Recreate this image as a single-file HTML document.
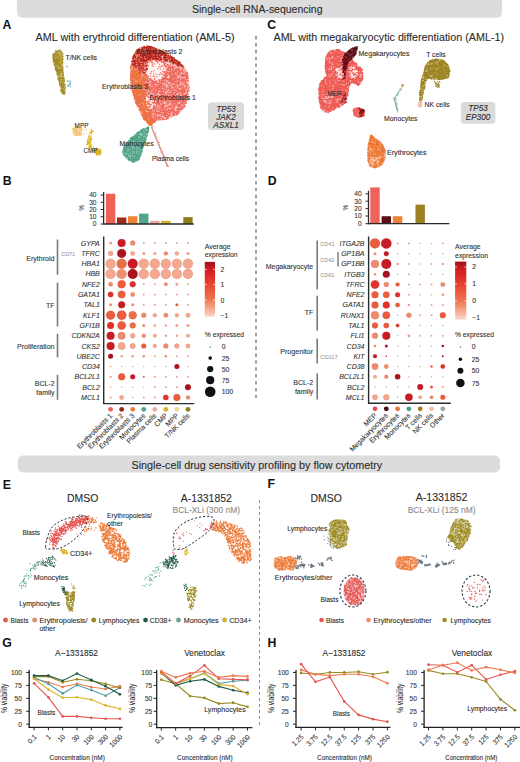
<!DOCTYPE html><html><head><meta charset="utf-8"><title>Figure</title><style>html,body{margin:0;padding:0;background:#fff;width:520px;height:762px;overflow:hidden}svg{display:block}text{font-family:"Liberation Sans",sans-serif}</style></head><body><svg width="520" height="762" viewBox="0 0 520 762" font-family='"Liberation Sans", sans-serif' fill="#2b2b2b"><rect x="0.00" y="0.00" width="520.00" height="762.00" fill="#ffffff" /><rect x="17.00" y="-6.00" width="485.00" height="23.80" fill="#dcdcdc" rx="5" /><text x="192.00" y="12.67" font-size="10.2" textLength="130.50" lengthAdjust="spacingAndGlyphs" stroke="#2b2b2b" stroke-width="0.1">Single-cell RNA-sequencing</text><rect x="18.00" y="455.50" width="482.00" height="17.00" fill="#dcdcdc" rx="5" /><text x="131.50" y="468.97" font-size="10.2" textLength="250.70" lengthAdjust="spacingAndGlyphs" stroke="#2b2b2b" stroke-width="0.1">Single-cell drug sensitivity profiling by flow cytometry</text><text x="2.40" y="29.10" font-size="12.3" fill="#111" font-weight="bold">A</text><text x="267.20" y="28.90" font-size="12.3" fill="#111" font-weight="bold">C</text><text x="2.80" y="185.10" font-size="12.3" fill="#111" font-weight="bold">B</text><text x="267.80" y="185.10" font-size="12.3" fill="#111" font-weight="bold">D</text><text x="2.80" y="488.80" font-size="12.3" fill="#111" font-weight="bold">E</text><text x="267.60" y="488.10" font-size="12.3" fill="#111" font-weight="bold">F</text><text x="2.20" y="646.90" font-size="12.3" fill="#111" font-weight="bold">G</text><text x="267.40" y="646.80" font-size="12.3" fill="#111" font-weight="bold">H</text><line x1="256.00" y1="36.00" x2="256.00" y2="398.00" stroke="#9a9a9a" stroke-width="1.8" stroke-dasharray="3.5 3.4"/><line x1="259.50" y1="500.00" x2="259.50" y2="727.00" stroke="#8a8a8a" stroke-width="1" stroke-dasharray="3 3"/><text x="35.60" y="41.22" font-size="10.6" textLength="199.00" lengthAdjust="spacingAndGlyphs" stroke="#2b2b2b" stroke-width="0.1">AML with erythroid differentiation (AML-5)</text><text x="273.50" y="41.02" font-size="10.6" textLength="230.50" lengthAdjust="spacingAndGlyphs" stroke="#2b2b2b" stroke-width="0.1">AML with megakaryocytic differentiation (AML-1)</text><path d="M60.0 49.5C61.3 50.0 63.0 51.9 63.5 54.0C64.0 56.1 63.0 59.0 63.0 62.0C63.0 65.0 63.2 68.7 63.5 72.0C63.8 75.3 64.6 79.0 65.0 82.0C65.4 85.0 66.1 87.9 66.0 90.0C65.9 92.1 65.2 94.0 64.5 94.5C63.8 95.0 62.5 95.1 61.5 93.0C60.5 90.9 59.5 85.8 58.5 82.0C57.5 78.2 56.4 73.5 55.5 70.0C54.6 66.5 53.5 63.6 53.0 61.0C52.5 58.4 52.1 56.2 52.5 54.5C52.9 52.8 54.2 51.8 55.5 51.0C56.8 50.2 58.7 49.0 60.0 49.5Z" fill="#9d851c" opacity="0.4"/><path d="M56.9 56.3h0M61.3 52.8h0M59.7 66.0h0M53.4 53.6h0M54.2 59.5h0M60.3 67.4h0M54.4 54.8h0M61.1 66.3h0M59.9 52.3h0M53.3 58.8h0M61.7 68.7h0M58.6 63.0h0M63.2 81.0h0M62.3 62.5h0M62.8 75.3h0M61.9 76.2h0M60.3 70.0h0M63.8 92.0h0M58.9 79.4h0M54.8 54.8h0M54.2 60.6h0M63.6 88.4h0M56.3 68.2h0M54.9 59.9h0M60.5 61.3h0M57.5 75.0h0M59.5 77.3h0M61.6 51.9h0M64.6 84.6h0M64.3 85.4h0M57.8 67.5h0M55.3 56.8h0M57.1 51.9h0M60.8 56.2h0M55.9 65.1h0M57.4 55.0h0M64.0 94.2h0M58.8 71.3h0M53.7 54.1h0M57.1 61.4h0M59.6 56.1h0M59.8 50.7h0M64.2 80.8h0M56.0 66.0h0M59.7 84.6h0M57.0 59.5h0M63.5 93.8h0M64.0 85.8h0M63.5 82.8h0M57.3 50.8h0M55.5 59.7h0M55.2 58.7h0M60.9 90.0h0M61.3 85.5h0M64.8 84.7h0M62.6 71.0h0M62.3 57.2h0M54.2 56.3h0M64.7 85.8h0M57.2 74.2h0M55.9 62.7h0M56.0 68.4h0M57.3 70.1h0M59.3 73.4h0M59.6 50.3h0M58.4 57.7h0M62.3 74.5h0M56.9 72.8h0M60.0 84.8h0M55.9 62.0h0M62.9 72.3h0M60.1 83.7h0M60.8 72.2h0M59.4 80.7h0M58.6 73.5h0M61.9 88.9h0M53.5 60.3h0M63.1 89.9h0M61.4 55.9h0M64.4 93.0h0M57.9 71.4h0M59.5 64.8h0M55.1 63.8h0M60.0 69.3h0M60.9 72.6h0M63.1 93.2h0M53.9 61.5h0M56.2 55.3h0M60.2 81.0h0M61.8 68.6h0M61.1 85.6h0M58.6 64.8h0M56.1 55.3h0M59.6 60.2h0M54.0 56.8h0M53.2 58.6h0M56.7 63.2h0M62.8 62.5h0M59.3 57.5h0M62.4 74.3h0M57.8 72.3h0M62.0 78.1h0M58.0 65.1h0M53.2 55.3h0M56.0 56.8h0M64.3 79.7h0M56.3 60.4h0M56.5 70.2h0M56.7 65.5h0M58.9 72.1h0M56.6 60.0h0M60.4 73.3h0M62.6 79.1h0M62.2 89.1h0M57.8 64.2h0M62.3 78.4h0M62.4 86.0h0M63.4 86.7h0M61.7 80.7h0M60.0 77.7h0M61.0 80.1h0M63.3 83.2h0M59.3 73.6h0M61.4 52.5h0M62.4 60.8h0M53.5 61.5h0M62.3 58.7h0M62.5 93.4h0M59.2 66.7h0M59.0 80.3h0M62.9 77.3h0M61.2 53.0h0M54.5 60.9h0M62.5 63.2h0M60.2 50.1h0M53.3 61.6h0M61.6 80.6h0M61.6 62.6h0M59.5 70.4h0M58.8 54.8h0M63.6 93.1h0M58.6 61.6h0M64.5 81.2h0M59.1 50.6h0M58.6 63.1h0M54.4 65.0h0M57.5 67.2h0M57.4 68.8h0M56.2 51.7h0M55.9 61.5h0M59.4 58.0h0M64.4 86.0h0M61.0 90.6h0M62.4 69.8h0M62.7 78.5h0M56.4 51.7h0M58.9 65.0h0M61.4 63.0h0M60.0 67.2h0M54.8 56.8h0M59.2 59.4h0M58.6 55.8h0M55.1 53.6h0M57.1 53.6h0M55.7 61.1h0M62.6 68.1h0M58.1 73.1h0M57.6 64.7h0M53.3 62.0h0M59.3 77.8h0M56.2 60.7h0M57.9 69.6h0M65.4 87.7h0M63.6 88.0h0M54.0 56.4h0M59.6 80.2h0M61.2 83.9h0M58.7 74.3h0M61.2 63.2h0M54.2 60.8h0M61.1 80.9h0M59.6 75.7h0M57.7 59.6h0M56.6 70.2h0M55.7 60.6h0M59.2 79.9h0M58.2 61.1h0M61.5 91.1h0M55.6 51.0h0M57.1 68.4h0M61.7 58.4h0M63.3 82.8h0M59.3 58.7h0M59.2 57.9h0M55.5 68.3h0M61.5 92.2h0M64.6 89.3h0M61.5 66.5h0M57.5 64.4h0M56.3 65.3h0M55.1 65.9h0M62.6 89.9h0M57.1 61.8h0M56.8 61.9h0M57.7 60.8h0M58.3 71.7h0M63.3 82.7h0M63.6 84.3h0M60.7 64.3h0M56.8 65.8h0M55.8 52.4h0M64.4 94.0h0M56.1 53.3h0M62.1 69.6h0M55.7 68.3h0M60.9 79.8h0M62.6 87.6h0M61.5 55.0h0M60.2 66.3h0M62.5 58.5h0M55.8 60.5h0M60.3 64.2h0M59.3 59.9h0M63.4 78.9h0M63.8 90.6h0M54.1 58.0h0M60.5 77.4h0M55.4 66.1h0M54.4 58.7h0M61.3 58.7h0M61.7 57.8h0M56.7 58.7h0M63.2 74.2h0M53.4 54.1h0M57.8 74.3h0M61.1 53.6h0M58.0 62.2h0M57.3 68.2h0M57.4 58.4h0M62.3 58.7h0M58.7 56.8h0M61.1 90.4h0M57.5 72.2h0M54.5 62.2h0M63.4 93.0h0M55.2 55.2h0M59.0 51.9h0M63.1 59.5h0M55.4 67.5h0M59.5 66.8h0M54.2 60.6h0M62.3 89.9h0M60.6 74.3h0M61.0 63.3h0M58.2 75.7h0M58.2 79.1h0M58.5 69.2h0M59.1 60.1h0M62.8 84.6h0M58.7 57.6h0M58.9 54.3h0M59.4 51.3h0M61.1 53.2h0M62.4 84.5h0M59.4 51.9h0M59.3 66.5h0M62.4 86.2h0M63.1 91.4h0M62.7 56.6h0M55.3 61.3h0M59.3 63.9h0M53.0 57.7h0M61.7 89.8h0M61.1 65.7h0M61.0 67.2h0M58.5 57.5h0M60.4 79.4h0M53.0 56.2h0M60.8 69.0h0M54.3 59.7h0M60.5 58.7h0M60.9 70.9h0M55.8 56.2h0M64.3 84.7h0M57.9 61.4h0M60.1 65.3h0M61.2 69.5h0M58.0 60.2h0M59.3 78.4h0M56.7 63.0h0M63.1 81.7h0M62.6 70.4h0M62.5 69.9h0M55.6 54.2h0M55.6 51.2h0M61.9 87.5h0M62.1 61.5h0M60.0 69.1h0M63.1 73.0h0M56.0 60.1h0M62.5 92.0h0M62.6 64.2h0M61.0 80.7h0M61.9 88.1h0M60.2 63.3h0M57.2 55.9h0M61.9 78.0h0M61.9 82.7h0M63.6 89.6h0M64.8 92.0h0M53.9 58.8h0M63.9 86.0h0M61.1 86.6h0M61.0 62.4h0M53.8 53.9h0M62.7 58.7h0M56.8 68.6h0M57.5 63.9h0M64.0 77.3h0M59.8 59.2h0M62.8 93.5h0M56.3 59.2h0M61.9 71.9h0M61.9 84.9h0M61.0 65.5h0M57.9 67.3h0M55.3 61.3h0M55.7 70.2h0M59.7 83.5h0M62.7 78.6h0M57.2 64.2h0M61.4 82.9h0M62.9 75.6h0M55.1 63.1h0M62.0 87.5h0M54.6 56.5h0M55.8 64.2h0M59.5 56.7h0M56.9 58.0h0M62.4 69.1h0M53.9 58.8h0M57.7 51.0h0M61.9 72.0h0M61.0 70.3h0M60.2 83.2h0M58.2 59.8h0M62.2 89.1h0M62.9 81.0h0M64.0 80.1h0M61.2 69.9h0M63.1 81.6h0M61.0 60.8h0M58.2 70.0h0M60.9 67.9h0M61.6 91.4h0M63.0 67.0h0M59.8 81.8h0M59.4 78.3h0M57.3 52.0h0M56.2 67.5h0M57.3 61.4h0M57.8 59.0h0M63.4 78.0h0M58.8 74.8h0M63.6 86.2h0M58.8 62.7h0M59.9 55.1h0M57.6 60.9h0M58.3 57.9h0M56.3 60.5h0M56.6 71.1h0M58.3 78.2h0M61.4 65.8h0M65.0 88.0h0M64.7 84.8h0M61.4 60.8h0M53.9 55.9h0M57.2 56.4h0M64.7 85.1h0M60.7 84.7h0M61.5 89.7h0M63.1 87.2h0M59.7 82.9h0M60.0 61.4h0M55.7 55.8h0M59.2 52.1h0M58.8 56.0h0M59.1 71.9h0M58.8 74.8h0M61.5 87.3h0M57.6 68.3h0M61.1 78.1h0M61.7 91.4h0M59.4 71.3h0M62.2 77.6h0M57.4 70.9h0M59.6 84.2h0M55.3 69.1h0M58.2 74.4h0M59.3 61.7h0M61.3 85.1h0M57.0 63.8h0M61.1 84.8h0M61.4 85.0h0M60.8 77.7h0M61.9 76.3h0M61.7 59.1h0M61.5 70.1h0M62.8 54.1h0M63.0 90.6h0M61.4 66.1h0M63.6 84.9h0M60.1 61.1h0M56.6 68.5h0M56.8 68.9h0M61.2 91.5h0M53.0 54.8h0M63.4 75.4h0M58.1 54.1h0M61.2 59.1h0" stroke="#9d851c" stroke-width="1.3" stroke-linecap="round" fill="none"/><path d="M62.2 60.4h0M62.4 57.9h0M62.1 88.0h0M62.4 53.3h0M61.0 81.4h0M59.1 52.2h0M57.5 75.4h0M58.4 80.0h0M61.0 68.3h0M65.3 84.8h0M60.2 62.7h0M62.0 86.7h0M60.6 63.4h0M58.2 75.9h0M63.5 89.4h0M63.5 88.5h0M60.2 61.8h0M64.0 85.8h0M61.7 90.6h0M57.2 53.3h0M60.0 85.4h0M60.7 80.0h0M58.8 58.8h0M63.2 70.2h0M62.9 60.0h0M58.9 76.0h0M55.1 58.2h0M57.4 74.9h0M57.9 72.8h0M63.1 56.5h0M60.6 65.0h0M59.5 50.4h0M60.2 61.3h0M63.0 68.7h0M63.6 92.9h0M55.9 51.2h0M55.2 57.6h0M60.6 67.4h0M61.5 67.2h0M58.6 56.7h0M55.5 51.2h0M56.0 65.3h0M64.7 90.2h0M63.1 81.4h0M53.3 56.0h0M62.7 91.8h0M61.6 62.9h0M60.5 83.6h0M53.9 64.1h0M56.0 55.1h0M59.0 57.1h0M55.7 55.9h0M62.2 58.3h0M64.2 89.5h0M63.9 77.8h0M58.6 64.8h0M61.0 55.9h0M55.5 52.1h0M62.1 74.4h0M56.1 68.0h0M54.6 61.7h0M61.5 59.0h0M58.9 62.4h0M56.0 58.6h0M53.8 62.5h0M62.3 62.7h0M60.2 55.7h0M62.1 58.4h0M53.6 53.4h0M60.7 71.8h0" stroke="#c9ac38" stroke-width="1.1" stroke-linecap="round" fill="none"/><path d="M68.1 81.6h0M69.4 85.7h0M70.2 84.7h0M67.8 80.5h0M69.9 83.3h0M69.9 80.4h0M70.2 82.7h0M70.4 86.9h0M70.6 83.8h0M70.5 82.1h0M67.7 86.7h0M68.5 81.3h0M68.5 84.8h0M68.8 84.1h0M67.5 85.7h0M70.3 86.9h0M68.3 85.7h0M68.5 86.0h0M69.1 84.2h0M70.9 81.8h0M67.7 80.8h0M68.0 86.5h0M67.1 80.8h0M69.8 81.6h0M69.3 84.2h0" stroke="#7fb3c8" stroke-width="1.1" stroke-linecap="round" fill="none"/><circle cx="67.00" cy="66.50" r="1.20" fill="#f0c8b0" /><path d="M141.0 47.0C143.3 46.2 146.8 45.5 150.0 46.0C153.2 46.5 156.5 48.3 160.0 50.0C163.5 51.7 167.5 53.8 171.0 56.0C174.5 58.2 178.2 60.3 181.0 63.0C183.8 65.7 186.1 68.3 187.5 72.0C188.9 75.7 189.2 81.0 189.5 85.0C189.8 89.0 189.8 92.3 189.0 96.0C188.2 99.7 187.0 103.8 185.0 107.0C183.0 110.2 180.2 112.9 177.0 115.0C173.8 117.1 169.3 118.5 166.0 119.5C162.7 120.5 159.5 120.0 157.0 121.0C154.5 122.0 152.5 125.0 151.0 125.5C149.5 126.0 149.2 124.9 148.0 124.0C146.8 123.1 145.4 122.0 144.0 120.0C142.6 118.0 141.1 115.3 139.5 112.0C137.9 108.7 135.8 103.7 134.5 100.0C133.2 96.3 132.2 93.3 131.5 90.0C130.8 86.7 130.7 83.8 130.5 80.0C130.3 76.2 130.2 70.7 130.5 67.0C130.8 63.3 131.1 60.7 132.0 58.0C132.9 55.3 134.5 52.8 136.0 51.0C137.5 49.2 138.7 47.8 141.0 47.0Z" fill="#ef6458" opacity="0.33"/><path d="M146.0 64.0C147.2 61.7 151.2 61.2 154.0 61.0C156.8 60.8 161.0 61.5 163.0 63.0C165.0 64.5 166.2 67.3 166.0 70.0C165.8 72.7 164.2 77.2 162.0 79.0C159.8 80.8 155.5 81.7 153.0 81.0C150.5 80.3 148.2 77.8 147.0 75.0C145.8 72.2 144.8 66.3 146.0 64.0Z" fill="#ffffff" opacity="0.75"/><path d="M145.0 95.0C145.8 92.8 149.5 93.0 151.0 94.0C152.5 95.0 153.8 98.5 154.0 101.0C154.2 103.5 153.3 108.0 152.0 109.0C150.7 110.0 147.2 109.3 146.0 107.0C144.8 104.7 144.2 97.2 145.0 95.0Z" fill="#ffffff" opacity="0.55"/><path d="M181.8 103.0h0M159.6 85.8h0M147.0 55.7h0M154.4 56.9h0M165.4 114.5h0M139.2 91.5h0M174.5 59.1h0M176.3 72.9h0M144.7 72.6h0M178.6 113.4h0M133.7 87.1h0M145.2 79.6h0M167.8 75.0h0M161.8 51.5h0M156.0 86.1h0M185.8 96.3h0M168.4 67.1h0M170.5 67.7h0M162.5 119.5h0M167.2 65.9h0M161.2 80.5h0M148.5 97.5h0M162.0 57.8h0M137.8 56.4h0M147.8 78.3h0M147.5 65.4h0M162.7 112.8h0M166.5 91.3h0M157.7 89.6h0M166.7 83.3h0M131.2 74.0h0M181.4 65.0h0M163.3 85.1h0M147.9 107.4h0M156.5 50.9h0M153.4 81.0h0M174.1 58.3h0M166.9 113.6h0M179.0 87.2h0M174.1 105.1h0M175.3 83.8h0M176.8 102.3h0M175.7 92.6h0M164.2 79.2h0M166.3 76.2h0M157.2 82.4h0M173.2 69.3h0M153.6 90.2h0M180.6 85.7h0M156.7 60.6h0M148.4 57.5h0M164.5 92.2h0M149.6 113.0h0M142.6 79.9h0M133.3 90.9h0M159.8 119.2h0M176.1 88.8h0M189.4 87.1h0M161.0 100.5h0M151.2 121.4h0M170.4 87.8h0M136.3 75.8h0M154.2 90.6h0M164.4 115.9h0M187.4 84.7h0M156.5 95.7h0M161.8 110.9h0M140.6 71.3h0M160.7 54.8h0M183.3 100.8h0M182.9 79.5h0M139.7 69.0h0M160.7 86.1h0M141.6 60.5h0M167.7 93.9h0M151.3 125.0h0M154.8 108.6h0M148.6 100.9h0M148.5 113.0h0M165.1 99.1h0M142.1 85.6h0M164.4 78.7h0M137.7 58.5h0M136.4 59.6h0M161.3 111.4h0M166.7 110.1h0M176.0 71.7h0M172.7 74.1h0M140.5 67.2h0M164.9 73.7h0M157.0 76.7h0M183.0 92.3h0M187.1 81.0h0M167.1 65.8h0M180.9 71.0h0M148.4 93.9h0M187.1 85.4h0M153.5 103.1h0M143.6 70.6h0M182.1 84.5h0M177.3 65.3h0M151.6 60.8h0M163.6 55.1h0M134.4 55.8h0M179.2 73.9h0M145.0 61.2h0M147.2 64.9h0M169.7 73.1h0M139.7 102.1h0M136.0 67.4h0M156.7 112.5h0M186.6 86.1h0M143.9 82.0h0M138.2 102.2h0M145.9 117.5h0M165.2 75.3h0M145.0 94.4h0M143.0 115.4h0M137.7 86.8h0M153.2 98.3h0M135.6 60.1h0M180.7 71.5h0M148.0 51.2h0M172.8 68.4h0M154.3 118.3h0M146.8 48.4h0M170.6 98.8h0M151.3 96.0h0M173.8 102.7h0M140.1 61.7h0M148.4 76.3h0M148.8 96.7h0M180.0 91.3h0M172.8 66.2h0M170.9 73.7h0M176.3 68.8h0M144.9 54.8h0M171.5 77.3h0M174.6 111.9h0M147.1 53.1h0M186.3 79.7h0M185.4 101.0h0M174.1 112.0h0M167.6 82.0h0M155.8 86.7h0M172.0 110.1h0M145.9 89.4h0M187.7 96.7h0M162.6 65.9h0M148.8 56.9h0M172.2 99.3h0M144.5 65.2h0M160.9 81.4h0M185.7 73.9h0M148.2 116.3h0M138.9 90.8h0M150.2 110.8h0M162.8 106.5h0M140.5 99.0h0M165.8 82.7h0M175.7 112.1h0M137.3 69.0h0M151.8 62.4h0M147.1 61.7h0M171.9 81.6h0M137.2 71.8h0M188.3 90.8h0M136.9 84.9h0M156.1 61.1h0M184.8 97.2h0M169.0 66.0h0M145.0 57.0h0M180.0 69.6h0M141.5 96.7h0M140.4 108.4h0M179.5 105.0h0M149.8 60.7h0M179.2 71.5h0M152.2 89.8h0M152.3 112.1h0M144.6 49.3h0M163.9 95.9h0M178.9 102.1h0M159.7 85.7h0M139.8 69.8h0M171.1 59.0h0M156.4 61.2h0M176.9 79.8h0M169.8 111.7h0M147.9 81.2h0M135.5 71.7h0M167.1 110.5h0M166.4 69.6h0M158.9 97.5h0M132.1 61.0h0M170.5 81.6h0M135.5 98.5h0M152.4 92.2h0M155.1 88.1h0M163.8 77.5h0M137.2 60.3h0M183.0 89.6h0M145.5 53.5h0M137.2 86.8h0M154.6 51.8h0M156.4 114.6h0M163.0 102.8h0M153.6 59.6h0M187.1 90.8h0M144.5 75.6h0M143.1 69.8h0M172.2 79.9h0M182.9 95.4h0M182.0 90.8h0M140.4 105.3h0M166.1 53.9h0M162.9 109.8h0M170.3 66.2h0M141.9 81.5h0M180.0 92.2h0M141.4 90.1h0M162.3 100.8h0M131.3 73.2h0M139.4 85.9h0M182.0 109.6h0M132.6 60.5h0M178.8 100.0h0M153.7 83.8h0M153.7 115.4h0M140.5 74.7h0M158.1 91.9h0M153.4 74.1h0M164.7 72.5h0M133.2 57.6h0M170.1 67.7h0M146.6 85.8h0M146.0 91.2h0M163.6 107.3h0M182.0 107.6h0M167.9 96.5h0M170.7 70.2h0M175.5 104.8h0M160.5 96.5h0M151.2 89.8h0M154.5 50.8h0M144.4 73.8h0M181.9 82.0h0M156.8 91.2h0M148.3 59.4h0M134.4 70.0h0M185.8 73.1h0M184.9 92.4h0M135.2 60.2h0M159.1 117.5h0M146.8 66.5h0M140.2 67.3h0M172.1 63.4h0M142.3 93.9h0M181.5 97.5h0M142.1 104.3h0M187.3 93.8h0M182.2 73.1h0M138.6 61.0h0M162.2 115.6h0M143.0 72.0h0M174.7 97.6h0M154.4 100.0h0M150.4 50.6h0M154.9 49.6h0M167.5 72.6h0M159.7 93.5h0M145.7 82.8h0M133.8 94.8h0M173.2 72.2h0M136.0 58.4h0M138.9 107.0h0M155.5 88.8h0M165.2 90.1h0M169.3 93.8h0M150.0 104.9h0M172.5 106.7h0M176.3 70.6h0M131.0 83.8h0M169.2 107.5h0M151.9 124.7h0M144.0 106.1h0M138.4 50.8h0M160.1 90.1h0M152.1 57.9h0M141.0 104.7h0M159.9 96.6h0M150.8 109.6h0M136.9 104.3h0M134.4 97.3h0M154.2 114.7h0M134.0 90.9h0M154.7 119.1h0M186.3 95.9h0M143.7 66.0h0M146.0 80.5h0M144.2 62.2h0M175.3 97.1h0M143.3 91.3h0M181.8 67.2h0M174.8 111.4h0M170.8 93.5h0M157.2 92.0h0M182.6 74.6h0M176.5 114.6h0M141.3 114.7h0M140.5 100.3h0M135.8 73.0h0M184.7 103.0h0M132.4 64.7h0M177.2 100.8h0M132.7 86.1h0M144.2 80.2h0M159.3 56.8h0M155.8 60.2h0M170.9 57.8h0M174.1 85.8h0M137.1 74.1h0M159.8 119.0h0M182.6 104.1h0M146.6 60.1h0M146.1 51.5h0M133.0 86.4h0M154.6 90.3h0M151.9 46.8h0M171.1 97.9h0M162.6 89.6h0M182.1 103.1h0M187.9 76.8h0M145.5 94.6h0M149.1 123.2h0M180.9 86.6h0M144.3 96.0h0M174.4 76.1h0M172.5 77.3h0M161.5 94.7h0M170.5 71.6h0M167.6 89.2h0M143.7 94.7h0M146.1 118.2h0M158.4 103.4h0M161.3 83.9h0M143.6 57.3h0M185.2 88.0h0M161.4 87.9h0M178.5 65.0h0M179.0 82.6h0M168.3 111.8h0M133.1 76.3h0M179.6 111.0h0M137.8 58.2h0M145.3 54.2h0M151.5 109.9h0M161.3 82.0h0M135.7 77.4h0M157.0 84.0h0M177.6 106.3h0M139.3 100.1h0M152.1 87.4h0M144.5 75.5h0M150.6 76.3h0M142.4 91.4h0M133.9 60.2h0M172.9 67.8h0M135.9 96.6h0M155.5 109.0h0M167.0 75.5h0M133.1 81.2h0M152.2 102.6h0M154.6 97.5h0M178.3 74.0h0M153.2 92.0h0M152.9 87.8h0M159.8 117.7h0M165.5 82.8h0M157.8 112.7h0M155.0 83.7h0M183.0 81.0h0M159.5 86.7h0M179.2 99.3h0M174.2 77.9h0M163.2 107.2h0M143.5 52.1h0M170.7 102.5h0M159.0 50.4h0M171.3 79.2h0M139.1 72.6h0M146.0 70.9h0M145.5 114.3h0M163.3 86.6h0M155.3 50.1h0M148.5 114.9h0M177.8 114.1h0M145.7 62.1h0M133.6 88.7h0M152.6 82.9h0M159.4 92.4h0M152.1 109.7h0M149.0 88.4h0M154.6 90.9h0M165.4 82.1h0M185.7 81.4h0M156.1 96.8h0M134.7 93.4h0M163.6 109.7h0M159.9 99.6h0M170.3 69.4h0M143.0 112.6h0M142.7 54.0h0M186.6 79.0h0M169.4 66.5h0M183.9 100.5h0M139.6 50.5h0M179.8 69.3h0M144.2 92.3h0M149.3 90.6h0M149.6 112.9h0M139.5 109.6h0M132.4 76.2h0M136.0 82.9h0M173.5 80.2h0M185.9 87.8h0M159.8 119.9h0M136.0 84.5h0M181.5 93.5h0M162.4 53.0h0M138.7 67.6h0M143.9 119.5h0M187.6 73.4h0M186.2 98.2h0M133.5 72.5h0M141.1 108.6h0M148.1 51.5h0M163.5 53.6h0M163.0 108.6h0M165.6 82.7h0M132.5 86.8h0M136.2 97.4h0M138.3 92.0h0M140.2 59.5h0M186.1 72.4h0M158.8 57.8h0M137.4 85.4h0M162.1 55.3h0M158.1 59.0h0M162.1 86.3h0M142.5 56.1h0M144.7 115.3h0M160.1 116.8h0M159.3 108.9h0M164.2 100.8h0M144.0 105.6h0M139.6 67.0h0M132.3 77.3h0M135.5 92.0h0M144.3 93.3h0M176.8 102.5h0M134.2 65.5h0M171.3 110.8h0M150.7 110.4h0M157.7 119.2h0M154.8 78.4h0M144.9 104.3h0M170.5 58.0h0M150.8 57.2h0M142.2 63.5h0M150.0 123.6h0M158.8 85.5h0M174.8 96.6h0M142.2 95.7h0M180.4 108.5h0M136.0 103.0h0M151.1 58.9h0M187.5 99.5h0M183.9 105.2h0M179.6 109.8h0M165.3 80.6h0M179.2 108.4h0M181.9 69.8h0M187.2 88.3h0M145.4 112.7h0M144.2 61.7h0M184.1 100.5h0M172.4 77.2h0M176.7 109.1h0M179.2 78.3h0M135.6 97.9h0M179.8 73.0h0M165.6 112.5h0M155.2 94.1h0M151.4 113.1h0M167.0 69.2h0M135.7 67.5h0M171.9 81.1h0M169.5 110.2h0M137.6 100.3h0M141.4 67.6h0M187.0 74.8h0M143.7 116.7h0M166.5 117.1h0M153.8 85.7h0M186.9 86.3h0M157.3 110.3h0M145.3 74.0h0M136.5 89.9h0M181.4 86.9h0M152.7 119.8h0M183.2 99.0h0M135.0 95.6h0M152.7 87.5h0M170.8 90.3h0M156.9 105.7h0M183.1 103.9h0M149.7 56.9h0M139.0 92.7h0M153.6 105.4h0M168.3 68.3h0M175.5 69.1h0M162.6 79.4h0M188.2 97.6h0M178.0 99.8h0M152.9 122.6h0M172.4 100.9h0M146.9 58.9h0M164.4 111.7h0M177.3 73.6h0M138.8 87.0h0M174.1 59.6h0M148.9 50.3h0M148.1 76.4h0M141.5 70.6h0M149.4 80.8h0M136.9 66.7h0M146.2 62.2h0M184.1 81.8h0M179.9 96.7h0M176.4 71.0h0M139.5 106.2h0M158.2 90.4h0M170.1 105.8h0M146.7 74.8h0M184.6 88.1h0M147.5 96.1h0M179.3 91.0h0M151.4 120.7h0M146.2 65.3h0M162.9 105.9h0M170.5 78.8h0M167.9 101.0h0M176.2 77.4h0M151.1 60.8h0M181.9 88.3h0M161.3 99.2h0M150.5 51.2h0M154.9 85.9h0M180.8 99.1h0M164.6 78.1h0M177.0 112.7h0M139.4 99.4h0M175.0 85.8h0M174.3 111.3h0M168.8 115.9h0M138.2 102.0h0M172.0 94.7h0M146.7 51.4h0M166.1 111.5h0M146.6 62.9h0M143.7 53.5h0M177.8 74.6h0M180.0 71.8h0M138.7 67.9h0M134.0 81.4h0M163.2 110.2h0M137.0 63.8h0M167.6 73.0h0M150.0 91.2h0M143.4 109.1h0M142.8 112.7h0M178.2 88.7h0M132.2 86.1h0M155.5 51.0h0M167.7 103.6h0M165.0 77.8h0M160.7 92.8h0M143.9 115.0h0M187.2 72.2h0M158.7 56.6h0M157.3 100.3h0M172.3 82.1h0M150.7 61.1h0M173.9 87.0h0M142.1 67.1h0M163.6 101.7h0M173.1 103.2h0M134.2 62.3h0M173.1 96.1h0M146.1 74.3h0M140.2 96.3h0M133.1 59.9h0M151.5 117.5h0M178.0 82.2h0M136.5 54.5h0M139.6 107.8h0M158.6 111.3h0M138.1 54.7h0M163.7 86.4h0M142.8 66.0h0M188.4 80.7h0M173.7 76.5h0M178.4 112.9h0M143.1 92.5h0M179.5 108.5h0M157.9 49.4h0M183.0 88.5h0M134.7 71.7h0M167.4 116.4h0M159.1 96.8h0M142.6 65.4h0M183.9 76.4h0M136.6 93.0h0M137.9 61.9h0M157.4 92.6h0M168.0 102.2h0M156.4 51.4h0M171.3 83.5h0M144.0 77.2h0M177.0 111.5h0M167.9 105.0h0M144.7 120.0h0M143.5 99.4h0M185.4 96.8h0M141.5 110.2h0M140.1 86.7h0M163.3 111.3h0M160.1 95.3h0M165.6 109.6h0M178.4 82.4h0M137.7 97.7h0M142.7 80.1h0M162.7 74.0h0M173.6 113.6h0M139.2 94.2h0M137.2 101.1h0M165.8 87.3h0M173.7 109.3h0M170.7 113.6h0M155.9 115.8h0M156.6 102.2h0M145.4 69.9h0M151.1 71.8h0M175.5 112.5h0M131.7 64.3h0M161.9 54.3h0M179.2 70.9h0M167.5 75.2h0M140.0 88.2h0M168.8 88.8h0M185.8 78.4h0M184.4 100.8h0M143.0 68.8h0M140.9 80.8h0M171.0 100.9h0M174.5 105.9h0M145.2 66.4h0M142.8 66.6h0M187.4 97.1h0M165.4 98.2h0M165.8 101.2h0M148.4 51.1h0M151.8 57.3h0M137.2 85.2h0M146.6 107.2h0M136.4 70.1h0M154.6 100.8h0M156.8 103.9h0M150.7 112.2h0M143.8 114.0h0M177.9 99.3h0M146.9 46.8h0M139.8 98.4h0M165.1 98.6h0M141.2 57.4h0M153.1 97.9h0M164.1 63.7h0M187.3 74.9h0M177.0 66.0h0M161.4 54.9h0M145.1 109.3h0M147.3 76.3h0M175.6 63.8h0M143.4 76.5h0M169.7 112.5h0M144.4 48.3h0M156.4 55.2h0M157.6 102.6h0M136.0 55.4h0M158.8 59.8h0M144.1 81.0h0M137.5 51.4h0M151.8 83.3h0M185.8 90.1h0M134.7 63.7h0M174.4 90.7h0M186.2 87.7h0M144.6 59.6h0M135.4 67.1h0M185.0 82.6h0M169.6 74.7h0M158.9 60.3h0M158.2 104.9h0M166.2 97.8h0M139.1 109.9h0M181.1 75.2h0M143.9 93.5h0M143.3 48.9h0M156.4 57.2h0M141.8 105.5h0M154.2 100.0h0M144.3 83.9h0M149.5 78.4h0M150.7 99.2h0M152.6 58.9h0M166.3 66.5h0M157.3 90.7h0M144.7 55.6h0M138.6 87.5h0M164.8 116.5h0M133.9 64.6h0M140.4 92.6h0M169.5 114.4h0M186.1 78.4h0M181.9 79.4h0M161.7 113.5h0M178.1 97.9h0M160.8 55.3h0M144.9 98.3h0M165.1 109.7h0M141.9 52.0h0M183.5 91.3h0M141.2 101.0h0M145.6 64.8h0M152.1 87.6h0M174.2 95.6h0M158.3 99.4h0M158.5 99.9h0M172.3 97.5h0M176.9 64.5h0M154.6 122.4h0M173.9 74.6h0M169.6 107.0h0M138.0 63.7h0M143.2 67.1h0M154.5 79.5h0M164.5 74.3h0M172.1 80.8h0M140.8 84.3h0M140.0 75.4h0M179.8 97.0h0M167.9 102.0h0M175.7 69.9h0M145.6 111.3h0M166.0 113.5h0M182.1 92.8h0M142.2 47.2h0M162.1 103.7h0M146.6 51.6h0M144.1 67.1h0M139.3 72.7h0M158.8 66.6h0M135.5 58.9h0M135.9 95.6h0M171.6 66.9h0M177.2 103.9h0M150.7 85.1h0M139.6 101.1h0M153.2 103.0h0M177.5 109.8h0M136.1 92.6h0M141.8 102.3h0M177.9 108.9h0M144.1 53.4h0M169.6 90.9h0M138.7 61.3h0M164.9 54.6h0M167.9 65.2h0M145.8 79.7h0M162.0 103.6h0M143.5 69.1h0M168.2 101.0h0M166.8 117.7h0M142.6 70.7h0M169.6 66.7h0M139.8 64.0h0M176.0 111.7h0M177.4 70.6h0M149.1 103.3h0M133.4 86.8h0M182.3 82.7h0M142.2 55.5h0M160.4 87.4h0M134.6 76.8h0M143.6 71.3h0M158.6 102.6h0M175.9 75.5h0M156.9 119.7h0M185.6 95.2h0M136.7 82.2h0M168.1 68.1h0M158.0 95.2h0M148.2 51.4h0M174.8 107.3h0M156.3 52.8h0M153.7 53.5h0M147.5 107.1h0M136.8 51.6h0M140.2 88.3h0M140.7 106.8h0M137.4 66.6h0M183.9 83.6h0M186.9 94.0h0M147.5 83.0h0M172.7 104.4h0M138.1 61.4h0M178.5 72.9h0M145.1 66.3h0M149.5 59.7h0M174.4 73.2h0M141.6 79.3h0M175.5 94.2h0M149.8 113.5h0M178.8 67.1h0M137.0 64.1h0M184.2 78.6h0M168.0 116.5h0M173.5 106.0h0M153.0 112.8h0M138.4 88.9h0M150.3 111.2h0M150.9 113.1h0M174.4 99.8h0M181.8 89.5h0M143.1 73.1h0M145.2 54.0h0M149.8 48.1h0M177.5 64.1h0M142.2 82.7h0M154.2 109.8h0M167.8 117.1h0M158.3 117.5h0M173.8 70.8h0M182.1 91.6h0M136.7 92.7h0M179.4 87.2h0M169.8 62.5h0M151.9 122.2h0M165.4 80.4h0M172.8 80.1h0M135.9 87.6h0M178.9 108.7h0M142.4 70.0h0M149.9 104.2h0M162.8 85.8h0M169.9 57.4h0M163.6 109.2h0M163.0 106.4h0M181.7 74.8h0M131.9 85.9h0M186.8 86.6h0M185.5 90.5h0M139.0 96.2h0M177.9 79.7h0M166.0 66.6h0M146.8 79.4h0M160.8 83.2h0M144.5 66.3h0M161.0 59.9h0M166.1 117.9h0M142.4 92.5h0M173.0 105.6h0M172.5 102.5h0M146.6 112.6h0M186.2 81.2h0M177.5 99.9h0M138.9 82.6h0M150.3 106.9h0M142.2 58.8h0M154.7 95.1h0M148.4 58.9h0M143.4 52.8h0M141.9 71.1h0M160.3 60.6h0M158.8 81.0h0M187.9 84.7h0M186.2 83.5h0M142.2 93.1h0M139.0 59.5h0M187.6 78.1h0M151.4 79.8h0M180.6 103.9h0M163.2 98.7h0M139.1 75.1h0M180.7 108.9h0M165.3 99.8h0M150.6 121.1h0M162.9 78.0h0M141.3 55.2h0M132.1 71.7h0M158.8 85.4h0M151.9 117.2h0M151.1 88.3h0M185.3 96.8h0M166.4 108.5h0M145.9 75.5h0M141.9 50.7h0M144.0 50.6h0M163.0 119.3h0M156.1 61.3h0M174.6 114.3h0M153.3 53.4h0M182.0 105.9h0M172.3 96.1h0M137.1 58.9h0M141.2 94.4h0M151.8 123.8h0M140.8 60.3h0M139.5 73.9h0M161.8 100.1h0M132.5 80.9h0M177.2 91.8h0M157.1 116.1h0M166.0 72.8h0M153.9 121.0h0M163.6 57.3h0M140.8 76.5h0M177.8 108.5h0M177.6 78.9h0M170.0 91.3h0M173.5 78.5h0M185.3 94.9h0M177.0 111.3h0M149.3 106.2h0M175.4 91.6h0M184.0 92.6h0M155.7 120.2h0M136.6 68.0h0M156.6 103.7h0M145.6 104.1h0M159.6 103.4h0M143.2 98.0h0M146.9 75.5h0M164.2 110.3h0M175.3 82.3h0M181.5 77.9h0M186.6 83.6h0M137.5 105.6h0M139.0 100.0h0M162.4 104.9h0M138.2 96.6h0M132.5 84.0h0M157.9 83.3h0M172.9 104.0h0M150.8 120.2h0M141.4 56.9h0M141.5 85.8h0M150.3 59.0h0M185.4 83.7h0M143.5 118.1h0M176.0 96.1h0M161.9 114.0h0M156.7 53.8h0M170.7 105.2h0M144.2 82.8h0M170.8 90.1h0M154.4 59.3h0M138.6 83.4h0M163.2 106.6h0M165.3 58.9h0M182.8 75.2h0M138.8 92.3h0M187.5 76.6h0M162.8 71.0h0M142.6 55.9h0M186.4 100.5h0M151.9 121.5h0M167.9 89.2h0M181.4 99.3h0M151.8 94.1h0M148.2 123.1h0M163.1 62.4h0M160.4 55.4h0M179.9 99.2h0M133.4 79.9h0M155.0 117.8h0M165.3 111.5h0M141.1 112.2h0M146.3 116.0h0M154.4 101.4h0M174.5 67.5h0M167.3 97.9h0M140.0 103.7h0M145.5 57.3h0M139.8 57.9h0M165.2 109.7h0M139.9 86.0h0M164.4 90.6h0M154.8 89.2h0M144.8 111.5h0M144.7 53.4h0M179.7 82.0h0M160.2 119.4h0M166.1 60.4h0M150.1 53.1h0M168.8 79.7h0M148.7 86.7h0M139.6 70.3h0M149.6 118.3h0M172.2 80.1h0M140.3 49.6h0M168.7 58.4h0M160.4 72.7h0M174.3 103.0h0M160.6 59.4h0M170.0 80.4h0M143.6 77.7h0M142.2 53.0h0M143.6 77.9h0M171.1 80.2h0M139.7 51.6h0M160.1 84.8h0M141.9 99.3h0M159.7 110.3h0M147.7 120.2h0M178.6 83.6h0M138.8 84.5h0M138.0 100.5h0M171.7 92.0h0M172.7 109.7h0M137.2 71.6h0M133.7 92.3h0M173.2 73.7h0M171.5 75.2h0M172.5 68.0h0M188.2 80.8h0M173.3 114.7h0M168.1 58.4h0M182.0 103.0h0M137.3 76.3h0M133.0 74.1h0M149.3 118.3h0M176.9 114.8h0M163.9 61.6h0M161.1 84.4h0M165.2 63.7h0M146.9 86.0h0M141.4 88.3h0M176.6 87.1h0M145.2 119.6h0M154.2 102.3h0M178.8 84.4h0M173.6 62.9h0M175.0 104.3h0M142.7 64.6h0M176.8 98.0h0M170.4 96.5h0M171.4 67.7h0M134.1 74.7h0M161.5 99.3h0M144.0 72.8h0M174.0 84.8h0M139.8 68.3h0M150.1 113.7h0M183.1 80.0h0M141.8 107.4h0M152.6 55.5h0M183.8 80.9h0M154.0 93.3h0M145.6 47.6h0M153.5 76.2h0M170.6 95.7h0M141.6 47.6h0M170.3 94.6h0M147.8 61.9h0M144.3 92.6h0M164.4 71.6h0M160.6 55.7h0M143.1 70.8h0M144.7 114.1h0M144.9 92.7h0M152.8 49.0h0M177.5 110.4h0M146.4 107.7h0M133.7 76.2h0M143.9 95.7h0M176.4 113.0h0M136.7 66.7h0M174.9 81.0h0M157.7 62.9h0M136.0 53.2h0M152.3 80.4h0M140.5 86.6h0M142.9 115.8h0M163.7 68.6h0M186.9 75.4h0M137.2 98.2h0M180.4 72.9h0M155.1 122.1h0M169.6 98.9h0M177.1 82.4h0M179.6 75.8h0M170.8 99.7h0M159.8 83.6h0M142.2 59.8h0M168.6 101.2h0M145.8 97.2h0M149.0 89.8h0M138.4 84.4h0M166.9 56.7h0M166.9 108.0h0M164.2 63.7h0M156.6 112.0h0M163.9 105.9h0M152.0 81.7h0M141.0 111.8h0M183.0 81.0h0M179.5 100.7h0M161.9 114.6h0M150.5 48.1h0M150.4 51.3h0M134.8 95.6h0M137.6 58.7h0M177.5 68.3h0M173.7 64.1h0M185.1 89.9h0M166.6 114.5h0M139.0 101.6h0M157.9 108.5h0M157.4 61.6h0M174.4 112.1h0M145.1 101.3h0M186.8 75.3h0M160.6 85.9h0M174.5 115.6h0M173.7 98.3h0M154.5 87.7h0M158.3 86.3h0M176.9 61.7h0M173.1 74.1h0M152.7 92.0h0M143.3 80.8h0M145.5 112.0h0M163.1 93.8h0M167.4 56.0h0M176.4 69.2h0M181.4 108.5h0M170.5 110.8h0M156.3 99.5h0M136.4 78.7h0M160.6 57.9h0M143.6 114.9h0M153.4 57.8h0M141.3 91.9h0M141.7 83.8h0M162.2 81.0h0M160.2 112.5h0M142.3 49.0h0M175.8 91.3h0M148.6 103.8h0M164.3 97.5h0M152.4 84.2h0M134.3 97.1h0M171.3 58.2h0M163.0 104.3h0M145.2 52.7h0M145.4 52.9h0M149.9 54.6h0M171.6 108.0h0M154.8 120.0h0M153.7 70.8h0M186.4 86.7h0M156.5 80.7h0M175.8 112.1h0M158.6 60.2h0M154.5 116.9h0M154.6 98.5h0M163.5 82.7h0M164.4 65.5h0M163.4 114.7h0M135.2 75.3h0M167.8 113.0h0M158.2 56.4h0M142.6 97.1h0M169.2 98.3h0M131.8 81.1h0M149.7 93.5h0M150.4 56.2h0M170.1 68.8h0M177.1 70.3h0M162.7 110.2h0M137.3 104.1h0M152.3 60.3h0M153.8 85.9h0M155.0 55.7h0M168.6 112.2h0M153.7 106.0h0M146.9 54.7h0M133.0 81.7h0M156.5 106.6h0M146.8 58.1h0M161.1 79.8h0M144.5 90.6h0M155.1 48.7h0M156.7 118.8h0M148.4 92.6h0M148.3 102.9h0M152.7 56.1h0M139.4 63.7h0M135.3 53.2h0M142.0 87.2h0M186.2 78.5h0M165.8 114.6h0M136.4 51.1h0M171.4 92.7h0M173.0 68.1h0M159.8 60.8h0M159.7 64.2h0M160.5 86.1h0M173.0 75.7h0M154.8 117.0h0M178.5 94.6h0M168.7 110.4h0M163.4 52.3h0M145.8 95.0h0M157.8 102.7h0M136.2 98.5h0M136.7 83.8h0M168.8 100.6h0M133.0 61.2h0M187.1 77.1h0M174.2 97.7h0M154.2 91.3h0M160.9 60.9h0M158.0 112.7h0M144.7 105.0h0M146.3 108.6h0M177.6 113.0h0M180.3 99.2h0M140.5 58.4h0M164.0 62.9h0M150.4 54.1h0M139.6 103.0h0M143.7 113.4h0M149.9 113.5h0M131.2 80.6h0M181.3 75.8h0M144.0 66.1h0M172.4 92.3h0M187.7 75.6h0M178.3 101.3h0M162.9 110.6h0M139.6 88.9h0M146.2 77.7h0M141.8 102.3h0M164.3 107.9h0M167.6 93.6h0M152.4 54.1h0M168.6 98.7h0M156.8 82.7h0M175.3 71.3h0M137.0 95.3h0M138.5 85.2h0M150.2 121.5h0M177.3 96.2h0M140.8 52.0h0M154.9 113.6h0M176.5 92.6h0M144.5 70.2h0M150.3 47.0h0M155.5 112.5h0M179.9 92.6h0M134.4 89.1h0M152.7 85.1h0M154.4 54.1h0M173.7 109.6h0M165.8 55.2h0M165.8 115.2h0M169.7 68.0h0M164.5 76.1h0M150.1 89.2h0M185.3 91.1h0M184.4 91.0h0M157.6 89.9h0M167.3 84.0h0M167.9 88.4h0M131.3 71.5h0M168.7 109.6h0M144.5 76.3h0M143.9 102.0h0M161.7 94.1h0M149.7 92.6h0M163.5 107.5h0M146.5 85.2h0M180.1 77.6h0M162.8 119.8h0M134.3 72.2h0M139.7 56.6h0M160.4 57.4h0M178.9 111.3h0M178.3 64.2h0M176.1 96.4h0M149.8 112.3h0M184.8 70.9h0M170.8 100.4h0M180.6 91.1h0M171.6 99.5h0M175.7 70.4h0M136.3 68.4h0M176.0 83.1h0M136.8 73.7h0M135.9 99.1h0M135.4 65.6h0M169.7 115.4h0M154.6 81.7h0M132.3 73.1h0M144.8 108.7h0M172.6 108.4h0M161.9 101.6h0M138.0 76.6h0M143.1 71.9h0M147.2 114.7h0M168.2 84.2h0M152.9 119.3h0M185.9 81.7h0M163.9 114.6h0M145.6 66.6h0M136.6 85.9h0M183.1 75.9h0M137.8 96.6h0M169.4 70.5h0M158.1 118.5h0M168.3 115.4h0M178.8 75.8h0M179.4 63.0h0M174.9 83.2h0M167.9 75.1h0M136.8 51.5h0M161.1 92.4h0M165.4 89.1h0M159.6 81.5h0M188.3 90.8h0M142.7 50.3h0M139.9 73.5h0M144.4 108.0h0M156.6 88.7h0M134.4 99.1h0M171.2 76.2h0M148.3 51.3h0M163.1 98.0h0M143.7 49.5h0M174.0 95.7h0M147.0 81.4h0M144.2 60.8h0M141.2 110.8h0M157.2 102.9h0M151.0 110.1h0M165.7 98.0h0M153.7 90.7h0M170.2 88.3h0M131.3 81.3h0M181.7 108.2h0M172.9 70.0h0M144.2 102.0h0M175.4 91.6h0M132.3 89.3h0M153.4 107.2h0M149.1 62.6h0M176.8 89.8h0M175.1 84.9h0M143.4 83.5h0M169.8 106.8h0M168.1 81.2h0M173.7 99.2h0M142.7 88.5h0M165.8 103.9h0M142.2 70.7h0M150.7 53.6h0M140.7 104.2h0M137.4 105.7h0M139.2 53.7h0M145.4 86.9h0M146.4 116.3h0M174.7 101.3h0M155.9 117.4h0M148.7 47.1h0M183.6 67.6h0M143.0 55.3h0M152.2 55.5h0M141.1 65.9h0M164.6 81.5h0M148.5 87.8h0M176.2 103.6h0M150.8 119.0h0M177.2 90.7h0M182.7 94.4h0M179.7 73.9h0M159.9 98.9h0M141.8 95.8h0M141.6 102.5h0M132.9 67.8h0M137.4 57.8h0M161.7 59.9h0M167.3 114.4h0M138.0 63.3h0M175.6 83.4h0M185.5 72.9h0M154.0 122.1h0M150.8 122.8h0M176.2 105.6h0M165.9 53.9h0M176.7 103.5h0M185.6 76.6h0M177.9 83.5h0M178.4 69.9h0M159.4 52.3h0M181.2 99.8h0M135.4 102.0h0M173.4 94.2h0M156.4 93.3h0M178.6 67.9h0M132.9 56.9h0M142.9 57.6h0M183.5 98.9h0M164.9 56.4h0M154.9 121.2h0M130.7 79.3h0M180.1 104.2h0M159.6 85.1h0M139.1 86.7h0M182.2 79.4h0M168.7 91.3h0M183.0 86.7h0M143.2 47.3h0M155.2 48.8h0M184.8 84.5h0M182.3 101.5h0M173.6 106.3h0M148.3 104.0h0M163.2 93.3h0M150.8 111.5h0M137.5 62.7h0M136.8 103.5h0M174.5 97.5h0M176.5 87.0h0M163.7 119.2h0M168.7 98.2h0M165.2 85.3h0M175.2 91.5h0M138.1 79.9h0M152.4 123.3h0M173.1 77.4h0M157.0 93.0h0M152.2 65.0h0M147.4 83.0h0M149.6 50.6h0M144.7 66.3h0M171.7 109.3h0M172.7 82.5h0M139.1 50.8h0M178.2 98.9h0M158.4 116.9h0M185.5 95.0h0M136.4 92.8h0M144.0 73.2h0M173.0 72.3h0M149.8 94.2h0M137.0 78.6h0M167.3 96.7h0M150.7 48.7h0M137.8 90.6h0M140.6 70.3h0M167.0 117.6h0M146.8 108.2h0M139.7 66.8h0M156.4 118.2h0M140.3 61.3h0M138.3 63.0h0M154.3 83.8h0M153.9 107.6h0M183.8 79.8h0M188.2 87.8h0M170.7 76.3h0M146.5 56.7h0M182.7 74.6h0M171.7 82.6h0M161.6 62.4h0M140.9 72.7h0M170.7 89.2h0M156.1 51.5h0M145.8 62.8h0M179.0 89.7h0M177.0 101.5h0M182.7 98.0h0M140.2 66.5h0M161.7 111.4h0M165.1 80.2h0M174.9 73.1h0M145.6 113.4h0M137.4 97.9h0M151.5 116.7h0M148.0 54.0h0M142.2 110.1h0M188.2 97.1h0M170.7 68.4h0M146.6 52.9h0M166.6 73.8h0M141.5 80.7h0M140.2 96.0h0M169.3 86.6h0M137.0 59.8h0M144.8 86.8h0M158.6 90.0h0M158.1 49.3h0M149.3 57.4h0M166.0 108.2h0M138.1 69.4h0M180.7 100.8h0M136.9 100.6h0M177.3 78.5h0M139.7 98.4h0M149.3 56.6h0M140.2 78.0h0M138.0 76.6h0M163.0 89.9h0M154.3 109.6h0M135.7 72.2h0M184.8 106.8h0M162.1 108.6h0M164.3 55.3h0M145.6 53.7h0M182.1 71.6h0M154.5 88.8h0M136.5 102.1h0M177.4 109.3h0M182.5 71.2h0M139.1 106.5h0M171.4 75.5h0M150.8 58.2h0M179.6 82.6h0M178.4 73.0h0M149.5 86.8h0M181.3 106.4h0M148.5 52.7h0M161.7 90.0h0M162.3 78.6h0M163.4 53.2h0M138.7 99.5h0M168.3 110.1h0M144.5 107.9h0M139.5 88.2h0M161.6 117.6h0M174.6 77.6h0M176.7 100.1h0M177.6 74.9h0M182.5 100.4h0M157.1 90.7h0M178.0 88.1h0M183.4 102.8h0M159.4 113.6h0M139.3 72.8h0M172.6 111.5h0M137.8 52.1h0M156.9 52.2h0M163.5 81.3h0M148.7 93.9h0M151.0 123.6h0M137.8 73.5h0M137.9 79.6h0M143.6 47.9h0M146.6 50.5h0M163.6 93.5h0M172.6 83.5h0M157.9 68.7h0M158.0 95.0h0M141.5 114.4h0M178.7 84.8h0M140.9 67.6h0M150.4 118.2h0M187.5 92.9h0M162.5 104.3h0M136.6 75.7h0M146.1 90.6h0M151.8 91.9h0M182.2 66.4h0M155.1 121.1h0M145.5 75.2h0M164.8 64.8h0M172.3 97.9h0M151.1 57.4h0M177.7 82.5h0M185.2 88.3h0M146.7 87.2h0M170.0 113.0h0M154.6 90.4h0M162.2 91.7h0M156.4 60.7h0M154.8 93.0h0M136.0 102.7h0M138.3 66.3h0M165.8 75.0h0M131.6 80.3h0M144.5 92.7h0M136.9 63.7h0M140.1 78.0h0M171.8 71.8h0M177.5 60.7h0M136.5 95.9h0M157.2 119.0h0M170.0 75.4h0M138.1 94.6h0M175.2 83.6h0M158.4 100.5h0M166.5 79.7h0M141.5 82.9h0M162.9 117.3h0M189.2 90.3h0M185.9 80.7h0M169.0 114.9h0M142.5 73.5h0M148.6 83.9h0M174.4 96.1h0M185.4 99.2h0M132.7 80.3h0M132.1 87.8h0M154.9 122.3h0M151.6 95.3h0M130.7 65.8h0M149.4 116.1h0M148.1 94.5h0M176.5 77.0h0M161.4 79.5h0M173.9 101.7h0M138.9 48.8h0M179.5 99.5h0M167.7 70.9h0M146.3 119.2h0M150.6 73.7h0M155.1 54.9h0M173.3 110.3h0M177.1 108.9h0M179.4 87.0h0M144.3 114.1h0M137.6 71.8h0M155.0 107.3h0M177.8 92.2h0M143.8 71.8h0M150.7 124.6h0M134.1 80.6h0M159.8 101.8h0M161.2 107.0h0M150.4 78.9h0M174.4 101.9h0M182.9 70.6h0M180.5 104.6h0M164.3 78.4h0M136.2 70.8h0M137.8 49.9h0M172.8 104.1h0M179.2 95.2h0M143.9 90.9h0M181.5 96.3h0M146.1 86.5h0M134.0 70.0h0M162.4 84.3h0M184.2 91.9h0M168.1 92.5h0M176.8 75.1h0M137.1 63.7h0M169.3 56.4h0M131.7 85.3h0M130.9 66.6h0M153.0 62.3h0M145.8 65.4h0M149.6 79.0h0M151.7 71.8h0M179.9 104.7h0M144.3 117.6h0M160.1 90.6h0M137.4 71.4h0M167.0 99.5h0M167.6 95.3h0M152.8 51.5h0M140.6 73.5h0M142.3 114.4h0M178.8 112.2h0M153.0 120.4h0M145.8 91.6h0M170.2 64.6h0M141.4 56.8h0M161.5 113.9h0M140.5 65.2h0M139.2 52.1h0M151.2 116.5h0M143.4 93.0h0M136.0 91.0h0M175.9 88.8h0M172.8 96.7h0M143.5 102.4h0M159.4 79.9h0M172.2 103.6h0M156.9 74.4h0M158.2 88.3h0M148.7 54.4h0M159.1 51.6h0M140.6 81.3h0M151.0 85.8h0M159.6 109.3h0M142.7 75.3h0M156.4 91.8h0M187.3 97.0h0M165.6 111.8h0M150.2 48.9h0M187.0 88.5h0M174.5 75.7h0M168.4 68.5h0M184.7 75.3h0M146.8 117.1h0M143.6 67.5h0M137.3 62.7h0M154.9 108.3h0M172.5 109.1h0M151.6 110.7h0M158.3 116.9h0M159.8 50.0h0M164.4 114.6h0M139.4 84.2h0M158.1 54.6h0M146.0 119.3h0M173.2 86.5h0M166.5 114.4h0M186.8 93.3h0M140.2 65.1h0M138.6 86.7h0M164.9 82.6h0M158.2 57.2h0M172.9 88.7h0M148.7 112.3h0M153.4 81.8h0M145.6 105.1h0M182.9 81.8h0M136.7 82.3h0M161.0 108.5h0M141.5 68.2h0M174.8 79.7h0M135.0 76.9h0M160.9 88.9h0M136.3 92.1h0M175.5 83.6h0M137.5 63.2h0M138.2 94.5h0M167.3 114.2h0M146.1 114.9h0M183.4 90.7h0M166.3 94.8h0M176.0 87.1h0M137.2 63.7h0M136.8 65.9h0M177.5 89.4h0M151.6 122.6h0M164.8 65.0h0M163.9 114.0h0M152.2 80.5h0M149.5 83.6h0M178.9 83.1h0M167.7 69.0h0M145.6 86.5h0M134.7 96.2h0M170.6 72.8h0M156.5 100.3h0M140.0 75.0h0M176.9 100.1h0M165.0 54.2h0M143.3 66.4h0M164.3 119.5h0M163.2 119.0h0M158.2 87.1h0M147.1 82.9h0M185.8 84.8h0M130.6 74.1h0M142.2 95.6h0M160.5 83.8h0M171.8 93.4h0M169.0 85.8h0M132.6 81.9h0M179.8 93.9h0M183.9 89.3h0M140.2 102.2h0M168.6 110.2h0M135.7 82.8h0M178.3 73.1h0M134.3 90.3h0M186.8 95.1h0M164.5 60.4h0M150.1 57.9h0M157.9 49.7h0M169.2 97.4h0M183.9 107.1h0M159.5 52.5h0M172.0 59.8h0M188.6 88.9h0M183.7 85.2h0M172.7 64.2h0M159.1 98.3h0M134.4 67.6h0M176.0 70.3h0M135.6 84.7h0M181.8 107.8h0M167.1 84.3h0M169.7 87.5h0M141.3 101.3h0M138.1 70.6h0M180.7 91.2h0M160.7 102.4h0M131.8 73.9h0M184.1 98.0h0M147.2 110.0h0M168.9 94.1h0M162.5 106.2h0M180.0 66.2h0M151.8 52.1h0M182.2 100.5h0M159.4 89.4h0M170.0 73.1h0M160.9 54.3h0M151.7 51.9h0M175.5 74.9h0M146.8 120.1h0M186.6 97.4h0M161.6 115.0h0M183.3 72.0h0M168.7 98.1h0M183.5 74.9h0M142.0 96.5h0M134.1 90.6h0M174.1 58.5h0M179.2 108.9h0M186.4 103.0h0M162.8 111.5h0M178.1 96.0h0M170.0 60.2h0M149.7 114.3h0M176.6 69.1h0M134.1 72.1h0M161.9 96.1h0M156.5 82.6h0M161.5 84.0h0M138.8 57.6h0M160.4 109.5h0M156.0 50.7h0M168.8 57.6h0M145.9 79.5h0M175.1 80.6h0M147.1 121.8h0M141.7 56.5h0M152.0 119.7h0M148.2 80.4h0M149.2 88.4h0M172.3 69.2h0M157.4 90.3h0M172.9 97.9h0M155.8 52.8h0M137.1 57.7h0M141.3 60.6h0M169.6 73.1h0M145.0 60.5h0M139.0 100.2h0M164.6 66.0h0M178.3 99.7h0M155.8 94.3h0M169.2 81.1h0M135.9 75.0h0M186.3 75.7h0M176.2 114.7h0M145.4 62.7h0M138.1 100.6h0M166.8 95.3h0M181.9 91.7h0M182.2 69.4h0M142.8 97.5h0M163.2 71.9h0M159.2 87.6h0M178.8 62.2h0M141.4 70.3h0M172.3 85.5h0M137.1 83.6h0M186.0 77.1h0M163.4 79.4h0M182.6 92.1h0M152.8 93.9h0M163.1 61.9h0M140.1 90.9h0M140.2 98.0h0M169.4 87.5h0M159.3 114.2h0M134.9 92.2h0M143.4 101.8h0M140.7 100.8h0M166.9 102.6h0M170.8 77.6h0M175.6 93.7h0M145.9 118.2h0M150.5 111.3h0M170.6 112.8h0M177.8 82.1h0M153.8 109.2h0M169.1 88.9h0M131.3 82.9h0M143.8 56.7h0M175.0 99.9h0M154.7 93.4h0M160.4 88.9h0M137.1 101.0h0M162.5 74.1h0M135.9 88.9h0M141.3 105.6h0M178.1 84.2h0M150.3 86.9h0M173.4 81.7h0M148.3 114.9h0M159.0 102.1h0M147.5 89.4h0M134.3 62.3h0M146.5 86.6h0M140.8 70.4h0M183.9 81.3h0M144.3 93.5h0M137.2 87.3h0M166.8 118.3h0M166.3 60.5h0M141.4 101.9h0M182.0 90.5h0M174.4 106.8h0M158.5 88.2h0M140.0 70.9h0M152.1 121.7h0M142.4 48.8h0M137.8 74.4h0M135.5 83.5h0M183.3 90.9h0M161.6 59.5h0M166.7 71.8h0M175.8 91.6h0M180.5 86.4h0M167.8 65.0h0M171.6 78.3h0M173.1 92.4h0M138.8 69.9h0M167.8 89.4h0M172.7 72.2h0M158.6 83.9h0M145.8 62.4h0M144.2 117.1h0M152.0 116.0h0M167.7 54.9h0M161.1 85.4h0M170.1 69.0h0M184.2 95.5h0M182.7 70.2h0M172.5 114.4h0M171.0 83.0h0M164.3 104.4h0M170.1 77.8h0M159.9 86.4h0M143.2 66.8h0M171.6 100.7h0M160.6 91.6h0M142.6 83.2h0M135.1 66.3h0M177.6 109.4h0M181.7 66.4h0M185.5 75.6h0M162.6 100.1h0M146.1 54.4h0M149.3 87.9h0M176.9 92.2h0M171.2 73.0h0M138.0 71.8h0M174.2 90.8h0M138.4 65.1h0M133.1 81.8h0M138.1 105.6h0M177.4 71.1h0M166.9 76.8h0M182.6 100.8h0M173.1 86.2h0M165.8 108.5h0M176.3 99.5h0M134.2 84.0h0M146.4 94.3h0M153.9 82.2h0M162.2 92.8h0M183.0 68.4h0M146.7 60.7h0M151.8 117.9h0M134.4 65.8h0M145.5 83.6h0M170.7 58.3h0M137.8 72.3h0M135.9 55.7h0M178.0 113.1h0M168.9 69.8h0M143.6 118.8h0M136.1 97.4h0M139.1 99.0h0M170.2 64.4h0M143.0 115.3h0M167.7 100.9h0M182.8 108.0h0M160.9 92.9h0M159.5 106.1h0M161.2 115.2h0M164.9 92.1h0M157.6 86.5h0M171.1 116.1h0M160.9 108.3h0M145.8 70.9h0M151.4 85.0h0M173.8 75.5h0M139.9 96.0h0M187.1 75.8h0M149.4 57.5h0M178.1 79.0h0M151.2 82.9h0M184.6 106.9h0M140.9 75.4h0M150.6 60.1h0M158.6 56.5h0M169.0 78.7h0M145.1 100.5h0M149.9 47.9h0M180.0 106.0h0M182.3 69.4h0M146.1 101.4h0M187.5 97.9h0M147.2 79.7h0M178.4 105.6h0M141.1 65.2h0M132.8 89.8h0M135.3 61.0h0M177.1 68.7h0M138.8 76.3h0M177.0 89.3h0M177.6 72.8h0M173.2 86.3h0M175.6 61.8h0M143.0 113.6h0M172.0 58.3h0M172.9 100.4h0M142.1 49.4h0M168.3 101.2h0M183.4 74.7h0M161.1 97.8h0M185.1 97.6h0M160.9 107.1h0M162.8 78.9h0M157.4 113.2h0M137.9 87.0h0M174.4 108.1h0M153.3 59.4h0M187.2 94.4h0M169.0 73.5h0M137.2 91.3h0M154.4 116.8h0M169.6 106.1h0M164.1 105.9h0M164.8 93.5h0M141.7 53.2h0M172.1 103.7h0M169.8 66.3h0M159.2 107.1h0M168.3 118.3h0M162.0 51.9h0M155.2 99.1h0M160.6 109.2h0M185.9 73.2h0M142.8 57.6h0M143.5 79.3h0M155.7 98.3h0M130.5 79.3h0M148.2 87.8h0M137.0 99.8h0M154.4 53.3h0M133.3 60.3h0M134.9 89.8h0M137.1 88.9h0M151.6 123.7h0M172.2 94.0h0M145.6 80.7h0M135.8 79.4h0M160.4 105.9h0M178.4 104.5h0M153.0 102.6h0M141.9 59.9h0M151.3 104.7h0M166.8 112.8h0M186.0 81.6h0M176.6 97.5h0M135.4 87.6h0M166.3 100.6h0M141.1 91.1h0M170.2 81.0h0M155.2 83.2h0M137.9 51.9h0M147.0 59.8h0M183.6 74.8h0M182.2 90.8h0M172.5 81.7h0M144.9 90.9h0M148.9 111.9h0M150.5 79.4h0M161.5 90.8h0M142.2 108.7h0M159.1 106.6h0M184.9 95.6h0M171.5 89.6h0M138.2 82.5h0M134.2 60.4h0M138.5 80.6h0M134.0 94.3h0M144.0 63.3h0M164.8 84.7h0M151.3 87.6h0M150.3 125.0h0M150.6 113.2h0M178.3 109.2h0M159.5 85.7h0M143.8 47.0h0M159.5 82.0h0M154.4 85.4h0M161.1 59.3h0M141.9 83.9h0M146.2 108.9h0M150.3 119.9h0M131.6 64.9h0M148.8 113.4h0M136.5 99.6h0M144.8 104.4h0M164.4 56.4h0M147.4 51.2h0M185.1 106.0h0M145.5 61.2h0M167.6 93.3h0M161.1 107.5h0M159.2 57.1h0M174.6 80.3h0M180.0 99.2h0M187.1 92.1h0M177.9 72.9h0M185.6 98.6h0M186.5 94.3h0M174.5 93.4h0M143.6 52.3h0M174.3 81.9h0M137.9 90.4h0M146.1 66.9h0M182.2 95.2h0M174.6 110.9h0M156.3 81.9h0M182.7 69.7h0M172.5 63.1h0M170.9 107.7h0M172.9 71.5h0M175.4 113.1h0M161.7 87.9h0M147.9 50.8h0M167.7 103.0h0M171.5 77.5h0M163.2 87.6h0M143.9 87.8h0M134.6 98.1h0M160.5 88.8h0M180.1 97.0h0M186.0 100.2h0M179.0 71.4h0M153.6 87.6h0M162.3 91.2h0M172.9 73.2h0M166.3 104.5h0M152.3 87.8h0M159.1 112.7h0M146.4 68.7h0M153.7 97.9h0M160.2 104.1h0M154.8 48.2h0M153.2 91.4h0M165.1 82.5h0M132.2 65.6h0M150.4 97.6h0M171.1 87.2h0M174.8 95.5h0M135.4 98.2h0M159.0 106.3h0M185.8 74.0h0M180.7 64.3h0M179.2 81.5h0M157.3 85.6h0M146.5 120.1h0M152.5 121.3h0M143.8 59.6h0M148.8 56.6h0M155.3 97.1h0M138.3 94.5h0M138.8 59.2h0M183.7 101.4h0M174.0 109.2h0M149.5 46.2h0M167.1 75.1h0M149.9 110.5h0M187.7 75.0h0M155.7 81.2h0M158.2 114.0h0M172.1 111.8h0M161.9 76.8h0M161.6 74.2h0M170.2 84.8h0M175.4 84.0h0M163.7 109.9h0M159.7 83.8h0M159.1 104.5h0M173.9 72.6h0M176.3 75.9h0M170.2 76.0h0M176.4 76.3h0M151.2 80.5h0M162.7 119.8h0M173.2 103.1h0M174.9 79.5h0M182.3 103.3h0M143.3 85.7h0M176.0 76.3h0M165.7 90.8h0M174.1 69.9h0M170.5 75.4h0M176.7 85.2h0M147.0 46.4h0M183.3 87.7h0M168.6 112.0h0M183.0 76.7h0M173.4 112.1h0M150.7 78.8h0M163.5 97.1h0M153.0 85.7h0M143.4 65.9h0M180.8 97.1h0M156.9 96.9h0M151.6 91.7h0M141.4 89.1h0M152.7 48.5h0M180.2 89.8h0M164.7 100.5h0M162.9 118.1h0M166.9 78.4h0M167.3 78.8h0M164.4 112.0h0M148.8 66.0h0M136.8 67.3h0M140.6 69.0h0M152.5 96.9h0M151.4 99.3h0M133.1 92.1h0M171.2 58.8h0M154.7 50.4h0M135.7 74.0h0M174.9 96.7h0M165.0 86.6h0M169.2 85.5h0M154.0 112.5h0M148.3 78.3h0M150.8 80.4h0M177.1 60.9h0M159.2 60.9h0M168.6 99.9h0M143.6 64.3h0M182.1 108.9h0M153.7 82.3h0M142.4 82.6h0M148.3 84.7h0M160.8 109.7h0M173.1 105.2h0M146.0 65.9h0M185.8 103.3h0M159.6 74.7h0M163.2 107.5h0M137.4 53.9h0M171.0 83.4h0M177.2 78.7h0M149.5 88.7h0M165.1 81.8h0M178.8 102.1h0M162.6 92.4h0M156.9 58.6h0M180.9 90.2h0M174.2 104.8h0M167.2 118.7h0M133.8 72.5h0M140.2 96.6h0M143.5 48.3h0M138.5 59.9h0M162.4 82.2h0M161.7 66.2h0M133.8 58.0h0M154.1 59.3h0M157.8 59.0h0M173.9 115.6h0M149.6 51.7h0M168.8 106.1h0M159.0 116.8h0M139.2 103.3h0M180.6 80.7h0M160.7 113.5h0M152.9 66.3h0M142.5 57.2h0M185.3 70.6h0M151.3 123.5h0M171.3 80.5h0M136.7 75.0h0M147.7 121.4h0M146.4 49.8h0M177.0 93.3h0M147.2 112.3h0M185.4 75.9h0M171.3 103.9h0M171.1 106.6h0M141.9 53.6h0M134.5 89.3h0M173.8 80.0h0M141.3 79.9h0M166.3 114.5h0M183.1 71.8h0M171.1 97.5h0M177.9 110.6h0M167.4 111.3h0M140.4 97.0h0M148.6 120.5h0M147.0 84.6h0M148.4 116.9h0M173.2 91.2h0M174.7 89.4h0M133.1 63.5h0M168.9 55.3h0M168.4 73.6h0M153.4 111.4h0M180.1 105.4h0M156.9 88.6h0M137.4 98.4h0M142.1 105.9h0M171.0 59.1h0M177.8 83.6h0M140.3 82.3h0M138.8 83.7h0M136.3 103.8h0M136.8 96.2h0M162.9 94.9h0M141.4 83.9h0M179.8 95.1h0M144.9 72.6h0M158.7 86.8h0M179.4 106.4h0M142.1 71.2h0M135.0 71.3h0M161.2 105.8h0M160.3 113.4h0M133.1 56.7h0M170.2 56.4h0M154.5 90.1h0M165.7 55.4h0M176.7 101.2h0M141.2 82.7h0M157.7 88.0h0M165.8 71.2h0M175.1 102.8h0M155.0 58.1h0M175.6 101.7h0M163.8 105.3h0M171.2 110.1h0M146.2 117.8h0M149.0 122.0h0M182.7 108.2h0M152.4 82.4h0M165.1 110.0h0M155.1 117.5h0M143.3 87.4h0M139.1 59.6h0M147.7 49.8h0M164.1 95.3h0M153.8 109.4h0M162.7 100.3h0M135.5 72.2h0M165.7 76.0h0M170.2 115.3h0M187.5 77.7h0M183.1 99.3h0M165.5 78.4h0M156.6 102.7h0M141.9 110.7h0M154.4 63.9h0M155.8 93.7h0M147.5 116.0h0M174.8 66.4h0M155.1 102.3h0M144.5 80.1h0M174.6 86.1h0M133.8 73.7h0M164.1 64.4h0M153.4 90.5h0M152.0 60.5h0M163.2 89.3h0M154.7 95.8h0M182.6 71.4h0M134.0 61.9h0M182.3 93.6h0M175.0 77.0h0M158.0 108.6h0M137.0 96.9h0M149.9 101.1h0M141.5 67.4h0M173.2 102.6h0M184.4 78.9h0M145.6 103.1h0M159.4 81.3h0M132.3 64.0h0M174.6 82.6h0M130.6 77.9h0M169.9 95.8h0M136.8 63.7h0M164.4 95.6h0M145.7 74.2h0M156.7 116.5h0M176.3 84.1h0M134.6 74.4h0M178.7 80.5h0M153.6 96.8h0M155.1 114.0h0M146.0 88.1h0M150.9 89.9h0M150.3 83.1h0M152.1 114.9h0M152.2 100.1h0M152.1 121.7h0M185.4 101.1h0M179.1 91.0h0M167.0 57.1h0M179.6 96.9h0M168.8 70.2h0M175.5 87.9h0M176.1 100.0h0M180.1 101.3h0M153.2 122.0h0M183.9 99.4h0M156.2 85.8h0M179.5 93.3h0M158.0 109.9h0M131.8 77.8h0M145.3 94.3h0M151.4 94.3h0M183.4 78.6h0M179.8 83.2h0M149.5 83.6h0M164.3 63.7h0M168.6 96.8h0M148.0 54.2h0M147.6 63.0h0M165.1 113.7h0M167.8 94.0h0M155.6 111.4h0M158.3 60.9h0M170.2 112.3h0M154.4 106.9h0M138.2 86.2h0M170.8 88.5h0M150.0 47.4h0M172.0 59.2h0M166.0 87.7h0M173.0 76.1h0M171.8 101.5h0M154.6 121.3h0M156.4 83.1h0M172.7 58.0h0M183.4 72.4h0M137.8 92.9h0M144.7 81.0h0M142.3 103.6h0M174.0 100.6h0M138.4 49.8h0M172.8 89.5h0M169.2 111.8h0M160.4 69.1h0M172.0 98.9h0M167.8 86.7h0M157.4 119.1h0M152.7 57.1h0M156.3 58.4h0M159.6 85.0h0M153.4 108.5h0M143.0 68.6h0M179.5 64.6h0M173.3 67.8h0M154.6 83.3h0M145.0 111.4h0M139.9 48.0h0M156.5 104.9h0M145.9 77.9h0M134.3 77.3h0M174.8 71.1h0M141.4 88.8h0M183.4 97.3h0M137.0 80.3h0M144.0 110.6h0M155.2 81.3h0M182.3 69.6h0M148.6 88.9h0M168.8 72.6h0M167.6 79.5h0M179.5 90.3h0M173.4 91.6h0M171.6 77.0h0M139.2 74.9h0M149.7 47.1h0M175.9 87.7h0M158.8 102.0h0M134.4 56.0h0M181.8 86.4h0M175.9 82.7h0M174.7 86.8h0M174.3 85.3h0M164.8 79.4h0M164.0 90.4h0M136.6 91.0h0M147.1 93.3h0M180.1 87.6h0M144.9 70.4h0M163.2 104.9h0M141.0 51.6h0M144.1 96.4h0M154.3 106.6h0M173.4 75.2h0M165.3 57.6h0M166.5 97.5h0M144.5 99.0h0M162.8 119.3h0M166.8 76.1h0M171.4 106.4h0M184.2 80.5h0M150.8 61.2h0M144.9 84.9h0M139.0 64.9h0M166.6 78.4h0M172.4 66.6h0M143.1 47.3h0M181.5 75.1h0M147.9 120.3h0M152.3 89.0h0M138.8 78.7h0M144.1 50.2h0M138.2 97.7h0M143.5 94.3h0M155.1 57.1h0M176.3 60.7h0M177.7 106.5h0M156.3 82.0h0M142.6 57.1h0M171.6 75.5h0M163.7 75.3h0M146.2 59.0h0M175.5 80.4h0M139.6 64.2h0M139.8 90.5h0M185.1 101.8h0M179.5 79.5h0M156.3 53.5h0M146.0 115.2h0M147.3 117.6h0M138.8 79.6h0M179.7 70.8h0M144.9 47.6h0M162.0 89.7h0M143.0 66.6h0M182.0 79.4h0M138.2 91.4h0M147.9 54.3h0M172.3 90.5h0M184.6 74.0h0M165.0 63.5h0M157.9 92.1h0M148.5 94.1h0M137.5 78.9h0M139.2 89.4h0M165.5 95.7h0M182.7 94.4h0M165.4 111.8h0M163.0 80.5h0M140.0 84.2h0M172.6 109.1h0M183.2 87.2h0M186.3 75.6h0M131.6 79.9h0M162.4 107.4h0M144.3 48.0h0M163.9 56.8h0M161.2 107.4h0M133.8 57.8h0M165.6 99.8h0M166.0 119.4h0M142.4 49.7h0M153.8 116.1h0M147.3 118.5h0M145.6 69.9h0M141.9 101.7h0M171.4 75.0h0M137.4 93.3h0M150.4 89.8h0M143.7 79.9h0M179.6 70.6h0M151.2 121.9h0M183.8 67.8h0M143.1 77.1h0M176.0 91.6h0M184.6 80.5h0M156.9 59.3h0M146.7 115.5h0M145.9 117.3h0M177.9 91.3h0M147.0 120.5h0M178.9 99.9h0M147.4 54.5h0M141.3 66.9h0M141.8 91.4h0M132.3 90.3h0M132.0 83.3h0M167.0 88.9h0M143.3 112.7h0M152.2 89.2h0M154.9 108.5h0M140.4 64.0h0M157.1 89.3h0M130.7 76.8h0M161.1 93.7h0M180.0 72.0h0M187.9 90.9h0M170.6 99.7h0M144.2 53.9h0M163.1 59.5h0M161.6 89.7h0M154.1 89.5h0M178.5 87.6h0M143.1 53.1h0M147.3 49.2h0M155.0 91.6h0M137.3 106.1h0M157.2 95.6h0M155.9 109.2h0M152.4 63.8h0M145.3 120.0h0M133.5 78.6h0M156.0 100.1h0M149.3 52.7h0M136.4 67.3h0M183.0 92.7h0M154.1 51.7h0M133.8 63.3h0M160.2 111.0h0M130.6 68.9h0M154.9 94.5h0M173.9 99.9h0M157.6 119.9h0M161.7 92.6h0M169.8 84.4h0M159.5 98.8h0M148.5 85.3h0M145.6 84.2h0M164.3 54.1h0M169.4 102.5h0M142.0 65.8h0M132.8 83.5h0M170.3 78.7h0M165.2 94.1h0M160.4 119.5h0M172.2 81.4h0M145.8 56.5h0M168.6 106.8h0M153.7 52.8h0M154.1 116.5h0M153.5 47.9h0M142.6 116.8h0M147.4 77.4h0M184.9 88.2h0M146.1 48.5h0M172.9 114.3h0M182.0 98.9h0M133.9 70.7h0M164.8 79.1h0M143.3 51.4h0M181.6 99.0h0M148.1 83.4h0M167.6 64.5h0M186.4 76.4h0M159.4 98.5h0M184.1 80.3h0M140.2 66.3h0M141.9 54.5h0M178.9 86.1h0M174.5 100.6h0M156.5 87.4h0M138.0 65.2h0M144.8 64.9h0M182.1 108.2h0M142.0 84.8h0M179.7 110.1h0M144.0 84.4h0M144.9 105.0h0M169.8 81.5h0M164.2 88.0h0M150.9 52.8h0M174.3 107.4h0M156.2 107.2h0M179.3 101.0h0M157.2 107.8h0M165.1 53.1h0M173.7 72.9h0M168.3 69.7h0M166.2 106.9h0M171.5 82.9h0M165.3 91.1h0M171.0 86.1h0M153.8 102.1h0M174.6 76.5h0M146.9 49.6h0M176.5 80.0h0M153.8 50.2h0M159.7 117.4h0M169.5 93.4h0M145.2 99.6h0M167.3 73.1h0M168.8 58.1h0M157.8 109.8h0M143.2 83.4h0M144.5 109.8h0M165.7 77.3h0M171.2 70.8h0M136.7 76.7h0M173.0 82.5h0M158.4 96.9h0M136.7 83.9h0M140.7 93.8h0M154.4 76.4h0M143.0 95.4h0M152.1 88.9h0M170.2 72.2h0M156.3 90.7h0M137.4 83.4h0M147.9 59.3h0M161.4 101.8h0M161.5 85.7h0M170.0 79.5h0M171.5 76.4h0M177.2 114.6h0M147.0 90.9h0M157.6 56.5h0M173.8 88.3h0M136.9 100.6h0M140.9 102.1h0M181.7 87.0h0M153.2 82.9h0M146.6 61.0h0M182.1 76.1h0M163.6 110.5h0M170.5 58.4h0M180.0 72.2h0M179.5 97.0h0M132.3 76.0h0M171.7 89.3h0M150.7 118.2h0M135.7 85.7h0M156.5 51.7h0M168.1 108.6h0M143.7 65.5h0M176.0 88.0h0M131.6 70.4h0M147.6 81.9h0M153.2 99.0h0M152.4 96.4h0M138.8 49.4h0M135.2 68.7h0M164.7 98.2h0M147.4 87.0h0M150.1 92.1h0M136.9 95.6h0M142.8 90.1h0M141.6 81.3h0M157.4 89.7h0M174.6 71.7h0M165.8 67.1h0M172.9 85.4h0M148.8 81.6h0M154.0 99.2h0M156.1 92.6h0M160.4 105.6h0M177.1 104.4h0M170.6 56.2h0M154.6 86.5h0M136.5 90.9h0M146.3 59.0h0M186.7 95.3h0M173.7 94.2h0M163.8 115.4h0M134.2 76.1h0M143.4 93.4h0M153.8 119.2h0M144.3 67.4h0M184.6 103.3h0M139.3 103.4h0M143.9 110.1h0M178.8 69.2h0M177.8 92.1h0M145.1 100.7h0M155.0 57.3h0M180.7 103.0h0M144.9 79.9h0M170.8 75.5h0M145.7 87.9h0M145.4 84.4h0M138.7 62.5h0M138.5 85.7h0M152.2 117.4h0M183.7 67.7h0M183.6 86.8h0M160.9 60.5h0M159.3 106.4h0M162.0 117.9h0M138.4 104.6h0M165.9 116.2h0M150.3 82.8h0M178.5 66.3h0M180.4 97.6h0M175.6 79.0h0M144.5 76.7h0M170.3 58.8h0M130.6 73.2h0M139.3 59.6h0M146.7 95.2h0M181.7 80.2h0M140.7 54.0h0M136.9 74.2h0M160.3 52.7h0M160.1 112.8h0M165.3 56.3h0M161.8 60.1h0M146.9 55.6h0M170.3 110.1h0M157.0 92.3h0M150.2 111.1h0M172.0 57.2h0M158.9 60.6h0M159.1 98.1h0M173.8 71.9h0M133.7 81.8h0M184.5 89.9h0M167.0 106.9h0M181.4 107.5h0M150.1 59.6h0M169.1 96.4h0M183.2 102.0h0M184.0 94.7h0M168.6 116.6h0M174.5 96.5h0M172.8 113.3h0M180.1 106.1h0M138.2 62.0h0M142.8 105.3h0M145.3 116.6h0M131.9 79.1h0M152.8 49.1h0M181.2 79.4h0M181.1 103.7h0M164.0 86.7h0M172.8 93.8h0M183.5 106.0h0M156.6 113.4h0M147.4 77.1h0M144.8 113.4h0M182.7 101.5h0M180.0 96.4h0M163.1 61.3h0M141.2 106.9h0M142.1 73.0h0M134.5 99.8h0M149.9 99.2h0M185.9 96.4h0M184.4 105.1h0M169.7 73.8h0M134.7 97.6h0M134.0 65.0h0M133.4 59.7h0M147.0 109.5h0M173.9 97.2h0M166.2 57.1h0M161.8 60.9h0M135.6 66.3h0M147.0 87.8h0M176.5 70.4h0M178.3 106.7h0M165.7 96.6h0M132.1 63.0h0M141.9 51.5h0M164.9 57.0h0M176.8 81.9h0M152.0 109.1h0M150.1 120.6h0M150.3 95.8h0M173.2 68.5h0M155.4 103.5h0M140.7 62.9h0M175.8 99.6h0M172.8 110.2h0M144.3 85.5h0M130.8 74.0h0M166.0 66.7h0M177.4 62.9h0M154.1 49.9h0M136.7 97.9h0M179.0 100.0h0M181.4 98.9h0M176.4 112.6h0M165.6 88.3h0M140.0 64.8h0M135.6 54.8h0M165.3 61.7h0M134.3 63.5h0M181.1 75.8h0M149.9 57.9h0M137.3 102.6h0M143.7 87.7h0M146.2 84.9h0M160.1 67.0h0M155.2 110.5h0M138.7 88.8h0M178.3 91.4h0M151.0 119.8h0M148.2 84.5h0M157.1 112.8h0M167.1 89.7h0M160.9 116.8h0M151.3 56.4h0M140.9 65.4h0M163.3 109.4h0M157.3 87.4h0M143.8 116.8h0M158.9 79.7h0M179.2 79.8h0M142.4 84.0h0M176.2 102.0h0M179.7 108.4h0M165.4 96.2h0M140.6 50.4h0M145.5 77.8h0M171.8 101.4h0M150.0 54.2h0M187.2 91.7h0M159.5 50.6h0M175.9 62.3h0M138.6 88.5h0M147.3 91.4h0M172.7 64.0h0M152.2 59.1h0M137.7 103.8h0M167.9 100.7h0M168.2 86.8h0M161.9 82.4h0M145.9 76.0h0M188.4 78.3h0M165.9 67.6h0M144.3 70.1h0M153.9 97.2h0M154.5 114.5h0M156.3 109.0h0M168.1 103.4h0M161.3 102.5h0M187.7 73.8h0M148.1 116.2h0M142.5 59.2h0M140.6 70.1h0M132.6 73.2h0M160.5 50.3h0M158.9 118.0h0M181.2 85.3h0M164.5 113.0h0M150.1 56.5h0M175.3 88.9h0" stroke="#ef6458" stroke-width="1.35" stroke-linecap="round" fill="none"/><path d="M143.4 100.4h0M147.1 120.1h0M137.9 90.9h0M130.7 69.1h0M139.3 93.0h0M135.2 76.9h0M147.2 121.7h0M135.1 80.3h0M133.7 78.5h0M135.6 91.0h0M136.0 82.0h0M140.2 76.2h0M131.5 71.4h0M137.6 90.1h0M140.4 85.3h0M131.6 75.4h0M133.7 78.5h0M138.1 72.2h0M142.4 107.6h0M142.1 110.5h0M135.3 68.6h0M137.2 71.0h0M150.8 121.6h0M131.4 67.3h0M151.2 123.5h0M136.8 76.7h0M149.4 119.8h0M138.9 79.9h0M144.8 118.3h0M135.0 96.4h0M149.1 114.5h0M140.8 107.4h0M142.6 114.6h0M139.0 106.6h0M143.4 117.1h0M136.0 94.0h0M132.9 74.5h0M144.3 112.5h0M144.2 102.9h0M140.5 82.2h0M138.5 79.9h0M135.7 82.8h0M146.2 117.8h0M136.4 71.9h0M134.8 89.2h0M147.3 121.0h0M139.2 74.6h0M136.9 100.5h0M145.2 102.1h0M137.9 83.9h0M134.7 91.3h0M145.7 106.5h0M139.7 107.1h0M133.1 86.5h0M131.9 66.6h0M131.8 86.1h0M141.9 88.3h0M153.3 121.9h0M132.6 92.5h0M131.8 78.3h0M134.4 92.2h0M133.9 71.5h0M141.8 98.6h0M145.7 106.1h0M138.5 78.1h0M145.8 117.1h0M134.3 77.8h0M135.1 76.0h0M141.4 99.5h0M146.9 117.5h0M144.6 119.0h0M133.1 73.9h0M133.2 87.7h0M140.1 105.5h0M144.0 90.6h0M139.4 81.9h0M147.4 113.9h0M140.0 77.3h0M144.2 90.2h0M143.0 95.6h0M137.3 91.1h0M141.1 79.3h0M141.2 93.6h0M130.6 75.1h0M142.1 94.4h0M137.5 69.2h0M138.0 86.9h0M135.5 97.9h0M142.1 104.2h0M143.2 113.8h0M134.3 95.8h0M130.7 68.2h0M141.3 80.8h0M144.3 108.4h0M143.9 101.1h0M130.8 76.0h0M143.8 104.8h0M144.9 118.8h0M145.4 98.6h0M133.9 85.5h0M131.1 78.1h0M142.1 89.4h0M135.2 97.4h0M135.2 73.5h0M138.9 88.8h0M135.2 68.3h0M153.3 120.9h0M137.8 83.0h0M141.2 78.6h0M148.9 119.1h0M150.2 122.2h0M136.6 78.7h0M143.5 96.6h0M141.3 92.9h0M139.2 77.2h0M139.4 98.6h0M134.9 85.2h0M141.7 86.8h0M138.5 72.9h0M141.5 103.0h0M144.6 99.4h0M135.7 86.7h0M145.2 94.8h0M149.3 125.2h0M141.4 81.9h0M138.0 73.0h0M144.7 108.6h0M136.5 99.7h0M138.2 77.5h0M132.7 84.6h0M142.8 85.0h0M131.0 80.1h0M143.0 116.5h0M146.9 113.6h0M137.0 75.6h0M152.1 123.9h0M133.6 72.3h0M143.2 89.4h0M145.5 103.3h0M133.3 94.6h0M145.4 93.6h0M135.5 77.2h0M132.5 69.2h0M146.8 115.8h0M135.9 83.9h0M149.0 125.0h0M141.4 101.1h0M141.6 92.8h0M144.2 95.2h0M131.6 83.8h0M143.0 91.5h0M144.8 102.7h0M152.4 119.5h0M144.9 97.2h0M143.5 110.0h0M144.2 102.2h0M139.4 87.0h0M140.8 88.7h0M137.2 103.6h0M142.7 103.8h0M141.0 107.5h0M133.2 69.8h0M142.8 83.6h0M138.9 79.5h0M136.3 74.1h0M138.8 72.5h0M140.7 92.1h0M147.2 122.0h0M143.9 87.6h0M136.5 80.1h0M132.7 83.9h0M132.5 75.0h0M135.1 73.9h0M139.2 89.6h0M138.1 76.5h0M135.1 84.9h0M138.3 81.0h0M144.9 105.1h0M134.9 78.2h0M150.3 124.5h0M135.0 70.6h0M150.2 116.6h0M137.1 74.7h0M142.5 111.0h0M133.2 88.7h0M134.2 70.9h0M143.0 84.0h0M151.9 120.2h0M141.4 98.9h0M140.3 92.7h0M150.5 125.3h0M147.7 117.5h0M137.5 70.5h0M135.6 96.0h0M148.4 110.0h0M137.4 69.3h0M141.7 85.8h0M150.9 120.3h0M143.1 112.4h0M137.9 73.6h0M144.1 118.1h0M143.4 95.1h0M138.3 73.2h0M150.2 123.1h0M142.1 96.0h0M141.2 91.4h0M134.5 89.8h0M139.8 96.9h0M139.3 73.4h0M142.8 108.7h0M152.6 118.5h0M140.5 76.0h0M141.6 80.9h0M131.6 76.1h0M141.5 79.0h0M148.0 109.3h0M131.9 72.1h0M135.7 92.5h0M150.1 110.6h0M138.0 100.8h0M137.8 98.9h0M150.3 114.7h0M135.7 94.5h0M137.4 88.9h0M147.2 101.6h0M145.6 117.1h0M152.3 122.8h0M143.8 97.8h0M135.1 98.3h0M152.4 118.3h0M139.7 88.7h0M136.8 74.4h0M134.1 82.1h0M143.5 106.0h0M145.3 110.8h0M150.4 123.0h0M149.7 115.4h0M136.8 95.0h0M132.9 78.0h0M149.2 113.1h0M132.4 75.7h0M141.3 97.5h0M143.5 100.2h0M140.5 109.2h0M133.0 74.4h0M133.7 69.5h0M130.7 67.2h0M147.6 120.4h0M130.6 75.0h0M137.9 77.5h0M136.6 93.1h0M139.4 101.8h0M133.6 75.2h0M146.3 114.4h0M135.2 79.7h0M140.0 101.9h0M133.9 72.4h0M144.0 93.9h0M139.9 96.0h0M135.0 77.3h0M139.4 75.5h0M137.5 70.3h0M144.9 104.6h0M131.7 76.8h0M145.2 106.9h0M141.3 105.1h0M140.3 101.4h0M138.4 103.4h0M133.4 90.3h0M139.5 84.4h0M147.6 116.2h0M145.7 118.3h0M141.6 91.6h0M146.1 96.2h0M134.1 84.3h0M139.2 103.2h0M143.6 102.4h0M143.4 101.8h0M139.4 80.3h0M146.1 118.4h0M136.3 100.5h0M141.1 98.6h0M144.5 117.0h0M131.4 83.9h0M150.3 124.2h0M135.0 76.0h0M138.7 93.0h0M134.9 70.3h0M134.4 95.3h0M147.6 102.1h0M131.4 77.0h0M152.7 119.9h0M137.4 68.9h0M151.4 121.1h0M148.8 112.6h0M148.8 115.9h0M130.5 79.5h0M148.3 104.2h0M136.3 100.9h0M137.8 76.1h0M140.1 100.8h0M140.8 105.6h0M134.1 91.8h0M139.7 83.7h0M148.1 110.3h0M135.5 85.6h0M135.9 75.6h0M136.3 96.1h0M149.5 112.4h0M133.5 81.2h0M152.7 120.9h0M150.4 116.7h0M135.9 74.4h0M133.0 74.1h0M136.0 96.5h0M137.6 86.7h0M137.4 84.0h0M140.5 96.7h0M131.6 81.1h0M140.2 98.9h0M149.2 122.9h0M146.5 106.2h0M136.8 88.4h0M145.8 110.1h0M141.7 106.4h0M139.9 97.4h0M134.5 88.1h0M140.1 110.6h0M134.1 77.9h0M145.6 94.4h0M142.5 89.8h0M134.8 83.1h0M143.5 107.8h0M137.2 78.4h0M138.0 72.3h0M134.8 97.6h0M138.1 72.4h0M140.1 83.6h0M131.7 83.7h0M140.8 107.3h0M136.4 88.8h0M140.9 78.7h0M148.9 121.8h0M139.2 94.7h0M130.9 80.6h0M136.0 78.2h0M149.9 123.1h0M137.4 100.9h0M142.5 101.4h0M141.9 108.7h0M141.5 100.6h0M137.4 75.2h0M149.4 125.0h0M148.0 123.2h0M139.3 103.7h0M146.5 113.8h0M147.3 115.2h0M138.0 103.2h0M150.7 111.6h0M134.0 85.1h0M134.9 82.7h0M143.3 109.1h0M138.9 79.2h0M141.0 83.1h0M150.7 119.8h0M151.0 122.8h0M145.2 112.0h0M138.3 94.5h0M132.4 75.4h0M136.4 78.3h0M141.3 95.8h0M140.6 92.5h0M137.4 102.2h0M149.9 109.1h0M136.1 68.2h0M142.6 112.4h0M133.6 92.2h0M134.4 75.1h0M143.9 90.7h0M131.0 81.1h0M133.6 73.8h0M141.5 84.8h0M137.9 101.0h0M131.7 81.0h0M135.7 87.0h0M151.1 113.3h0M147.5 122.7h0M140.4 78.5h0M143.1 95.4h0M148.3 119.5h0M151.9 122.5h0M134.5 75.3h0M132.3 71.4h0M141.3 87.3h0M137.3 90.2h0M135.6 94.2h0M149.5 115.5h0M139.4 105.9h0M133.0 86.9h0M134.4 95.7h0M139.9 103.2h0M148.7 109.3h0M144.3 112.3h0M135.7 68.7h0M138.1 80.5h0M142.9 82.7h0M143.2 82.9h0M139.9 81.7h0M147.3 120.1h0M140.1 90.5h0M138.9 77.4h0M143.2 106.0h0M136.4 94.5h0M139.9 100.9h0M140.0 96.5h0M140.4 85.9h0M136.9 78.1h0M153.8 122.2h0M148.7 124.1h0M141.3 87.1h0M131.1 79.3h0M146.9 107.8h0M150.8 122.2h0M138.3 84.8h0M142.7 81.7h0M137.5 79.5h0M133.3 93.3h0M132.3 75.1h0M142.7 100.5h0M135.4 76.8h0M142.7 92.7h0M141.7 106.3h0M138.1 84.5h0M131.3 79.5h0M145.5 92.8h0M151.0 115.3h0M153.1 119.0h0M132.4 90.0h0M141.5 104.1h0M146.8 108.5h0M140.1 76.3h0M135.2 77.4h0M144.4 103.3h0M143.9 107.2h0M136.7 89.1h0M144.9 114.8h0M136.2 84.6h0M139.5 106.2h0M140.8 90.7h0M139.3 102.4h0M134.9 89.0h0M141.0 77.9h0M137.1 79.6h0M137.0 89.7h0M145.8 112.6h0M134.9 88.8h0M147.3 115.8h0M141.2 88.6h0M143.7 117.3h0M132.2 82.8h0M132.4 87.0h0M141.3 108.9h0M142.6 89.3h0M134.6 80.7h0M146.6 121.5h0M134.0 80.2h0M152.6 118.0h0M135.5 86.6h0M139.9 94.2h0M149.5 113.6h0" stroke="#ec7a2f" stroke-width="1.3" stroke-linecap="round" fill="none"/><path d="M133.0 80.6h0M150.5 116.7h0M135.1 82.6h0M152.7 112.4h0M143.5 109.4h0M142.6 85.9h0M145.0 78.5h0M141.3 91.4h0M135.1 85.5h0M141.4 86.3h0M136.2 72.9h0M154.3 110.6h0M150.7 118.8h0M142.6 77.6h0M140.7 81.0h0M134.5 78.5h0M138.6 87.3h0M143.5 92.3h0M139.8 76.7h0M142.1 106.5h0M138.0 74.3h0M138.6 95.0h0M146.0 78.9h0M143.6 78.6h0M144.1 76.5h0M148.7 101.7h0M155.3 116.8h0M144.7 84.5h0M144.9 111.9h0M137.8 94.9h0M135.6 75.2h0M144.6 112.4h0M137.3 72.0h0M145.9 106.3h0M144.1 97.8h0M140.3 85.9h0M136.6 84.1h0M153.4 108.3h0M140.3 85.8h0M144.2 75.0h0M144.9 107.0h0M145.0 84.7h0M144.9 78.0h0M144.5 83.0h0M147.2 80.5h0M139.4 72.6h0M138.7 80.3h0M136.8 91.3h0M143.8 101.3h0M136.4 83.4h0M155.3 118.5h0M141.0 83.6h0M144.2 88.3h0M152.1 118.2h0M144.9 84.8h0M148.6 106.6h0M140.8 93.5h0M139.1 74.0h0M136.6 93.6h0M143.0 83.6h0M139.0 85.7h0M147.4 108.0h0M143.3 108.0h0M146.7 113.4h0M150.5 110.8h0M141.2 76.5h0M141.7 92.6h0M152.0 122.2h0M147.9 91.9h0M144.9 87.5h0M149.7 113.9h0M149.7 117.7h0M143.9 107.0h0M147.4 82.4h0M139.1 77.3h0M145.7 108.2h0M134.0 81.6h0M140.3 96.0h0M136.4 86.8h0M141.3 74.4h0M140.4 97.1h0M145.7 90.7h0M147.4 110.2h0M145.2 90.6h0M144.4 79.2h0M153.7 112.0h0M146.0 104.7h0M139.3 90.5h0M151.4 115.6h0M140.0 83.3h0M148.3 89.5h0M149.4 113.5h0M145.5 103.6h0M144.2 107.7h0M146.0 93.1h0M139.8 72.7h0M144.1 75.2h0M144.0 77.4h0M143.7 75.7h0M143.6 101.8h0M147.9 88.2h0M152.6 120.2h0M143.1 97.8h0M142.2 78.4h0M137.0 91.4h0M147.0 109.4h0M142.2 99.3h0M143.7 110.6h0M141.5 96.7h0M138.5 86.9h0M135.6 82.6h0M136.5 76.6h0M133.3 73.1h0M144.1 99.0h0M134.7 73.4h0M138.4 86.0h0M138.9 84.6h0M138.4 87.3h0M139.7 69.5h0M146.7 85.5h0" stroke="#ec7a2f" stroke-width="1.2" stroke-linecap="round" fill="none"/><path d="M135.3 90.5h0M143.2 108.0h0M150.8 111.6h0M133.1 91.5h0M133.4 84.1h0M132.5 80.6h0M144.0 117.9h0M145.4 115.1h0M143.9 99.5h0M147.1 117.2h0M148.4 115.5h0M141.5 97.0h0M131.2 82.8h0M139.0 101.8h0M148.7 110.7h0M146.6 117.4h0M134.5 90.7h0M136.3 102.1h0M136.6 71.1h0M135.0 85.2h0M137.9 73.5h0M135.4 87.7h0M146.2 104.9h0M151.1 124.3h0M136.3 78.0h0M132.7 70.4h0M137.3 92.5h0M148.3 116.0h0M143.2 111.3h0M149.2 109.7h0M137.8 100.5h0M140.9 77.2h0M141.8 105.0h0M134.7 79.1h0M149.0 122.0h0M140.6 76.5h0M134.5 84.4h0M142.8 95.5h0M139.1 92.4h0M131.9 84.4h0M143.9 102.2h0M136.6 70.3h0M147.6 122.2h0M131.1 82.5h0M139.2 92.3h0M142.3 100.7h0M145.3 109.5h0M143.6 87.4h0M142.4 106.0h0M140.7 110.2h0M148.1 111.1h0M134.4 83.8h0M137.7 74.8h0M152.6 118.7h0M143.6 85.8h0M135.7 77.2h0M131.6 74.9h0M138.0 105.5h0M135.7 67.9h0M145.7 107.6h0M134.5 94.5h0M136.9 73.8h0M133.6 68.6h0M131.0 71.7h0M147.0 104.8h0M133.8 94.8h0M150.2 113.5h0M144.2 91.0h0M143.5 96.0h0M143.8 85.2h0M135.9 101.1h0M138.0 98.6h0M140.2 97.2h0M134.7 95.3h0M133.3 77.9h0M145.4 96.6h0M146.9 114.4h0M142.5 88.8h0M140.7 98.6h0M148.3 118.1h0M144.1 97.6h0M132.7 88.6h0M144.0 118.4h0M139.0 97.8h0M150.5 119.6h0M136.5 102.1h0M139.7 78.6h0M132.3 89.6h0M149.8 114.3h0M141.1 90.2h0M146.2 119.6h0M138.8 79.9h0M147.9 103.4h0M134.7 94.9h0M146.5 102.5h0M142.4 93.1h0M136.0 88.1h0M149.8 110.6h0M149.0 107.6h0M150.5 117.4h0M147.7 109.6h0M149.7 122.5h0M152.1 118.8h0M132.5 77.1h0M131.9 75.0h0M151.2 114.5h0M140.5 105.2h0M137.0 78.0h0M141.8 94.7h0M141.9 109.1h0" stroke="#ef6458" stroke-width="1.2" stroke-linecap="round" fill="none"/><path d="M141.2 63.4h0M148.6 54.5h0M178.6 62.1h0M153.7 53.3h0M140.6 61.3h0M153.2 55.9h0M144.6 50.2h0M147.9 50.3h0M164.4 58.3h0M163.8 57.4h0M156.6 53.2h0M147.8 53.0h0M158.2 55.5h0M163.5 58.6h0M155.2 55.8h0M135.4 63.6h0M156.7 53.3h0M149.1 58.5h0M160.8 57.5h0M158.7 51.8h0M148.9 60.0h0M133.9 60.5h0M150.1 59.1h0M140.7 54.4h0M144.3 60.8h0M145.6 60.2h0M147.8 56.7h0M164.5 58.0h0M142.8 54.6h0M178.6 64.8h0M152.2 52.3h0M174.6 62.7h0M159.4 57.6h0M146.8 58.7h0M134.0 61.8h0M155.8 58.7h0M142.7 56.5h0M147.6 48.2h0M177.7 63.8h0M172.4 60.6h0M145.1 47.5h0M166.9 61.3h0M142.4 57.7h0M171.0 61.7h0M174.5 58.2h0M172.9 62.6h0M143.7 53.9h0M139.0 48.9h0M158.6 56.4h0M137.0 66.1h0M164.8 57.2h0M145.9 54.9h0M135.1 61.4h0M137.9 51.6h0M136.0 65.3h0M178.4 63.4h0M183.3 66.8h0M169.0 59.6h0M148.6 49.0h0M145.9 50.6h0M160.7 51.6h0M143.6 59.5h0M151.8 51.8h0M165.1 60.7h0M133.1 64.4h0M149.6 53.2h0M164.8 52.3h0M145.9 48.5h0M165.8 60.2h0M142.2 54.4h0M139.3 65.7h0M166.0 53.1h0M158.0 59.6h0M171.1 57.7h0M151.6 55.3h0M164.3 58.1h0M134.4 60.7h0M143.3 61.3h0M134.6 56.3h0M149.4 53.2h0M155.4 57.9h0M137.7 58.0h0M149.3 51.5h0M154.6 53.9h0M164.2 52.4h0M165.3 56.7h0M147.9 54.7h0M134.4 54.9h0M137.5 60.5h0M149.0 52.8h0M142.9 51.1h0M155.4 57.8h0M142.7 55.2h0M179.2 62.9h0M172.7 58.6h0M141.8 60.2h0M134.5 57.3h0M177.6 65.5h0M170.3 55.2h0M146.6 48.1h0M174.9 62.1h0M143.5 60.3h0M158.3 58.3h0M153.4 58.2h0M160.9 52.7h0M150.8 49.2h0M143.5 58.7h0M152.0 49.6h0M146.3 57.0h0M141.9 58.6h0M156.4 50.5h0M167.1 59.9h0M172.3 59.5h0M147.7 55.2h0M160.9 50.9h0M159.1 54.3h0M145.5 55.8h0M155.7 48.4h0M174.3 59.1h0M178.4 62.3h0M151.6 53.8h0M173.2 61.2h0M149.3 51.7h0M146.7 60.9h0M155.8 50.5h0M139.2 63.7h0M141.5 49.3h0M152.7 50.1h0M157.4 56.0h0M132.5 64.5h0M179.0 65.4h0M154.2 48.0h0M168.5 55.8h0M148.0 50.3h0M154.1 52.0h0M157.2 58.4h0M152.8 58.9h0M153.2 56.7h0M140.0 52.6h0M138.8 62.7h0M143.0 48.4h0M172.0 58.4h0M139.9 53.3h0M159.7 59.9h0M139.4 51.6h0M141.4 54.1h0M147.8 46.7h0M166.1 54.7h0M135.8 56.8h0M144.4 55.3h0M174.6 60.4h0M143.9 54.2h0M171.8 58.0h0M137.2 53.6h0M143.7 52.3h0M138.4 55.1h0M138.4 57.8h0M140.7 63.6h0M162.5 54.2h0M156.8 58.2h0M161.3 51.2h0M167.5 59.6h0M143.6 56.4h0M142.4 57.3h0M148.1 47.3h0M149.2 48.1h0M154.6 54.2h0M158.5 56.1h0M149.5 46.8h0M133.6 66.1h0M138.5 49.9h0M148.3 46.3h0M149.5 51.8h0M147.6 47.1h0M171.5 61.9h0M169.4 61.1h0M161.2 59.3h0M155.9 55.2h0M156.4 59.2h0M160.7 54.3h0M140.5 61.4h0M147.2 56.5h0M144.3 47.6h0M150.5 54.4h0M180.2 62.3h0M180.2 63.9h0M154.2 49.9h0M149.0 54.9h0M173.1 60.4h0M139.1 50.2h0M160.2 50.7h0M165.5 59.6h0M176.8 60.7h0M141.9 50.3h0M163.7 57.8h0M153.7 56.7h0M142.4 54.9h0M142.5 56.4h0M156.2 57.7h0M138.1 53.9h0M157.0 56.2h0M173.0 61.8h0M154.0 50.7h0M170.2 61.5h0M134.8 55.9h0M146.8 57.5h0M166.6 59.0h0M146.5 55.0h0M146.5 49.8h0M143.2 56.5h0M178.5 65.4h0M141.7 59.7h0M150.4 49.3h0M145.9 60.0h0M175.9 63.8h0M161.8 55.4h0M169.7 58.8h0M174.1 63.0h0M164.7 57.0h0M133.7 56.4h0M151.4 55.3h0M150.9 47.7h0M158.6 53.4h0M153.4 48.6h0M148.4 48.0h0M177.4 61.5h0M148.4 60.1h0M140.6 55.8h0M165.5 55.5h0M159.3 55.8h0M153.0 58.4h0M152.3 52.2h0M139.6 56.1h0M143.9 62.0h0M146.5 54.7h0M182.5 65.5h0M142.9 50.6h0M145.5 54.6h0M147.1 59.0h0M153.2 52.2h0M175.7 62.6h0M142.3 48.5h0M160.9 55.4h0M179.1 61.6h0M148.2 48.9h0M146.9 47.4h0M165.4 59.7h0M144.7 48.1h0M141.8 49.1h0M150.1 53.4h0M149.0 52.8h0M135.2 59.9h0M157.3 59.3h0M172.1 58.0h0M154.4 54.9h0M179.7 63.3h0M137.9 50.3h0M166.4 57.7h0M152.8 54.7h0M143.3 54.7h0M144.0 50.0h0M150.1 58.8h0M174.6 58.1h0M171.5 59.7h0M138.4 60.9h0M150.6 55.3h0M146.1 48.6h0M151.0 52.6h0M141.4 61.2h0M173.1 61.1h0M137.8 51.5h0M135.5 63.3h0M165.2 53.4h0M161.2 56.8h0M145.2 57.6h0M131.9 61.7h0M154.4 58.9h0M158.1 58.4h0M157.7 53.3h0M134.7 63.0h0M141.8 49.2h0M138.6 63.0h0M157.1 53.5h0M164.0 56.0h0M147.3 50.7h0M140.3 58.4h0M146.5 57.7h0M140.6 55.6h0M147.4 50.4h0M161.0 58.7h0M143.2 57.5h0M163.6 53.2h0M171.5 58.4h0M153.7 47.6h0M156.3 56.1h0M142.2 57.3h0M181.5 65.2h0M143.7 56.3h0M135.4 64.6h0M170.9 60.8h0M136.0 55.9h0M156.7 49.2h0M138.4 52.5h0M163.4 52.0h0M169.7 61.3h0M176.9 61.0h0M136.2 63.1h0M181.6 65.2h0M180.7 65.5h0M136.0 55.8h0M162.2 51.4h0M142.8 61.1h0M151.7 48.1h0M145.4 56.1h0M173.3 63.3h0M171.6 58.8h0M135.1 62.1h0M162.4 53.6h0M148.1 56.8h0M138.6 51.3h0M148.3 49.5h0M146.0 54.4h0M138.6 52.4h0M182.1 66.6h0M165.1 54.7h0M140.4 60.2h0M182.1 66.6h0M173.1 59.8h0M156.2 51.4h0M175.7 60.5h0M132.9 63.4h0M134.0 65.0h0M145.2 57.5h0M177.3 64.9h0M139.4 63.7h0M173.9 61.9h0M155.4 58.6h0M146.4 50.0h0M148.4 52.1h0M149.2 57.2h0M139.8 55.6h0M149.9 54.2h0M150.7 46.5h0M151.5 53.3h0M137.2 52.5h0M148.3 58.5h0M173.5 60.4h0M172.2 60.8h0M142.9 62.9h0M150.0 58.8h0M148.0 59.5h0M134.6 53.7h0M150.1 58.8h0M142.6 53.0h0M151.2 56.5h0M171.9 58.9h0M133.3 64.1h0M134.4 57.1h0M142.1 56.0h0M134.9 56.6h0M167.2 57.3h0M155.1 58.5h0M151.8 56.8h0M145.0 60.3h0M149.1 57.0h0M153.0 51.4h0M140.5 52.5h0M134.8 65.3h0M165.4 56.7h0M158.6 53.7h0M170.0 56.5h0M168.5 55.1h0M140.0 50.1h0M155.6 51.0h0M160.1 52.3h0M147.7 47.2h0M155.6 52.4h0M157.2 53.6h0M141.9 50.4h0M158.2 54.2h0M137.9 59.2h0M149.3 56.7h0M144.4 46.5h0M147.5 54.1h0M148.0 49.5h0M161.1 56.9h0M170.0 57.3h0M156.9 49.2h0M160.1 57.1h0M173.2 57.5h0M154.8 59.2h0M134.4 57.2h0M135.6 56.7h0M163.6 54.0h0M140.5 52.7h0M163.9 58.0h0M136.1 63.4h0M166.9 55.5h0M165.1 54.2h0M145.1 50.6h0M133.4 55.6h0M149.7 52.3h0M147.9 51.1h0M167.6 61.0h0M176.2 63.9h0M179.7 64.1h0M160.8 58.4h0M149.9 55.7h0M136.0 67.4h0M165.1 58.1h0M156.7 57.2h0M171.7 58.7h0M147.1 46.0h0M133.0 57.7h0M155.4 49.6h0M139.7 50.0h0M153.4 58.3h0M154.3 56.6h0M140.4 49.9h0M152.3 47.5h0M145.8 47.5h0M135.2 63.0h0M158.0 53.8h0M141.9 50.5h0M181.6 65.4h0M133.3 61.2h0M155.6 50.6h0M150.0 47.2h0M147.4 48.2h0M156.8 51.3h0M180.1 63.4h0M150.1 57.6h0M150.8 50.8h0M142.5 50.4h0M144.1 60.1h0M145.6 57.3h0M150.0 54.5h0M148.0 48.6h0M146.2 60.5h0M147.0 60.2h0M178.2 63.9h0M142.6 50.3h0M134.1 66.7h0M146.2 54.3h0M174.2 62.5h0M137.3 52.2h0M173.2 60.9h0M153.6 48.5h0M140.3 53.3h0M177.1 61.1h0M160.7 57.4h0M133.8 57.7h0M143.7 53.3h0M144.7 60.2h0M140.1 61.7h0M140.4 53.3h0M140.5 54.8h0M150.9 57.5h0M143.7 47.3h0M172.8 61.8h0M164.6 60.0h0M155.2 52.5h0M148.0 55.2h0M137.2 61.6h0M140.4 58.5h0M180.2 63.8h0M143.4 51.7h0M142.7 56.7h0M147.3 49.5h0M174.9 61.9h0M155.3 55.2h0M144.3 59.3h0M177.3 63.3h0M135.1 57.9h0M145.6 60.9h0M166.3 59.8h0M147.3 56.7h0M133.3 61.5h0M180.7 64.9h0M160.0 58.2h0M152.1 56.8h0M172.8 58.1h0M156.0 54.5h0M154.1 47.8h0M150.9 56.5h0M154.1 53.4h0M164.3 55.7h0M148.2 56.4h0M148.3 51.2h0M146.1 53.5h0M146.0 53.8h0M149.3 51.9h0M159.9 53.6h0M159.0 51.2h0M142.4 59.2h0M137.4 50.7h0M136.2 61.0h0M139.8 51.7h0M156.0 52.9h0M150.4 48.6h0M141.1 61.3h0M143.1 61.6h0M152.0 51.8h0M143.1 55.6h0M153.8 47.4h0M150.5 48.4h0M139.2 49.6h0M135.2 57.8h0M141.9 50.0h0M177.2 62.3h0M140.0 59.6h0M145.8 56.8h0M162.4 54.4h0M152.2 58.4h0M161.7 59.3h0M142.2 56.7h0M138.5 57.1h0M153.7 49.9h0M132.8 61.2h0M160.5 58.8h0M168.8 57.2h0M135.5 51.8h0M140.2 65.1h0M146.5 51.0h0M155.2 56.7h0M150.7 55.8h0M147.8 47.6h0M138.2 50.4h0M171.8 57.6h0M141.7 49.6h0M174.9 62.0h0M132.7 58.6h0M169.0 58.9h0M145.5 55.7h0M137.3 58.5h0M167.6 57.1h0M151.2 46.5h0M171.3 59.4h0M176.8 60.4h0M160.3 54.1h0M175.8 59.7h0M160.6 59.3h0M146.4 55.3h0M149.4 52.4h0M159.4 56.3h0M152.6 52.3h0M140.9 53.9h0M141.8 47.9h0M171.7 56.6h0M139.5 57.1h0M154.4 50.3h0M133.5 58.8h0M144.5 46.7h0M143.8 51.7h0M161.7 51.7h0M150.4 51.2h0M132.7 64.2h0M145.4 61.3h0M140.7 61.2h0M149.6 55.8h0" stroke="#b3261c" stroke-width="1.35" stroke-linecap="round" fill="none"/><path d="M146.3 60.6h0M138.7 67.9h0M138.8 65.2h0M138.6 68.2h0M143.9 58.8h0M139.6 70.6h0M139.7 72.4h0M147.5 69.3h0M140.9 63.5h0M147.2 69.3h0M146.0 68.4h0M140.9 65.8h0M138.9 64.2h0M143.4 69.3h0M139.9 68.3h0M140.9 69.8h0M145.2 60.2h0M145.4 61.4h0M144.5 58.8h0M145.6 63.6h0M144.3 59.1h0M142.0 64.2h0M137.8 64.8h0M145.7 71.0h0M143.0 67.9h0M145.7 65.7h0M144.9 60.8h0M145.2 72.7h0M144.4 69.7h0M140.4 60.8h0M140.6 59.7h0M146.9 64.9h0M141.5 67.7h0M140.4 69.4h0M146.7 66.6h0M139.9 70.6h0M137.2 62.9h0M141.9 71.7h0M143.0 65.4h0M143.5 72.9h0M140.5 61.0h0M142.5 60.2h0M138.9 68.5h0M141.4 60.8h0M146.1 68.2h0M142.7 65.7h0M147.4 68.4h0M143.9 72.8h0M138.8 65.9h0M142.8 63.2h0M143.1 67.3h0M140.9 66.8h0M146.4 70.1h0M139.1 67.8h0M142.3 68.8h0M138.8 63.2h0M146.7 69.2h0M139.6 70.8h0M140.8 60.5h0M143.5 64.2h0" stroke="#b3261c" stroke-width="1.2" stroke-linecap="round" fill="none"/><path d="M149.0 126.5C149.6 127.5 148.7 131.2 148.0 134.0C147.3 136.8 146.1 139.7 145.0 143.0C143.9 146.3 142.5 151.2 141.5 154.0C140.5 156.8 140.3 158.6 139.0 160.0C137.7 161.4 135.6 162.7 133.5 162.5C131.4 162.3 128.3 160.6 126.5 159.0C124.7 157.4 122.9 155.2 122.5 153.0C122.1 150.8 122.8 148.4 124.0 146.0C125.2 143.6 127.7 140.8 130.0 138.5C132.3 136.2 135.6 133.8 138.0 132.0C140.4 130.2 142.7 128.9 144.5 128.0C146.3 127.1 148.4 125.5 149.0 126.5Z" fill="#52a588" opacity="0.55"/><path d="M123.5 152.3h0M136.7 134.3h0M127.2 143.9h0M135.6 146.4h0M136.7 136.8h0M137.3 150.2h0M128.3 148.4h0M144.3 130.9h0M136.9 160.0h0M133.3 149.5h0M142.8 139.6h0M125.4 151.5h0M135.3 146.4h0M126.3 145.8h0M134.2 150.0h0M136.8 154.3h0M144.7 139.4h0M129.3 144.8h0M138.7 156.8h0M127.2 148.7h0M136.8 134.1h0M145.2 131.4h0M143.2 129.1h0M146.1 136.3h0M141.0 150.4h0M140.4 154.3h0M129.7 142.4h0M138.2 152.1h0M133.3 139.3h0M136.8 140.9h0M140.6 138.3h0M124.0 151.6h0M124.2 146.6h0M136.9 144.8h0M132.8 157.7h0M126.4 156.0h0M128.6 147.9h0M131.8 137.5h0M132.2 148.8h0M132.1 138.6h0M132.0 157.1h0M142.7 140.2h0M141.8 150.7h0M141.2 137.9h0M139.5 157.2h0M141.8 131.7h0M143.1 145.7h0M135.6 157.2h0M134.1 151.0h0M136.6 156.7h0M137.3 145.5h0M138.8 140.5h0M138.1 155.5h0M131.8 151.8h0M141.9 151.2h0M127.1 142.5h0M138.5 158.3h0M127.6 155.0h0M126.7 145.8h0M130.5 151.5h0M133.8 136.3h0M136.6 158.6h0M141.3 148.7h0M142.9 130.6h0M137.6 135.9h0M130.1 145.1h0M144.0 140.6h0M140.4 146.8h0M134.3 145.2h0M140.3 146.0h0M144.2 138.2h0M126.4 155.6h0M141.2 147.0h0M136.5 139.3h0M143.2 131.4h0M133.3 143.4h0M126.9 144.5h0M142.8 129.8h0M140.7 142.0h0M138.8 138.7h0M128.3 144.7h0M129.1 152.6h0M142.4 140.9h0M148.4 130.8h0M138.8 157.4h0M130.7 140.7h0M144.5 137.5h0M128.7 143.1h0M133.4 138.4h0M127.9 156.5h0M140.1 146.7h0M139.7 135.5h0M139.5 145.7h0M136.2 137.7h0M132.4 144.4h0M137.4 139.4h0M131.7 147.1h0M139.1 153.1h0M131.9 149.5h0M141.9 148.0h0M138.7 136.2h0M137.7 139.7h0M130.6 145.0h0M129.6 157.2h0M128.7 145.0h0M140.8 147.9h0M135.2 140.6h0M133.0 142.9h0M130.5 151.7h0M125.4 155.3h0M131.9 158.3h0M128.8 154.3h0M145.2 138.2h0M137.5 154.4h0M134.6 148.6h0M137.7 159.6h0M136.8 133.0h0M130.7 159.2h0M130.0 147.1h0M126.9 144.2h0M135.3 150.4h0M137.3 140.7h0M145.1 133.2h0M136.5 136.5h0M137.3 145.2h0M138.9 151.0h0M147.3 135.9h0M127.0 155.1h0M124.7 149.6h0M126.1 144.2h0M138.5 152.3h0M132.2 143.5h0M138.7 144.5h0M144.4 129.7h0M133.8 157.9h0M127.4 145.2h0M138.7 158.9h0M133.4 159.5h0M131.1 150.9h0M145.5 132.9h0M141.9 136.6h0M146.3 136.9h0M133.1 157.0h0M133.3 147.3h0M138.1 154.9h0M134.4 158.3h0M136.2 158.0h0M142.9 141.4h0M129.8 157.0h0M138.4 134.0h0M137.8 148.1h0M138.3 133.2h0M137.3 137.9h0M134.0 161.8h0M132.6 143.3h0M129.3 141.1h0M147.3 131.7h0M129.7 159.4h0M134.7 152.6h0M147.5 132.9h0M124.2 151.8h0M141.1 151.7h0M137.4 144.5h0M133.2 157.1h0M142.1 152.1h0M142.9 129.6h0M134.7 139.4h0M130.5 147.1h0M135.8 155.8h0M129.9 144.5h0M132.8 137.0h0M137.9 148.0h0M130.2 147.9h0M132.6 160.8h0M140.7 143.5h0M136.4 142.6h0M137.7 143.6h0M123.4 153.5h0M136.5 133.8h0M131.4 151.9h0M140.6 155.1h0M141.0 138.5h0M140.2 155.2h0M141.1 148.2h0M130.3 154.1h0M138.0 158.7h0M147.3 132.0h0M142.1 149.3h0M135.7 159.1h0M143.2 128.9h0M133.1 156.9h0M141.6 144.1h0M134.6 140.6h0M132.2 139.3h0M135.0 147.8h0M139.2 147.2h0M135.5 145.2h0M130.4 145.7h0M130.4 148.2h0M130.6 141.7h0M134.5 148.7h0M134.7 159.1h0M141.7 136.1h0M137.2 134.9h0M136.1 140.7h0M142.8 135.8h0M135.9 145.5h0M130.7 141.4h0M131.3 151.0h0M137.9 152.2h0M147.1 131.4h0M127.1 146.5h0M134.7 157.9h0M134.4 142.5h0M135.3 154.0h0M142.3 132.7h0M146.3 131.7h0M122.9 151.7h0M140.8 154.6h0M123.5 149.8h0M142.7 139.0h0M142.8 140.1h0M134.6 151.2h0M140.7 149.8h0M126.2 151.3h0M139.2 147.9h0M139.9 153.6h0M135.0 136.9h0M143.8 145.2h0M125.7 149.3h0M128.7 159.7h0M133.1 155.6h0M138.9 156.1h0M124.5 152.2h0M145.1 139.0h0M145.0 139.1h0M144.6 138.4h0M137.2 148.9h0M131.7 142.0h0M147.5 131.1h0M141.3 130.7h0M136.3 147.3h0M135.1 159.2h0M123.4 152.1h0M124.4 145.7h0M148.3 131.7h0M134.2 137.5h0M133.0 161.8h0M126.2 156.4h0M143.6 143.0h0M140.8 146.3h0M123.9 148.5h0M136.7 155.9h0M140.3 140.2h0M133.9 162.2h0M128.4 157.7h0M142.3 139.4h0M140.6 151.1h0M129.7 146.6h0M141.7 142.4h0M130.9 154.6h0M139.5 150.8h0M146.4 133.2h0M138.6 135.4h0M145.7 140.4h0M129.5 151.9h0M131.3 157.0h0M129.9 158.7h0M145.2 131.3h0M141.8 129.8h0M126.6 149.6h0M144.2 138.2h0M131.7 157.9h0M138.6 140.8h0M145.6 131.6h0M127.8 148.7h0M135.6 151.1h0M127.1 152.5h0M130.4 140.3h0M139.3 140.2h0M138.5 150.4h0M138.0 157.9h0M131.4 156.6h0M145.4 135.6h0M138.7 149.7h0M129.4 145.1h0M143.4 143.7h0M142.5 131.8h0M135.5 160.8h0M148.1 130.0h0M134.4 155.3h0M137.8 146.0h0M140.0 134.6h0M128.7 144.2h0M140.2 155.1h0M124.9 153.9h0M134.2 155.5h0M141.0 154.4h0M136.6 136.0h0M143.8 135.4h0M144.8 138.6h0M136.9 136.7h0M130.4 138.3h0M139.1 153.3h0M124.2 148.2h0M143.2 129.4h0M133.3 156.2h0M148.4 127.7h0M129.8 144.2h0M130.4 152.1h0M132.1 143.7h0M133.4 154.5h0M136.9 140.4h0M125.0 151.6h0M146.0 128.3h0M131.6 152.7h0M141.6 146.5h0M137.8 140.1h0M148.4 128.5h0M132.8 141.2h0M128.0 142.4h0M142.8 133.4h0M124.5 155.6h0M137.7 156.3h0M134.9 146.6h0M130.8 149.6h0M145.0 141.2h0M131.6 154.0h0M133.2 138.7h0M135.9 147.9h0M140.3 156.3h0M139.2 135.6h0M144.7 130.1h0M133.1 157.2h0M123.5 151.9h0M134.6 153.0h0M140.2 148.8h0M137.4 136.7h0M131.9 160.1h0M135.3 136.9h0M137.6 160.4h0M144.8 133.6h0M148.4 127.3h0M132.2 140.2h0M142.8 136.7h0M139.2 143.7h0M143.7 135.2h0M139.1 146.9h0M132.9 160.8h0M141.6 145.2h0M142.4 138.7h0M140.9 146.0h0M133.0 153.1h0M129.0 151.8h0M133.6 161.3h0M145.1 134.5h0M138.2 139.7h0M148.5 127.4h0M140.5 152.7h0M135.2 154.3h0M144.8 131.0h0M137.4 137.2h0M128.7 160.0h0M145.7 132.8h0M131.5 139.3h0M125.4 146.4h0M132.7 143.7h0M147.0 129.3h0M131.9 146.0h0M136.2 158.0h0M136.8 150.5h0M140.2 139.9h0M140.4 130.7h0M144.9 141.3h0M133.5 154.9h0M130.4 151.1h0M142.5 148.4h0M132.1 160.2h0M127.4 156.4h0M127.8 143.5h0M131.0 147.7h0M131.5 154.9h0M137.9 132.4h0M148.0 131.4h0M145.4 138.2h0M139.2 159.4h0M134.4 138.0h0M124.0 150.6h0M140.3 151.0h0M138.6 138.1h0M131.2 159.0h0M138.7 145.6h0M134.2 138.9h0M125.4 147.6h0M132.4 137.9h0M134.8 159.8h0M148.3 130.5h0M142.2 136.8h0M141.6 138.1h0M128.1 152.3h0M142.5 137.1h0M137.0 137.5h0M142.9 143.5h0M128.3 146.1h0M126.1 152.0h0M127.2 147.4h0M140.5 144.7h0M128.4 159.2h0M136.9 155.0h0M143.3 135.7h0M136.1 153.0h0M138.0 142.0h0M131.2 140.0h0M135.2 138.7h0M138.8 131.9h0M132.7 160.0h0M135.8 155.8h0M127.3 156.0h0M127.0 157.4h0M143.1 138.3h0M139.4 151.1h0M128.7 141.0h0M141.4 147.7h0M133.5 155.3h0M137.6 149.6h0M146.5 128.5h0M139.4 147.2h0M130.7 149.2h0M134.8 138.8h0M136.7 155.3h0M128.7 158.6h0M145.2 130.5h0M126.8 156.1h0M135.5 149.4h0M134.3 161.3h0M140.3 141.6h0M131.1 152.8h0M138.1 160.1h0M137.5 146.5h0M130.8 143.3h0M136.8 158.9h0M141.2 138.7h0M130.3 140.9h0M138.7 156.7h0M138.0 158.0h0M124.4 148.5h0M128.5 147.6h0M128.8 145.6h0M127.0 146.3h0M144.8 130.9h0M126.3 149.6h0M145.4 131.4h0M142.7 145.7h0M137.9 132.2h0M140.4 131.0h0M132.4 158.0h0M133.7 150.7h0M142.5 133.9h0M137.5 155.6h0M131.4 143.1h0M140.0 153.2h0M135.8 159.6h0M140.6 130.9h0M126.1 150.6h0M124.8 147.8h0M141.9 146.5h0M141.4 130.0h0M132.7 138.0h0M136.5 144.5h0M141.6 142.7h0M133.9 150.0h0M135.2 134.7h0M142.4 131.4h0M136.0 144.2h0M143.4 133.3h0M136.2 141.7h0M132.4 143.9h0M131.4 151.9h0M133.8 137.3h0M139.9 156.4h0M123.0 152.1h0M133.7 140.1h0M144.1 138.1h0M133.3 157.5h0M135.7 135.3h0M143.1 146.9h0M134.5 153.8h0M141.0 132.0h0M147.7 129.3h0M139.7 140.4h0M133.3 150.9h0M134.4 154.2h0M143.1 142.2h0M124.8 149.5h0M126.0 145.6h0M139.2 143.7h0M135.3 137.2h0M135.1 151.0h0M139.1 146.3h0M141.1 143.8h0M134.0 159.5h0M123.3 154.1h0M137.4 141.5h0M137.6 159.0h0M131.6 155.3h0M138.3 144.0h0M135.5 158.6h0M133.7 157.6h0M136.0 137.5h0M130.9 158.9h0M147.0 135.4h0M123.3 151.1h0M138.1 138.5h0M129.0 152.7h0M143.0 131.8h0M131.2 138.2h0M129.9 154.0h0M143.5 129.0h0M133.9 161.5h0M124.9 145.0h0M138.8 159.2h0M148.6 128.5h0M128.8 143.3h0M135.1 159.5h0M141.6 147.9h0M127.1 150.8h0M135.7 151.1h0M131.1 141.1h0M136.0 154.9h0M136.5 133.9h0M135.3 147.1h0M123.8 147.5h0M137.4 149.7h0M140.3 153.8h0M129.7 149.3h0M146.1 139.6h0M129.2 146.0h0M129.6 160.3h0M126.8 147.3h0M131.0 151.8h0M140.8 132.2h0M131.8 161.3h0M138.3 155.9h0M144.1 137.8h0M131.4 151.3h0M143.4 144.9h0M136.8 133.7h0M138.1 152.5h0M137.4 148.5h0M131.6 147.0h0M147.7 132.6h0M128.3 151.7h0M141.3 144.2h0M142.5 145.6h0M130.8 139.7h0M126.2 143.6h0M147.9 128.2h0M135.9 156.1h0M142.7 131.6h0M130.6 146.8h0M145.7 135.7h0M140.9 153.5h0M135.5 134.7h0M125.3 150.0h0M126.4 148.7h0M135.1 154.7h0M142.6 137.9h0M131.1 146.1h0M142.1 129.6h0M147.1 133.0h0M125.2 145.0h0M135.6 142.5h0M141.8 146.7h0M133.7 158.1h0M128.0 145.4h0M124.3 155.0h0M127.8 146.9h0M138.6 133.5h0M131.5 160.5h0M139.6 132.7h0M138.8 136.1h0M128.7 152.8h0M142.8 132.2h0M141.8 140.5h0M134.4 153.2h0M130.4 143.8h0M136.6 138.7h0M134.8 142.9h0M133.7 158.3h0M135.4 153.0h0M136.0 159.1h0M144.5 137.4h0M139.1 157.9h0M132.6 151.8h0M138.3 158.9h0M142.0 136.9h0M147.5 128.9h0M124.7 147.4h0M135.7 157.1h0M138.1 158.0h0M140.5 137.2h0M137.7 153.2h0M136.0 137.1h0M134.4 145.2h0M138.8 132.6h0M141.1 142.7h0M140.0 139.0h0M135.8 155.3h0M145.7 131.4h0M136.2 136.4h0M129.9 150.2h0M136.4 141.8h0M137.6 138.4h0M147.7 127.1h0M125.4 147.5h0M135.1 157.9h0M143.3 145.3h0M131.1 137.9h0M144.9 139.6h0M140.5 137.0h0M135.8 139.2h0M139.1 142.8h0M130.9 140.3h0M134.2 137.5h0M132.3 143.3h0M147.7 128.6h0M131.2 148.4h0M124.0 149.8h0M140.0 139.2h0M131.3 155.1h0M130.4 145.4h0M130.9 138.3h0M137.5 157.0h0M143.8 140.4h0M148.3 130.0h0M144.1 133.6h0M133.3 162.3h0M129.2 154.4h0M129.2 141.8h0M133.8 161.2h0M140.3 154.5h0M143.8 144.8h0M148.5 130.1h0M126.3 154.1h0M137.7 136.2h0M132.7 161.8h0M134.0 146.8h0M140.8 145.7h0M128.2 151.0h0M135.8 150.6h0" stroke="#4fa286" stroke-width="1.3" stroke-linecap="round" fill="none"/><line x1="151.50" y1="127.00" x2="168.00" y2="167.00" stroke="#e99a95" stroke-width="1.6" /><path d="M164.2 160.1h0M164.8 159.7h0M151.8 127.1h0M155.7 138.1h0M158.4 143.8h0M161.9 152.7h0M162.7 151.3h0M159.3 142.7h0M164.5 155.9h0M161.5 151.2h0M160.9 152.0h0M155.6 136.4h0M155.3 132.3h0M168.0 166.3h0M159.5 147.1h0M155.6 134.8h0M159.4 147.9h0M167.7 165.1h0M166.5 165.9h0M154.6 134.7h0M168.3 166.7h0M153.1 126.7h0M158.7 141.9h0M153.0 126.4h0M155.4 134.8h0M166.9 163.8h0M161.4 151.4h0M155.3 132.6h0M164.9 159.7h0M157.2 136.9h0M159.6 144.7h0M164.5 157.7h0M165.0 157.0h0M165.8 163.4h0M166.1 159.7h0M162.7 153.1h0M161.2 148.3h0M155.7 135.4h0M165.1 157.7h0M152.0 127.1h0" stroke="#e58a85" stroke-width="1.0" stroke-linecap="round" fill="none"/><path d="M73.0 129.0C73.6 127.7 76.2 127.3 77.5 127.5C78.8 127.7 80.4 128.8 81.0 130.0C81.6 131.2 82.2 134.1 81.0 135.0C79.8 135.9 75.3 136.5 74.0 135.5C72.7 134.5 72.4 130.3 73.0 129.0Z" fill="#f4c878" opacity="0.45"/><path d="M75.1 131.6h0M79.1 128.3h0M81.2 134.6h0M76.6 127.9h0M77.6 127.2h0M73.3 132.5h0M75.5 135.3h0M78.1 133.2h0M80.5 131.5h0M76.0 132.8h0M73.0 128.6h0M78.2 128.6h0M74.0 130.0h0M79.8 132.5h0M79.8 133.5h0M79.5 131.7h0M81.6 133.6h0M77.1 132.5h0M76.9 130.1h0M78.7 134.5h0M78.5 127.5h0M75.9 130.8h0M81.9 129.7h0M76.2 132.0h0M80.4 128.6h0M76.5 133.5h0M73.0 129.1h0M74.3 131.9h0M79.4 134.2h0M73.0 130.3h0M72.9 129.6h0M79.9 131.3h0M75.0 130.7h0M79.0 127.8h0M80.2 134.9h0M76.5 128.4h0M78.8 134.3h0M74.3 128.5h0M81.5 134.8h0M78.8 127.5h0M73.2 132.2h0M81.6 133.6h0M77.7 132.4h0M76.7 134.6h0M76.7 135.0h0M76.4 131.2h0M76.2 129.0h0M76.1 130.4h0M80.1 129.9h0M79.4 132.3h0M78.0 134.1h0M77.8 127.5h0M74.9 135.1h0M76.0 130.6h0M74.7 134.1h0M77.1 131.4h0M80.6 128.5h0M79.9 133.7h0M80.0 131.7h0M72.9 128.7h0M79.1 128.2h0M78.0 130.6h0M81.3 133.9h0M75.6 128.1h0M77.4 132.7h0M73.4 129.9h0M79.5 135.3h0M73.0 130.1h0M77.1 135.5h0M80.9 134.2h0M73.6 133.8h0M76.1 131.6h0M73.9 128.4h0M75.3 131.6h0M74.7 131.7h0M80.9 131.2h0M75.8 133.1h0M80.3 135.2h0M81.1 128.7h0M81.0 130.0h0M75.5 129.6h0M79.9 132.7h0M73.5 129.7h0M77.8 134.5h0M78.1 133.0h0M75.1 134.7h0M78.2 132.4h0M74.8 132.1h0M75.2 130.6h0M81.4 131.0h0" stroke="#f2c274" stroke-width="1.3" stroke-linecap="round" fill="none"/><path d="M81.4 130.5h0M81.7 132.3h0M81.6 132.3h0M83.5 130.5h0M84.4 133.9h0M84.5 129.3h0M82.4 128.9h0M84.8 133.5h0M80.5 129.6h0M80.9 131.2h0M86.3 128.9h0M86.2 130.4h0M84.0 131.6h0M87.0 133.6h0" stroke="#f5d49a" stroke-width="1.1" stroke-linecap="round" fill="none"/><path d="M100.4 149.4h0M91.0 133.1h0M92.3 131.4h0M91.2 144.9h0M97.5 152.0h0M88.7 142.5h0M90.2 138.8h0M90.1 143.0h0M91.1 147.6h0M94.0 150.9h0M96.7 154.7h0M95.4 152.7h0M91.1 149.2h0M96.6 148.4h0M96.1 150.9h0M87.3 144.3h0M93.8 148.6h0M87.7 140.3h0M100.9 151.1h0M90.0 139.8h0M88.8 137.7h0M91.2 133.5h0M90.8 139.0h0M93.3 147.0h0M91.4 130.9h0M89.7 146.2h0M86.7 144.7h0M90.7 147.9h0M90.4 143.9h0M98.5 153.1h0M91.3 139.1h0M94.0 151.7h0M87.9 140.7h0M94.3 151.7h0M92.8 131.0h0M88.7 136.8h0M97.6 149.2h0M95.4 150.0h0M87.8 144.4h0M90.4 138.0h0M91.1 144.9h0M90.7 140.6h0M93.1 131.1h0M96.8 152.8h0M90.8 132.2h0M97.5 151.8h0M90.4 132.6h0M98.3 148.9h0M90.3 147.2h0M93.5 149.7h0M96.0 151.2h0M90.7 147.3h0M87.7 142.2h0M100.2 153.9h0M90.5 136.8h0M95.0 152.9h0M96.6 153.9h0M92.0 131.8h0M88.0 142.6h0M99.2 152.0h0M99.0 150.6h0M87.5 144.2h0M89.6 143.0h0M98.4 151.8h0M93.5 148.4h0M91.5 148.0h0M88.5 142.0h0M87.6 143.4h0M89.0 142.4h0M99.4 154.2h0M97.6 151.6h0M93.0 131.5h0M88.2 139.1h0M90.6 142.8h0M91.1 136.0h0M89.3 141.2h0M95.3 152.5h0M90.6 142.4h0M93.6 150.8h0M90.4 145.9h0M100.9 152.4h0M90.5 142.3h0M90.3 144.2h0M99.5 150.6h0M91.5 140.0h0M87.5 142.4h0M89.0 135.8h0M100.2 152.1h0M87.8 139.4h0M95.2 150.9h0M90.9 131.7h0M89.5 143.2h0M95.2 150.0h0M94.0 149.3h0M97.6 153.5h0M87.2 142.1h0M94.3 150.9h0M90.0 147.9h0M88.9 142.0h0M90.5 142.9h0M91.3 138.7h0M96.9 149.5h0M93.7 151.7h0M90.1 144.7h0M96.2 149.1h0M89.4 134.6h0M95.7 150.2h0M89.6 145.9h0M96.4 153.3h0M96.4 151.9h0M98.8 153.3h0M88.9 139.2h0M88.9 147.0h0M97.3 149.2h0M97.7 154.7h0M87.7 139.7h0M91.7 138.2h0M91.3 146.8h0M94.9 152.0h0M97.6 149.0h0M99.5 153.4h0M89.8 145.4h0M100.6 150.2h0M87.9 140.0h0M95.2 151.9h0M90.5 133.2h0M98.6 153.4h0M94.4 148.7h0M93.9 151.7h0M93.4 150.6h0M99.5 154.6h0M88.7 137.8h0M90.0 142.1h0M92.7 151.0h0M91.6 133.3h0M88.7 143.5h0M89.8 140.8h0M96.0 152.7h0M97.7 152.8h0M91.0 136.1h0M89.3 136.7h0M90.3 138.9h0M87.4 141.7h0M91.3 145.3h0M88.0 140.4h0M98.9 152.6h0M91.3 129.4h0M96.6 153.6h0M90.1 141.4h0M90.0 132.5h0M89.4 135.0h0M91.4 132.1h0M91.1 138.8h0M91.4 130.1h0M98.0 152.2h0M96.7 148.9h0M89.0 146.0h0M97.3 151.8h0M99.1 152.2h0M89.6 142.9h0" stroke="#e0b71e" stroke-width="1.3" stroke-linecap="round" fill="none"/><path d="M95.5 148.5C96.2 147.6 99.6 148.5 100.5 149.5C101.4 150.5 101.8 153.6 101.0 154.5C100.2 155.4 96.9 156.0 96.0 155.0C95.1 154.0 94.8 149.4 95.5 148.5Z" fill="#dcb020" opacity="0.7"/><text x="65.40" y="59.82" font-size="7" textLength="31.60" lengthAdjust="spacingAndGlyphs" stroke="#2b2b2b" stroke-width="0.1">T/NK cells</text><text x="136.00" y="53.72" font-size="7" textLength="46.50" lengthAdjust="spacingAndGlyphs" stroke="#2b2b2b" stroke-width="0.1">Erythroblasts 2</text><text x="102.00" y="88.52" font-size="7" textLength="46.00" lengthAdjust="spacingAndGlyphs" stroke="#2b2b2b" stroke-width="0.1">Erythroblasts 3</text><text x="149.50" y="99.52" font-size="7" textLength="46.50" lengthAdjust="spacingAndGlyphs" stroke="#2b2b2b" stroke-width="0.1">Erythroblasts 1</text><text x="74.60" y="127.52" font-size="7" textLength="13.90" lengthAdjust="spacingAndGlyphs" stroke="#2b2b2b" stroke-width="0.1">MPP</text><text x="83.50" y="152.82" font-size="7" textLength="13.80" lengthAdjust="spacingAndGlyphs" stroke="#2b2b2b" stroke-width="0.1">CMP</text><text x="119.60" y="145.82" font-size="7" textLength="34.10" lengthAdjust="spacingAndGlyphs" stroke="#2b2b2b" stroke-width="0.1">Monocytes</text><text x="151.90" y="160.72" font-size="7" textLength="37.10" lengthAdjust="spacingAndGlyphs" stroke="#2b2b2b" stroke-width="0.1">Plasma cells</text><rect x="208.00" y="102.30" width="36.00" height="27.70" fill="#dadada" rx="3.5" /><text x="226.00" y="111.55" font-size="8.2" text-anchor="middle" font-style="italic" stroke="#2b2b2b" stroke-width="0.1">TP53</text><text x="226.00" y="119.85" font-size="8.2" text-anchor="middle" font-style="italic" stroke="#2b2b2b" stroke-width="0.1">JAK2</text><text x="226.00" y="128.05" font-size="8.2" text-anchor="middle" font-style="italic" stroke="#2b2b2b" stroke-width="0.1">ASXL1</text><path d="M330.0 50.5C332.2 49.2 336.5 49.1 339.0 49.5C341.5 49.9 343.2 51.6 345.0 53.0C346.8 54.4 348.2 56.3 350.0 58.0C351.8 59.7 353.9 61.1 356.0 63.0C358.1 64.9 361.3 66.7 362.5 69.5C363.7 72.3 363.7 77.3 363.0 80.0C362.3 82.7 360.3 85.0 358.5 85.5C356.7 86.0 353.5 82.9 352.0 83.0C350.5 83.1 350.2 83.8 349.5 86.0C348.8 88.2 348.7 93.2 348.0 96.0C347.3 98.8 347.3 100.9 345.5 103.0C343.7 105.1 340.1 106.8 337.0 108.5C333.9 110.2 329.7 112.8 327.0 113.0C324.3 113.2 322.3 111.7 321.0 109.5C319.7 107.3 319.4 103.9 319.0 100.0C318.6 96.1 318.2 89.3 318.7 86.0C319.2 82.7 320.8 81.7 322.0 80.0C323.2 78.3 325.5 78.2 326.0 76.0C326.5 73.8 325.1 70.2 325.0 67.0C324.9 63.8 324.7 59.8 325.5 57.0C326.3 54.2 327.8 51.8 330.0 50.5Z" fill="#ee5b55" opacity="0.35"/><path d="M336.0 68.0C337.0 66.3 340.7 66.0 342.0 67.0C343.3 68.0 344.2 72.0 344.0 74.0C343.8 76.0 342.3 78.5 341.0 79.0C339.7 79.5 336.8 78.8 336.0 77.0C335.2 75.2 335.0 69.7 336.0 68.0Z" fill="#ffffff" opacity="0.6"/><path d="M349.0 67.0C349.8 65.0 353.5 65.2 355.0 66.0C356.5 66.8 357.8 69.8 358.0 72.0C358.2 74.2 357.3 78.0 356.0 79.0C354.7 80.0 351.2 80.0 350.0 78.0C348.8 76.0 348.2 69.0 349.0 67.0Z" fill="#ffffff" opacity="0.6"/><path d="M326.6 91.8h0M329.7 107.7h0M360.1 67.3h0M343.4 52.2h0M327.7 81.2h0M332.5 51.2h0M326.1 91.5h0M323.6 103.4h0M336.9 64.0h0M346.5 55.2h0M347.5 72.9h0M321.1 99.3h0M350.8 63.2h0M353.2 81.2h0M325.6 67.2h0M332.6 102.1h0M326.2 111.0h0M345.1 69.5h0M335.9 103.7h0M346.2 69.7h0M340.4 94.9h0M325.8 89.4h0M356.0 83.3h0M327.8 80.0h0M330.9 84.3h0M345.1 78.5h0M332.6 77.3h0M338.7 67.2h0M330.8 57.0h0M336.3 105.8h0M320.7 92.6h0M349.4 57.6h0M348.5 77.2h0M336.9 96.6h0M348.3 79.2h0M327.1 106.4h0M348.2 67.4h0M338.9 95.4h0M347.5 83.0h0M348.1 70.7h0M331.0 108.5h0M346.9 91.7h0M341.6 64.3h0M347.2 84.7h0M346.5 58.2h0M325.9 72.4h0M334.3 61.0h0M342.9 97.8h0M335.2 73.7h0M347.1 59.2h0M333.8 108.7h0M338.9 85.5h0M347.1 66.0h0M338.6 88.2h0M336.5 79.4h0M335.5 98.3h0M335.3 84.3h0M344.7 59.5h0M342.6 68.3h0M345.2 53.8h0M329.9 105.9h0M334.3 79.5h0M356.2 63.8h0M340.7 57.0h0M325.4 78.4h0M333.6 65.8h0M351.8 71.0h0M341.7 59.8h0M341.3 75.5h0M350.9 64.8h0M330.1 69.6h0M343.3 82.6h0M337.2 49.9h0M358.7 68.5h0M357.4 67.5h0M349.1 59.8h0M337.4 86.8h0M329.6 88.5h0M321.9 106.5h0M350.5 65.1h0M331.8 98.8h0M336.4 56.6h0M342.8 68.7h0M330.4 105.0h0M327.2 100.2h0M326.4 105.7h0M329.1 63.5h0M320.7 107.8h0M339.8 82.8h0M329.4 108.8h0M324.9 84.5h0M324.9 84.1h0M335.9 89.8h0M348.5 68.9h0M340.1 97.7h0M330.4 68.1h0M327.1 92.3h0M326.2 77.5h0M335.3 88.7h0M336.6 66.4h0M335.5 72.0h0M334.5 83.9h0M334.5 89.6h0M332.9 63.3h0M327.5 91.3h0M343.6 54.0h0M332.4 61.4h0M344.1 57.7h0M341.7 53.4h0M344.6 88.7h0M347.8 84.7h0M325.5 111.1h0M333.4 78.4h0M335.3 101.4h0M330.1 69.5h0M322.9 101.9h0M334.8 79.5h0M362.0 73.5h0M323.5 82.2h0M338.0 82.2h0M333.8 88.9h0M348.6 69.9h0M341.9 98.9h0M326.0 70.8h0M334.9 90.5h0M338.6 49.9h0M330.1 111.4h0M344.8 71.2h0M319.7 87.3h0M339.7 86.9h0M333.2 106.9h0M327.4 75.2h0M337.5 102.8h0M329.3 90.7h0M337.2 89.5h0M339.8 63.1h0M336.9 67.2h0M338.3 55.2h0M344.7 91.4h0M341.3 86.1h0M343.5 82.8h0M327.9 72.7h0M336.2 54.2h0M349.0 64.5h0M332.3 71.3h0M343.6 98.8h0M325.7 93.5h0M359.3 70.8h0M327.0 89.7h0M326.0 60.0h0M355.0 83.0h0M332.4 59.3h0M324.6 88.8h0M330.3 61.3h0M339.3 49.7h0M342.1 90.1h0M350.6 59.3h0M325.7 71.8h0M337.3 65.3h0M328.1 64.8h0M330.1 102.6h0M359.3 77.4h0M361.0 76.7h0M348.0 85.0h0M335.3 75.8h0M330.8 80.3h0M342.6 56.6h0M328.3 110.5h0M321.3 92.1h0M339.9 103.6h0M322.3 99.6h0M344.2 69.9h0M356.1 65.5h0M326.9 63.0h0M353.8 61.6h0M344.0 87.1h0M345.0 102.2h0M339.1 100.3h0M324.7 106.5h0M327.0 85.7h0M359.5 75.6h0M334.0 62.5h0M327.7 106.0h0M347.3 66.1h0M358.1 75.8h0M331.5 82.2h0M333.9 99.6h0M345.0 58.3h0M326.3 56.3h0M337.9 59.5h0M344.0 56.7h0M334.5 73.8h0M327.5 67.3h0M328.0 81.6h0M341.6 59.2h0M323.1 92.8h0M345.5 85.4h0M323.5 106.7h0M341.8 82.1h0M328.4 67.0h0M344.9 65.2h0M340.5 97.3h0M335.6 67.0h0M325.5 69.6h0M331.9 51.1h0M345.3 58.1h0M340.2 102.8h0M326.2 66.5h0M335.2 88.0h0M319.0 97.3h0M361.4 69.9h0M331.7 81.3h0M336.7 81.6h0M361.7 70.5h0M336.4 91.1h0M358.6 85.2h0M354.9 63.2h0M338.1 98.5h0M321.1 103.4h0M330.6 77.9h0M322.6 104.3h0M345.7 63.5h0M338.8 84.8h0M361.1 78.6h0M344.7 67.3h0M329.4 110.1h0M358.6 79.6h0M334.3 109.5h0M343.1 91.3h0M331.6 82.9h0M349.5 80.0h0M339.7 82.9h0M333.6 54.9h0M333.7 77.8h0M320.9 85.1h0M322.4 86.6h0M330.8 95.6h0M336.9 66.4h0M328.2 62.3h0M326.7 63.8h0M326.9 84.3h0M332.4 104.3h0M335.7 102.8h0M343.5 52.1h0M328.4 57.6h0M338.7 101.1h0M336.0 82.1h0M327.7 88.8h0M339.9 66.4h0M340.9 82.2h0M322.7 94.1h0M344.3 91.8h0M344.6 64.1h0M326.8 108.2h0M344.6 92.5h0M336.3 54.6h0M347.0 69.8h0M335.1 63.2h0M344.0 71.4h0M361.1 69.0h0M326.6 65.6h0M332.1 70.3h0M319.4 101.7h0M325.9 99.3h0M346.0 67.1h0M336.8 75.1h0M340.5 79.7h0M335.2 62.2h0M344.5 78.2h0M328.2 64.0h0M350.4 61.1h0M348.8 73.4h0M322.5 109.8h0M338.9 100.5h0M328.5 109.2h0M329.0 93.0h0M323.5 104.7h0M332.0 70.6h0M329.0 100.5h0M330.3 60.6h0M326.4 105.0h0M326.0 88.0h0M338.2 58.0h0M320.4 99.9h0M338.1 94.3h0M337.7 105.6h0M330.3 74.1h0M362.8 76.5h0M360.2 72.8h0M328.8 65.2h0M335.7 61.5h0M330.6 65.3h0M340.5 53.0h0M342.4 87.4h0M352.4 60.3h0M355.5 63.0h0M334.0 87.8h0M323.4 101.4h0M333.3 61.1h0M327.2 63.8h0M346.6 64.5h0M343.7 98.3h0M333.2 95.6h0M322.4 83.3h0M339.7 50.5h0M331.6 103.7h0M356.5 79.6h0M342.4 61.1h0M347.6 58.8h0M342.5 80.0h0M338.4 94.2h0M344.8 56.4h0M328.9 63.6h0M336.7 96.9h0M345.5 74.9h0M335.4 78.7h0M334.0 105.8h0M336.3 96.9h0M343.3 77.4h0M344.9 99.1h0M339.7 91.6h0M331.3 92.4h0M328.9 67.5h0M347.0 68.5h0M344.1 68.4h0M328.4 90.3h0M348.0 72.2h0M333.8 89.6h0M334.4 54.7h0M332.1 78.8h0M339.1 100.4h0M345.9 88.5h0M329.9 84.9h0M349.4 57.4h0M344.8 87.8h0M344.0 93.9h0M325.8 95.1h0M350.5 82.9h0M336.6 62.3h0M323.1 83.1h0M337.3 97.9h0M329.9 72.1h0M336.6 87.4h0M330.4 59.8h0M332.4 78.3h0M336.6 85.2h0M329.3 52.1h0M346.2 94.8h0M339.6 96.8h0M326.6 111.8h0M336.8 103.7h0M331.0 93.7h0M341.3 100.2h0M357.5 78.6h0M329.1 71.1h0M319.0 89.1h0M326.7 60.4h0M335.3 76.6h0M352.4 66.2h0M334.1 69.7h0M325.0 82.9h0M334.1 67.8h0M331.0 98.7h0M349.0 82.0h0M333.6 109.9h0M329.1 84.5h0M333.6 84.5h0M341.5 54.5h0M341.0 51.4h0M339.2 59.3h0M327.9 100.2h0M325.5 60.2h0M331.1 77.4h0M342.4 103.6h0M327.8 70.8h0M325.1 109.3h0M351.7 81.3h0M334.5 86.8h0M334.7 72.2h0M335.4 91.1h0M343.5 86.5h0M330.5 94.6h0M327.8 106.1h0M321.6 81.4h0M322.7 83.8h0M327.7 108.2h0M345.3 71.8h0M321.6 106.2h0M342.3 93.0h0M330.8 72.8h0M335.7 79.1h0M348.1 66.5h0M344.7 79.4h0M328.9 101.1h0M344.4 66.2h0M352.9 66.1h0M347.6 76.5h0M345.4 84.1h0M338.5 96.0h0M321.8 81.8h0M343.7 55.8h0M345.3 79.8h0M348.7 90.7h0M330.0 77.3h0M326.0 109.0h0M338.1 85.6h0M357.8 76.8h0M337.0 52.8h0M349.3 83.8h0M330.5 105.1h0M351.5 62.5h0M357.2 76.4h0M322.7 86.2h0M343.0 87.7h0M348.8 69.5h0M319.9 97.2h0M324.5 86.6h0M326.5 71.5h0M334.0 82.6h0M324.7 90.0h0M346.3 65.8h0M362.6 79.0h0M337.2 85.7h0M343.5 69.9h0M333.9 90.7h0M336.7 97.3h0M345.0 94.8h0M331.5 108.5h0M335.8 86.5h0M335.0 79.1h0M322.0 106.8h0M347.1 60.4h0M357.9 72.9h0M339.5 51.4h0M327.2 109.7h0M331.7 109.1h0M327.6 95.5h0M338.3 92.0h0M319.0 88.1h0M325.5 66.9h0M322.2 90.7h0M323.7 106.5h0M334.0 73.6h0M332.6 94.9h0M322.7 99.3h0M335.8 72.1h0M339.7 56.5h0M330.7 84.4h0M338.7 52.0h0M339.9 78.7h0M333.2 53.1h0M338.7 105.5h0M327.2 77.2h0M344.3 77.5h0M327.0 95.4h0M352.5 65.0h0M340.2 87.1h0M348.7 87.6h0M348.4 62.4h0M339.6 79.2h0M347.3 78.5h0M357.8 84.8h0M345.9 99.8h0M339.7 55.1h0M331.6 61.8h0M329.3 108.9h0M331.1 58.4h0M347.4 58.7h0M320.6 104.5h0M336.9 56.9h0M352.8 66.0h0M352.9 62.5h0M337.3 89.3h0M322.7 82.0h0M318.9 89.6h0M352.4 61.2h0M347.9 86.1h0M322.7 82.2h0M344.7 81.0h0M327.7 75.8h0M332.2 95.6h0M327.4 57.0h0M329.8 87.3h0M334.2 66.2h0M344.7 78.0h0M327.4 72.9h0M343.3 100.0h0M343.3 95.6h0M325.2 65.4h0M336.3 86.7h0M336.9 49.8h0M346.7 81.0h0M334.5 88.0h0M345.4 93.6h0M320.9 95.7h0M330.4 104.9h0M341.7 52.4h0M325.6 63.8h0M328.4 65.2h0M346.2 99.7h0M331.5 91.0h0M329.8 93.3h0M334.0 56.8h0M320.0 100.3h0M333.0 102.0h0M327.5 55.5h0M318.9 90.4h0M345.6 64.0h0M336.1 104.9h0M324.7 83.5h0M339.8 83.4h0M356.3 65.6h0M343.0 59.9h0M340.5 54.4h0M323.8 84.7h0M320.0 90.1h0M320.7 97.3h0M319.7 95.0h0M339.2 53.9h0M333.8 65.6h0M338.3 49.6h0M351.8 79.7h0M349.4 81.6h0M362.6 78.9h0M352.5 73.3h0M344.5 79.2h0M340.3 53.4h0M350.2 76.1h0M343.9 86.4h0M330.8 92.2h0M319.6 102.1h0M355.8 67.3h0M338.0 90.2h0M333.4 80.1h0M359.5 82.0h0M337.0 60.2h0M323.7 82.2h0M330.3 64.7h0M358.4 70.6h0M326.7 61.6h0M330.1 69.9h0M345.9 89.0h0M347.6 86.3h0M332.4 82.4h0M349.0 79.2h0M344.6 84.1h0M346.9 85.3h0M346.5 70.3h0M332.6 66.3h0M329.9 75.6h0M334.8 56.9h0M330.8 61.9h0M338.1 81.6h0M342.8 78.1h0M328.1 87.7h0M343.7 99.5h0M344.9 92.6h0M335.9 94.7h0M339.3 57.7h0M340.1 51.6h0M329.7 95.4h0M346.4 72.6h0M339.2 61.1h0M328.6 54.5h0M325.1 88.0h0M334.1 104.0h0M349.4 78.5h0M328.8 84.8h0M339.8 93.5h0M337.9 51.5h0M342.5 73.1h0M324.5 82.4h0M335.7 88.4h0M324.6 95.5h0M322.7 99.5h0M336.4 65.3h0M341.0 68.6h0M323.1 108.8h0M333.5 94.6h0M335.5 51.2h0M346.2 56.6h0M358.8 69.0h0M343.9 72.0h0M334.4 55.1h0M319.2 99.7h0M330.5 109.1h0M321.9 103.5h0M341.4 53.3h0M328.7 98.5h0M324.0 78.8h0M347.3 82.2h0M334.4 75.6h0M352.5 63.2h0M331.5 82.8h0M356.9 82.8h0M321.1 86.9h0M325.7 99.5h0M342.7 68.0h0M347.6 65.3h0M341.0 81.7h0M325.0 93.9h0M326.6 90.9h0M336.8 79.9h0M342.1 86.7h0M331.8 60.5h0M342.5 58.1h0M332.1 54.4h0M345.4 61.7h0M334.5 108.0h0M338.8 81.7h0M338.5 62.7h0M336.1 85.9h0M326.6 85.9h0M345.9 98.6h0M331.0 64.5h0M333.1 76.0h0M326.5 91.7h0M337.8 62.7h0M328.1 70.4h0M354.2 83.3h0M342.1 102.3h0M328.4 53.2h0M345.3 83.4h0M352.8 80.3h0M330.4 104.3h0M348.8 69.2h0M327.5 85.6h0M335.9 71.5h0M340.9 103.0h0M343.9 59.4h0M354.7 73.8h0M336.8 53.6h0M346.4 81.1h0M340.2 93.8h0M361.1 72.7h0M340.5 79.5h0M323.7 103.9h0M338.0 67.4h0M356.5 80.3h0M332.6 99.2h0M335.0 77.9h0M329.9 94.8h0M324.3 97.2h0M320.4 85.3h0M328.3 87.2h0M352.7 80.9h0M357.8 67.9h0M343.5 64.2h0M338.6 53.2h0M342.1 92.9h0M326.9 72.3h0M339.5 62.9h0M349.7 81.5h0M338.0 64.9h0M322.8 103.1h0M339.5 55.7h0M358.0 69.8h0M335.4 55.7h0M327.7 71.7h0M350.1 66.5h0M330.0 99.7h0M342.9 71.0h0M346.9 78.9h0M333.2 66.0h0M328.7 90.3h0M358.9 73.4h0M347.7 83.3h0M344.8 71.0h0M332.1 53.1h0M344.5 89.7h0M344.1 64.1h0M345.3 85.5h0M325.0 91.1h0M337.8 96.9h0M339.7 58.4h0M324.2 90.9h0M329.0 81.0h0M341.3 103.7h0M328.0 109.4h0M344.0 75.3h0M329.0 109.1h0M349.0 57.4h0M343.1 94.2h0M339.6 59.4h0M326.8 71.1h0M329.9 106.3h0M335.9 52.5h0M344.0 80.6h0M342.0 59.5h0M353.5 74.6h0M339.0 83.5h0M344.7 76.8h0M339.1 66.1h0M336.8 54.2h0M341.7 91.9h0M361.4 80.8h0M322.3 80.7h0M340.1 85.0h0M329.3 74.8h0M320.3 83.0h0M336.8 50.2h0M324.5 97.0h0M349.5 74.2h0M342.9 93.5h0M332.0 95.6h0M328.8 80.8h0M336.8 87.7h0M345.5 56.7h0M334.6 68.0h0M327.9 89.1h0M362.0 79.7h0M336.5 98.9h0M347.8 72.3h0M323.2 81.0h0M340.3 66.6h0M336.8 88.0h0M331.6 109.7h0M339.4 61.0h0M338.6 55.5h0M328.0 57.6h0M339.6 96.6h0M332.2 91.4h0M351.6 62.0h0M325.9 77.4h0M339.9 54.5h0M351.4 59.8h0M320.2 103.8h0M335.4 85.3h0M328.5 88.7h0M330.9 108.8h0M328.0 102.5h0M328.1 83.8h0M334.2 62.6h0M350.2 59.7h0M324.1 104.7h0M331.1 99.6h0M346.4 73.1h0M331.9 101.9h0M334.3 51.9h0M348.2 66.4h0M339.0 88.9h0M344.5 65.9h0M335.3 98.8h0M340.7 96.8h0M344.9 92.5h0M335.2 108.3h0M334.6 93.1h0M325.3 99.6h0M342.4 81.5h0M338.2 104.8h0M342.0 64.5h0M328.4 73.1h0M337.2 55.5h0M335.0 54.5h0M354.7 63.5h0M329.3 95.3h0M337.1 91.1h0M341.3 103.3h0M334.9 106.5h0M334.5 77.3h0M350.2 63.5h0M344.3 53.0h0M346.7 91.6h0M333.1 50.5h0M325.8 85.2h0M327.9 54.7h0M334.7 86.6h0M359.4 69.0h0M335.9 82.3h0M344.7 83.0h0M336.1 61.6h0M338.5 86.8h0M324.2 95.7h0M347.3 63.0h0M346.8 78.2h0M329.0 60.5h0M344.2 66.4h0M335.1 96.2h0M325.7 66.4h0M322.9 82.3h0M327.3 80.4h0M340.7 64.8h0M335.3 92.9h0M343.2 55.4h0M344.1 69.4h0M342.2 56.4h0M347.5 78.3h0M324.0 99.4h0M334.7 88.7h0M361.8 69.5h0M336.4 60.8h0M328.3 86.9h0M333.2 95.5h0M343.9 87.3h0M348.1 75.4h0M338.9 78.5h0M338.8 97.9h0M341.0 100.3h0M359.1 69.8h0M359.3 70.5h0M329.1 89.9h0M341.1 95.1h0M326.7 70.1h0M341.3 83.4h0M330.8 57.2h0M357.1 81.1h0M321.2 107.1h0M333.9 90.2h0M348.5 78.3h0M336.9 85.3h0M333.3 60.6h0M333.8 101.5h0M342.5 83.0h0M333.2 72.6h0M344.8 86.4h0M342.0 100.3h0M337.0 80.4h0M331.8 80.0h0M331.9 109.1h0M326.6 88.5h0M325.1 65.6h0M337.9 95.5h0M321.2 89.4h0M340.1 90.2h0M335.5 87.6h0M328.8 67.2h0M359.8 80.4h0M333.7 104.1h0M331.6 65.0h0M333.9 97.0h0M329.4 64.2h0M339.0 70.7h0M341.4 59.7h0M334.4 55.5h0M351.2 83.1h0M353.7 80.3h0M334.4 96.3h0M339.2 91.2h0M347.0 94.4h0M341.3 65.1h0M343.9 56.0h0M335.4 98.8h0M329.2 65.4h0M348.3 74.7h0M332.2 90.8h0M331.5 59.3h0M355.8 65.9h0M325.8 86.9h0M341.5 80.6h0M327.8 55.9h0M341.7 83.2h0M342.5 104.9h0M350.1 83.0h0M341.0 87.6h0M352.1 60.7h0M341.1 97.7h0M362.2 74.6h0M360.2 80.5h0M345.2 98.9h0M332.3 94.0h0M324.8 86.3h0M327.1 62.0h0M344.9 81.1h0M349.2 70.2h0M344.9 70.3h0M340.4 62.8h0M341.5 88.4h0M336.9 87.5h0M336.1 100.6h0M329.0 79.8h0M340.5 92.6h0M339.6 65.4h0M357.5 82.4h0M331.7 51.9h0M338.9 104.3h0M330.5 78.3h0M323.5 88.3h0M352.1 63.2h0M357.9 70.4h0M344.9 70.3h0M321.7 89.6h0M359.8 69.9h0M347.3 67.0h0M350.4 83.1h0M353.4 62.4h0M340.5 59.1h0M328.7 54.4h0M331.8 90.9h0M341.0 94.6h0M328.3 78.1h0M352.9 61.4h0M340.7 79.2h0M341.2 55.6h0M329.0 63.7h0M343.8 82.6h0M347.4 93.9h0M345.0 98.6h0M330.7 61.1h0M340.3 86.1h0M329.3 105.5h0M329.8 105.8h0M330.1 77.0h0M329.9 71.8h0M319.8 86.0h0M345.3 78.5h0M342.5 83.6h0M355.9 78.1h0M337.4 58.6h0M324.8 87.4h0M344.9 102.6h0M338.2 51.6h0M353.0 79.4h0M334.3 106.7h0M330.5 88.3h0M346.7 98.9h0M342.0 81.3h0M338.7 91.0h0M360.7 81.1h0M326.4 104.4h0M340.2 80.1h0M336.9 104.9h0M328.6 82.1h0M339.2 67.7h0M321.7 80.8h0M341.5 92.8h0M326.5 108.6h0M349.8 58.3h0M338.3 79.6h0M320.1 102.0h0M346.3 96.5h0M333.3 83.9h0M326.5 58.2h0M331.0 108.4h0M329.9 77.7h0M333.7 98.5h0M352.4 60.4h0M337.5 81.5h0M325.2 88.7h0M345.0 97.4h0M348.3 90.1h0M334.8 61.3h0M335.0 55.4h0M347.6 82.8h0M333.1 59.8h0M359.4 78.2h0M341.4 65.1h0M327.0 81.6h0M343.2 95.1h0M326.5 62.8h0M322.2 88.8h0M332.8 81.9h0M326.5 104.0h0M331.2 82.9h0M343.8 56.9h0M336.9 103.2h0M336.4 87.6h0M318.8 89.4h0M360.4 79.5h0M337.2 64.5h0M330.6 57.5h0M335.5 87.6h0M332.0 60.6h0M342.0 69.2h0M344.0 77.9h0M335.8 60.1h0M340.0 88.5h0M334.8 72.6h0M332.0 59.9h0M340.5 92.6h0M328.6 54.8h0M348.4 91.1h0M325.2 92.0h0M345.8 68.1h0M319.9 84.4h0M341.9 80.2h0M332.1 85.0h0M344.1 90.4h0M324.4 80.3h0M342.4 101.5h0M332.4 84.6h0M335.2 79.6h0M323.6 83.4h0M346.6 76.0h0M324.8 106.1h0M321.9 107.0h0M335.9 51.5h0M331.5 51.2h0M341.2 88.6h0M330.3 67.8h0M343.2 60.7h0M336.1 66.8h0M333.0 81.5h0M338.4 53.1h0M326.4 78.0h0M348.0 80.3h0M328.3 104.1h0M325.0 105.1h0M338.3 84.7h0M342.3 53.0h0M340.2 83.4h0M322.9 89.1h0M339.8 101.3h0M328.8 84.9h0M334.6 64.7h0M324.7 77.3h0M337.7 53.5h0M321.7 92.7h0M334.5 103.6h0M356.5 63.8h0M341.6 100.9h0M349.2 65.2h0M347.0 66.2h0M357.8 68.2h0M327.3 106.0h0M345.8 92.2h0M336.8 51.0h0M322.0 105.3h0M336.0 65.0h0M333.1 75.9h0M325.6 58.4h0M336.1 61.3h0M334.7 57.0h0M327.6 108.3h0M326.7 107.2h0M354.0 64.5h0M332.4 103.4h0M342.9 91.3h0M329.4 92.5h0M335.5 88.9h0M322.9 90.2h0M352.5 82.4h0M330.6 66.6h0M329.2 84.0h0M320.6 104.9h0M358.2 85.2h0M320.5 85.3h0M332.6 100.0h0M344.0 99.5h0M328.8 65.5h0M329.1 72.3h0M342.4 78.7h0M346.5 67.6h0M323.7 104.5h0M330.7 71.0h0M335.9 72.8h0M360.0 78.3h0M334.8 54.3h0M360.1 81.8h0M333.3 84.8h0M340.2 81.8h0M351.2 60.1h0M337.2 93.6h0M338.7 107.3h0M341.4 52.7h0M323.7 93.7h0M360.3 68.8h0M326.4 85.4h0M329.8 111.3h0M333.9 83.5h0M344.3 96.0h0M325.2 104.0h0M334.5 65.7h0M339.6 90.6h0M342.1 99.0h0M348.6 89.0h0M323.8 91.3h0M356.0 74.4h0M327.7 106.2h0M357.2 67.7h0M326.4 95.4h0M336.7 67.3h0M323.3 87.2h0M322.4 88.6h0M322.1 84.7h0M344.6 98.1h0M336.1 57.9h0M348.2 81.2h0M359.8 83.8h0M329.2 79.6h0M350.5 79.4h0M334.8 71.5h0M344.9 96.3h0M330.1 73.6h0M329.2 81.1h0M340.3 86.3h0M327.7 73.8h0M356.5 64.6h0M322.2 107.4h0M330.5 57.3h0M345.0 66.8h0M344.5 94.5h0M326.3 109.2h0M339.3 58.7h0M347.6 81.6h0M331.4 105.3h0M345.6 59.1h0M319.8 97.8h0M336.0 76.7h0M339.9 54.5h0M347.0 88.9h0M328.9 65.9h0M330.9 56.4h0M326.6 93.7h0M344.0 94.0h0M334.6 69.9h0M346.0 66.2h0M349.9 70.4h0M343.2 98.6h0M343.2 59.5h0M329.0 73.0h0M343.7 101.6h0M332.3 86.6h0M355.8 67.2h0M341.9 89.9h0M344.8 54.8h0M344.2 71.9h0M327.5 92.1h0M336.8 64.1h0M321.8 91.8h0M338.3 103.9h0M332.7 105.1h0M354.8 81.8h0M335.1 93.7h0M326.3 95.7h0M323.5 108.0h0M360.4 68.2h0M333.6 93.1h0M360.9 80.3h0M338.5 82.1h0M323.5 103.7h0M347.4 95.7h0M331.7 93.6h0M326.6 84.5h0M341.4 68.6h0M344.2 56.4h0M324.8 90.9h0M345.0 87.5h0M332.0 65.2h0M335.2 77.1h0M324.2 106.3h0M326.2 64.8h0M329.7 105.7h0M342.7 54.1h0M358.4 69.7h0M320.3 97.1h0M323.8 106.6h0M326.2 89.4h0M335.9 90.6h0M341.8 90.7h0M348.9 65.7h0M349.2 85.7h0M326.4 85.2h0M342.7 82.4h0M357.5 67.3h0M345.8 81.6h0M352.8 62.0h0M355.4 79.4h0M346.0 90.4h0M350.7 59.3h0M337.9 83.3h0M327.5 99.1h0M339.6 85.1h0M325.9 100.2h0M327.8 109.4h0M324.9 105.2h0M350.8 78.6h0M354.0 79.7h0M322.2 93.2h0M340.8 81.8h0M332.7 92.2h0M362.5 78.9h0M341.6 102.5h0M333.8 52.3h0M360.2 72.2h0M329.8 84.7h0M332.7 76.8h0M349.5 79.3h0M334.7 59.9h0M341.7 81.9h0M359.2 73.6h0M347.8 82.1h0M354.2 82.7h0M324.1 109.0h0M335.0 91.1h0M346.2 55.1h0M346.2 94.0h0M333.6 53.9h0M339.9 90.5h0M342.6 92.3h0M334.2 61.3h0M344.7 102.0h0M335.2 59.5h0M347.8 74.6h0M338.0 106.2h0M333.0 55.4h0M331.4 79.1h0M336.8 106.7h0M341.8 104.7h0M358.0 83.3h0M329.2 75.2h0M331.8 102.5h0M343.0 74.9h0M339.5 74.7h0M347.2 57.6h0M338.6 78.4h0M341.9 56.4h0M348.8 63.7h0M334.4 95.8h0M332.6 107.0h0M350.0 64.4h0M329.4 92.7h0M337.9 55.0h0M320.6 88.3h0M319.3 96.4h0M328.0 68.4h0M355.3 67.8h0M335.1 88.7h0M338.3 98.0h0M336.1 59.4h0M334.3 109.6h0M361.4 70.6h0M359.2 78.2h0M356.7 68.7h0M336.6 80.0h0M340.2 82.5h0M335.4 53.2h0M342.2 96.4h0M327.8 79.8h0M324.2 85.7h0M347.3 84.0h0M347.1 78.2h0M334.9 71.2h0M326.9 91.0h0M343.0 82.3h0M335.7 81.4h0M343.7 92.8h0M326.9 86.1h0M339.5 58.3h0M331.7 87.0h0M337.9 83.1h0M333.0 82.7h0M325.5 65.8h0M326.1 82.4h0M346.0 85.9h0M332.5 90.0h0M334.4 58.2h0M339.9 98.1h0M322.5 106.4h0M360.5 73.6h0M349.9 67.9h0M326.9 66.1h0M329.4 80.8h0M349.2 82.2h0M330.4 106.9h0M319.7 100.5h0M337.5 97.5h0M361.0 79.8h0M340.7 52.6h0M326.7 81.4h0M344.3 89.6h0M356.0 81.1h0M350.9 70.7h0M332.1 92.9h0M341.6 83.9h0M336.6 98.2h0M345.9 62.8h0M321.4 103.1h0M338.6 51.3h0M337.2 90.5h0M325.7 110.8h0M344.7 66.5h0M329.8 90.3h0M334.5 68.1h0M336.9 92.5h0M324.8 107.6h0M324.9 109.3h0M352.8 63.5h0M341.8 79.4h0M337.8 54.3h0M356.5 81.9h0M323.9 105.1h0M324.9 83.9h0M341.7 83.0h0M329.8 64.4h0M340.1 84.9h0M321.0 98.8h0M348.1 74.7h0M341.8 65.3h0M347.6 78.5h0M338.7 62.3h0M347.7 89.6h0M338.0 65.1h0M346.1 61.8h0M351.5 79.7h0M336.7 86.6h0M344.8 56.3h0M335.3 62.6h0M329.2 78.8h0M335.3 54.5h0M334.4 90.6h0M346.0 74.3h0M352.9 80.4h0M335.0 59.9h0M335.8 100.5h0M351.8 61.8h0M360.8 78.6h0M339.8 55.2h0M328.2 70.3h0M326.0 102.5h0M331.5 82.7h0M339.1 82.5h0M338.6 98.3h0M334.4 73.0h0M326.5 69.7h0M348.2 64.5h0M333.7 56.6h0M334.2 77.8h0M334.1 109.0h0M344.6 56.3h0M331.7 71.9h0M340.6 82.2h0M326.7 74.4h0M337.8 83.4h0M342.3 92.8h0M335.1 98.7h0M349.9 77.4h0M356.4 77.6h0M326.8 88.9h0M325.7 95.0h0M346.1 56.7h0M352.5 82.5h0M338.3 105.7h0M342.9 76.5h0M324.7 105.8h0M335.6 86.3h0M329.7 65.5h0M338.4 90.8h0M346.1 81.2h0M327.6 108.3h0M334.6 54.5h0M345.3 92.7h0M344.2 89.6h0M345.0 62.3h0M344.8 97.3h0M349.5 74.4h0M329.5 87.5h0M340.0 67.0h0M325.0 106.3h0M360.6 70.0h0M347.4 88.8h0M346.1 92.2h0M357.1 84.0h0M348.4 77.4h0M329.2 67.2h0M353.3 79.7h0M336.3 79.5h0M339.6 63.9h0M319.1 93.7h0M342.9 104.3h0M324.2 91.1h0M338.4 61.9h0M336.5 67.1h0M328.3 64.9h0M329.5 56.1h0M332.6 74.9h0M328.8 105.6h0M327.3 105.2h0M343.8 67.8h0M335.2 80.6h0M321.5 99.1h0M334.3 97.3h0M329.8 108.8h0M328.8 83.0h0M322.1 95.6h0M332.6 68.8h0M345.0 64.4h0M348.0 64.8h0M332.1 77.6h0M346.0 91.9h0M349.7 63.4h0M336.4 105.9h0M346.7 81.1h0M342.6 92.2h0M324.2 81.4h0M332.3 81.5h0M346.3 62.6h0M345.3 59.9h0M319.2 97.1h0M352.3 70.2h0M343.3 60.7h0M346.8 87.6h0M353.6 78.2h0M344.6 79.0h0M328.2 109.4h0M346.2 89.0h0M322.0 105.9h0M346.1 64.3h0M334.2 93.8h0M321.4 107.2h0M326.8 60.8h0M346.0 71.1h0M328.5 82.0h0M330.1 99.2h0M340.9 87.5h0M356.1 82.0h0M344.8 77.5h0M333.3 80.9h0M321.4 83.4h0M333.1 83.0h0M335.3 98.9h0M338.3 54.3h0M335.6 89.3h0M326.9 89.9h0M331.1 107.8h0M326.2 68.9h0M338.6 63.6h0M335.0 68.3h0M322.5 104.4h0M328.6 102.0h0M341.0 51.9h0M347.2 80.7h0M328.0 62.7h0M325.3 111.5h0M341.1 52.1h0M326.1 62.0h0M346.2 62.3h0M343.3 99.2h0M345.1 82.7h0M320.0 87.4h0M361.4 72.2h0M331.8 81.0h0M336.0 62.6h0M332.9 69.3h0M339.3 50.7h0M343.6 63.4h0M356.4 83.5h0M326.6 60.9h0M347.7 89.5h0M333.2 60.1h0M327.0 92.2h0M333.8 75.1h0M346.5 54.9h0M361.5 77.4h0M337.5 62.4h0M339.6 96.1h0M335.9 71.5h0M342.9 101.3h0M341.4 63.9h0M353.6 63.2h0M332.3 83.5h0M333.7 104.6h0M346.0 80.1h0M345.9 61.6h0M355.9 82.6h0M340.7 79.0h0M348.3 70.2h0M326.2 79.1h0M344.1 61.1h0M327.9 110.6h0M330.4 59.7h0M344.0 73.1h0M355.1 69.4h0M319.9 98.8h0M345.0 63.5h0M320.2 93.0h0M321.7 81.5h0M320.0 89.6h0M339.9 100.9h0M331.1 54.8h0M339.6 87.1h0M359.0 83.6h0M326.3 109.6h0M318.9 90.9h0M360.1 80.5h0M336.7 73.6h0M328.0 53.7h0M320.4 87.9h0M332.8 87.5h0M325.7 107.7h0M355.7 77.2h0M344.2 87.4h0M342.0 62.2h0M326.8 56.0h0M334.0 95.9h0M345.3 55.3h0M362.3 77.7h0M327.6 105.0h0M336.0 64.6h0M329.7 87.5h0M323.0 89.1h0M341.2 85.8h0M345.1 63.1h0M349.3 85.2h0M328.2 58.0h0M348.2 75.8h0M342.7 92.8h0M325.8 90.1h0M323.6 93.6h0M344.8 58.3h0M350.8 76.1h0M333.7 94.3h0M335.7 90.3h0M341.4 62.8h0M335.9 98.6h0M329.0 91.7h0M345.3 83.2h0M336.0 95.1h0M335.3 51.4h0M340.6 51.8h0M337.0 59.3h0M336.2 86.5h0M334.0 100.2h0M329.7 98.7h0M330.0 71.7h0M345.1 71.5h0M348.0 56.5h0M327.3 83.9h0M329.2 71.8h0M332.1 60.3h0M344.1 100.2h0M326.4 73.3h0M322.3 101.9h0M332.0 77.9h0M321.8 91.7h0M343.1 64.7h0M344.0 93.8h0M336.9 63.3h0M320.4 91.4h0M338.9 78.7h0M339.2 103.1h0M334.9 74.4h0M336.5 65.0h0M339.2 86.8h0M340.1 94.4h0M331.3 72.3h0M330.1 54.1h0M353.4 72.7h0M324.6 89.7h0M359.2 78.7h0M323.6 96.4h0M334.2 98.0h0M334.5 101.0h0M354.4 65.9h0M341.2 64.9h0M341.5 63.8h0M335.9 95.7h0M332.5 81.1h0M343.8 54.5h0M347.9 80.3h0M330.1 60.1h0M332.3 105.0h0M354.1 64.9h0M332.5 65.8h0M333.2 99.6h0M333.8 70.4h0M333.2 60.9h0M338.1 50.3h0M358.5 70.0h0M342.3 52.2h0M358.8 68.9h0M329.0 75.3h0M331.9 88.3h0M339.5 106.7h0M329.3 89.4h0M324.1 84.6h0M328.9 79.1h0M322.8 102.4h0M332.1 87.8h0M344.1 57.4h0M331.7 105.8h0M337.8 89.1h0M322.0 101.4h0M327.4 69.7h0M352.9 82.2h0M338.1 101.7h0M330.9 56.5h0M338.6 96.9h0M358.8 77.2h0M328.0 88.0h0M333.4 90.3h0M337.3 60.0h0M331.4 104.8h0M332.5 106.8h0M330.2 108.3h0M345.5 94.7h0M321.0 105.1h0M339.8 94.2h0M337.6 72.7h0M335.8 88.7h0M343.9 52.7h0M334.7 86.7h0M344.1 72.8h0M337.6 79.9h0M322.5 80.5h0M333.6 98.8h0M331.1 79.6h0M346.4 78.6h0M326.5 66.4h0M333.9 66.1h0M324.8 106.9h0M361.0 69.4h0M324.2 84.2h0M343.5 70.5h0M337.0 57.2h0M343.9 81.0h0M343.4 56.6h0M338.0 95.0h0M344.4 62.1h0M325.8 86.8h0M343.7 88.7h0M339.7 63.7h0M332.4 109.1h0M321.6 105.6h0M336.7 88.3h0M334.9 65.4h0M327.1 70.6h0M353.3 79.6h0M323.2 93.0h0M340.2 92.8h0M329.5 72.8h0M333.5 110.0h0M327.1 82.8h0M330.0 55.3h0M341.0 56.4h0M330.4 82.7h0M333.0 66.2h0M327.6 54.0h0M360.3 68.0h0M350.2 71.1h0M346.4 81.1h0M352.5 79.0h0M344.9 59.5h0M332.6 70.8h0M355.9 64.6h0M331.3 89.5h0M344.3 100.8h0M323.8 93.9h0M356.0 67.5h0M327.2 60.7h0M344.6 55.4h0M341.0 54.9h0M354.8 79.1h0M346.6 71.0h0M332.7 98.6h0M329.7 99.6h0M337.9 66.9h0M327.1 86.0h0M327.5 108.3h0M340.5 81.2h0M343.0 84.0h0M340.1 100.6h0M346.1 62.6h0M333.2 53.4h0M358.0 78.3h0M328.0 103.2h0M347.5 63.5h0M357.7 67.3h0M333.7 91.3h0M342.1 103.9h0M339.2 102.4h0M335.4 105.7h0M355.7 68.0h0M344.2 61.3h0M341.8 94.0h0M330.5 90.1h0M349.1 80.6h0M334.4 65.3h0M330.1 56.2h0M346.3 54.4h0M328.4 53.4h0M322.2 96.9h0M327.2 107.9h0M331.9 71.5h0M324.4 81.7h0M325.1 97.8h0M333.0 100.7h0M361.5 72.2h0M340.2 90.7h0M329.1 52.9h0M330.7 65.3h0M325.7 63.8h0M334.0 51.4h0M325.7 88.4h0M331.3 54.9h0M345.4 60.4h0M338.1 88.8h0M351.5 70.6h0M334.6 87.9h0M328.4 77.8h0M345.1 100.1h0M320.9 90.1h0M322.5 96.9h0M340.0 90.5h0M325.4 90.6h0M332.9 99.2h0M361.6 75.6h0M343.9 61.0h0M331.2 78.9h0M333.8 95.7h0M331.5 98.7h0M345.3 67.4h0M330.5 56.8h0M329.7 93.0h0M346.0 87.8h0M330.9 65.1h0M331.8 50.6h0M326.8 108.4h0M346.0 91.5h0M323.1 81.4h0M324.4 92.9h0M342.5 83.5h0M330.7 81.6h0M347.6 66.4h0M336.0 83.6h0M328.9 85.6h0M344.7 77.6h0M360.2 67.9h0M324.2 83.0h0M336.7 77.9h0M326.8 109.7h0M354.5 80.4h0M320.2 103.1h0M341.5 52.0h0M340.6 83.1h0M345.1 92.1h0M359.8 69.4h0M333.6 82.3h0M347.0 84.3h0M332.8 72.6h0M335.6 76.5h0M347.8 84.5h0M335.3 77.4h0M331.4 56.6h0M338.0 58.0h0M331.6 90.1h0M336.9 55.8h0M325.1 94.8h0M327.5 67.5h0M339.4 81.4h0M338.6 104.1h0M331.3 72.8h0M346.3 69.0h0M335.0 53.3h0M327.7 88.4h0M336.9 106.3h0M333.3 105.3h0M320.7 82.4h0M360.7 73.5h0M340.6 74.0h0M342.2 60.3h0M339.1 88.6h0M319.2 97.3h0M345.6 102.6h0M339.4 106.6h0M332.1 75.5h0M328.4 78.0h0M319.7 84.5h0M349.6 85.3h0M342.1 61.5h0M329.6 75.0h0M328.5 62.9h0M333.7 68.7h0M323.0 93.3h0M323.5 102.3h0M333.7 57.3h0M350.6 63.3h0M331.1 73.5h0M331.0 80.0h0M325.2 67.2h0M344.9 77.7h0M323.3 88.2h0M348.0 89.5h0M337.4 83.3h0M333.2 106.3h0M339.0 94.9h0M349.2 77.3h0M350.5 72.9h0M338.3 95.2h0M326.6 64.9h0M348.2 67.2h0M333.4 104.0h0M328.5 72.7h0M331.0 85.5h0M327.6 106.1h0M335.5 81.1h0M359.6 78.8h0M362.3 74.4h0M344.0 76.6h0M341.8 64.0h0M327.4 67.2h0M359.0 69.6h0M347.9 80.5h0M347.9 94.3h0M334.5 98.1h0M339.4 81.5h0M337.1 77.7h0M327.5 69.7h0M327.7 71.1h0M328.1 60.0h0M324.7 109.1h0M347.3 76.5h0M321.5 101.9h0M321.6 107.3h0M362.7 73.3h0M343.3 100.7h0M337.5 57.8h0M327.2 80.6h0M324.0 84.3h0M335.6 68.1h0M342.4 91.9h0M320.7 97.2h0M343.6 98.6h0M326.2 81.0h0M327.0 99.8h0M325.6 62.4h0M339.2 65.4h0M335.1 106.9h0M333.6 50.8h0M324.6 108.0h0M321.6 87.4h0M330.8 72.0h0M333.7 51.0h0M324.6 78.7h0M348.7 56.9h0M328.6 55.7h0M347.9 84.1h0M358.2 84.7h0M346.2 87.1h0M328.1 84.4h0M322.6 90.3h0M357.8 73.1h0M338.5 60.9h0M327.7 75.1h0M345.0 87.5h0M328.5 81.8h0M338.6 105.9h0M347.2 80.2h0M341.8 87.2h0M323.6 81.2h0M330.7 100.9h0M334.3 105.1h0M347.6 92.4h0M344.5 74.1h0M335.2 108.0h0M318.9 93.9h0M339.1 99.6h0M338.7 83.7h0M322.9 100.3h0M327.5 74.1h0M341.9 53.8h0M319.9 88.2h0M334.4 100.4h0M323.3 97.2h0M331.5 70.8h0M344.8 102.3h0M341.9 65.3h0M337.3 93.2h0M352.8 81.5h0M326.3 81.7h0M319.6 101.5h0M321.9 87.7h0M328.8 90.1h0M333.0 50.5h0M341.1 56.9h0M327.3 89.2h0M329.3 54.8h0M336.0 93.9h0M337.4 93.9h0M342.5 102.0h0M340.3 65.9h0M322.8 95.8h0M345.5 88.5h0M336.0 59.9h0M334.8 62.4h0M328.5 104.7h0M333.3 75.4h0M331.1 63.2h0M323.5 104.5h0M345.4 82.2h0M342.5 71.4h0M330.6 55.3h0M340.1 94.2h0M344.8 83.9h0M337.0 97.7h0M357.7 79.9h0M318.9 91.1h0M331.5 103.8h0M336.5 103.0h0M344.4 82.8h0M345.3 55.1h0M342.7 82.9h0M323.1 105.6h0M343.3 87.4h0M327.9 79.8h0M329.7 65.6h0M335.3 91.5h0M343.3 91.5h0M328.6 67.5h0M344.2 67.8h0M342.0 72.3h0M326.0 72.8h0M328.5 85.4h0M347.4 92.0h0M356.9 76.0h0M353.6 63.8h0M333.6 84.3h0M329.7 52.8h0M346.8 85.9h0M338.9 84.4h0M331.3 82.1h0M341.1 64.4h0M334.9 64.0h0M330.0 90.2h0M331.8 76.7h0M336.1 95.2h0M346.4 65.3h0M340.6 66.2h0M332.2 92.2h0M333.5 105.2h0M347.4 68.4h0M321.3 98.1h0M360.9 79.3h0M350.5 64.3h0M354.1 82.4h0M328.0 53.5h0M328.1 107.6h0M319.2 92.6h0M331.0 88.1h0M327.1 79.4h0M328.2 54.5h0M336.6 106.0h0M332.4 98.7h0M359.5 81.0h0M321.6 83.6h0M325.8 93.0h0M334.3 108.0h0M330.6 86.9h0M336.2 82.4h0M336.9 94.8h0M333.4 51.9h0M335.7 51.0h0M332.3 101.0h0M336.6 61.2h0M322.4 104.4h0M325.5 65.8h0M337.8 51.7h0M331.4 51.6h0M330.7 91.1h0M327.7 56.5h0M323.1 104.0h0M322.4 106.7h0M339.4 96.3h0M331.7 60.0h0M325.4 68.6h0M331.7 98.2h0M351.7 82.4h0M358.0 70.2h0M343.4 52.2h0M328.3 58.8h0M333.5 107.3h0M333.2 93.9h0M345.5 74.2h0M342.8 86.0h0M321.6 100.4h0M346.2 86.4h0M327.6 101.9h0M320.6 97.8h0M343.7 78.3h0M355.0 73.6h0M339.2 65.8h0M345.9 66.2h0M331.9 92.1h0M350.1 83.7h0M336.0 60.1h0M346.2 61.0h0M326.7 108.2h0M325.8 61.7h0M333.7 102.0h0M330.2 79.1h0M333.6 66.3h0M326.9 88.9h0M321.9 90.6h0M333.9 52.7h0M349.3 73.1h0M341.5 86.1h0M333.8 104.7h0M335.1 65.7h0M356.6 69.2h0M328.0 91.7h0M346.2 54.5h0M359.9 83.4h0M345.3 68.4h0M328.7 60.3h0M355.0 80.7h0M327.4 101.2h0M330.3 82.5h0M329.3 52.4h0M335.2 60.7h0M334.5 106.8h0M334.4 63.0h0M345.5 56.7h0M320.2 85.6h0M345.2 97.5h0M347.7 57.1h0M340.7 100.7h0M329.1 88.2h0M345.8 101.9h0M322.1 81.2h0M349.7 83.8h0M320.3 100.4h0M351.8 65.1h0M326.3 103.6h0M324.4 84.2h0M354.3 66.2h0M349.0 61.3h0M349.0 74.9h0M331.8 62.1h0M331.5 106.1h0M338.6 93.9h0M327.0 68.6h0M335.4 63.5h0M341.4 53.7h0M352.3 78.8h0M331.7 79.4h0M333.2 105.1h0M359.1 75.4h0M347.9 95.4h0M346.3 70.8h0M342.2 85.4h0M337.1 81.1h0M320.4 97.2h0M346.7 60.0h0M333.9 98.2h0M349.1 63.5h0M347.4 68.4h0M339.0 61.7h0M344.0 96.5h0M348.7 57.3h0M357.0 77.0h0M323.8 93.5h0M326.8 109.6h0M329.2 108.2h0M340.7 92.2h0M339.5 78.4h0M340.1 101.0h0M356.8 72.4h0M343.2 66.6h0M349.4 64.2h0M325.9 78.6h0M331.1 73.0h0M327.6 110.2h0M352.7 69.4h0M344.4 54.4h0M326.4 80.2h0M326.0 90.4h0M343.2 91.2h0M352.8 78.8h0M349.8 65.7h0M336.5 59.9h0M328.8 108.7h0M357.6 69.8h0M344.8 76.1h0M359.6 80.1h0M344.1 77.9h0M332.7 101.2h0M344.5 54.3h0M343.1 103.1h0M357.2 78.0h0M356.5 84.1h0M330.1 94.8h0M320.4 101.2h0M336.9 53.6h0M346.8 62.3h0M330.7 110.8h0M331.4 107.3h0M330.3 57.5h0M336.2 54.4h0M339.1 106.2h0M330.1 107.9h0M336.5 60.7h0M347.1 66.5h0M327.2 90.2h0M331.8 106.0h0M330.4 73.3h0M334.9 96.9h0M340.8 52.6h0M348.6 75.3h0M328.2 112.5h0M338.1 93.1h0M319.6 87.6h0M329.0 105.2h0M339.6 61.1h0M356.7 80.9h0M346.3 87.3h0M342.5 87.8h0M342.1 79.5h0M333.8 53.4h0M346.9 73.9h0M350.5 64.8h0M345.2 83.5h0M320.6 107.5h0M326.6 61.9h0M332.3 54.7h0M336.3 92.6h0M344.2 61.8h0M345.1 67.1h0M342.0 90.3h0M344.8 55.8h0M347.7 71.2h0M331.7 93.9h0M340.7 102.0h0M321.5 90.9h0M334.4 53.2h0M352.5 61.1h0M330.4 96.8h0M339.6 62.3h0M353.6 82.1h0M325.8 91.1h0M330.6 54.5h0M346.3 61.4h0M332.5 52.8h0M335.2 76.8h0M358.2 70.2h0M335.9 107.5h0M322.6 81.3h0M358.8 84.2h0M334.0 103.2h0M332.9 66.3h0M332.3 105.9h0M344.6 87.1h0M330.8 86.3h0M362.0 72.8h0M336.9 94.8h0M324.8 104.5h0M331.0 107.2h0M328.2 76.8h0M333.2 51.6h0M326.9 78.9h0M333.6 59.2h0M325.7 85.4h0M357.9 79.8h0M348.6 57.9h0M342.8 103.0h0M335.7 64.7h0M326.1 85.9h0M358.5 68.9h0M342.7 98.0h0M332.9 51.0h0M332.2 55.1h0M338.2 92.2h0M352.2 66.3h0M352.1 63.6h0M321.7 108.3h0M319.5 94.1h0M332.6 60.7h0M338.3 66.8h0M350.1 63.2h0M341.7 80.8h0M342.4 95.1h0M330.9 92.4h0M357.9 67.8h0M323.8 106.0h0M339.1 91.8h0M344.4 95.7h0M326.8 108.4h0M327.2 78.1h0M319.9 100.3h0M323.1 106.3h0M360.9 71.3h0M342.3 52.2h0M332.1 67.5h0M326.7 87.7h0M322.2 86.8h0M335.5 101.3h0M335.1 96.3h0M334.6 85.8h0M333.3 62.2h0M323.3 106.0h0M337.0 84.1h0M343.5 87.5h0M338.3 91.2h0M339.6 102.2h0M339.4 54.5h0M329.1 91.8h0M340.7 89.2h0M360.7 70.5h0M334.5 102.7h0M323.4 101.6h0M327.9 66.7h0M338.3 54.1h0M345.2 64.2h0M332.8 109.6h0M334.8 68.5h0M348.1 64.8h0M340.1 89.5h0M353.6 82.8h0M342.2 62.7h0M337.5 104.6h0M336.9 61.8h0M345.8 88.5h0M339.3 85.7h0M358.2 75.3h0M351.8 64.1h0M335.1 85.8h0M320.9 94.3h0M352.1 68.5h0M327.8 54.2h0M337.2 91.4h0M353.7 75.2h0M340.8 90.8h0M339.8 91.0h0M342.8 88.5h0M344.1 99.7h0M336.4 96.4h0M326.1 110.9h0M339.1 56.3h0M343.6 88.7h0M322.6 90.3h0M330.1 107.9h0M339.9 87.0h0M344.3 82.7h0M345.2 63.4h0M331.2 82.5h0M347.1 67.5h0M356.4 66.7h0M330.6 67.3h0M328.4 59.2h0M329.0 94.2h0M333.1 69.5h0M327.2 96.7h0M340.2 85.2h0M343.1 86.2h0M338.1 58.6h0M341.1 101.2h0M347.2 93.2h0M336.2 104.8h0M338.3 60.9h0M340.8 91.7h0M327.3 60.5h0M359.1 75.6h0M326.4 84.8h0M329.4 56.6h0M349.2 78.4h0M340.6 69.7h0M328.2 58.2h0M340.0 62.3h0M343.1 69.2h0M347.1 84.8h0M322.3 84.4h0M335.8 84.8h0M337.9 88.3h0M337.4 52.6h0M343.3 102.7h0M343.7 62.3h0M347.8 84.1h0M341.7 55.6h0M334.4 101.7h0M322.1 102.2h0M350.3 83.1h0M343.3 99.9h0M343.4 89.6h0M345.6 91.8h0M335.6 56.8h0M327.5 64.8h0M335.1 104.3h0M348.6 80.5h0M332.8 58.1h0M320.6 98.7h0M324.8 103.4h0M344.0 55.7h0M338.2 91.1h0M331.7 92.1h0M320.8 86.1h0M337.2 49.8h0M333.3 59.1h0M352.6 60.3h0M326.4 109.5h0M327.0 86.2h0M329.7 96.9h0M331.4 80.7h0M346.1 74.8h0M328.6 61.9h0M337.1 94.5h0M337.4 105.7h0M326.4 92.6h0M338.0 52.8h0M334.1 93.9h0M343.7 83.8h0M342.1 103.7h0M340.6 65.9h0M342.0 101.5h0M334.7 84.3h0M344.7 60.7h0M341.6 79.1h0M355.0 82.3h0M323.2 99.8h0M338.9 102.7h0M344.8 99.7h0M326.1 62.0h0M319.1 94.0h0M322.7 105.7h0M330.0 64.3h0M323.7 80.2h0M331.3 63.8h0M335.9 51.1h0M323.7 82.3h0M343.1 79.2h0M360.2 79.4h0M334.6 71.4h0M336.7 100.5h0M341.9 93.1h0M339.6 89.7h0M350.1 64.0h0M335.0 81.2h0M326.3 66.9h0M326.9 77.0h0M336.0 99.0h0M358.8 74.8h0M325.3 78.5h0M362.3 75.5h0M348.5 66.4h0M362.8 78.4h0M346.4 88.3h0M338.2 59.3h0M346.5 68.5h0M345.9 90.2h0M349.9 85.0h0M335.2 97.2h0M331.0 63.9h0M327.2 56.1h0M348.7 85.3h0M349.1 84.2h0M332.3 74.3h0M321.2 90.2h0M338.2 90.2h0M330.1 53.4h0M345.7 97.5h0M333.9 64.6h0M325.8 62.0h0M347.3 64.1h0M334.9 68.5h0M329.1 91.0h0M343.2 92.2h0M330.8 83.6h0M337.2 75.7h0M337.4 50.6h0M328.6 53.6h0M326.2 111.1h0M327.4 66.5h0M341.8 103.9h0M330.6 72.6h0M327.6 86.4h0M344.7 56.3h0M333.9 65.9h0M331.4 56.3h0M345.3 81.3h0M320.4 99.1h0M334.6 89.1h0M350.5 58.6h0M352.8 63.9h0M332.4 103.6h0M336.2 50.0h0M328.8 110.5h0M327.7 88.9h0M352.5 63.8h0M349.1 62.0h0M348.1 77.5h0M332.0 51.1h0M328.6 86.1h0M332.6 106.2h0M336.4 57.3h0M345.8 73.9h0M354.9 74.9h0M343.6 55.7h0M333.0 78.9h0M340.8 102.9h0M323.7 80.2h0M331.2 88.7h0M323.7 96.2h0M350.0 59.7h0M330.4 99.7h0M345.4 65.7h0M340.1 105.9h0M327.7 91.7h0M324.2 105.2h0M319.3 98.7h0M356.5 78.2h0M336.7 62.4h0M325.2 84.7h0M341.0 61.9h0M358.8 67.5h0M331.7 81.9h0M344.4 76.3h0M344.7 58.1h0M335.9 57.4h0M329.2 70.9h0M341.8 98.6h0M328.3 72.6h0M320.3 84.4h0M348.3 90.7h0M362.3 69.7h0M323.6 84.1h0M335.2 94.6h0M323.6 84.3h0M341.1 102.5h0M336.0 107.1h0M320.2 94.9h0M326.3 111.8h0M337.1 77.0h0M324.3 104.7h0M334.7 81.5h0M329.2 111.6h0M359.3 81.0h0M334.0 108.5h0M336.2 95.8h0M334.6 103.4h0M327.9 79.9h0M352.2 59.9h0M348.8 63.4h0M333.9 74.0h0M360.6 72.9h0M358.0 80.9h0M356.6 81.9h0M346.7 59.4h0M348.7 77.6h0M340.7 59.2h0M331.3 99.0h0M344.3 98.5h0M324.3 92.9h0M327.2 88.9h0M335.0 94.7h0M338.5 106.6h0M354.7 83.1h0M331.6 59.7h0M338.2 89.6h0M326.1 108.3h0M330.0 50.9h0M347.4 65.6h0M340.3 86.8h0M342.9 90.7h0M339.4 85.0h0M323.1 106.0h0M321.3 91.1h0M333.3 51.1h0M346.2 82.3h0M343.5 59.4h0M327.6 65.8h0M321.2 93.2h0M326.0 88.6h0M348.2 71.1h0M320.1 102.4h0M358.5 71.3h0M319.0 97.9h0M324.2 79.7h0M328.5 81.9h0M336.2 102.9h0M326.2 87.8h0M323.6 106.8h0M334.2 74.6h0M332.5 106.4h0M351.0 61.0h0M335.5 61.1h0M344.2 61.2h0M330.7 111.0h0M340.8 83.1h0M359.0 72.8h0M342.1 57.4h0M331.8 76.4h0M344.1 102.8h0M337.4 85.5h0M348.0 90.1h0M355.0 82.0h0M339.8 102.3h0M331.8 82.4h0M341.4 61.6h0M339.8 87.8h0M328.0 81.3h0M345.1 71.0h0M330.1 52.6h0M337.4 104.9h0M320.3 85.9h0M338.8 63.5h0M326.5 61.2h0M346.5 91.2h0M354.5 69.7h0M343.2 104.3h0M337.3 52.7h0M338.2 93.2h0M336.5 100.6h0M350.1 78.2h0M339.1 84.2h0M342.6 76.0h0M356.9 76.6h0M331.9 88.1h0M328.5 62.3h0M347.8 79.3h0M343.2 78.2h0M339.7 60.6h0M323.3 85.5h0M324.4 82.0h0" stroke="#ee5b55" stroke-width="1.4" stroke-linecap="round" fill="none"/><path d="M345.0 53.0C346.5 51.0 349.9 49.1 352.0 48.0C354.1 46.9 356.8 45.3 357.5 46.5C358.2 47.7 357.4 52.4 356.0 55.0C354.6 57.6 350.7 59.5 349.0 62.0C347.3 64.5 347.0 68.8 346.0 70.0C345.0 71.2 343.5 70.7 343.0 69.0C342.5 67.3 342.7 62.7 343.0 60.0C343.3 57.3 343.5 55.0 345.0 53.0Z" fill="#5c0c16" opacity="0.45"/><path d="M345.9 61.7h0M349.8 60.4h0M344.1 56.9h0M350.5 51.0h0M351.8 50.1h0M344.6 55.5h0M344.8 57.6h0M349.7 53.0h0M345.1 65.0h0M345.6 65.0h0M349.5 54.6h0M350.9 55.7h0M344.9 57.3h0M354.8 47.4h0M354.6 51.8h0M350.6 58.8h0M347.3 53.0h0M357.2 48.1h0M344.5 66.6h0M347.5 62.4h0M343.9 59.6h0M352.2 54.9h0M350.7 51.7h0M352.5 52.5h0M343.6 59.6h0M355.9 53.3h0M348.8 50.8h0M353.4 53.4h0M344.6 69.0h0M353.6 56.0h0M355.0 48.6h0M347.8 56.3h0M348.1 53.4h0M344.8 58.7h0M346.2 65.7h0M354.7 55.2h0M344.6 66.3h0M350.4 52.9h0M345.8 61.6h0M349.7 50.5h0M348.1 57.3h0M351.5 58.1h0M347.4 57.7h0M345.0 68.4h0M355.3 49.2h0M355.8 47.8h0M347.5 61.8h0M345.1 63.0h0M346.6 61.5h0M350.4 56.5h0M345.7 63.5h0M350.4 52.7h0M355.1 50.1h0M349.1 55.4h0M354.6 55.5h0M353.0 48.5h0M355.3 47.3h0M347.4 60.9h0M346.6 55.2h0M346.4 60.1h0M347.6 61.0h0M344.7 58.7h0M349.3 52.6h0M343.5 59.4h0M343.8 57.3h0M345.4 64.8h0M344.4 58.0h0M348.2 54.7h0M353.2 55.3h0M353.9 54.1h0M349.3 60.6h0M348.6 58.1h0M343.8 59.9h0M344.9 66.3h0M346.6 68.4h0M355.2 49.8h0M353.8 54.4h0M354.3 53.2h0M347.2 54.3h0M351.2 48.9h0M354.0 49.2h0M347.0 55.7h0M353.6 50.6h0M356.9 49.0h0M347.9 58.3h0M352.2 51.2h0M343.5 67.1h0M345.2 54.9h0M355.7 48.2h0M347.5 56.0h0M346.1 65.5h0M347.1 63.7h0M344.3 67.1h0M350.2 60.2h0M350.1 52.7h0M346.4 65.0h0M352.9 56.2h0M351.0 51.4h0M346.8 55.2h0M353.1 54.6h0M351.6 56.1h0M349.9 53.7h0M344.9 54.5h0M347.4 57.7h0M344.4 67.9h0M351.3 53.0h0M346.7 59.2h0M347.3 55.8h0M351.1 56.8h0M347.4 56.1h0M346.3 54.4h0M349.9 51.5h0M343.7 67.9h0M343.1 64.4h0M354.7 54.7h0M346.8 54.9h0M349.2 51.6h0M346.9 62.7h0M345.2 53.0h0M348.2 55.8h0M353.8 50.1h0M343.5 68.5h0M356.4 49.9h0M345.6 53.1h0M353.4 49.8h0M353.2 51.7h0M354.3 51.2h0M345.2 65.2h0M349.1 56.7h0M351.6 54.0h0M344.2 56.1h0M348.6 51.9h0M347.7 55.5h0M352.5 52.6h0M353.1 48.8h0M346.4 60.2h0M353.1 49.6h0M353.6 53.0h0M354.9 51.9h0M345.1 63.6h0M355.0 49.1h0M346.8 61.2h0M343.9 57.8h0M347.0 60.8h0M351.4 56.0h0M354.6 49.1h0M354.8 51.0h0M346.1 67.9h0M351.5 52.0h0M348.9 58.8h0M353.1 52.8h0M345.7 66.3h0M343.9 57.3h0M344.1 61.9h0M344.7 57.2h0M354.1 51.3h0M356.2 48.2h0M344.8 63.8h0M354.1 49.6h0M353.2 52.3h0M354.0 54.9h0M350.3 53.0h0M355.8 50.3h0M346.9 55.8h0M343.8 60.2h0M346.1 55.0h0M347.9 60.1h0M350.3 56.4h0M347.5 60.2h0M345.6 59.2h0M355.2 52.4h0M349.6 54.5h0M351.1 56.3h0M354.0 48.4h0M355.5 50.6h0M344.7 64.1h0M352.9 57.7h0M347.7 58.6h0M345.2 58.8h0M350.0 57.0h0M348.3 61.4h0M347.1 55.8h0M350.5 49.3h0M355.5 50.3h0M347.7 55.3h0M351.0 56.5h0M344.1 66.6h0M352.3 52.4h0M346.0 67.1h0M355.6 54.1h0M344.3 66.4h0M353.2 48.3h0M347.3 52.3h0M350.7 51.8h0M345.0 59.7h0M355.4 50.1h0M347.3 59.4h0M344.2 63.2h0M356.2 50.5h0M353.8 50.6h0M347.4 56.5h0M343.6 60.1h0M345.1 59.1h0M346.2 55.9h0M347.3 60.3h0M350.8 58.9h0M345.3 66.6h0M344.1 57.3h0M344.0 62.1h0M353.4 51.8h0M354.4 49.2h0M343.0 66.9h0M352.6 51.8h0M354.5 53.0h0M347.8 61.7h0M345.1 63.2h0M353.3 51.0h0M352.4 48.5h0M345.7 63.2h0M350.1 56.8h0M345.6 65.7h0M355.9 49.8h0M352.8 47.9h0M351.2 57.7h0M348.4 52.0h0M347.4 57.6h0M346.9 63.7h0M355.9 53.1h0M346.2 58.2h0M349.9 50.0h0M350.1 56.4h0M353.8 53.4h0M346.4 63.7h0M356.0 52.5h0M348.4 51.0h0M345.2 61.3h0M344.0 64.8h0M347.9 63.1h0M351.5 52.0h0M348.4 59.1h0M357.1 46.7h0M345.6 55.6h0M351.7 59.2h0M351.1 53.9h0M348.3 52.4h0M347.2 53.7h0M351.0 58.0h0M343.1 64.9h0M354.9 52.8h0M354.7 47.6h0M355.4 50.6h0M353.9 55.9h0M355.8 52.3h0M348.7 54.8h0M349.1 51.0h0M347.5 58.2h0M351.2 53.0h0M357.1 47.2h0M353.0 54.3h0M346.1 59.9h0" stroke="#5c0c16" stroke-width="1.35" stroke-linecap="round" fill="none"/><path d="M344.7 59.9h0M343.9 78.7h0M345.4 73.7h0M347.0 60.3h0M345.6 70.9h0M345.3 65.6h0M342.3 70.0h0M343.0 79.3h0M347.1 62.2h0M345.7 77.5h0M343.5 78.2h0M343.3 72.2h0M345.5 74.8h0M346.8 66.3h0M343.1 71.1h0M343.1 60.5h0M345.5 58.5h0M347.0 61.2h0M343.7 64.6h0M343.5 71.3h0M344.8 60.7h0M345.6 68.6h0M343.5 70.4h0M343.8 64.3h0M344.9 60.4h0M345.8 77.9h0M347.1 65.2h0M344.3 61.0h0M346.8 68.1h0M345.6 74.7h0M343.6 61.5h0M347.6 60.7h0M344.2 78.1h0M344.6 69.5h0M344.4 74.9h0M347.1 62.3h0M344.2 78.3h0M345.3 72.7h0M345.3 66.3h0M346.1 68.5h0M345.6 69.6h0M342.2 62.5h0M346.6 64.7h0M344.6 77.2h0M342.6 60.8h0M347.2 63.1h0M346.0 67.1h0M344.7 73.8h0M342.8 67.9h0M345.0 61.8h0M342.3 62.3h0M343.1 62.0h0M345.2 62.1h0M345.1 75.5h0M344.1 58.5h0M343.1 72.4h0M343.2 58.8h0M344.7 70.1h0M346.3 65.6h0M346.3 69.8h0M342.5 59.6h0M343.8 72.7h0M345.1 69.0h0M344.7 73.4h0M344.8 76.1h0M344.4 74.5h0M343.6 70.9h0M344.3 72.1h0M345.9 67.3h0M346.3 61.0h0" stroke="#7a1220" stroke-width="1.2" stroke-linecap="round" fill="none"/><path d="M344.8 95.5h0M343.9 94.9h0M341.8 99.0h0M340.5 93.6h0M343.7 97.9h0M344.0 97.2h0M344.9 103.2h0M342.4 101.3h0M344.2 92.7h0M345.7 96.0h0M342.9 100.0h0M342.3 98.8h0M341.1 94.2h0M345.5 98.0h0M345.2 101.6h0M344.6 99.4h0M341.2 95.0h0M346.3 98.6h0M344.8 99.5h0M343.3 96.0h0M345.8 94.4h0M340.9 101.5h0M345.3 101.2h0M342.2 101.9h0M345.3 98.8h0M346.8 102.5h0M344.6 95.6h0M345.4 93.7h0" stroke="#6a0e18" stroke-width="1.1" stroke-linecap="round" fill="none"/><path d="M353.0 109.0C353.8 107.6 357.1 107.3 359.0 107.5C360.9 107.7 363.6 108.6 364.5 110.0C365.4 111.4 365.4 114.8 364.5 116.0C363.6 117.2 360.8 117.5 359.0 117.5C357.2 117.5 355.0 117.4 354.0 116.0C353.0 114.6 352.2 110.4 353.0 109.0Z" fill="#ee5b55" opacity="0.7"/><path d="M355.1 111.7h0M363.3 115.7h0M363.7 112.3h0M363.9 114.0h0M354.4 114.2h0M358.5 108.4h0M358.3 108.8h0M363.9 115.6h0M358.9 117.0h0M359.3 110.4h0M359.2 117.4h0M354.8 115.1h0M353.8 111.3h0M358.7 115.4h0M354.5 115.0h0M355.1 113.1h0M355.1 112.2h0M354.3 109.2h0M359.6 109.8h0M354.7 108.9h0M356.2 115.8h0M362.1 113.8h0M358.4 110.4h0M355.6 113.7h0M356.1 112.6h0M355.4 110.6h0M363.3 113.7h0M355.5 112.7h0M353.2 110.1h0M361.6 113.2h0M354.3 110.2h0M356.4 112.3h0M361.2 108.7h0M362.2 111.0h0M359.2 111.5h0M359.2 112.0h0M357.8 111.1h0M356.5 108.2h0M356.6 116.2h0M361.7 112.1h0M354.6 115.1h0M362.9 110.0h0M357.8 109.4h0M358.8 107.7h0M355.8 111.3h0M357.2 110.9h0M357.2 113.8h0M359.7 116.8h0M358.1 112.3h0M362.9 110.7h0M358.8 112.4h0M360.3 112.0h0M361.8 113.5h0M362.0 115.0h0M357.5 108.2h0M357.3 116.4h0M361.5 116.1h0M360.7 112.7h0M360.8 113.4h0M359.8 116.6h0M357.4 111.6h0M360.0 116.8h0M361.1 116.5h0M361.1 109.3h0M358.9 115.9h0M361.3 113.4h0M360.6 114.4h0M359.4 112.4h0M359.8 110.8h0M354.4 112.8h0M353.7 110.0h0M362.4 112.5h0M361.7 110.8h0M363.3 109.6h0M355.9 109.9h0M355.6 114.7h0M356.7 108.5h0M362.9 110.4h0M362.9 113.3h0M358.2 110.5h0M361.7 114.1h0M357.2 110.5h0M357.0 110.7h0M357.9 109.5h0M357.7 114.0h0M358.3 109.9h0M361.1 114.7h0M360.5 115.1h0M358.3 116.2h0M357.5 109.4h0" stroke="#ee5b55" stroke-width="1.3" stroke-linecap="round" fill="none"/><path d="M361.3 110.8h0M360.0 108.8h0M364.2 111.5h0M359.3 108.4h0M361.8 115.7h0M359.9 114.7h0M362.2 111.2h0M361.8 110.0h0M361.5 112.7h0M360.3 110.2h0M361.4 114.0h0M361.4 111.7h0M362.6 113.5h0M363.8 110.1h0M363.7 110.5h0M362.8 111.0h0M360.9 116.3h0M362.1 110.7h0M360.2 115.6h0M361.6 116.0h0M360.1 112.6h0M364.2 110.2h0M362.8 111.2h0M360.5 111.4h0M361.9 110.3h0M363.3 115.5h0M362.7 109.4h0M363.0 110.1h0M361.9 113.1h0M360.0 113.5h0M361.8 112.6h0M359.7 109.8h0M361.5 114.1h0M360.6 111.5h0M359.6 112.5h0M361.4 112.2h0M360.8 110.1h0M364.2 111.6h0M361.7 112.9h0M363.4 112.3h0" stroke="#7a1018" stroke-width="1.3" stroke-linecap="round" fill="none"/><path d="M371.0 134.5C372.2 134.1 374.2 137.1 376.0 138.5C377.8 139.9 380.4 140.9 382.0 143.0C383.6 145.1 384.9 148.3 385.5 151.0C386.1 153.7 386.1 156.7 385.5 159.0C384.9 161.3 383.6 163.5 382.0 165.0C380.4 166.5 378.0 167.7 376.0 168.0C374.0 168.3 371.4 168.3 370.0 167.0C368.6 165.7 367.9 162.8 367.5 160.0C367.1 157.2 367.3 153.2 367.5 150.0C367.7 146.8 367.9 143.6 368.5 141.0C369.1 138.4 369.8 134.9 371.0 134.5Z" fill="#ee7a38" opacity="0.45"/><path d="M383.5 151.3h0M379.5 150.2h0M370.9 141.8h0M371.7 144.7h0M379.7 150.8h0M376.3 143.7h0M375.2 166.7h0M367.9 155.5h0M383.2 156.0h0M381.9 159.3h0M373.3 143.8h0M370.0 147.4h0M368.1 147.3h0M375.0 149.0h0M378.4 144.9h0M373.7 157.0h0M371.4 143.8h0M371.7 138.8h0M376.7 152.1h0M374.7 155.8h0M375.5 149.9h0M383.3 147.6h0M382.3 163.8h0M378.3 156.6h0M378.6 141.0h0M378.5 152.5h0M378.0 154.0h0M374.0 137.8h0M369.2 159.2h0M374.3 141.3h0M369.0 146.6h0M374.1 139.0h0M379.0 145.6h0M374.6 144.4h0M382.4 150.7h0M377.7 153.7h0M380.5 164.2h0M375.4 163.0h0M374.7 141.8h0M374.2 139.3h0M377.1 144.9h0M383.8 160.6h0M379.9 158.8h0M381.5 158.0h0M379.3 151.2h0M372.0 143.4h0M380.2 160.6h0M379.7 148.3h0M370.7 142.7h0M371.7 147.5h0M385.2 156.8h0M376.3 151.3h0M370.1 154.3h0M377.6 145.2h0M384.8 149.9h0M372.4 148.1h0M376.7 164.0h0M372.8 143.8h0M383.9 148.1h0M372.9 152.6h0M374.5 164.3h0M378.0 148.9h0M375.8 167.1h0M382.6 151.6h0M383.1 156.2h0M379.8 160.0h0M374.2 138.9h0M380.6 144.7h0M377.0 142.9h0M380.7 163.5h0M368.8 156.6h0M367.7 155.4h0M379.1 152.2h0M370.1 140.2h0M373.9 144.5h0M368.6 145.7h0M375.5 140.2h0M384.7 150.9h0M370.1 166.1h0M371.4 135.1h0M383.5 151.9h0M376.8 155.4h0M378.8 166.5h0M374.6 139.8h0M374.0 148.2h0M371.0 155.0h0M369.3 142.9h0M381.8 148.9h0M370.8 135.3h0M369.4 143.5h0M373.0 143.8h0M383.3 160.5h0M369.8 158.3h0M381.9 150.2h0M369.2 162.0h0M371.9 143.2h0M372.9 141.7h0M384.2 149.3h0M380.5 158.9h0M371.2 138.7h0M374.7 150.8h0M372.1 140.2h0M381.7 150.7h0M384.0 153.9h0M380.3 142.2h0M370.2 142.0h0M381.5 146.2h0M377.0 165.9h0M368.1 149.9h0M382.5 160.4h0M374.5 154.3h0M372.9 155.0h0M372.9 143.7h0M369.8 163.9h0M375.9 152.3h0M373.6 147.9h0M378.2 153.6h0M375.7 144.1h0M376.8 166.3h0M370.5 145.7h0M371.6 155.8h0M373.5 145.5h0M368.3 156.9h0M374.9 149.8h0M377.7 144.4h0M376.5 145.0h0M370.5 136.5h0M376.9 164.8h0M380.5 161.9h0M381.3 149.0h0M370.0 143.4h0M371.7 138.0h0M377.1 144.9h0M379.7 155.2h0M368.1 154.4h0M371.4 138.3h0M377.8 142.4h0M368.4 144.0h0M370.5 144.9h0M374.8 148.1h0M377.1 141.8h0M377.5 154.0h0M370.2 164.1h0M383.5 149.2h0M376.6 147.2h0M381.1 149.3h0M371.6 135.4h0M385.2 152.8h0M381.5 155.4h0M382.0 157.4h0M381.3 160.2h0M380.9 150.0h0M382.9 148.3h0M374.7 159.1h0M380.9 155.8h0M375.4 142.1h0M377.9 164.8h0M377.8 151.1h0M385.1 157.3h0M375.9 164.1h0M368.4 156.6h0M377.7 148.4h0M382.0 144.5h0M372.2 158.1h0M371.0 146.5h0M379.3 142.9h0M383.5 156.5h0M372.1 144.0h0M381.8 158.2h0M381.3 146.2h0M383.1 146.2h0M376.1 142.5h0M373.5 151.0h0M374.9 149.3h0M382.9 146.1h0M382.6 154.8h0M378.8 144.9h0M368.1 145.1h0M379.2 162.2h0M378.7 153.4h0M377.3 156.4h0M376.8 140.3h0M374.9 147.6h0M370.2 143.0h0M371.9 145.4h0M378.4 150.8h0M368.9 143.0h0M373.6 153.1h0M383.3 146.8h0M372.9 137.0h0M383.5 154.9h0M369.1 149.3h0M376.4 148.3h0M373.9 151.9h0M376.3 147.1h0M381.0 154.1h0M378.5 146.4h0M373.4 156.3h0M384.0 154.0h0M377.5 140.8h0M375.6 150.7h0M374.3 163.7h0M374.5 166.1h0M375.6 162.6h0M377.3 148.3h0M374.5 145.0h0M377.0 154.7h0M370.6 165.2h0M376.4 144.1h0M372.2 138.4h0M376.2 161.0h0M373.7 137.1h0M371.7 163.2h0M373.6 167.1h0M372.3 147.0h0M369.8 154.1h0M372.4 147.0h0M373.6 138.4h0M378.5 146.5h0M375.4 152.6h0M379.3 143.4h0M376.8 145.5h0M380.8 148.3h0M382.0 147.0h0M368.4 151.8h0M375.7 147.2h0M376.2 155.8h0M382.4 145.8h0M372.0 163.3h0M368.9 149.3h0M372.7 137.0h0M382.9 159.4h0M370.4 137.5h0M379.7 160.2h0M376.3 142.0h0M373.7 139.3h0M378.1 143.9h0M379.1 144.8h0M371.8 153.6h0M374.7 153.5h0M373.3 150.6h0M372.4 145.2h0M373.9 151.9h0M381.8 162.6h0M369.6 159.1h0M375.9 150.2h0M370.9 152.1h0M382.9 147.9h0M380.6 165.6h0M371.3 160.9h0M382.4 153.7h0M372.4 149.4h0M376.2 144.7h0M370.2 155.5h0M376.9 152.5h0M370.8 155.8h0M375.1 139.3h0M382.1 151.5h0M371.0 140.0h0M376.7 153.0h0M378.3 140.8h0M382.0 151.3h0M378.7 145.6h0M379.2 147.7h0M381.5 146.7h0M373.7 143.7h0M382.8 161.6h0M371.5 153.9h0M383.5 150.5h0M373.8 152.6h0M369.9 154.3h0M381.6 161.3h0M375.6 166.4h0M372.7 146.2h0M374.8 161.9h0M373.2 145.0h0M368.9 159.2h0M383.4 147.9h0M382.8 155.3h0M378.5 154.1h0M369.5 155.3h0M380.7 153.1h0M380.0 161.3h0M375.3 150.8h0M379.5 146.2h0M374.7 142.4h0M375.5 151.6h0M378.5 159.3h0M375.3 147.9h0M383.9 159.3h0M369.4 150.6h0M376.6 151.0h0M369.6 139.8h0M376.2 139.6h0M377.8 143.6h0M382.3 162.1h0M375.8 167.9h0M371.0 151.2h0M374.9 139.3h0M384.0 158.9h0M369.4 161.3h0M379.5 163.6h0M377.0 153.4h0M380.4 154.0h0M375.7 165.5h0M369.2 156.5h0M381.5 148.1h0M373.7 155.7h0M372.0 166.1h0M380.8 144.3h0M371.1 142.8h0M374.7 144.8h0M376.0 147.6h0M375.9 161.7h0M372.4 152.5h0M380.6 147.7h0M384.6 149.3h0M382.3 153.2h0M381.9 152.1h0M376.5 146.1h0M376.9 149.1h0M368.1 158.8h0M383.6 160.8h0M368.4 159.3h0M373.2 166.6h0M369.7 157.1h0M370.9 165.3h0M381.2 151.8h0M369.5 152.9h0M379.7 155.4h0M376.6 153.9h0M371.3 137.5h0M381.7 149.0h0M378.3 142.1h0M376.8 140.9h0M379.2 142.3h0M369.6 157.9h0M369.2 143.8h0M385.0 150.6h0M369.8 158.8h0M377.6 159.8h0M369.7 144.5h0M378.3 155.2h0M381.8 160.0h0M372.5 140.4h0M372.1 148.6h0M369.6 149.1h0M374.9 156.3h0M376.3 149.0h0M375.5 144.9h0M374.0 144.0h0M374.9 149.3h0M368.5 160.7h0M375.5 167.2h0M372.4 150.7h0M383.3 152.5h0M380.4 152.3h0M383.0 157.4h0M383.9 149.4h0M373.7 137.3h0M374.8 145.8h0M368.4 147.7h0M378.8 163.4h0M378.7 141.3h0M378.7 151.3h0M368.5 162.0h0M382.7 159.9h0M380.4 160.4h0M381.2 162.0h0M373.9 144.7h0M381.5 147.4h0M370.6 147.0h0M373.8 139.1h0M368.7 153.4h0M371.7 153.0h0M377.7 143.5h0M372.4 136.1h0M371.1 136.1h0M377.2 165.1h0M374.8 158.5h0M376.5 139.1h0M383.2 147.0h0M377.3 152.1h0M368.9 148.4h0M373.0 156.3h0M376.5 155.8h0M371.0 135.9h0M382.9 158.9h0M383.3 148.4h0M372.5 148.0h0M375.8 147.7h0M377.0 166.4h0M371.0 151.7h0M371.3 140.4h0M378.3 151.6h0M378.5 154.9h0M373.5 152.6h0M373.9 167.5h0M380.0 165.1h0M367.7 152.7h0M377.6 157.0h0M383.9 148.3h0M374.1 150.3h0M372.6 137.6h0M373.2 143.1h0M375.2 150.8h0M383.2 151.1h0M376.8 152.7h0M381.4 155.5h0M384.5 151.3h0M379.0 146.1h0M379.8 145.7h0M378.1 147.8h0M374.7 162.2h0M370.8 141.0h0M385.0 151.6h0M369.5 140.4h0M376.3 147.0h0M373.9 166.2h0M367.9 160.6h0M382.8 145.1h0M377.2 154.4h0M370.7 151.3h0M377.9 160.0h0M370.1 153.9h0M375.9 149.8h0M370.5 138.7h0M383.5 160.4h0M373.2 155.4h0M383.0 158.4h0M380.6 162.2h0M368.8 143.4h0M372.0 140.4h0M377.8 150.6h0M373.3 145.7h0M380.1 158.9h0M380.0 152.3h0M370.8 137.8h0M374.6 167.4h0M371.0 142.7h0M374.3 146.9h0M381.3 164.4h0M375.5 141.9h0M376.5 166.9h0M374.7 144.8h0M379.2 154.6h0M375.6 156.9h0M375.8 150.3h0M382.4 151.7h0M371.5 156.0h0M373.2 165.5h0M376.5 151.5h0M370.6 139.4h0M372.3 148.7h0M377.3 143.9h0M371.8 156.0h0M382.1 149.7h0M382.4 161.7h0M371.5 138.6h0M382.3 163.1h0M373.5 166.7h0M372.5 161.3h0M378.6 147.1h0M381.8 154.0h0M373.9 145.7h0M381.9 146.2h0M385.0 151.7h0M384.7 152.0h0M376.9 153.5h0M369.5 164.8h0M379.9 156.2h0M373.8 155.3h0M367.8 149.3h0M376.2 145.1h0M369.7 151.2h0M368.3 155.2h0M382.5 150.6h0M371.8 150.1h0M369.5 142.8h0M377.1 166.8h0M380.2 148.4h0M378.1 146.0h0M381.3 154.3h0M382.8 149.9h0M383.7 160.7h0M374.2 155.1h0M381.1 143.3h0M371.9 137.2h0M379.5 164.9h0M368.5 153.8h0M376.9 164.1h0M373.8 140.4h0M378.0 143.4h0M373.4 152.8h0M381.7 160.8h0M370.7 137.6h0M379.0 153.7h0M372.3 155.7h0M372.8 140.5h0M375.7 154.6h0" stroke="#ec7530" stroke-width="1.3" stroke-linecap="round" fill="none"/><path d="M396.9 95.1h0M400.0 90.5h0M397.5 94.7h0M401.6 89.2h0M395.6 97.2h0M399.3 92.0h0M397.7 95.4h0M395.8 97.2h0M399.8 89.1h0M398.2 92.0h0M395.6 96.4h0M397.4 93.2h0M401.0 89.6h0M396.3 97.9h0M395.5 97.8h0M400.3 88.9h0M403.3 85.4h0M400.1 90.5h0M398.6 94.2h0M397.6 95.0h0M396.9 94.7h0M398.6 93.0h0" stroke="#7fb0b0" stroke-width="1.0" stroke-linecap="round" fill="none"/><path d="M396.8 104.1h0M397.0 103.2h0M395.8 99.6h0M396.2 103.3h0M395.8 106.7h0M397.0 108.5h0M394.2 99.8h0M396.0 106.2h0M396.7 109.0h0M396.4 106.4h0M396.7 104.6h0M395.2 100.5h0M394.8 98.4h0M397.8 108.7h0M395.3 102.3h0M397.3 105.8h0M397.3 109.8h0M396.0 102.2h0M395.9 99.8h0M397.1 108.0h0M393.6 98.0h0M397.6 110.8h0" stroke="#6aaaa0" stroke-width="1.0" stroke-linecap="round" fill="none"/><line x1="402.80" y1="85.70" x2="394.00" y2="98.50" stroke="#8ab8b8" stroke-width="0.8" /><line x1="394.00" y1="98.50" x2="398.00" y2="112.60" stroke="#5fa89a" stroke-width="0.8" /><circle cx="402.50" cy="85.50" r="1.40" fill="#c9a43a" /><path d="M437.0 58.7C439.2 58.8 442.1 59.5 444.0 60.5C445.9 61.5 447.5 63.2 448.5 65.0C449.5 66.8 450.0 68.9 450.0 71.0C450.0 73.1 449.8 76.1 448.5 77.5C447.2 78.9 444.2 79.2 442.0 79.5C439.8 79.8 437.2 79.7 435.0 79.5C432.8 79.3 430.7 79.1 429.0 78.5C427.3 77.9 425.8 77.4 425.0 76.0C424.2 74.6 423.8 72.0 424.0 70.0C424.2 68.0 424.9 65.7 426.0 64.0C427.1 62.3 428.7 60.9 430.5 60.0C432.3 59.1 434.8 58.6 437.0 58.7Z" fill="#9c8220" opacity="0.6"/><path d="M443.9 73.6h0M429.8 66.8h0M433.8 65.6h0M430.0 70.4h0M438.6 71.9h0M439.7 68.0h0M443.4 77.3h0M448.7 72.0h0M444.2 64.4h0M437.2 71.2h0M441.0 79.2h0M429.3 68.7h0M430.7 74.5h0M434.4 67.0h0M428.9 78.1h0M436.0 72.2h0M428.9 65.7h0M443.6 67.8h0M435.3 70.2h0M442.4 68.0h0M439.6 71.5h0M427.7 63.4h0M443.5 61.7h0M426.9 68.2h0M436.1 76.9h0M440.1 63.3h0M437.5 73.1h0M442.9 77.0h0M433.0 76.0h0M437.8 79.1h0M441.4 77.2h0M440.6 73.7h0M441.9 64.7h0M438.3 63.6h0M444.7 77.3h0M437.1 65.0h0M430.7 78.3h0M435.4 59.4h0M446.3 72.3h0M447.8 72.9h0M445.6 66.4h0M436.3 63.9h0M429.0 67.3h0M428.8 66.4h0M426.9 73.3h0M449.0 74.4h0M442.5 62.9h0M426.1 74.8h0M427.3 77.4h0M439.4 79.1h0M437.0 67.3h0M447.5 65.1h0M446.1 78.2h0M443.0 72.8h0M430.3 65.0h0M435.3 77.6h0M444.0 68.8h0M440.7 72.7h0M434.0 66.2h0M430.7 73.8h0M428.9 62.3h0M447.1 69.8h0M429.5 60.9h0M443.0 73.6h0M433.7 60.9h0M437.9 76.9h0M447.9 69.3h0M440.4 70.2h0M429.4 69.6h0M430.5 72.2h0M442.7 60.5h0M424.7 68.2h0M442.8 77.8h0M442.6 72.0h0M427.3 74.6h0M429.5 72.4h0M441.3 78.7h0M434.5 71.1h0M438.1 66.8h0M438.3 70.8h0M427.5 73.7h0M427.7 63.1h0M441.1 68.6h0M433.3 73.4h0M446.8 68.8h0M440.4 63.1h0M446.7 71.7h0M447.6 68.1h0M425.6 74.0h0M440.2 65.6h0M439.0 63.7h0M443.9 76.5h0M442.8 73.0h0M445.0 68.6h0M434.9 72.2h0M426.0 70.4h0M438.2 61.8h0M433.4 71.9h0M438.3 76.1h0M428.2 76.2h0M443.2 61.3h0M425.5 75.2h0M426.7 76.9h0M434.3 76.3h0M443.3 62.2h0M432.9 72.9h0M439.6 73.3h0M436.9 66.8h0M444.8 78.3h0M430.1 66.0h0M439.6 74.0h0M442.8 79.2h0M442.6 70.1h0M427.9 67.2h0M436.3 65.3h0M441.4 75.7h0M431.7 69.1h0M435.5 64.2h0M429.3 68.5h0M431.2 71.5h0M448.5 71.3h0M433.7 66.7h0M435.6 65.6h0M443.1 60.7h0M442.0 73.4h0M429.3 66.9h0M426.6 66.2h0M449.9 71.0h0M444.4 62.9h0M431.4 62.1h0M433.8 66.7h0M435.0 59.7h0M428.1 77.7h0M448.9 70.3h0M437.6 60.3h0M431.3 77.6h0M435.7 70.2h0M432.6 67.4h0M443.3 76.8h0M442.2 69.1h0M439.3 74.5h0M433.1 69.1h0M437.6 73.7h0M428.7 68.2h0M445.3 71.3h0M436.7 73.6h0M428.5 70.9h0M438.3 72.0h0M448.8 73.3h0M437.9 59.7h0M447.3 76.3h0M429.3 74.5h0M440.1 63.1h0M437.7 77.4h0M434.7 76.2h0M445.3 73.3h0M431.0 65.3h0M437.2 75.6h0M437.0 66.4h0M424.7 69.3h0M427.5 75.5h0M448.0 71.6h0M441.3 60.6h0M430.7 73.0h0M444.6 61.5h0M433.2 71.5h0M442.6 70.3h0M433.7 69.6h0M445.0 68.9h0M425.8 69.9h0M448.8 76.0h0M429.8 72.8h0M440.5 71.9h0M425.9 66.0h0M442.6 66.8h0M428.5 76.3h0M447.7 74.0h0M440.3 69.1h0M436.7 59.6h0M441.3 72.8h0M434.4 60.2h0M447.0 71.2h0M447.2 64.5h0M433.3 60.8h0M438.5 69.4h0M432.2 65.4h0M429.0 76.9h0M444.6 73.8h0M438.8 65.4h0M436.7 73.8h0M431.4 67.4h0M445.9 75.9h0M429.3 69.8h0M425.9 66.5h0M432.3 73.6h0M426.0 72.3h0M435.0 69.6h0M428.8 70.1h0M448.5 69.3h0M429.7 67.6h0M429.2 71.3h0M434.6 62.5h0M430.3 78.5h0M434.3 75.1h0M435.6 70.3h0M442.8 68.1h0M440.7 60.0h0M443.2 61.9h0M437.7 76.8h0M441.7 63.2h0M437.4 71.5h0M424.7 73.9h0M439.7 62.7h0M448.4 70.4h0M441.8 70.4h0M435.7 73.7h0M437.2 75.5h0M442.9 65.8h0M432.2 72.1h0M441.6 71.7h0M434.8 59.8h0M439.9 66.8h0M426.4 72.9h0M445.0 71.8h0M431.5 71.5h0M436.0 74.2h0M443.3 73.3h0M427.2 68.9h0M448.6 74.7h0M428.2 66.8h0M446.8 71.5h0M447.7 68.4h0M426.4 74.4h0M429.8 71.6h0M434.6 67.3h0M446.0 68.3h0M443.2 72.4h0M442.0 62.2h0M431.1 78.6h0M449.0 71.5h0M442.0 61.8h0M438.9 59.6h0M445.9 63.7h0M443.3 63.6h0M441.1 64.1h0M436.1 64.0h0M444.0 65.0h0M445.6 78.3h0M445.8 77.8h0M433.2 74.4h0M439.8 79.4h0M440.1 73.0h0M430.6 66.7h0M446.7 69.8h0M444.0 60.9h0M446.2 64.8h0M441.6 61.1h0M429.0 65.6h0M446.6 73.4h0M433.5 61.3h0M435.0 76.1h0M437.9 70.5h0M444.4 67.5h0M429.3 66.3h0M448.3 70.7h0M431.0 65.5h0M431.8 62.6h0M444.2 74.2h0M438.3 63.0h0M426.5 75.3h0M440.2 64.5h0M438.4 64.9h0M433.1 62.8h0M436.5 65.8h0M447.9 74.4h0M430.5 60.7h0M438.7 62.8h0M439.2 73.6h0M444.8 76.3h0M434.4 65.6h0M433.9 63.0h0M432.4 70.5h0M431.9 71.5h0M434.7 65.3h0M435.7 67.9h0M433.8 63.5h0M425.9 66.7h0M425.4 67.7h0M440.4 73.8h0M432.8 64.4h0M428.6 72.8h0M435.7 75.1h0M435.1 77.4h0M432.4 59.9h0M438.5 65.9h0M430.5 73.1h0M424.3 70.6h0M439.7 75.8h0M433.1 69.3h0M442.9 60.5h0M438.2 78.0h0M443.6 61.6h0M440.8 74.1h0M433.4 78.8h0M435.7 73.4h0M431.7 66.1h0M446.2 71.4h0M430.8 72.0h0M435.0 75.2h0M436.3 75.6h0M434.1 79.0h0M441.9 60.2h0M445.8 76.5h0M435.3 66.3h0M447.3 68.2h0M446.4 64.1h0M439.3 76.6h0M426.2 75.7h0M432.1 61.4h0M431.4 78.9h0M437.9 71.2h0M445.5 68.0h0M436.8 67.5h0M439.5 75.9h0M442.0 65.5h0M439.9 74.5h0M447.4 74.1h0M445.9 74.9h0M447.1 72.6h0M430.4 72.3h0M435.2 71.4h0M440.2 77.0h0M444.5 72.9h0M442.4 72.7h0M443.4 76.8h0M440.5 68.5h0M443.2 61.8h0M433.6 70.4h0M438.5 69.4h0M446.4 69.4h0M445.9 68.3h0M430.9 62.0h0M441.0 68.1h0M445.7 63.1h0M442.8 78.5h0M445.8 67.2h0M427.8 72.4h0M445.1 74.0h0M438.8 77.6h0M429.2 70.7h0M435.6 59.2h0M448.2 65.3h0M426.9 65.8h0M439.0 65.1h0M444.4 67.6h0M431.5 73.9h0M438.1 79.5h0M445.6 63.4h0M435.5 60.7h0M429.0 78.0h0M441.5 63.0h0M435.0 61.6h0M429.9 73.8h0M444.8 70.1h0M437.7 75.9h0M441.8 70.2h0M438.7 75.1h0M442.5 75.3h0M440.2 75.2h0M440.0 73.6h0M433.2 77.7h0M441.2 61.4h0M439.9 66.8h0M441.1 70.5h0M445.7 75.9h0M438.7 70.2h0M438.1 66.1h0M438.3 65.8h0M446.1 67.2h0M440.2 64.0h0M440.5 64.6h0M439.3 64.6h0M443.2 74.8h0M432.8 71.8h0M443.5 73.2h0M433.4 70.1h0M432.3 77.4h0M429.4 70.0h0M428.3 75.3h0M437.7 59.5h0M448.9 67.1h0M447.1 65.5h0M442.3 74.2h0M427.3 72.8h0M443.5 76.5h0M445.5 74.3h0M436.1 67.5h0M424.6 72.5h0M428.1 72.9h0M430.8 61.2h0M441.3 60.6h0M431.5 68.3h0M447.2 77.6h0M436.9 77.0h0M443.1 70.6h0M438.5 63.8h0M425.4 75.3h0M442.9 74.9h0M434.2 73.6h0M430.0 62.3h0M440.7 77.5h0M446.5 63.6h0M428.1 69.3h0M437.5 70.0h0M430.2 65.0h0M447.3 64.6h0M435.2 65.1h0M431.4 74.4h0M429.5 61.7h0M434.5 66.1h0M439.2 69.5h0M429.3 62.6h0M444.4 70.2h0M443.5 71.3h0M448.1 77.5h0M448.5 77.0h0M438.8 73.3h0M445.7 66.6h0M434.7 64.2h0M440.0 76.2h0M425.3 73.5h0M444.7 75.1h0M429.2 65.5h0M425.4 72.5h0M443.1 76.4h0M431.0 60.8h0M432.4 67.6h0M449.9 71.2h0M442.4 64.0h0M427.4 69.0h0M448.6 67.6h0M449.7 71.1h0M436.6 60.5h0M425.5 73.6h0M425.3 66.3h0M432.2 67.6h0M438.6 75.6h0M424.4 71.8h0M433.6 66.9h0M443.7 75.9h0M430.3 70.4h0M438.7 69.9h0M437.0 70.4h0M442.0 70.2h0M445.3 69.2h0M433.9 76.6h0M436.5 66.9h0M429.0 68.3h0M426.2 76.3h0M428.1 67.1h0M431.8 70.2h0M427.2 69.1h0M426.3 74.1h0M429.8 61.6h0M441.0 67.2h0M424.9 68.2h0M442.6 65.0h0M439.1 76.8h0M436.1 73.9h0M447.4 67.9h0M435.8 74.4h0M441.4 62.2h0M447.4 71.9h0M433.9 63.9h0M432.6 74.1h0M432.3 70.6h0M439.5 64.5h0M432.2 60.3h0M431.4 60.3h0M434.8 76.6h0M441.2 69.5h0M439.7 72.0h0M438.2 59.5h0M438.7 68.2h0M434.7 66.9h0M436.6 59.3h0M438.5 62.4h0M431.4 67.2h0M439.8 78.4h0M434.1 71.6h0M446.3 71.0h0M435.0 78.7h0M430.4 63.0h0M439.0 74.3h0M448.9 69.5h0M448.0 71.9h0M427.4 73.7h0M434.8 64.3h0M433.9 70.4h0M436.5 61.3h0M444.8 67.4h0M427.4 66.1h0M439.0 78.4h0M435.9 66.3h0M438.7 70.1h0M430.5 71.7h0M444.3 74.5h0M429.7 65.2h0M435.5 77.2h0M441.6 71.8h0M434.4 60.6h0M429.6 77.3h0M437.8 70.3h0M441.3 66.1h0M447.9 73.2h0M425.8 73.8h0M428.1 72.2h0M429.7 62.2h0M438.7 72.6h0M432.4 73.8h0M436.6 70.8h0M441.1 66.7h0M427.1 65.0h0M439.4 61.9h0M434.1 71.9h0M425.7 67.0h0M437.0 70.9h0M438.6 66.2h0M435.5 77.4h0M432.8 66.8h0M433.8 76.7h0M447.6 65.9h0M431.9 72.0h0M433.1 62.4h0M443.1 71.0h0M440.8 61.8h0M441.3 72.8h0M433.1 65.6h0M432.6 74.2h0M449.1 69.8h0M435.3 72.1h0M433.1 76.1h0M437.1 60.5h0M434.1 75.4h0M445.9 64.4h0M424.2 71.0h0M441.0 77.1h0M440.6 74.9h0M442.7 70.4h0M433.6 76.7h0M445.7 78.3h0M441.2 67.8h0M438.0 70.1h0M439.7 72.0h0M427.9 76.8h0M446.2 71.3h0M433.4 71.7h0M425.3 69.0h0M441.5 65.3h0M434.7 68.7h0M444.1 70.6h0M435.4 65.2h0M427.7 66.5h0M437.6 71.7h0M425.8 72.9h0M446.1 66.2h0M433.1 68.5h0M430.1 63.0h0M426.7 74.2h0M443.5 78.6h0M430.9 66.6h0M447.3 73.0h0M446.0 66.1h0M445.2 68.0h0M435.3 71.4h0M435.8 75.9h0M445.7 71.6h0M439.7 78.4h0M424.4 71.0h0M437.7 72.8h0M429.4 66.3h0M431.9 71.3h0M439.5 79.4h0M443.7 74.3h0M440.5 64.7h0M443.9 67.0h0M431.3 73.6h0M428.9 78.3h0M442.7 77.9h0M438.4 71.0h0M429.7 76.6h0M435.1 64.9h0M439.8 77.3h0M447.4 68.4h0M448.7 70.3h0M427.8 72.0h0M429.6 66.5h0M448.6 73.4h0M441.5 69.3h0M433.5 75.5h0" stroke="#9c8220" stroke-width="1.35" stroke-linecap="round" fill="none"/><path d="M424.0 72.0C425.2 71.8 428.6 74.5 429.0 76.0C429.4 77.5 427.2 78.8 426.5 81.0C425.8 83.2 425.1 86.5 424.5 89.0C423.9 91.5 423.4 93.9 423.0 96.0C422.6 98.1 422.4 100.7 421.8 101.5C421.2 102.3 419.7 102.6 419.3 101.0C418.9 99.4 419.3 94.8 419.5 92.0C419.7 89.2 420.1 86.5 420.5 84.0C420.9 81.5 421.4 79.0 422.0 77.0C422.6 75.0 422.8 72.2 424.0 72.0Z" fill="#9c8220" opacity="0.35"/><path d="M421.7 81.3h0M421.2 95.9h0M424.2 80.9h0M419.8 97.9h0M421.4 89.5h0M419.5 92.8h0M421.5 82.5h0M423.5 84.6h0M420.3 86.9h0M424.9 78.9h0M421.2 90.0h0M424.3 88.0h0M425.3 83.6h0M422.8 75.9h0M422.6 83.6h0M420.2 95.3h0M423.8 84.4h0M424.2 78.4h0M424.3 83.8h0M422.3 99.0h0M421.1 94.7h0M425.2 77.8h0M424.7 77.4h0M424.0 81.6h0M421.0 83.7h0M421.4 80.4h0M422.0 86.0h0M421.2 94.5h0M420.2 91.1h0M422.7 97.2h0M424.4 76.6h0M424.6 86.9h0M423.8 86.9h0M424.4 75.5h0M424.3 77.7h0M427.4 76.8h0M424.4 88.9h0M420.0 100.4h0M422.1 90.8h0M422.0 78.9h0M421.4 92.6h0M427.2 76.1h0M422.2 92.1h0M427.5 78.8h0M423.4 82.5h0M419.7 94.1h0M427.7 77.0h0M422.6 88.2h0M424.8 77.0h0M420.2 91.9h0M425.3 76.8h0M422.9 75.7h0M422.0 98.3h0M423.4 82.8h0M423.8 72.9h0M424.2 86.4h0M426.9 76.0h0M419.6 92.8h0M425.2 80.7h0M422.6 83.9h0M420.7 97.5h0M422.8 90.1h0M422.6 88.4h0M422.3 84.0h0M426.1 78.3h0M424.9 74.8h0M421.9 86.0h0M424.0 89.0h0M419.7 95.1h0M422.3 77.5h0M424.8 80.4h0M424.1 81.3h0M421.3 81.1h0M426.0 79.6h0M422.8 81.4h0M422.1 96.8h0M422.5 91.3h0M426.3 75.2h0M422.5 97.5h0M425.1 86.0h0M422.6 87.7h0M423.3 79.2h0M421.4 94.5h0M425.4 73.4h0M421.9 91.3h0M420.8 99.5h0M427.8 75.7h0M422.8 90.2h0M420.7 94.5h0M421.4 85.8h0M425.8 74.3h0M421.3 90.0h0M420.5 97.4h0M423.5 82.8h0M423.8 74.6h0M424.0 75.0h0M426.2 74.4h0M421.3 85.7h0M421.5 99.9h0M427.6 76.5h0M424.3 87.4h0M424.8 87.7h0M419.9 90.7h0M422.6 92.0h0M421.3 95.8h0M423.5 92.8h0M422.8 93.8h0M427.5 78.1h0M423.7 74.5h0M421.1 87.9h0M423.2 81.8h0M423.0 83.4h0M422.1 82.3h0M422.8 94.8h0M423.1 75.2h0M424.3 82.3h0M420.2 91.8h0M421.2 89.6h0M425.7 74.9h0M422.0 82.4h0M421.3 82.0h0M420.9 83.5h0M420.0 100.1h0M422.5 79.7h0M427.6 77.3h0M425.5 75.4h0M426.5 75.6h0M420.4 99.5h0M423.7 75.3h0M420.3 99.0h0M424.0 86.7h0M421.8 86.5h0M425.0 80.4h0M423.9 87.4h0M426.3 75.0h0M419.6 99.9h0M421.7 82.8h0M420.5 99.7h0M421.1 83.2h0M423.0 85.0h0M421.3 84.0h0M424.9 78.1h0M420.3 93.1h0M421.3 83.6h0M421.3 83.1h0M424.2 79.1h0M421.5 87.1h0M423.0 84.7h0M422.7 85.5h0M422.5 83.2h0M423.1 92.3h0M421.0 85.2h0M423.2 89.9h0M423.3 83.7h0M421.5 79.3h0M425.6 81.4h0M421.1 93.0h0M422.3 94.5h0M422.0 84.6h0M420.2 91.0h0M426.8 76.6h0M421.8 79.8h0M423.9 89.2h0M420.7 99.3h0M421.4 81.6h0M422.7 92.5h0M426.0 80.2h0M426.1 80.4h0M426.7 76.1h0M421.0 88.3h0" stroke="#9c8220" stroke-width="1.3" stroke-linecap="round" fill="none"/><path d="M438.4 83.9h0M437.0 84.1h0M439.2 84.6h0M435.0 81.9h0M435.9 84.8h0M437.9 87.2h0M438.6 83.3h0M437.7 81.7h0M435.9 83.7h0M437.1 86.5h0M436.0 86.2h0M436.1 83.9h0M439.3 87.1h0M435.9 85.1h0M434.1 81.1h0M437.9 85.3h0M437.7 84.5h0M439.1 85.1h0M436.7 83.0h0M439.9 82.3h0M439.6 81.3h0M435.7 86.2h0M438.4 83.1h0M435.9 83.1h0M439.1 85.5h0M438.5 86.2h0M435.3 83.0h0M439.1 86.9h0M436.4 86.6h0M436.0 84.7h0" stroke="#9c8220" stroke-width="1.2" stroke-linecap="round" fill="none"/><path d="M418.5 101.5C419.1 100.6 421.2 100.6 421.8 101.5C422.4 102.4 422.4 106.1 421.8 107.0C421.2 107.9 419.1 107.9 418.5 107.0C417.9 106.1 417.9 102.4 418.5 101.5Z" fill="#f2b8a2" opacity="0.9"/><text x="358.50" y="56.02" font-size="7" textLength="51.00" lengthAdjust="spacingAndGlyphs" stroke="#2b2b2b" stroke-width="0.1">Megakaryocytes</text><text x="327.30" y="95.72" font-size="7" textLength="13.90" lengthAdjust="spacingAndGlyphs" stroke="#2b2b2b" stroke-width="0.1">MEP</text><text x="384.00" y="120.72" font-size="7" textLength="33.50" lengthAdjust="spacingAndGlyphs" stroke="#2b2b2b" stroke-width="0.1">Monocytes</text><text x="387.00" y="154.92" font-size="7" textLength="39.50" lengthAdjust="spacingAndGlyphs" stroke="#2b2b2b" stroke-width="0.1">Erythrocytes</text><text x="426.30" y="56.82" font-size="7" textLength="19.20" lengthAdjust="spacingAndGlyphs" stroke="#2b2b2b" stroke-width="0.1">T cells</text><text x="424.60" y="106.92" font-size="7" textLength="25.00" lengthAdjust="spacingAndGlyphs" stroke="#2b2b2b" stroke-width="0.1">NK cells</text><rect x="460.80" y="102.00" width="34.60" height="21.80" fill="#dadada" rx="3.5" /><text x="478.10" y="111.45" font-size="8.2" text-anchor="middle" font-style="italic" stroke="#2b2b2b" stroke-width="0.1">TP53</text><text x="478.10" y="119.65" font-size="8.2" text-anchor="middle" font-style="italic" stroke="#2b2b2b" stroke-width="0.1">EP300</text><rect x="105.90" y="193.77" width="9.40" height="30.23" fill="#ef6157" /><rect x="116.95" y="217.47" width="9.40" height="6.52" fill="#a3281c" /><rect x="128.00" y="216.24" width="9.40" height="7.76" fill="#ee8334" /><rect x="139.05" y="213.63" width="9.40" height="10.37" fill="#4fa48b" /><rect x="150.10" y="220.81" width="9.40" height="3.19" fill="#eba5a5" /><rect x="161.15" y="220.81" width="9.40" height="3.19" fill="#d9b222" /><rect x="183.25" y="217.11" width="9.40" height="6.89" fill="#8f7d1c" /><line x1="103.60" y1="224.00" x2="193.70" y2="224.00" stroke="#2a2a2a" stroke-width="1.3" /><line x1="103.60" y1="192.00" x2="103.60" y2="224.60" stroke="#2a2a2a" stroke-width="1.3" /><line x1="100.60" y1="195.00" x2="103.60" y2="195.00" stroke="#2a2a2a" stroke-width="1" /><text x="96.50" y="197.38" font-size="6.6" text-anchor="end" fill="#333" stroke="#333" stroke-width="0.1">40</text><line x1="100.60" y1="202.25" x2="103.60" y2="202.25" stroke="#2a2a2a" stroke-width="1" /><text x="96.50" y="204.63" font-size="6.6" text-anchor="end" fill="#333" stroke="#333" stroke-width="0.1">30</text><line x1="100.60" y1="209.50" x2="103.60" y2="209.50" stroke="#2a2a2a" stroke-width="1" /><text x="96.50" y="211.88" font-size="6.6" text-anchor="end" fill="#333" stroke="#333" stroke-width="0.1">20</text><line x1="100.60" y1="216.75" x2="103.60" y2="216.75" stroke="#2a2a2a" stroke-width="1" /><text x="96.50" y="219.13" font-size="6.6" text-anchor="end" fill="#333" stroke="#333" stroke-width="0.1">10</text><line x1="100.60" y1="224.00" x2="103.60" y2="224.00" stroke="#2a2a2a" stroke-width="1" /><text x="96.50" y="226.38" font-size="6.6" text-anchor="end" fill="#333" stroke="#333" stroke-width="0.1">0</text><text x="83.60" y="207.80" font-size="6.5" text-anchor="middle" fill="#444" transform="rotate(-90 83.60 207.80)" stroke="#444" stroke-width="0.1">%</text><line x1="103.70" y1="236.50" x2="103.70" y2="404.00" stroke="#2a2a2a" stroke-width="1.4" /><line x1="103.00" y1="403.60" x2="194.20" y2="403.60" stroke="#2a2a2a" stroke-width="1.4" /><text x="99.80" y="245.62" font-size="7" text-anchor="end" fill="#333" font-style="italic" stroke="#333" stroke-width="0.1">GYPA</text><circle cx="110.60" cy="243.10" r="1.50" fill="#eda090" /><circle cx="121.65" cy="243.10" r="4.00" fill="#c81c24" stroke="#b04a40" stroke-opacity="0.35" stroke-width="0.4"/><circle cx="132.70" cy="243.10" r="2.50" fill="#ef8b6c" stroke="#b04a40" stroke-opacity="0.35" stroke-width="0.4"/><circle cx="143.75" cy="243.10" r="1.00" fill="#e4a49a" /><circle cx="154.80" cy="243.10" r="1.00" fill="#e4a49a" /><circle cx="165.85" cy="243.10" r="1.00" fill="#e4a49a" /><circle cx="176.90" cy="243.10" r="1.00" fill="#e4a49a" /><circle cx="187.95" cy="243.10" r="1.00" fill="#e4a49a" /><text x="99.80" y="255.91" font-size="7" text-anchor="end" fill="#333" font-style="italic" stroke="#333" stroke-width="0.1">TFRC</text><circle cx="110.60" cy="253.39" r="2.50" fill="#f4a88f" stroke="#b04a40" stroke-opacity="0.35" stroke-width="0.4"/><circle cx="121.65" cy="253.39" r="4.50" fill="#a8141d" stroke="#b04a40" stroke-opacity="0.35" stroke-width="0.4"/><circle cx="132.70" cy="253.39" r="2.25" fill="#f4a88f" stroke="#b04a40" stroke-opacity="0.35" stroke-width="0.4"/><circle cx="143.75" cy="253.39" r="1.50" fill="#eda090" /><circle cx="154.80" cy="253.39" r="1.50" fill="#eda090" /><circle cx="165.85" cy="253.39" r="2.00" fill="#ef8b6c" stroke="#b04a40" stroke-opacity="0.35" stroke-width="0.4"/><circle cx="176.90" cy="253.39" r="2.00" fill="#f4a88f" stroke="#b04a40" stroke-opacity="0.35" stroke-width="0.4"/><circle cx="187.95" cy="253.39" r="1.50" fill="#eda090" /><text x="99.80" y="266.20" font-size="7" text-anchor="end" fill="#333" font-style="italic" stroke="#333" stroke-width="0.1">HBA1</text><circle cx="110.60" cy="263.68" r="5.00" fill="#f4a88f" stroke="#b04a40" stroke-opacity="0.35" stroke-width="0.4"/><circle cx="121.65" cy="263.68" r="5.00" fill="#e96f45" stroke="#b04a40" stroke-opacity="0.35" stroke-width="0.4"/><circle cx="132.70" cy="263.68" r="5.00" fill="#c81c24" stroke="#b04a40" stroke-opacity="0.35" stroke-width="0.4"/><circle cx="143.75" cy="263.68" r="5.00" fill="#f4a88f" stroke="#b04a40" stroke-opacity="0.35" stroke-width="0.4"/><circle cx="154.80" cy="263.68" r="5.00" fill="#f4a88f" stroke="#b04a40" stroke-opacity="0.35" stroke-width="0.4"/><circle cx="165.85" cy="263.68" r="5.00" fill="#f4a88f" stroke="#b04a40" stroke-opacity="0.35" stroke-width="0.4"/><circle cx="176.90" cy="263.68" r="5.00" fill="#f4a88f" stroke="#b04a40" stroke-opacity="0.35" stroke-width="0.4"/><circle cx="187.95" cy="263.68" r="5.00" fill="#f4a88f" stroke="#b04a40" stroke-opacity="0.35" stroke-width="0.4"/><text x="99.80" y="276.49" font-size="7" text-anchor="end" fill="#333" font-style="italic" stroke="#333" stroke-width="0.1">HBB</text><circle cx="110.60" cy="273.97" r="5.00" fill="#f4a88f" stroke="#b04a40" stroke-opacity="0.35" stroke-width="0.4"/><circle cx="121.65" cy="273.97" r="5.00" fill="#f09070" stroke="#b04a40" stroke-opacity="0.35" stroke-width="0.4"/><circle cx="132.70" cy="273.97" r="5.00" fill="#a8141d" stroke="#b04a40" stroke-opacity="0.35" stroke-width="0.4"/><circle cx="143.75" cy="273.97" r="5.00" fill="#f4a88f" stroke="#b04a40" stroke-opacity="0.35" stroke-width="0.4"/><circle cx="154.80" cy="273.97" r="5.00" fill="#f4a88f" stroke="#b04a40" stroke-opacity="0.35" stroke-width="0.4"/><circle cx="165.85" cy="273.97" r="5.00" fill="#f4a88f" stroke="#b04a40" stroke-opacity="0.35" stroke-width="0.4"/><circle cx="176.90" cy="273.97" r="5.00" fill="#f4a88f" stroke="#b04a40" stroke-opacity="0.35" stroke-width="0.4"/><circle cx="187.95" cy="273.97" r="5.00" fill="#f4a88f" stroke="#b04a40" stroke-opacity="0.35" stroke-width="0.4"/><text x="99.80" y="286.78" font-size="7" text-anchor="end" fill="#333" font-style="italic" stroke="#333" stroke-width="0.1">NFE2</text><circle cx="110.60" cy="284.26" r="2.25" fill="#ef8b6c" stroke="#b04a40" stroke-opacity="0.35" stroke-width="0.4"/><circle cx="121.65" cy="284.26" r="4.00" fill="#ea5c3d" stroke="#b04a40" stroke-opacity="0.35" stroke-width="0.4"/><circle cx="132.70" cy="284.26" r="3.00" fill="#e0312b" stroke="#b04a40" stroke-opacity="0.35" stroke-width="0.4"/><circle cx="143.75" cy="284.26" r="1.00" fill="#eda090" /><circle cx="154.80" cy="284.26" r="1.00" fill="#e4a49a" /><circle cx="165.85" cy="284.26" r="1.75" fill="#ef8b6c" stroke="#b04a40" stroke-opacity="0.35" stroke-width="0.4"/><circle cx="176.90" cy="284.26" r="1.50" fill="#eda090" /><circle cx="187.95" cy="284.26" r="1.00" fill="#e4a49a" /><text x="99.80" y="297.07" font-size="7" text-anchor="end" fill="#333" font-style="italic" stroke="#333" stroke-width="0.1">GATA1</text><circle cx="110.60" cy="294.55" r="2.75" fill="#e0312b" stroke="#b04a40" stroke-opacity="0.35" stroke-width="0.4"/><circle cx="121.65" cy="294.55" r="3.75" fill="#ea5c3d" stroke="#b04a40" stroke-opacity="0.35" stroke-width="0.4"/><circle cx="132.70" cy="294.55" r="2.25" fill="#ef8b6c" stroke="#b04a40" stroke-opacity="0.35" stroke-width="0.4"/><circle cx="143.75" cy="294.55" r="1.00" fill="#eda090" /><circle cx="154.80" cy="294.55" r="1.00" fill="#e4a49a" /><circle cx="165.85" cy="294.55" r="1.00" fill="#e4a49a" /><circle cx="176.90" cy="294.55" r="1.00" fill="#e4a49a" /><circle cx="187.95" cy="294.55" r="1.00" fill="#e4a49a" /><text x="99.80" y="307.36" font-size="7" text-anchor="end" fill="#333" font-style="italic" stroke="#333" stroke-width="0.1">TAL1</text><circle cx="110.60" cy="304.84" r="1.50" fill="#ef8b6c" /><circle cx="121.65" cy="304.84" r="3.50" fill="#c81c24" stroke="#b04a40" stroke-opacity="0.35" stroke-width="0.4"/><circle cx="132.70" cy="304.84" r="1.50" fill="#ef8b6c" /><circle cx="143.75" cy="304.84" r="1.00" fill="#eda090" /><circle cx="154.80" cy="304.84" r="1.00" fill="#e4a49a" /><circle cx="165.85" cy="304.84" r="1.00" fill="#e4a49a" /><circle cx="176.90" cy="304.84" r="1.50" fill="#ea5c3d" /><circle cx="187.95" cy="304.84" r="1.00" fill="#e4a49a" /><text x="99.80" y="317.65" font-size="7" text-anchor="end" fill="#333" font-style="italic" stroke="#333" stroke-width="0.1">KLF1</text><circle cx="110.60" cy="315.13" r="4.50" fill="#ea5c3d" stroke="#b04a40" stroke-opacity="0.35" stroke-width="0.4"/><circle cx="121.65" cy="315.13" r="4.75" fill="#ea5c3d" stroke="#b04a40" stroke-opacity="0.35" stroke-width="0.4"/><circle cx="132.70" cy="315.13" r="4.00" fill="#e96f45" stroke="#b04a40" stroke-opacity="0.35" stroke-width="0.4"/><circle cx="143.75" cy="315.13" r="2.50" fill="#ef8b6c" stroke="#b04a40" stroke-opacity="0.35" stroke-width="0.4"/><circle cx="154.80" cy="315.13" r="2.00" fill="#f4a88f" stroke="#b04a40" stroke-opacity="0.35" stroke-width="0.4"/><circle cx="165.85" cy="315.13" r="2.25" fill="#ef8b6c" stroke="#b04a40" stroke-opacity="0.35" stroke-width="0.4"/><circle cx="176.90" cy="315.13" r="2.00" fill="#f4a88f" stroke="#b04a40" stroke-opacity="0.35" stroke-width="0.4"/><circle cx="187.95" cy="315.13" r="2.25" fill="#f4a88f" stroke="#b04a40" stroke-opacity="0.35" stroke-width="0.4"/><text x="99.80" y="327.94" font-size="7" text-anchor="end" fill="#333" font-style="italic" stroke="#333" stroke-width="0.1">GFI1B</text><circle cx="110.60" cy="325.42" r="3.50" fill="#e0312b" stroke="#b04a40" stroke-opacity="0.35" stroke-width="0.4"/><circle cx="121.65" cy="325.42" r="4.25" fill="#ea5c3d" stroke="#b04a40" stroke-opacity="0.35" stroke-width="0.4"/><circle cx="132.70" cy="325.42" r="3.00" fill="#e96f45" stroke="#b04a40" stroke-opacity="0.35" stroke-width="0.4"/><circle cx="143.75" cy="325.42" r="1.50" fill="#ef8b6c" /><circle cx="154.80" cy="325.42" r="1.25" fill="#eda090" /><circle cx="165.85" cy="325.42" r="1.25" fill="#eda090" /><circle cx="176.90" cy="325.42" r="1.50" fill="#eda090" /><circle cx="187.95" cy="325.42" r="1.50" fill="#eda090" /><text x="99.80" y="338.23" font-size="7" text-anchor="end" fill="#333" font-style="italic" stroke="#333" stroke-width="0.1">CDKN2A</text><circle cx="110.60" cy="335.71" r="4.00" fill="#c81c24" stroke="#b04a40" stroke-opacity="0.35" stroke-width="0.4"/><circle cx="121.65" cy="335.71" r="3.75" fill="#ef8b6c" stroke="#b04a40" stroke-opacity="0.35" stroke-width="0.4"/><circle cx="132.70" cy="335.71" r="2.50" fill="#f4a88f" stroke="#b04a40" stroke-opacity="0.35" stroke-width="0.4"/><circle cx="143.75" cy="335.71" r="2.00" fill="#ef8b6c" stroke="#b04a40" stroke-opacity="0.35" stroke-width="0.4"/><circle cx="154.80" cy="335.71" r="1.75" fill="#f4a88f" stroke="#b04a40" stroke-opacity="0.35" stroke-width="0.4"/><circle cx="165.85" cy="335.71" r="1.25" fill="#eda090" /><circle cx="176.90" cy="335.71" r="1.25" fill="#eda090" /><circle cx="187.95" cy="335.71" r="1.75" fill="#f4a88f" stroke="#b04a40" stroke-opacity="0.35" stroke-width="0.4"/><text x="99.80" y="348.52" font-size="7" text-anchor="end" fill="#333" font-style="italic" stroke="#333" stroke-width="0.1">CKS2</text><circle cx="110.60" cy="346.00" r="4.00" fill="#c81c24" stroke="#b04a40" stroke-opacity="0.35" stroke-width="0.4"/><circle cx="121.65" cy="346.00" r="3.75" fill="#f4a88f" stroke="#b04a40" stroke-opacity="0.35" stroke-width="0.4"/><circle cx="132.70" cy="346.00" r="2.75" fill="#f4a88f" stroke="#b04a40" stroke-opacity="0.35" stroke-width="0.4"/><circle cx="143.75" cy="346.00" r="2.50" fill="#ea5c3d" stroke="#b04a40" stroke-opacity="0.35" stroke-width="0.4"/><circle cx="154.80" cy="346.00" r="2.00" fill="#f4a88f" stroke="#b04a40" stroke-opacity="0.35" stroke-width="0.4"/><circle cx="165.85" cy="346.00" r="2.50" fill="#ef8b6c" stroke="#b04a40" stroke-opacity="0.35" stroke-width="0.4"/><circle cx="176.90" cy="346.00" r="2.50" fill="#f4a88f" stroke="#b04a40" stroke-opacity="0.35" stroke-width="0.4"/><circle cx="187.95" cy="346.00" r="2.25" fill="#f4a88f" stroke="#b04a40" stroke-opacity="0.35" stroke-width="0.4"/><text x="99.80" y="358.81" font-size="7" text-anchor="end" fill="#333" font-style="italic" stroke="#333" stroke-width="0.1">UBE2C</text><circle cx="110.60" cy="356.29" r="2.50" fill="#a8141d" stroke="#b04a40" stroke-opacity="0.35" stroke-width="0.4"/><circle cx="121.65" cy="356.29" r="1.25" fill="#eda090" /><circle cx="132.70" cy="356.29" r="1.25" fill="#eda090" /><circle cx="143.75" cy="356.29" r="1.25" fill="#ef8b6c" /><circle cx="154.80" cy="356.29" r="1.00" fill="#e4a49a" /><circle cx="165.85" cy="356.29" r="1.25" fill="#ef8b6c" /><circle cx="176.90" cy="356.29" r="1.00" fill="#e4a49a" /><circle cx="187.95" cy="356.29" r="1.00" fill="#e4a49a" /><text x="99.80" y="369.10" font-size="7" text-anchor="end" fill="#333" font-style="italic" stroke="#333" stroke-width="0.1">CD34</text><circle cx="110.60" cy="366.58" r="0.75" fill="#eda090" /><circle cx="121.65" cy="366.58" r="0.75" fill="#eda090" /><circle cx="132.70" cy="366.58" r="0.75" fill="#eda090" /><circle cx="143.75" cy="366.58" r="0.75" fill="#eda090" /><circle cx="154.80" cy="366.58" r="0.75" fill="#eda090" /><circle cx="165.85" cy="366.58" r="0.75" fill="#eda090" /><circle cx="176.90" cy="366.58" r="2.50" fill="#a8141d" stroke="#b04a40" stroke-opacity="0.35" stroke-width="0.4"/><circle cx="187.95" cy="366.58" r="0.75" fill="#eda090" /><text x="99.80" y="379.39" font-size="7" text-anchor="end" fill="#333" font-style="italic" stroke="#333" stroke-width="0.1">BCL2L1</text><circle cx="110.60" cy="376.87" r="1.00" fill="#ef8b6c" /><circle cx="121.65" cy="376.87" r="3.50" fill="#ea5c3d" stroke="#b04a40" stroke-opacity="0.35" stroke-width="0.4"/><circle cx="132.70" cy="376.87" r="2.50" fill="#c81c24" stroke="#b04a40" stroke-opacity="0.35" stroke-width="0.4"/><circle cx="143.75" cy="376.87" r="1.00" fill="#ea5c3d" /><circle cx="154.80" cy="376.87" r="1.00" fill="#e4a49a" /><circle cx="165.85" cy="376.87" r="1.00" fill="#e4a49a" /><circle cx="176.90" cy="376.87" r="1.00" fill="#e4a49a" /><circle cx="187.95" cy="376.87" r="1.00" fill="#e4a49a" /><text x="99.80" y="389.68" font-size="7" text-anchor="end" fill="#333" font-style="italic" stroke="#333" stroke-width="0.1">BCL2</text><circle cx="110.60" cy="387.16" r="0.75" fill="#eda090" /><circle cx="121.65" cy="387.16" r="0.75" fill="#eda090" /><circle cx="132.70" cy="387.16" r="0.75" fill="#eda090" /><circle cx="143.75" cy="387.16" r="0.60" fill="#eda090" /><circle cx="154.80" cy="387.16" r="1.00" fill="#eda090" /><circle cx="165.85" cy="387.16" r="1.00" fill="#eda090" /><circle cx="176.90" cy="387.16" r="1.00" fill="#eda090" /><circle cx="187.95" cy="387.16" r="3.00" fill="#a8141d" stroke="#b04a40" stroke-opacity="0.35" stroke-width="0.4"/><text x="99.80" y="399.97" font-size="7" text-anchor="end" fill="#333" font-style="italic" stroke="#333" stroke-width="0.1">MCL1</text><circle cx="110.60" cy="397.45" r="1.00" fill="#eda090" /><circle cx="121.65" cy="397.45" r="2.25" fill="#f4a88f" stroke="#b04a40" stroke-opacity="0.35" stroke-width="0.4"/><circle cx="132.70" cy="397.45" r="0.75" fill="#eda090" /><circle cx="143.75" cy="397.45" r="1.00" fill="#eda090" /><circle cx="154.80" cy="397.45" r="1.00" fill="#eda090" /><circle cx="165.85" cy="397.45" r="2.75" fill="#e0312b" stroke="#b04a40" stroke-opacity="0.35" stroke-width="0.4"/><circle cx="176.90" cy="397.45" r="3.50" fill="#ea5c3d" stroke="#b04a40" stroke-opacity="0.35" stroke-width="0.4"/><circle cx="187.95" cy="397.45" r="2.00" fill="#ef8b6c" stroke="#b04a40" stroke-opacity="0.35" stroke-width="0.4"/><line x1="57.50" y1="239.50" x2="57.50" y2="274.80" stroke="#7a7a7a" stroke-width="1.6" /><line x1="57.50" y1="282.50" x2="57.50" y2="326.40" stroke="#7a7a7a" stroke-width="1.6" /><line x1="57.50" y1="333.80" x2="57.50" y2="357.50" stroke="#7a7a7a" stroke-width="1.6" /><line x1="57.50" y1="374.80" x2="57.50" y2="399.80" stroke="#7a7a7a" stroke-width="1.6" /><text x="54.50" y="260.52" font-size="7" text-anchor="end" fill="#333" textLength="28.20" lengthAdjust="spacingAndGlyphs" stroke="#333" stroke-width="0.1">Erythroid</text><text x="54.60" y="307.52" font-size="7" text-anchor="end" fill="#333" stroke="#333" stroke-width="0.1">TF</text><text x="54.50" y="348.52" font-size="7" text-anchor="end" fill="#333" textLength="37.50" lengthAdjust="spacingAndGlyphs" stroke="#333" stroke-width="0.1">Proliferation</text><text x="54.60" y="386.42" font-size="7" text-anchor="end" fill="#333" stroke="#333" stroke-width="0.1">BCL-2</text><text x="54.60" y="395.32" font-size="7" text-anchor="end" fill="#333" stroke="#333" stroke-width="0.1">family</text><text x="61.30" y="256.42" font-size="5.9" fill="#a0a0a0" textLength="13.60" lengthAdjust="spacingAndGlyphs" stroke="#a0a0a0" stroke-width="0.1">CD71</text><circle cx="110.60" cy="409.30" r="2.40" fill="#e4655a" /><text x="112.80" y="416.20" font-size="7" text-anchor="end" fill="#333" transform="rotate(-45 112.80 416.20)" stroke="#333" stroke-width="0.1">Erythroblasts 1</text><circle cx="121.65" cy="409.30" r="2.40" fill="#9c2119" /><text x="123.85" y="416.20" font-size="7" text-anchor="end" fill="#333" transform="rotate(-45 123.85 416.20)" stroke="#333" stroke-width="0.1">Erythroblasts 2</text><circle cx="132.70" cy="409.30" r="2.40" fill="#ea8136" /><text x="134.90" y="416.20" font-size="7" text-anchor="end" fill="#333" transform="rotate(-45 134.90 416.20)" stroke="#333" stroke-width="0.1">Erythroblasts 3</text><circle cx="143.75" cy="409.30" r="2.40" fill="#4ea08c" /><text x="145.95" y="416.20" font-size="7" text-anchor="end" fill="#333" transform="rotate(-45 145.95 416.20)" stroke="#333" stroke-width="0.1">Monocytes</text><circle cx="154.80" cy="409.30" r="2.40" fill="#e9aaaa" /><text x="157.00" y="416.20" font-size="7" text-anchor="end" fill="#333" transform="rotate(-45 157.00 416.20)" stroke="#333" stroke-width="0.1">Plasma cells</text><circle cx="165.85" cy="409.30" r="2.40" fill="#d9b126" /><text x="168.05" y="416.20" font-size="7" text-anchor="end" fill="#333" transform="rotate(-45 168.05 416.20)" stroke="#333" stroke-width="0.1">CMP</text><circle cx="176.90" cy="409.30" r="2.40" fill="#f1d99a" /><text x="179.10" y="416.20" font-size="7" text-anchor="end" fill="#333" transform="rotate(-45 179.10 416.20)" stroke="#333" stroke-width="0.1">MPP</text><circle cx="187.95" cy="409.30" r="2.40" fill="#8c7f22" /><text x="190.15" y="416.20" font-size="7" text-anchor="end" fill="#333" transform="rotate(-45 190.15 416.20)" stroke="#333" stroke-width="0.1">T/NK cells</text><text x="204.75" y="248.82" font-size="7" fill="#333" textLength="25.80" lengthAdjust="spacingAndGlyphs" stroke="#333" stroke-width="0.1">Average</text><text x="204.75" y="256.92" font-size="7" fill="#333" textLength="32.75" lengthAdjust="spacingAndGlyphs" stroke="#333" stroke-width="0.1">expression</text><defs><linearGradient id="cbB" x1="0" y1="0" x2="0" y2="1"><stop offset="0" stop-color="#9c101c"/><stop offset="0.1" stop-color="#c81a22"/><stop offset="0.2" stop-color="#d82224"/><stop offset="0.4" stop-color="#e8432c"/><stop offset="0.68" stop-color="#f07450"/><stop offset="1" stop-color="#fbd6c8"/></linearGradient></defs><rect x="204.75" y="261.90" width="10.30" height="54.80" fill="url(#cbB)" /><text x="220.60" y="271.85" font-size="6.8" fill="#333" stroke="#333" stroke-width="0.1">2</text><line x1="204.75" y1="269.40" x2="206.50" y2="269.40" stroke="#fff" stroke-width="0.8" /><line x1="213.30" y1="269.40" x2="215.05" y2="269.40" stroke="#fff" stroke-width="0.8" /><text x="220.60" y="286.85" font-size="6.8" fill="#333" stroke="#333" stroke-width="0.1">1</text><line x1="204.75" y1="284.40" x2="206.50" y2="284.40" stroke="#fff" stroke-width="0.8" /><line x1="213.30" y1="284.40" x2="215.05" y2="284.40" stroke="#fff" stroke-width="0.8" /><text x="220.60" y="302.55" font-size="6.8" fill="#333" stroke="#333" stroke-width="0.1">0</text><line x1="204.75" y1="300.10" x2="206.50" y2="300.10" stroke="#fff" stroke-width="0.8" /><line x1="213.30" y1="300.10" x2="215.05" y2="300.10" stroke="#fff" stroke-width="0.8" /><text x="220.60" y="317.75" font-size="6.8" fill="#333" stroke="#333" stroke-width="0.1">−1</text><line x1="204.75" y1="315.30" x2="206.50" y2="315.30" stroke="#fff" stroke-width="0.8" /><line x1="213.30" y1="315.30" x2="215.05" y2="315.30" stroke="#fff" stroke-width="0.8" /><text x="204.80" y="337.32" font-size="7" fill="#333" textLength="39.20" lengthAdjust="spacingAndGlyphs" stroke="#333" stroke-width="0.1">% expressed</text><circle cx="210.20" cy="347.00" r="0.60" fill="#111" /><text x="221.70" y="349.45" font-size="6.8" fill="#333" stroke="#333" stroke-width="0.1">0</text><circle cx="210.20" cy="358.10" r="1.80" fill="#111" /><text x="221.70" y="360.55" font-size="6.8" fill="#333" stroke="#333" stroke-width="0.1">25</text><circle cx="210.20" cy="369.10" r="3.15" fill="#111" /><text x="221.70" y="371.55" font-size="6.8" fill="#333" stroke="#333" stroke-width="0.1">50</text><circle cx="210.20" cy="380.20" r="4.10" fill="#111" /><text x="221.70" y="382.65" font-size="6.8" fill="#333" stroke="#333" stroke-width="0.1">75</text><circle cx="210.20" cy="391.80" r="5.30" fill="#111" /><text x="221.70" y="394.25" font-size="6.8" fill="#333" stroke="#333" stroke-width="0.1">100</text><rect x="370.30" y="187.40" width="9.40" height="36.30" fill="#f0625c" /><rect x="381.60" y="216.23" width="9.40" height="7.47" fill="#5e0d16" /><rect x="392.90" y="216.23" width="9.40" height="7.47" fill="#ee8134" /><rect x="415.50" y="204.65" width="9.40" height="19.05" fill="#9d8022" /><line x1="368.50" y1="223.70" x2="449.40" y2="223.70" stroke="#2a2a2a" stroke-width="1.3" /><line x1="368.50" y1="190.80" x2="368.50" y2="224.30" stroke="#2a2a2a" stroke-width="1.3" /><line x1="365.50" y1="193.80" x2="368.50" y2="193.80" stroke="#2a2a2a" stroke-width="1" /><text x="361.70" y="196.18" font-size="6.6" text-anchor="end" fill="#333" stroke="#333" stroke-width="0.1">40</text><line x1="365.50" y1="201.20" x2="368.50" y2="201.20" stroke="#2a2a2a" stroke-width="1" /><text x="361.70" y="203.58" font-size="6.6" text-anchor="end" fill="#333" stroke="#333" stroke-width="0.1">30</text><line x1="365.50" y1="208.60" x2="368.50" y2="208.60" stroke="#2a2a2a" stroke-width="1" /><text x="361.70" y="210.98" font-size="6.6" text-anchor="end" fill="#333" stroke="#333" stroke-width="0.1">20</text><line x1="365.50" y1="216.00" x2="368.50" y2="216.00" stroke="#2a2a2a" stroke-width="1" /><text x="361.70" y="218.38" font-size="6.6" text-anchor="end" fill="#333" stroke="#333" stroke-width="0.1">10</text><line x1="365.50" y1="223.70" x2="368.50" y2="223.70" stroke="#2a2a2a" stroke-width="1" /><text x="361.70" y="226.08" font-size="6.6" text-anchor="end" fill="#333" stroke="#333" stroke-width="0.1">0</text><text x="347.80" y="207.60" font-size="6.5" text-anchor="middle" fill="#444" transform="rotate(-90 347.80 207.60)" stroke="#444" stroke-width="0.1">%</text><line x1="368.60" y1="236.50" x2="368.60" y2="403.60" stroke="#2a2a2a" stroke-width="1.4" /><line x1="368.00" y1="403.20" x2="450.80" y2="403.20" stroke="#2a2a2a" stroke-width="1.4" /><text x="364.50" y="245.92" font-size="7" text-anchor="end" fill="#333" font-style="italic" stroke="#333" stroke-width="0.1">ITGA2B</text><circle cx="375.00" cy="243.40" r="5.00" fill="#ea5c3d" stroke="#b04a40" stroke-opacity="0.35" stroke-width="0.4"/><circle cx="386.30" cy="243.40" r="5.25" fill="#c81c24" stroke="#b04a40" stroke-opacity="0.35" stroke-width="0.4"/><circle cx="397.60" cy="243.40" r="1.00" fill="#eda090" /><circle cx="408.90" cy="243.40" r="1.00" fill="#eda090" /><circle cx="420.20" cy="243.40" r="0.75" fill="#e4a49a" /><circle cx="431.50" cy="243.40" r="0.75" fill="#e4a49a" /><circle cx="442.80" cy="243.40" r="1.00" fill="#eda090" /><text x="364.50" y="256.18" font-size="7" text-anchor="end" fill="#333" font-style="italic" stroke="#333" stroke-width="0.1">GP1BA</text><circle cx="375.00" cy="253.66" r="1.50" fill="#ef8b6c" /><circle cx="386.30" cy="253.66" r="2.50" fill="#c81c24" stroke="#b04a40" stroke-opacity="0.35" stroke-width="0.4"/><circle cx="397.60" cy="253.66" r="0.75" fill="#e4a49a" /><circle cx="408.90" cy="253.66" r="0.75" fill="#e4a49a" /><circle cx="420.20" cy="253.66" r="0.75" fill="#e4a49a" /><circle cx="431.50" cy="253.66" r="0.75" fill="#e4a49a" /><circle cx="442.80" cy="253.66" r="0.75" fill="#e4a49a" /><text x="364.50" y="266.44" font-size="7" text-anchor="end" fill="#333" font-style="italic" stroke="#333" stroke-width="0.1">GP1BB</text><circle cx="375.00" cy="263.92" r="4.00" fill="#ef8b6c" stroke="#b04a40" stroke-opacity="0.35" stroke-width="0.4"/><circle cx="386.30" cy="263.92" r="5.00" fill="#c81c24" stroke="#b04a40" stroke-opacity="0.35" stroke-width="0.4"/><circle cx="397.60" cy="263.92" r="1.25" fill="#eda090" /><circle cx="408.90" cy="263.92" r="1.00" fill="#eda090" /><circle cx="420.20" cy="263.92" r="0.75" fill="#e4a49a" /><circle cx="431.50" cy="263.92" r="1.00" fill="#eda090" /><circle cx="442.80" cy="263.92" r="1.25" fill="#eda090" /><text x="364.50" y="276.70" font-size="7" text-anchor="end" fill="#333" font-style="italic" stroke="#333" stroke-width="0.1">ITGB3</text><circle cx="375.00" cy="274.18" r="1.25" fill="#ef8b6c" /><circle cx="386.30" cy="274.18" r="3.50" fill="#a8141d" stroke="#b04a40" stroke-opacity="0.35" stroke-width="0.4"/><circle cx="397.60" cy="274.18" r="0.75" fill="#e4a49a" /><circle cx="408.90" cy="274.18" r="1.00" fill="#eda090" /><circle cx="420.20" cy="274.18" r="0.75" fill="#e4a49a" /><circle cx="431.50" cy="274.18" r="0.75" fill="#e4a49a" /><circle cx="442.80" cy="274.18" r="0.75" fill="#e4a49a" /><text x="364.50" y="286.96" font-size="7" text-anchor="end" fill="#333" font-style="italic" stroke="#333" stroke-width="0.1">TFRC</text><circle cx="375.00" cy="284.44" r="4.25" fill="#e0312b" stroke="#b04a40" stroke-opacity="0.35" stroke-width="0.4"/><circle cx="386.30" cy="284.44" r="2.50" fill="#ef8b6c" stroke="#b04a40" stroke-opacity="0.35" stroke-width="0.4"/><circle cx="397.60" cy="284.44" r="2.00" fill="#ea5c3d" stroke="#b04a40" stroke-opacity="0.35" stroke-width="0.4"/><circle cx="408.90" cy="284.44" r="1.00" fill="#eda090" /><circle cx="420.20" cy="284.44" r="1.00" fill="#e4a49a" /><circle cx="431.50" cy="284.44" r="1.00" fill="#e4a49a" /><circle cx="442.80" cy="284.44" r="2.25" fill="#ef8b6c" stroke="#b04a40" stroke-opacity="0.35" stroke-width="0.4"/><text x="364.50" y="297.22" font-size="7" text-anchor="end" fill="#333" font-style="italic" stroke="#333" stroke-width="0.1">NFE2</text><circle cx="375.00" cy="294.70" r="3.50" fill="#ea5c3d" stroke="#b04a40" stroke-opacity="0.35" stroke-width="0.4"/><circle cx="386.30" cy="294.70" r="3.25" fill="#ea5c3d" stroke="#b04a40" stroke-opacity="0.35" stroke-width="0.4"/><circle cx="397.60" cy="294.70" r="2.50" fill="#e0312b" stroke="#b04a40" stroke-opacity="0.35" stroke-width="0.4"/><circle cx="408.90" cy="294.70" r="1.00" fill="#eda090" /><circle cx="420.20" cy="294.70" r="0.75" fill="#e4a49a" /><circle cx="431.50" cy="294.70" r="0.75" fill="#e4a49a" /><circle cx="442.80" cy="294.70" r="1.25" fill="#ef8b6c" /><text x="364.50" y="307.48" font-size="7" text-anchor="end" fill="#333" font-style="italic" stroke="#333" stroke-width="0.1">GATA1</text><circle cx="375.00" cy="304.96" r="3.50" fill="#ea5c3d" stroke="#b04a40" stroke-opacity="0.35" stroke-width="0.4"/><circle cx="386.30" cy="304.96" r="3.50" fill="#e0312b" stroke="#b04a40" stroke-opacity="0.35" stroke-width="0.4"/><circle cx="397.60" cy="304.96" r="2.25" fill="#ea5c3d" stroke="#b04a40" stroke-opacity="0.35" stroke-width="0.4"/><circle cx="408.90" cy="304.96" r="1.25" fill="#eda090" /><circle cx="420.20" cy="304.96" r="0.75" fill="#e4a49a" /><circle cx="431.50" cy="304.96" r="1.00" fill="#e4a49a" /><circle cx="442.80" cy="304.96" r="1.00" fill="#eda090" /><text x="364.50" y="317.74" font-size="7" text-anchor="end" fill="#333" font-style="italic" stroke="#333" stroke-width="0.1">RUNX1</text><circle cx="375.00" cy="315.22" r="4.00" fill="#ef8b6c" stroke="#b04a40" stroke-opacity="0.35" stroke-width="0.4"/><circle cx="386.30" cy="315.22" r="3.75" fill="#ea5c3d" stroke="#b04a40" stroke-opacity="0.35" stroke-width="0.4"/><circle cx="397.60" cy="315.22" r="0.75" fill="#e4a49a" /><circle cx="408.90" cy="315.22" r="2.50" fill="#ef8b6c" stroke="#b04a40" stroke-opacity="0.35" stroke-width="0.4"/><circle cx="420.20" cy="315.22" r="1.00" fill="#e4a49a" /><circle cx="431.50" cy="315.22" r="1.00" fill="#e4a49a" /><circle cx="442.80" cy="315.22" r="3.00" fill="#ea5c3d" stroke="#b04a40" stroke-opacity="0.35" stroke-width="0.4"/><text x="364.50" y="328.00" font-size="7" text-anchor="end" fill="#333" font-style="italic" stroke="#333" stroke-width="0.1">TAL1</text><circle cx="375.00" cy="325.48" r="3.00" fill="#ea5c3d" stroke="#b04a40" stroke-opacity="0.35" stroke-width="0.4"/><circle cx="386.30" cy="325.48" r="2.75" fill="#ea5c3d" stroke="#b04a40" stroke-opacity="0.35" stroke-width="0.4"/><circle cx="397.60" cy="325.48" r="1.75" fill="#e0312b" stroke="#b04a40" stroke-opacity="0.35" stroke-width="0.4"/><circle cx="408.90" cy="325.48" r="0.75" fill="#e4a49a" /><circle cx="420.20" cy="325.48" r="0.75" fill="#e4a49a" /><circle cx="431.50" cy="325.48" r="0.75" fill="#e4a49a" /><circle cx="442.80" cy="325.48" r="0.75" fill="#e4a49a" /><text x="364.50" y="338.26" font-size="7" text-anchor="end" fill="#333" font-style="italic" stroke="#333" stroke-width="0.1">FLI1</text><circle cx="375.00" cy="335.74" r="3.00" fill="#ef8b6c" stroke="#b04a40" stroke-opacity="0.35" stroke-width="0.4"/><circle cx="386.30" cy="335.74" r="4.00" fill="#c81c24" stroke="#b04a40" stroke-opacity="0.35" stroke-width="0.4"/><circle cx="397.60" cy="335.74" r="0.75" fill="#e4a49a" /><circle cx="408.90" cy="335.74" r="1.50" fill="#eda090" /><circle cx="420.20" cy="335.74" r="1.00" fill="#e4a49a" /><circle cx="431.50" cy="335.74" r="1.00" fill="#e4a49a" /><circle cx="442.80" cy="335.74" r="1.00" fill="#eda090" /><text x="364.50" y="348.52" font-size="7" text-anchor="end" fill="#333" font-style="italic" stroke="#333" stroke-width="0.1">CD34</text><circle cx="375.00" cy="346.00" r="1.25" fill="#ef8b6c" /><circle cx="386.30" cy="346.00" r="1.50" fill="#a8141d" /><circle cx="397.60" cy="346.00" r="0.75" fill="#e4a49a" /><circle cx="408.90" cy="346.00" r="0.75" fill="#e4a49a" /><circle cx="420.20" cy="346.00" r="0.75" fill="#e4a49a" /><circle cx="431.50" cy="346.00" r="0.75" fill="#e4a49a" /><circle cx="442.80" cy="346.00" r="1.25" fill="#a8141d" /><text x="364.50" y="358.78" font-size="7" text-anchor="end" fill="#333" font-style="italic" stroke="#333" stroke-width="0.1">KIT</text><circle cx="375.00" cy="356.26" r="2.00" fill="#c81c24" stroke="#b04a40" stroke-opacity="0.35" stroke-width="0.4"/><circle cx="386.30" cy="356.26" r="0.75" fill="#a8141d" /><circle cx="397.60" cy="356.26" r="0.75" fill="#e4a49a" /><circle cx="408.90" cy="356.26" r="0.75" fill="#e4a49a" /><circle cx="420.20" cy="356.26" r="0.75" fill="#e4a49a" /><circle cx="431.50" cy="356.26" r="0.75" fill="#e4a49a" /><circle cx="442.80" cy="356.26" r="1.00" fill="#a8141d" /><text x="364.50" y="369.04" font-size="7" text-anchor="end" fill="#333" font-style="italic" stroke="#333" stroke-width="0.1">CD38</text><circle cx="375.00" cy="366.52" r="3.25" fill="#ef8b6c" stroke="#b04a40" stroke-opacity="0.35" stroke-width="0.4"/><circle cx="386.30" cy="366.52" r="2.25" fill="#ef8b6c" stroke="#b04a40" stroke-opacity="0.35" stroke-width="0.4"/><circle cx="397.60" cy="366.52" r="0.75" fill="#e4a49a" /><circle cx="408.90" cy="366.52" r="0.75" fill="#e4a49a" /><circle cx="420.20" cy="366.52" r="0.75" fill="#e4a49a" /><circle cx="431.50" cy="366.52" r="1.25" fill="#ea5c3d" /><circle cx="442.80" cy="366.52" r="2.25" fill="#e0312b" stroke="#b04a40" stroke-opacity="0.35" stroke-width="0.4"/><text x="364.50" y="379.30" font-size="7" text-anchor="end" fill="#333" font-style="italic" stroke="#333" stroke-width="0.1">BCL2L1</text><circle cx="375.00" cy="376.78" r="1.75" fill="#f4a88f" stroke="#b04a40" stroke-opacity="0.35" stroke-width="0.4"/><circle cx="386.30" cy="376.78" r="2.00" fill="#ef8b6c" stroke="#b04a40" stroke-opacity="0.35" stroke-width="0.4"/><circle cx="397.60" cy="376.78" r="2.75" fill="#a8141d" stroke="#b04a40" stroke-opacity="0.35" stroke-width="0.4"/><circle cx="408.90" cy="376.78" r="0.75" fill="#e4a49a" /><circle cx="420.20" cy="376.78" r="0.75" fill="#e4a49a" /><circle cx="431.50" cy="376.78" r="0.75" fill="#e4a49a" /><circle cx="442.80" cy="376.78" r="0.75" fill="#e4a49a" /><text x="364.50" y="389.56" font-size="7" text-anchor="end" fill="#333" font-style="italic" stroke="#333" stroke-width="0.1">BCL2</text><circle cx="375.00" cy="387.04" r="0.75" fill="#e4a49a" /><circle cx="386.30" cy="387.04" r="0.75" fill="#e4a49a" /><circle cx="397.60" cy="387.04" r="0.75" fill="#e4a49a" /><circle cx="408.90" cy="387.04" r="0.75" fill="#e4a49a" /><circle cx="420.20" cy="387.04" r="3.00" fill="#c81c24" stroke="#b04a40" stroke-opacity="0.35" stroke-width="0.4"/><circle cx="431.50" cy="387.04" r="1.50" fill="#ea5c3d" /><circle cx="442.80" cy="387.04" r="1.00" fill="#ef8b6c" /><text x="364.50" y="399.82" font-size="7" text-anchor="end" fill="#333" font-style="italic" stroke="#333" stroke-width="0.1">MCL1</text><circle cx="375.00" cy="397.30" r="2.75" fill="#f4a88f" stroke="#b04a40" stroke-opacity="0.35" stroke-width="0.4"/><circle cx="386.30" cy="397.30" r="3.00" fill="#f4a88f" stroke="#b04a40" stroke-opacity="0.35" stroke-width="0.4"/><circle cx="397.60" cy="397.30" r="0.75" fill="#e4a49a" /><circle cx="408.90" cy="397.30" r="3.75" fill="#c81c24" stroke="#b04a40" stroke-opacity="0.35" stroke-width="0.4"/><circle cx="420.20" cy="397.30" r="1.75" fill="#f4a88f" stroke="#b04a40" stroke-opacity="0.35" stroke-width="0.4"/><circle cx="431.50" cy="397.30" r="1.75" fill="#ef8b6c" stroke="#b04a40" stroke-opacity="0.35" stroke-width="0.4"/><circle cx="442.80" cy="397.30" r="2.50" fill="#ea5c3d" stroke="#b04a40" stroke-opacity="0.35" stroke-width="0.4"/><line x1="317.20" y1="240.40" x2="317.20" y2="289.50" stroke="#7a7a7a" stroke-width="1.6" /><line x1="317.20" y1="295.80" x2="317.20" y2="330.40" stroke="#7a7a7a" stroke-width="1.6" /><line x1="317.20" y1="338.50" x2="317.20" y2="363.40" stroke="#7a7a7a" stroke-width="1.6" /><line x1="317.20" y1="373.50" x2="317.20" y2="399.60" stroke="#7a7a7a" stroke-width="1.6" /><line x1="338.00" y1="252.00" x2="338.00" y2="266.50" stroke="#7a7a7a" stroke-width="1.4" /><text x="313.20" y="269.02" font-size="7" text-anchor="end" fill="#333" textLength="47.50" lengthAdjust="spacingAndGlyphs" stroke="#333" stroke-width="0.1">Megakaryocyte</text><text x="313.20" y="315.12" font-size="7" text-anchor="end" fill="#333" stroke="#333" stroke-width="0.1">TF</text><text x="313.20" y="353.72" font-size="7" text-anchor="end" fill="#333" textLength="33.00" lengthAdjust="spacingAndGlyphs" stroke="#333" stroke-width="0.1">Progenitor</text><text x="313.20" y="384.82" font-size="7" text-anchor="end" fill="#333" stroke="#333" stroke-width="0.1">BCL-2</text><text x="313.20" y="393.52" font-size="7" text-anchor="end" fill="#333" stroke="#333" stroke-width="0.1">family</text><text x="320.30" y="245.72" font-size="5.9" fill="#a0a0a0" textLength="14.20" lengthAdjust="spacingAndGlyphs" stroke="#a0a0a0" stroke-width="0.1">CD41</text><text x="320.30" y="261.72" font-size="5.9" fill="#a0a0a0" textLength="14.00" lengthAdjust="spacingAndGlyphs" stroke="#a0a0a0" stroke-width="0.1">CD42</text><text x="320.30" y="276.62" font-size="5.9" fill="#a0a0a0" textLength="14.00" lengthAdjust="spacingAndGlyphs" stroke="#a0a0a0" stroke-width="0.1">CD61</text><text x="320.30" y="358.72" font-size="5.9" fill="#a0a0a0" textLength="17.40" lengthAdjust="spacingAndGlyphs" stroke="#a0a0a0" stroke-width="0.1">CD117</text><circle cx="375.00" cy="408.80" r="2.40" fill="#e84b5a" /><text x="377.20" y="416.00" font-size="7" text-anchor="end" fill="#333" transform="rotate(-45 377.20 416.00)" stroke="#333" stroke-width="0.1">MEP</text><circle cx="386.30" cy="408.80" r="2.40" fill="#4a0a12" /><text x="388.50" y="416.00" font-size="7" text-anchor="end" fill="#333" transform="rotate(-45 388.50 416.00)" stroke="#333" stroke-width="0.1">Megakaryocytes</text><circle cx="397.60" cy="408.80" r="2.40" fill="#ea7240" /><text x="399.80" y="416.00" font-size="7" text-anchor="end" fill="#333" transform="rotate(-45 399.80 416.00)" stroke="#333" stroke-width="0.1">Erythrocytes</text><circle cx="408.90" cy="408.80" r="2.40" fill="#4ea08c" /><text x="411.10" y="416.00" font-size="7" text-anchor="end" fill="#333" transform="rotate(-45 411.10 416.00)" stroke="#333" stroke-width="0.1">Monocytes</text><circle cx="420.20" cy="408.80" r="2.40" fill="#9a7a22" /><text x="422.40" y="416.00" font-size="7" text-anchor="end" fill="#333" transform="rotate(-45 422.40 416.00)" stroke="#333" stroke-width="0.1">T cells</text><circle cx="431.50" cy="408.80" r="2.40" fill="#f2bcaa" /><text x="433.70" y="416.00" font-size="7" text-anchor="end" fill="#333" transform="rotate(-45 433.70 416.00)" stroke="#333" stroke-width="0.1">NK cells</text><circle cx="442.80" cy="408.80" r="2.40" fill="#a3a3a3" /><text x="445.00" y="416.00" font-size="7" text-anchor="end" fill="#333" transform="rotate(-45 445.00 416.00)" stroke="#333" stroke-width="0.1">Other</text><text x="455.10" y="249.32" font-size="7" fill="#333" textLength="25.60" lengthAdjust="spacingAndGlyphs" stroke="#333" stroke-width="0.1">Average</text><text x="455.10" y="257.82" font-size="7" fill="#333" textLength="32.90" lengthAdjust="spacingAndGlyphs" stroke="#333" stroke-width="0.1">expression</text><defs><linearGradient id="cbD" x1="0" y1="0" x2="0" y2="1"><stop offset="0" stop-color="#9c101c"/><stop offset="0.1" stop-color="#c81a22"/><stop offset="0.2" stop-color="#d82224"/><stop offset="0.4" stop-color="#e8432c"/><stop offset="0.68" stop-color="#f07450"/><stop offset="1" stop-color="#fbd6c8"/></linearGradient></defs><rect x="455.10" y="261.60" width="11.20" height="58.00" fill="url(#cbD)" /><text x="472.20" y="269.45" font-size="6.8" fill="#333" stroke="#333" stroke-width="0.1">2</text><line x1="455.10" y1="267.00" x2="456.90" y2="267.00" stroke="#fff" stroke-width="0.8" /><line x1="464.50" y1="267.00" x2="466.30" y2="267.00" stroke="#fff" stroke-width="0.8" /><text x="472.20" y="286.25" font-size="6.8" fill="#333" stroke="#333" stroke-width="0.1">1</text><line x1="455.10" y1="283.80" x2="456.90" y2="283.80" stroke="#fff" stroke-width="0.8" /><line x1="464.50" y1="283.80" x2="466.30" y2="283.80" stroke="#fff" stroke-width="0.8" /><text x="472.20" y="303.25" font-size="6.8" fill="#333" stroke="#333" stroke-width="0.1">0</text><line x1="455.10" y1="300.80" x2="456.90" y2="300.80" stroke="#fff" stroke-width="0.8" /><line x1="464.50" y1="300.80" x2="466.30" y2="300.80" stroke="#fff" stroke-width="0.8" /><text x="472.20" y="319.85" font-size="6.8" fill="#333" stroke="#333" stroke-width="0.1">−1</text><line x1="455.10" y1="317.40" x2="456.90" y2="317.40" stroke="#fff" stroke-width="0.8" /><line x1="464.50" y1="317.40" x2="466.30" y2="317.40" stroke="#fff" stroke-width="0.8" /><text x="455.00" y="337.32" font-size="7" fill="#333" textLength="39.00" lengthAdjust="spacingAndGlyphs" stroke="#333" stroke-width="0.1">% expressed</text><circle cx="460.40" cy="347.00" r="0.60" fill="#111" /><text x="471.70" y="349.45" font-size="6.8" fill="#333" stroke="#333" stroke-width="0.1">0</text><circle cx="460.40" cy="359.30" r="1.75" fill="#111" /><text x="471.70" y="361.75" font-size="6.8" fill="#333" stroke="#333" stroke-width="0.1">25</text><circle cx="460.40" cy="370.80" r="3.00" fill="#111" /><text x="471.70" y="373.25" font-size="6.8" fill="#333" stroke="#333" stroke-width="0.1">50</text><circle cx="460.40" cy="383.10" r="4.25" fill="#111" /><text x="471.70" y="385.55" font-size="6.8" fill="#333" stroke="#333" stroke-width="0.1">75</text><text x="67.00" y="501.71" font-size="10.3" textLength="31.30" lengthAdjust="spacingAndGlyphs" stroke="#2b2b2b" stroke-width="0.1">DMSO</text><text x="180.80" y="501.71" font-size="10.3" textLength="51.00" lengthAdjust="spacingAndGlyphs" stroke="#2b2b2b" stroke-width="0.1">A-1331852</text><text x="172.50" y="513.19" font-size="8.3" fill="#8a8a8a" textLength="67.50" lengthAdjust="spacingAndGlyphs" stroke="#8a8a8a" stroke-width="0.1">BCL-XLi (300 nM)</text><path d="M101.7 531.6h0M105.6 534.0h0M126.0 556.2h0M116.2 553.7h0M107.0 547.3h0M126.9 559.4h0M112.9 535.4h0M109.1 525.8h0M113.0 557.6h0M125.1 555.5h0M114.5 552.8h0M111.8 528.5h0M104.6 545.3h0M117.7 548.2h0M118.1 536.8h0M104.5 524.8h0M119.2 559.7h0M109.8 547.6h0M112.9 536.2h0M110.8 547.7h0M125.6 549.5h0M108.8 541.4h0M107.1 532.5h0M125.6 548.1h0M100.4 526.1h0M123.6 539.5h0M120.8 555.7h0M112.1 553.0h0M114.2 531.6h0M115.8 558.3h0M122.3 557.5h0M128.7 552.4h0M120.4 541.8h0M107.0 544.7h0M113.9 535.7h0M114.9 553.1h0M119.5 550.1h0M114.7 535.4h0M110.4 550.2h0M114.2 547.9h0M111.4 552.5h0M108.1 543.3h0M114.7 553.2h0M103.8 533.4h0M123.4 541.5h0M111.5 548.4h0M113.8 538.1h0M122.8 542.7h0M120.6 543.9h0M111.2 534.8h0M121.6 554.6h0M123.2 555.7h0M107.7 543.4h0M120.2 544.1h0M122.9 547.3h0M123.6 562.0h0M116.6 533.4h0M105.4 533.9h0M112.3 528.2h0M106.3 538.2h0M109.1 533.5h0M119.5 542.8h0M119.9 556.9h0M118.4 546.2h0M124.4 546.5h0M123.3 554.1h0M121.9 548.4h0M125.7 555.0h0M110.4 527.3h0M113.2 546.6h0M125.7 561.4h0M109.3 534.2h0M103.8 534.2h0M117.5 540.9h0M115.7 537.1h0M108.3 524.9h0M105.8 530.7h0M114.9 546.3h0M103.0 523.6h0M120.6 553.6h0M117.2 544.2h0M115.8 550.3h0M106.4 534.8h0M115.0 558.6h0M105.7 539.1h0M113.0 539.5h0M100.4 525.3h0M104.6 542.4h0M120.7 557.5h0M116.2 558.3h0M108.9 552.0h0M120.5 547.2h0M116.2 553.7h0M104.5 537.4h0M105.6 543.1h0M113.1 555.8h0M125.7 544.5h0M125.2 543.4h0M108.1 535.1h0M128.9 550.3h0M112.7 537.4h0M114.3 537.6h0M112.7 556.4h0M119.3 544.7h0M128.7 558.5h0M126.9 561.2h0M111.7 556.3h0M117.2 540.0h0M120.9 552.3h0M103.7 525.8h0M118.7 553.7h0M122.6 545.2h0M114.9 544.1h0M110.6 550.3h0M110.4 543.8h0M110.7 532.8h0M119.1 553.5h0M104.8 526.0h0M116.6 555.2h0M106.5 524.7h0M103.9 538.9h0M103.2 530.0h0M109.8 541.1h0M105.1 528.1h0M125.9 545.0h0M125.0 549.0h0M127.2 552.4h0M114.4 528.9h0M119.1 538.7h0M124.6 557.3h0M121.0 536.4h0M103.9 541.5h0M125.0 561.0h0M118.2 554.0h0M102.3 536.3h0M114.1 542.5h0M124.3 547.8h0M102.3 539.4h0M108.8 533.2h0M110.9 533.3h0M110.5 552.9h0M123.5 555.6h0M117.9 560.6h0M120.6 554.6h0M116.8 549.8h0M103.8 535.6h0M126.1 542.8h0M126.6 549.5h0M101.1 528.7h0M116.8 552.1h0M113.4 545.6h0M120.0 540.9h0M109.6 548.8h0M110.7 528.8h0M109.7 550.8h0M119.2 535.5h0M113.4 537.4h0M119.7 547.0h0M126.1 556.4h0M124.3 541.0h0M119.0 534.2h0M122.9 544.6h0M124.2 552.0h0M110.8 529.2h0M104.4 537.4h0M114.0 534.0h0M120.3 545.0h0M124.2 558.7h0M114.8 551.8h0M109.5 535.2h0M107.6 531.7h0M126.3 561.9h0M108.0 538.4h0M124.0 556.7h0M110.2 543.5h0M119.9 534.9h0M107.1 534.9h0M102.3 529.0h0M110.7 548.5h0M112.1 539.9h0M103.2 540.5h0M124.5 554.2h0M101.3 530.1h0M104.3 529.3h0M108.7 544.2h0M124.0 555.4h0M111.2 538.5h0M112.8 531.1h0M119.4 546.4h0M100.1 527.6h0M104.0 526.4h0M126.8 553.1h0M112.5 549.3h0M100.3 530.2h0M115.8 539.7h0M114.7 532.8h0M109.3 552.8h0M117.4 541.2h0M124.6 561.8h0M101.8 536.9h0M116.3 558.0h0M119.0 552.0h0M122.6 543.4h0M105.8 544.7h0M113.5 552.1h0M123.9 561.4h0M112.8 554.7h0M120.2 550.6h0M102.9 525.0h0M119.3 552.7h0M124.6 548.1h0M106.0 538.4h0M102.0 527.6h0M124.4 548.6h0M110.0 548.3h0M112.8 531.4h0M127.6 552.2h0M107.7 537.4h0M120.0 538.7h0M127.0 557.1h0M106.4 537.9h0M102.1 530.3h0M112.6 545.3h0M120.5 547.8h0M106.1 527.7h0M123.8 548.6h0M104.5 542.4h0M125.0 541.9h0M127.4 549.1h0M104.3 524.2h0M118.6 559.8h0M119.9 540.2h0M120.1 541.4h0M119.7 540.7h0M127.0 560.4h0M104.0 540.3h0M105.3 545.8h0M120.3 548.0h0M119.6 553.6h0M125.6 560.3h0M121.1 541.0h0M112.8 536.2h0M123.4 552.4h0M112.7 540.9h0M115.7 535.2h0M102.7 527.2h0M112.6 528.5h0M116.3 536.3h0M123.6 540.3h0M126.0 546.2h0M113.9 541.9h0M126.0 558.9h0M110.6 550.5h0M121.3 559.1h0M110.1 551.6h0M114.8 532.6h0M113.4 547.7h0M106.4 532.6h0M128.0 555.7h0M118.4 558.6h0M127.5 560.5h0M106.0 545.1h0M103.5 530.6h0M119.2 543.7h0M114.4 544.7h0M116.1 557.7h0M119.5 551.1h0M114.6 542.3h0M116.4 539.3h0M127.4 558.9h0M113.0 535.6h0M110.6 534.8h0M100.6 530.0h0M120.3 548.4h0M117.4 549.5h0M112.0 550.9h0M113.1 552.6h0M118.9 556.0h0M103.0 534.9h0M106.4 544.0h0M126.6 555.0h0M104.2 526.2h0M114.8 554.7h0M111.4 551.8h0M109.2 526.0h0M100.1 527.0h0M118.3 534.9h0M123.5 545.2h0M106.3 526.2h0M103.4 525.4h0M121.9 548.3h0M112.0 551.5h0M109.4 532.0h0M113.7 536.9h0M121.5 549.1h0M110.8 546.2h0M109.4 535.8h0M111.9 550.4h0M109.9 529.1h0M114.9 558.2h0M111.7 540.7h0M115.8 541.8h0M106.4 532.8h0M113.7 543.4h0M119.9 545.6h0M107.4 530.3h0M106.5 532.2h0M122.6 557.6h0M109.4 540.0h0M102.7 526.7h0M108.5 540.7h0M115.9 558.3h0M109.0 543.5h0M104.3 538.7h0M115.8 552.0h0M112.9 546.5h0M107.8 538.2h0M106.7 535.2h0M113.7 537.9h0M106.9 536.7h0M108.0 540.6h0M107.2 546.2h0M123.5 541.8h0M115.6 550.9h0M118.9 559.5h0M111.3 545.3h0M105.6 528.8h0M121.6 549.1h0M118.3 560.6h0M105.0 536.1h0M121.7 560.2h0M108.0 532.5h0M105.4 532.7h0M128.7 555.0h0M112.5 537.8h0M123.6 558.7h0M121.4 558.8h0M129.3 556.6h0M121.7 558.2h0M109.3 545.2h0M119.1 557.7h0M107.4 536.2h0M112.7 549.0h0M123.7 554.1h0M120.5 543.3h0M110.8 543.0h0M112.3 537.3h0M105.7 527.9h0M118.9 539.3h0M105.4 530.7h0M129.3 552.0h0M120.7 546.2h0M125.9 559.5h0M114.9 550.7h0M114.2 548.8h0M116.5 538.3h0M105.8 546.7h0M105.0 533.0h0M129.7 553.7h0M104.3 534.3h0M101.8 523.0h0M119.4 544.6h0M103.5 535.3h0M108.6 540.2h0M126.6 548.6h0M125.6 558.6h0M107.0 534.2h0M124.8 540.6h0M107.1 526.1h0M116.5 559.6h0M118.6 540.5h0M123.8 558.2h0M117.9 555.6h0M119.3 549.1h0M108.5 538.6h0M105.0 538.5h0M117.9 540.9h0M118.0 534.0h0M114.2 547.1h0M113.5 540.3h0M114.3 543.1h0M120.1 553.9h0M121.5 548.2h0M128.8 549.1h0M111.5 535.9h0M101.4 528.7h0M109.0 541.3h0M122.4 547.5h0M116.5 530.6h0M124.6 541.5h0M120.0 558.0h0M111.2 541.7h0M104.3 539.8h0M111.9 542.7h0M118.2 546.3h0M126.3 556.1h0M115.1 535.7h0M104.8 542.6h0M109.0 529.5h0M112.1 544.0h0M127.5 548.2h0M120.1 558.5h0M122.8 548.3h0M110.9 527.4h0M111.9 552.0h0M128.0 548.0h0M105.9 543.2h0M118.7 549.4h0M109.9 553.5h0M108.0 529.7h0M109.0 533.8h0M106.7 531.2h0M115.1 545.8h0M107.2 526.4h0M109.4 548.2h0M110.2 547.6h0M119.3 542.3h0M110.1 545.8h0M121.4 540.5h0M115.0 529.2h0M111.5 549.1h0M125.7 561.6h0M108.2 546.4h0M118.4 554.5h0M109.3 527.5h0M108.3 539.6h0M125.6 545.5h0M110.1 528.7h0M111.3 530.7h0M124.5 549.3h0M108.1 531.5h0M108.6 538.4h0M117.5 538.1h0M125.3 543.1h0M116.1 557.1h0M114.8 554.1h0M127.8 547.0h0M111.2 553.1h0M127.3 549.7h0M106.9 528.9h0M124.2 549.6h0M118.5 554.7h0M126.1 547.0h0M105.1 539.2h0M109.3 529.4h0M109.4 526.5h0M101.1 528.8h0M120.8 547.9h0M107.2 538.9h0M104.1 539.6h0M117.3 554.2h0M113.6 529.6h0M107.2 542.3h0M110.4 527.7h0M116.4 559.7h0M120.3 549.0h0M120.4 560.3h0M120.8 541.2h0M112.5 535.2h0M100.5 523.4h0M109.0 527.6h0M111.1 527.7h0M100.9 530.2h0M120.0 552.4h0M103.7 527.7h0M119.9 557.7h0M125.2 546.2h0M128.1 549.0h0M126.7 549.0h0M109.1 530.7h0M107.8 532.1h0M103.8 536.8h0M126.6 561.8h0M113.4 555.6h0M114.0 549.4h0M109.8 538.2h0M118.2 554.5h0M106.3 535.9h0M114.8 538.7h0M113.2 534.2h0M105.3 534.8h0M104.8 530.6h0M123.0 544.2h0M129.0 558.3h0M122.9 556.9h0M125.1 547.6h0M112.2 544.5h0M111.0 540.3h0M120.5 537.1h0M115.3 536.9h0M123.8 543.2h0M123.4 549.2h0M119.7 559.1h0M113.7 545.3h0M111.3 549.5h0M115.0 553.4h0M113.5 550.1h0M112.8 529.9h0M117.9 534.8h0M103.3 528.7h0M124.9 557.8h0M118.8 541.4h0M114.5 558.2h0M111.2 530.9h0M112.4 535.4h0M117.6 546.2h0M113.5 528.5h0M119.5 555.1h0M104.0 534.1h0M120.7 555.1h0M104.1 529.6h0M119.9 546.3h0M111.0 548.4h0M110.0 552.7h0M109.4 553.6h0M111.1 548.9h0M127.1 552.9h0M103.0 540.9h0M105.3 539.6h0M113.3 544.2h0M124.5 550.7h0M112.7 551.6h0M122.1 538.5h0M125.5 547.2h0M105.9 537.5h0M105.4 539.3h0M128.7 554.4h0M107.8 539.2h0M100.8 528.5h0M125.7 549.7h0M126.8 553.8h0M122.6 547.8h0M117.5 550.9h0M123.8 547.6h0M127.5 559.8h0M107.3 546.2h0M110.6 551.3h0M112.9 552.0h0M128.7 558.9h0M128.4 552.7h0M112.1 553.6h0M119.9 536.3h0M102.9 539.0h0M123.9 548.1h0M108.7 542.3h0M113.0 549.9h0M115.9 547.2h0M123.4 542.7h0M122.1 539.9h0M118.5 545.0h0M108.4 547.9h0M110.5 532.4h0M109.1 526.1h0M115.5 533.3h0M107.3 548.7h0M114.7 540.6h0M108.1 549.5h0M106.4 525.4h0M103.4 541.6h0M114.7 554.9h0M120.6 555.8h0M120.9 549.3h0M125.4 549.6h0M120.7 547.9h0M102.0 523.8h0M109.6 530.8h0M109.6 551.1h0M106.0 548.0h0M107.7 532.9h0M105.4 536.4h0M110.4 552.3h0M116.3 558.5h0M113.3 544.5h0M108.0 546.4h0M108.7 546.9h0M103.6 539.1h0M111.7 548.5h0M116.5 537.6h0M106.0 547.0h0M114.9 552.1h0M120.9 534.9h0M112.7 552.9h0M118.9 536.4h0M113.6 551.3h0M124.1 558.1h0M126.3 549.2h0M121.3 552.6h0M122.3 539.9h0M126.4 558.0h0M110.1 554.0h0M115.2 554.8h0M118.9 535.1h0M102.2 533.8h0M112.2 540.5h0M106.6 531.9h0M112.4 556.3h0M126.8 555.3h0M116.9 550.6h0M108.4 529.6h0M118.1 556.4h0M108.6 529.0h0M102.4 533.8h0M125.7 550.9h0M121.4 541.3h0M109.2 553.0h0M124.5 542.3h0M102.6 526.5h0M102.9 526.4h0M120.7 557.0h0M109.3 535.0h0M121.5 557.9h0M113.6 529.0h0M116.3 529.8h0M103.1 534.0h0M115.7 538.4h0M119.4 545.3h0M109.9 535.2h0M119.9 537.9h0M120.9 558.3h0M114.1 545.5h0" stroke="#ee7c3c" stroke-width="1.35" stroke-linecap="round" fill="none"/><path d="M90.8 518.6h0M91.5 519.1h0M92.7 517.6h0M85.1 518.1h0M83.7 518.2h0M84.7 519.3h0M93.4 523.0h0M95.2 520.6h0M92.7 520.3h0M83.1 521.3h0M93.4 522.9h0M93.3 519.4h0M90.9 521.6h0M89.4 519.8h0M89.2 516.2h0M93.0 519.8h0M96.7 522.2h0M92.7 520.2h0M90.5 522.4h0M89.6 520.0h0M94.8 522.4h0M91.5 521.0h0M81.8 518.7h0M86.9 517.7h0M95.2 520.8h0M92.8 519.6h0M92.2 519.6h0M86.4 519.5h0M89.7 521.0h0M92.3 519.0h0M84.6 519.8h0M86.7 521.8h0M92.5 517.6h0M89.7 524.1h0M93.2 522.0h0M90.8 518.4h0M87.7 518.2h0M91.5 522.4h0M92.4 521.1h0M88.4 518.5h0M92.0 519.8h0M95.7 522.1h0M91.5 519.2h0M85.3 520.2h0M95.0 520.0h0" stroke="#ee7c3c" stroke-width="1.3" stroke-linecap="round" fill="none"/><path d="M88.4 528.7h0M84.5 531.0h0M91.1 529.8h0M82.6 530.4h0M87.5 528.9h0M87.1 524.2h0M86.2 529.4h0M94.0 522.1h0M94.2 530.4h0M86.1 527.7h0M96.3 517.8h0M89.6 523.8h0M91.5 528.5h0M95.6 527.8h0M98.7 525.0h0M86.2 531.3h0M88.4 528.3h0M84.1 529.2h0M96.1 527.9h0M81.4 534.4h0M88.8 526.2h0M84.8 531.7h0M76.9 534.2h0M101.5 523.0h0M91.2 527.1h0M89.3 528.6h0M99.5 525.9h0M86.8 530.4h0M88.5 529.5h0M100.9 526.1h0" stroke="#ee7c3c" stroke-width="1.2" stroke-linecap="round" fill="none"/><path d="M66.2 524.7h0M86.2 519.2h0M77.1 520.1h0M57.8 538.5h0M73.6 521.8h0M61.6 528.0h0M56.8 540.9h0M70.9 522.1h0M68.3 529.5h0M68.6 526.1h0M70.9 528.9h0M78.3 520.6h0M84.3 515.9h0M52.8 541.9h0M70.1 524.8h0M54.2 542.7h0M58.7 532.9h0M53.0 545.4h0M53.4 538.3h0M53.7 536.0h0M73.0 522.2h0M50.7 533.4h0M77.2 519.3h0M63.9 534.6h0M82.3 524.0h0M82.9 519.3h0M53.1 540.2h0M80.2 519.6h0M58.9 541.1h0M75.5 525.4h0M68.7 524.4h0M74.6 524.0h0M77.8 525.1h0M72.3 524.6h0M71.8 518.7h0M65.4 533.3h0M83.7 519.2h0M56.0 532.0h0M79.2 526.1h0M79.0 521.1h0M82.9 520.5h0M52.9 547.5h0M76.0 520.3h0M74.4 521.9h0M54.3 540.7h0M85.3 520.3h0M81.7 515.1h0M84.7 518.5h0M64.9 528.1h0M57.1 529.4h0M46.7 539.7h0M50.9 535.7h0M52.7 540.6h0M81.4 525.3h0M62.0 529.1h0M86.1 517.4h0M57.3 533.9h0M88.5 519.0h0M56.0 539.4h0M59.2 535.1h0M79.4 519.9h0M69.5 526.2h0M70.5 524.8h0M84.9 522.7h0M52.1 541.6h0M59.5 529.7h0M67.4 527.6h0M75.4 520.6h0M81.5 521.4h0M76.2 522.2h0M69.5 527.5h0M85.0 518.7h0M81.7 519.2h0M77.2 523.0h0M75.1 524.2h0M88.6 522.3h0M79.2 517.3h0M68.7 525.3h0M65.4 523.7h0M81.1 521.0h0M72.3 527.5h0M56.1 546.6h0M59.6 528.2h0M54.3 544.5h0M60.0 535.9h0M61.1 539.5h0M70.0 527.1h0M76.0 525.2h0M80.1 519.4h0M55.6 542.9h0M58.0 534.2h0M76.3 521.2h0M72.5 525.4h0M64.8 531.0h0M71.1 524.0h0M66.4 522.0h0M61.9 536.4h0M73.0 525.9h0M74.3 525.1h0M62.7 528.5h0M58.3 541.0h0M55.3 545.6h0M81.2 524.8h0M57.5 543.8h0M67.5 524.6h0M79.6 523.2h0M50.2 540.2h0M83.7 522.8h0M57.3 531.1h0M85.1 518.6h0M69.4 521.9h0M76.5 523.5h0M81.7 524.9h0M60.0 534.6h0M54.3 531.0h0M81.5 527.2h0M54.1 542.3h0M68.1 525.6h0M70.8 528.4h0M56.3 531.4h0M55.4 527.9h0M85.5 517.2h0M71.9 525.8h0M73.4 525.1h0M63.0 530.5h0M64.5 525.3h0M50.7 539.7h0M81.1 521.0h0M61.7 527.6h0M84.9 520.4h0M67.1 524.0h0M74.2 525.6h0M67.0 530.3h0M59.5 529.2h0M58.8 538.6h0M70.8 525.4h0M55.2 538.3h0M64.4 527.7h0M59.7 539.2h0M56.3 537.7h0M82.6 521.9h0M64.2 531.0h0M79.6 520.9h0M85.8 516.8h0M80.4 518.8h0M67.5 526.9h0M70.7 521.6h0M88.8 518.2h0M66.1 527.3h0M56.7 537.6h0M57.0 544.2h0M72.6 522.2h0M70.3 522.6h0M54.4 541.4h0M63.6 530.2h0M77.0 518.6h0M60.2 532.5h0M86.8 516.4h0M68.3 525.5h0M84.6 518.9h0M61.1 534.2h0M62.2 526.5h0M67.7 526.9h0M68.0 525.4h0M56.9 537.4h0M63.5 528.6h0M62.4 531.5h0M71.0 524.4h0M59.0 537.9h0M60.1 530.4h0M78.8 521.9h0M78.7 520.5h0M75.1 523.3h0M67.2 527.2h0M73.6 521.2h0M53.8 547.9h0M53.2 540.8h0M68.1 528.6h0M54.3 539.4h0M56.2 543.1h0M73.8 524.8h0M79.2 522.9h0M52.6 539.4h0M56.7 535.3h0M79.0 521.1h0M75.8 526.7h0M59.3 530.2h0M71.6 523.4h0M70.2 526.8h0M72.1 520.7h0M61.4 528.5h0M56.3 535.0h0M54.3 539.7h0M88.3 516.2h0M65.2 531.2h0M87.0 517.9h0M80.0 518.8h0M85.1 519.3h0M77.5 519.2h0M78.4 517.3h0M64.5 525.8h0M55.7 538.6h0M51.7 538.5h0M71.0 521.7h0M63.1 533.9h0M56.1 533.6h0M62.4 530.1h0M78.6 518.1h0M84.0 518.7h0M54.5 537.3h0M81.5 519.0h0M76.1 523.0h0M68.3 529.0h0M84.6 523.2h0M72.0 519.6h0M60.6 528.8h0M62.4 531.3h0M63.5 529.4h0M51.6 536.4h0M73.0 519.4h0M52.9 540.9h0M55.8 532.8h0M78.8 522.5h0M72.4 525.7h0M52.9 537.3h0M87.9 518.1h0M65.0 528.1h0M79.4 520.2h0M65.3 531.6h0M57.9 539.0h0M70.9 530.7h0M61.8 533.2h0M60.3 531.1h0M67.2 526.9h0M74.2 523.2h0M65.6 527.2h0M56.7 532.8h0M61.3 538.8h0M80.2 521.3h0M55.8 540.8h0M88.7 518.7h0M54.3 533.7h0M76.4 518.6h0M59.0 535.4h0M83.7 522.2h0M54.6 534.0h0M71.4 521.0h0M78.4 521.6h0M72.7 517.3h0M69.2 523.8h0M60.7 530.5h0M59.8 532.2h0M61.7 532.6h0M79.9 520.8h0M82.6 519.5h0M64.6 527.4h0M58.8 533.1h0M59.2 530.3h0M84.3 522.4h0M56.0 542.2h0M74.5 522.8h0M54.8 534.3h0M49.7 537.7h0M56.3 534.6h0M49.1 538.8h0M85.4 520.0h0M74.1 527.6h0M71.7 524.5h0M83.5 515.8h0M83.1 521.3h0M62.5 530.8h0M72.5 526.1h0M65.8 530.0h0M67.9 528.1h0M80.8 522.1h0M74.2 521.7h0M53.4 534.5h0M59.7 527.7h0M81.9 517.8h0M79.1 525.2h0M58.2 536.0h0M63.4 525.5h0M64.2 526.6h0M86.1 518.1h0M83.2 521.7h0M77.6 522.3h0M63.5 529.0h0M52.4 533.2h0M56.3 539.6h0M52.9 544.1h0M79.5 514.8h0M78.6 521.9h0M58.1 532.8h0M85.5 519.0h0M67.6 528.1h0M82.7 523.1h0M76.2 520.5h0M57.1 541.7h0M64.2 533.3h0M62.2 530.7h0M49.7 544.1h0M53.3 539.7h0M55.5 545.8h0M58.5 526.2h0M57.2 530.0h0M70.8 523.4h0M71.2 525.8h0M66.8 523.4h0M56.2 532.7h0M82.5 522.8h0M74.0 525.2h0M61.1 527.5h0M57.6 538.6h0M72.4 522.3h0M85.4 520.0h0M54.4 538.5h0M71.4 525.3h0M54.9 531.2h0M55.2 534.5h0M55.8 535.4h0M61.9 532.7h0M82.3 517.4h0M65.9 531.1h0M65.9 529.3h0M84.4 520.8h0M88.1 521.2h0M75.7 519.0h0M71.5 528.1h0M81.4 521.5h0M80.3 523.2h0M65.0 529.2h0M84.3 521.1h0M51.5 540.8h0M75.5 521.5h0M60.2 531.1h0M80.4 523.0h0M79.8 521.8h0M74.0 526.7h0M74.1 522.9h0M50.3 542.1h0M71.7 523.2h0M53.3 543.0h0M55.2 540.9h0M71.5 525.6h0M55.0 541.5h0M78.0 520.4h0M61.5 532.0h0M54.5 534.5h0M58.5 541.2h0M62.9 533.8h0M80.3 524.2h0M60.6 532.3h0M84.5 520.7h0M85.8 521.9h0M80.4 520.8h0M80.6 520.2h0M61.0 530.5h0M60.3 534.4h0M72.7 518.9h0M69.7 525.0h0M59.4 534.8h0M81.6 521.4h0M58.9 529.1h0M72.3 529.6h0M51.2 531.1h0M79.5 522.8h0M77.5 522.2h0M70.7 528.4h0M57.7 535.5h0M71.5 521.8h0M75.9 521.1h0M63.8 528.1h0M80.4 523.0h0M57.3 537.3h0M72.6 523.9h0M78.7 521.2h0M61.6 530.7h0M70.7 529.0h0M63.4 523.8h0M54.6 536.8h0M71.9 520.5h0M70.1 524.7h0M68.1 525.1h0M55.7 529.3h0M79.3 520.6h0M56.9 542.8h0M62.4 531.6h0M60.8 529.9h0M65.3 521.8h0M65.9 532.0h0M58.9 537.3h0M66.1 529.4h0M80.9 519.7h0M54.6 541.1h0M76.2 528.2h0M79.2 515.8h0M59.2 534.6h0M63.7 531.0h0M62.3 531.6h0M83.3 521.1h0M83.8 519.8h0M79.5 518.0h0M77.8 525.2h0M52.6 537.8h0M82.1 515.7h0M56.8 538.5h0M73.7 523.1h0M54.0 535.8h0M80.1 519.8h0M52.5 544.4h0M76.8 524.7h0M85.6 523.5h0M59.9 529.0h0M54.1 548.0h0M55.2 535.7h0M80.0 524.1h0M49.3 537.5h0M52.3 539.3h0M61.6 529.5h0M61.9 529.8h0" stroke="#e35552" stroke-width="1.35" stroke-linecap="round" fill="none"/><path d="M45.5 547.0C45.5 543.6 48.0 533.4 51.0 528.8C54.0 524.2 58.9 521.7 63.8 519.6C68.7 517.5 76.2 516.6 80.2 516.3C84.2 516.0 86.9 515.7 87.5 517.8C88.1 519.9 86.3 525.0 83.9 528.8C81.5 532.6 76.9 537.4 72.9 540.6C68.9 543.8 63.8 546.6 60.1 548.0C56.5 549.4 53.4 549.1 51.0 548.9C48.6 548.7 45.5 550.4 45.5 547.0Z" fill="none" stroke="#2b3550" stroke-width="1" stroke-dasharray="2.2 1.8"/><path d="M62.0 549.4h0M63.5 550.1h0M64.9 553.5h0M66.1 550.9h0M65.0 552.8h0M64.7 551.8h0M61.6 549.8h0M61.4 548.8h0M64.8 550.6h0M65.7 550.6h0M63.6 553.5h0M63.4 551.7h0M60.9 550.8h0M63.7 552.1h0M66.1 552.6h0M61.1 551.0h0M62.7 553.3h0M66.2 550.5h0M63.4 550.8h0M63.7 552.4h0M61.9 551.3h0M60.9 550.2h0M62.0 549.7h0M62.3 552.6h0M66.4 553.7h0M64.6 549.7h0M61.2 549.1h0M66.8 551.4h0M67.1 552.3h0M67.7 553.4h0M63.2 549.5h0M62.5 551.6h0" stroke="#dcb52a" stroke-width="1.4" stroke-linecap="round" fill="none"/><path d="M50.7 563.2h0M41.9 565.0h0M49.9 557.5h0M52.7 563.1h0M42.4 562.0h0M51.2 561.7h0M47.9 563.2h0M48.1 559.4h0M55.9 560.1h0M51.3 565.8h0M45.3 565.8h0M49.1 564.7h0M53.8 566.7h0M45.9 564.6h0M46.4 562.5h0M55.2 565.0h0M54.4 566.8h0M54.3 559.0h0M43.7 565.0h0M51.2 559.5h0M45.7 565.7h0M47.4 561.8h0M53.0 566.2h0M46.4 565.7h0M54.9 558.8h0M50.8 565.6h0M44.7 565.4h0M43.4 563.5h0M49.9 563.0h0M44.6 564.9h0M49.5 561.4h0M50.3 560.1h0M49.3 560.2h0M52.5 556.0h0M50.3 565.1h0M53.5 557.3h0M48.9 562.5h0M54.6 562.7h0M43.0 563.1h0M46.3 562.5h0M50.2 563.7h0M45.9 564.0h0M47.7 560.2h0M52.4 557.0h0M45.0 562.7h0M46.5 558.4h0M53.7 565.6h0M48.8 558.6h0M47.3 566.3h0M52.5 558.9h0M52.4 563.1h0M51.9 564.0h0M51.1 557.7h0M53.0 565.9h0M52.2 556.6h0M42.1 562.9h0M43.6 561.9h0M48.6 557.5h0M45.5 561.5h0M41.9 564.4h0" stroke="#1f5a48" stroke-width="1.2" stroke-linecap="round" fill="none"/><path d="M31.3 568.3h0M34.3 568.8h0M22.8 581.9h0M25.1 583.6h0M25.9 581.8h0M34.8 564.8h0M36.8 562.5h0M36.7 564.2h0M40.9 561.2h0M23.4 585.7h0M21.5 585.3h0M40.7 563.2h0M21.0 586.9h0M32.0 568.5h0M32.7 565.6h0M23.4 585.3h0M39.4 561.7h0M35.9 566.7h0M24.3 583.0h0M30.9 574.1h0M30.1 563.5h0M34.3 565.3h0M25.1 575.9h0M36.0 568.9h0M24.2 576.2h0M24.4 579.2h0M20.5 583.2h0M35.3 566.2h0M26.8 575.8h0M24.0 581.6h0M25.4 586.7h0M30.3 571.3h0M28.3 575.9h0M42.7 559.9h0M33.3 568.0h0M30.1 576.9h0M35.0 565.9h0M34.5 565.1h0M26.3 583.8h0M23.4 580.0h0M22.1 581.7h0M27.1 570.1h0M34.2 566.9h0M34.6 563.8h0M28.7 575.4h0M23.5 580.8h0M19.6 585.2h0M30.4 570.5h0M33.3 567.7h0M38.2 565.4h0M26.7 573.6h0M34.4 569.2h0M39.1 562.2h0M28.6 578.5h0M39.2 561.8h0M30.5 569.4h0M37.9 565.0h0M31.8 575.8h0M21.7 588.1h0M23.6 585.9h0M41.8 563.8h0M37.9 562.7h0M35.6 565.3h0M43.2 560.5h0M25.7 585.8h0M30.6 569.5h0M24.1 579.1h0M37.7 561.6h0M24.5 578.3h0M38.6 564.0h0" stroke="#62a898" stroke-width="1.3" stroke-linecap="round" fill="none"/><path d="M34.9 565.2h0M42.5 558.3h0M40.3 564.5h0M36.7 565.3h0M38.8 564.3h0M41.3 564.1h0M41.5 562.9h0M36.6 562.3h0M46.9 562.8h0M40.6 564.9h0" stroke="#e8a0a0" stroke-width="1.0" stroke-linecap="round" fill="none"/><path d="M71.1 593.6h0M66.0 597.4h0M71.5 600.6h0M72.0 594.4h0M68.7 595.8h0M72.5 591.9h0M66.3 592.5h0M69.7 607.4h0M69.3 611.3h0M73.0 593.8h0M74.4 598.8h0M74.2 596.8h0M67.7 592.7h0M74.0 596.2h0M72.6 611.0h0M74.0 595.8h0M72.1 598.1h0M67.2 599.5h0M70.3 594.9h0M70.4 608.8h0M68.0 598.5h0M68.9 603.4h0M65.9 594.0h0M72.4 603.6h0M68.1 600.8h0M68.0 597.5h0M72.9 600.1h0M65.5 592.6h0M72.6 596.5h0M67.7 607.0h0M66.8 594.6h0M68.2 605.0h0M68.9 603.8h0M66.7 599.3h0M66.6 599.1h0M67.9 604.9h0M65.5 592.7h0M73.9 601.1h0M66.5 604.0h0M64.9 592.1h0M67.2 591.6h0M70.6 602.3h0M73.5 592.8h0M72.4 599.4h0M74.1 594.4h0M73.9 591.9h0M69.5 602.7h0M72.8 603.0h0M71.4 607.5h0M68.8 592.9h0M73.5 599.0h0M68.2 592.4h0M66.0 592.6h0M70.8 602.3h0M68.2 609.2h0M70.5 609.1h0M68.5 600.4h0M69.5 605.2h0M74.2 595.4h0M64.8 593.3h0M73.3 605.7h0M70.9 596.0h0M68.4 606.4h0M69.9 600.3h0M73.7 600.2h0M64.9 593.4h0M69.0 603.8h0M67.6 593.8h0M74.4 598.5h0M67.4 605.8h0M66.9 602.6h0M67.9 599.4h0M73.6 599.6h0M67.2 600.6h0M71.5 607.9h0M71.2 600.7h0M74.0 592.0h0M70.6 608.1h0M68.4 598.9h0M73.0 604.2h0M73.3 606.0h0M73.0 602.7h0M66.7 604.5h0M72.0 609.5h0M67.4 598.2h0M72.2 595.6h0M73.7 598.1h0M74.9 592.2h0M66.5 598.1h0M69.0 607.9h0M72.7 595.1h0M73.0 605.1h0M73.7 592.7h0M66.6 603.8h0M73.1 593.5h0M73.3 593.1h0M73.1 599.7h0M73.1 592.3h0M70.3 609.7h0M68.5 598.3h0M66.8 592.1h0M74.6 595.5h0M67.1 595.8h0M70.6 600.3h0M70.8 608.4h0M71.1 599.0h0M69.5 596.5h0M72.7 592.7h0M68.0 592.1h0M73.2 601.9h0M67.8 605.6h0M72.5 593.5h0M69.2 609.0h0M71.9 610.9h0M70.6 597.4h0M67.1 591.7h0M71.4 609.2h0M67.1 597.6h0M69.8 608.0h0M71.1 602.1h0M72.2 606.8h0M67.4 594.6h0M74.5 593.3h0M72.1 604.9h0M72.9 598.5h0M68.8 606.5h0M72.6 608.6h0M70.7 609.7h0M69.2 608.0h0M70.1 599.5h0M66.4 597.6h0M67.2 601.0h0M65.9 597.5h0M67.7 602.4h0M71.8 606.7h0M71.9 602.3h0M70.7 610.3h0M68.4 596.1h0M65.3 591.8h0M71.1 592.5h0M67.7 593.8h0M69.4 605.8h0M65.8 594.9h0M72.4 598.8h0M68.4 598.0h0M70.5 598.8h0M73.2 595.3h0M70.5 600.9h0M72.1 594.4h0M68.8 594.7h0M72.2 607.9h0M71.8 597.0h0M65.0 594.5h0M72.2 599.4h0M66.9 601.3h0M67.6 599.6h0M65.9 592.4h0M70.9 609.7h0M67.3 604.2h0M73.8 597.6h0M73.3 596.8h0M72.9 596.4h0M71.2 595.7h0M67.0 597.3h0M71.5 604.4h0M70.5 606.1h0M68.9 592.9h0M70.6 596.9h0M70.9 609.4h0M70.1 610.3h0" stroke="#9c8a22" stroke-width="1.3" stroke-linecap="round" fill="none"/><path d="M63.0 588.9h0M65.1 592.4h0M64.2 587.1h0M64.2 587.7h0M62.4 589.0h0M65.1 594.5h0M61.7 586.5h0M63.7 592.6h0M64.4 588.7h0M63.5 589.3h0M62.4 589.0h0M66.5 593.7h0M61.8 588.5h0M63.5 590.3h0M63.2 588.9h0M64.7 591.4h0M64.8 590.6h0M63.3 587.1h0M65.6 592.8h0M63.4 592.1h0M63.0 586.8h0M63.6 592.0h0M65.1 592.1h0M63.5 588.7h0M64.7 589.7h0M63.5 590.2h0M62.8 590.8h0M62.6 589.7h0" stroke="#1f5a48" stroke-width="1.2" stroke-linecap="round" fill="none"/><path d="M72.8 587.8h0M73.8 588.1h0M73.0 586.2h0M73.2 589.0h0M74.9 587.8h0M75.0 589.0h0M74.1 587.9h0M73.5 587.4h0M74.0 585.5h0M71.5 583.9h0" stroke="#9c8a22" stroke-width="1.0" stroke-linecap="round" fill="none"/><text x="22.50" y="535.02" font-size="7" textLength="17.50" lengthAdjust="spacingAndGlyphs" stroke="#2b2b2b" stroke-width="0.1">Blasts</text><text x="70.00" y="556.32" font-size="7" textLength="22.50" lengthAdjust="spacingAndGlyphs" stroke="#2b2b2b" stroke-width="0.1">CD34+</text><text x="33.80" y="579.82" font-size="7" textLength="34.40" lengthAdjust="spacingAndGlyphs" stroke="#2b2b2b" stroke-width="0.1">Monocytes</text><text x="107.00" y="517.52" font-size="7" textLength="45.00" lengthAdjust="spacingAndGlyphs" stroke="#2b2b2b" stroke-width="0.1">Erythropoiesis/</text><text x="107.00" y="525.82" font-size="7" stroke="#2b2b2b" stroke-width="0.1">other</text><text x="19.20" y="605.52" font-size="7" textLength="40.80" lengthAdjust="spacingAndGlyphs" stroke="#2b2b2b" stroke-width="0.1">Lymphocytes</text><path d="M234.4 532.0h0M232.4 530.2h0M221.3 531.8h0M239.5 540.1h0M235.7 532.4h0M242.3 563.1h0M231.9 549.2h0M230.9 542.2h0M223.9 528.4h0M231.1 528.8h0M229.2 539.5h0M223.5 526.3h0M245.0 541.3h0M241.2 536.4h0M230.7 531.3h0M250.6 557.9h0M239.5 559.9h0M232.3 545.5h0M237.7 545.2h0M226.1 522.1h0M224.0 527.2h0M220.5 527.0h0M235.8 531.5h0M228.3 540.0h0M211.8 522.0h0M235.2 533.0h0M220.8 528.5h0M242.8 537.4h0M214.3 529.3h0M232.3 545.2h0M251.1 556.5h0M244.3 536.4h0M245.8 550.7h0M244.6 559.1h0M227.4 532.2h0M239.0 551.3h0M231.3 528.2h0M235.1 534.8h0M240.1 530.6h0M250.1 543.7h0M238.4 544.3h0M241.7 557.4h0M227.6 529.7h0M218.8 528.3h0M225.0 533.2h0M231.2 524.2h0M232.1 525.2h0M248.8 542.4h0M238.9 535.5h0M234.1 542.1h0M246.3 552.0h0M236.3 534.1h0M220.6 531.3h0M233.3 551.2h0M228.5 542.9h0M237.2 557.6h0M243.9 556.7h0M236.1 536.9h0M232.4 550.0h0M238.0 535.0h0M239.9 533.7h0M236.0 541.5h0M244.6 562.8h0M215.6 525.7h0M242.3 558.4h0M219.7 531.4h0M232.6 531.2h0M218.5 528.8h0M241.8 534.1h0M227.8 529.5h0M250.8 549.1h0M236.0 534.4h0M242.9 533.9h0M242.1 551.6h0M237.8 544.1h0M241.4 553.6h0M237.0 533.3h0M216.6 530.9h0M228.2 545.4h0M246.9 545.8h0M247.8 557.0h0M233.3 542.1h0M251.0 559.4h0M238.9 531.8h0M228.8 524.9h0M213.7 523.0h0M236.2 558.3h0M231.3 537.4h0M236.2 551.5h0M234.9 527.2h0M240.9 559.2h0M224.5 535.9h0M237.5 541.8h0M240.6 560.2h0M229.1 534.0h0M223.3 528.3h0M239.6 534.2h0M240.1 529.1h0M217.0 530.5h0M239.8 550.2h0M233.0 534.0h0M250.3 552.9h0M244.3 558.1h0M239.5 551.0h0M241.5 528.4h0M220.6 530.6h0M243.6 544.1h0M212.9 528.7h0M225.5 529.1h0M234.2 553.8h0M241.5 536.1h0M230.7 525.2h0M247.4 558.5h0M226.7 534.3h0M235.9 550.4h0M229.9 541.9h0M240.5 536.4h0M246.6 544.1h0M222.8 533.8h0M248.7 542.5h0M243.3 539.5h0M232.3 542.4h0M226.4 539.5h0M214.7 529.1h0M235.3 534.7h0M229.2 532.6h0M238.9 558.7h0M215.3 530.4h0M246.3 548.0h0M243.3 547.1h0M237.0 537.0h0M242.8 556.3h0M227.1 535.4h0M224.4 530.6h0M238.2 539.5h0M243.2 530.4h0M230.6 527.9h0M228.6 538.4h0M222.8 531.0h0M223.9 523.0h0M249.9 555.1h0M225.2 522.1h0M247.4 552.5h0M248.7 557.8h0M238.7 561.0h0M219.9 524.8h0M224.3 533.4h0M228.3 542.8h0M227.6 541.3h0M244.3 562.7h0M250.5 546.3h0M238.1 548.7h0M212.6 525.0h0M234.3 531.8h0M248.1 558.6h0M243.9 558.6h0M238.5 533.1h0M239.2 561.2h0M235.6 549.7h0M249.2 544.3h0M235.2 532.2h0M247.2 538.6h0M228.5 536.0h0M243.3 548.5h0M242.5 544.2h0M241.7 561.7h0M247.4 546.8h0M239.1 529.5h0M236.4 532.2h0M232.1 537.3h0M234.8 551.1h0M246.4 536.5h0M242.4 557.2h0M233.0 542.8h0M237.3 546.7h0M225.3 523.0h0M219.0 531.4h0M223.1 525.2h0M238.2 557.4h0M212.5 524.2h0M242.0 557.6h0M216.5 526.6h0M244.3 556.7h0M236.8 543.3h0M229.0 533.5h0M233.3 530.3h0M221.7 532.7h0M242.0 554.4h0M245.6 559.1h0M245.8 551.0h0M221.9 531.8h0M230.2 532.9h0M243.9 540.4h0M226.0 529.3h0M243.1 533.6h0M236.6 550.1h0M239.2 528.7h0M213.4 530.1h0M219.5 526.9h0M228.9 524.0h0M248.7 542.7h0M236.0 538.4h0M229.3 539.4h0M239.3 557.7h0M246.0 556.8h0M219.1 531.0h0M233.3 551.7h0M249.4 550.2h0M247.7 541.2h0M238.9 533.4h0M250.6 555.5h0M250.0 546.0h0M238.1 559.2h0M245.0 559.0h0M248.5 557.6h0M239.1 537.0h0M223.5 522.7h0M243.4 559.1h0M235.4 535.8h0M249.7 545.1h0M217.5 527.2h0M229.9 538.8h0M230.7 533.3h0M250.4 543.8h0M236.2 538.2h0M218.8 531.7h0M240.9 530.8h0M227.5 531.8h0M242.7 535.8h0M217.7 527.0h0M235.5 546.3h0M212.2 529.8h0M233.7 552.1h0M214.2 524.8h0M249.3 545.0h0M231.3 533.0h0M243.1 560.1h0M216.2 527.4h0M231.3 544.1h0M247.3 555.1h0M228.7 531.2h0M228.0 538.9h0M232.5 528.8h0M246.8 550.5h0M244.7 540.2h0M239.4 558.6h0M216.2 530.3h0M241.7 559.9h0M240.0 540.1h0M248.4 544.4h0M226.9 526.2h0M234.2 546.1h0M244.0 532.0h0M236.0 534.6h0M244.0 533.3h0M215.6 528.4h0M232.4 539.2h0M239.9 553.3h0M216.0 525.4h0M247.9 560.8h0M240.8 541.2h0M222.5 529.2h0M228.8 527.2h0M219.7 529.9h0M236.1 525.9h0M229.4 529.7h0M228.4 545.7h0M227.3 526.1h0M242.0 548.0h0M229.2 536.7h0M242.1 551.9h0M235.4 530.1h0M232.8 533.1h0M221.2 523.8h0M220.6 527.8h0M237.5 526.6h0M225.8 532.3h0M240.7 553.8h0M237.8 534.6h0M237.6 558.5h0M246.4 540.6h0M249.7 546.8h0M223.1 524.9h0M220.6 521.1h0M240.5 542.8h0M240.8 535.2h0M244.8 555.0h0M229.2 549.1h0M220.0 525.9h0M229.5 529.7h0M238.0 534.5h0M216.0 526.5h0M219.3 526.0h0M224.4 532.8h0M225.5 534.7h0M234.1 530.2h0M232.4 527.2h0M227.9 542.3h0M227.4 530.3h0M241.3 530.8h0M230.0 533.2h0M246.0 553.4h0M218.8 528.2h0M225.9 535.3h0M246.7 562.1h0M251.0 556.3h0M235.9 545.3h0M216.1 523.2h0M237.2 551.6h0M231.8 548.1h0M221.8 526.2h0M247.4 544.0h0M230.6 545.6h0M234.7 556.1h0M216.6 524.2h0M233.5 541.4h0M244.1 547.6h0M246.1 540.4h0M221.2 525.8h0M219.1 523.2h0M232.1 537.6h0M242.6 543.4h0M243.7 561.4h0M242.0 547.0h0M227.4 526.7h0M244.0 555.4h0M239.4 553.8h0M242.8 550.1h0M236.8 555.9h0M228.4 541.5h0M246.4 536.1h0M237.5 559.2h0M234.4 546.6h0M216.1 524.7h0M245.7 543.8h0M245.8 537.4h0M249.2 554.4h0M217.4 528.5h0M217.3 528.4h0M243.5 547.7h0M231.9 524.3h0M235.5 534.6h0M238.9 534.3h0M249.4 554.3h0M234.0 539.9h0M216.6 523.9h0M236.9 529.1h0M213.8 526.6h0M213.1 530.0h0M227.9 525.4h0M249.7 546.0h0M238.9 560.4h0M232.9 529.2h0M243.0 558.1h0M231.2 547.9h0M229.8 523.2h0M248.7 559.2h0M234.0 547.8h0M211.9 526.6h0M232.2 540.2h0M223.8 521.4h0M223.9 521.5h0M234.2 530.5h0M247.0 555.3h0M235.1 551.6h0M241.7 544.8h0M243.1 547.7h0M237.4 554.2h0M220.5 522.5h0M215.5 526.3h0M242.4 553.0h0M242.4 535.7h0M240.2 552.2h0M215.6 528.9h0M242.0 528.6h0M223.0 529.0h0M229.9 532.1h0M235.6 555.1h0M244.3 562.4h0M222.8 533.9h0M233.2 537.4h0M238.6 557.8h0M229.3 541.4h0M222.2 528.3h0M244.6 540.9h0M241.1 556.4h0M230.3 533.8h0M225.9 523.0h0M229.0 545.4h0M240.0 543.9h0M226.7 538.3h0M245.8 560.0h0M236.3 535.4h0M243.4 538.5h0M243.0 557.7h0M239.3 543.0h0M217.5 529.7h0M242.3 550.8h0M229.3 540.5h0M232.5 533.2h0M246.2 560.1h0M241.2 551.1h0M243.2 561.7h0M230.1 537.8h0M226.2 523.8h0M228.9 526.9h0M238.9 543.3h0M249.4 556.9h0M233.7 537.4h0M219.3 524.8h0M227.1 537.4h0M247.7 543.8h0M235.1 532.6h0M223.7 523.9h0M211.1 524.1h0M238.0 557.1h0M221.7 523.5h0M227.6 540.2h0M235.4 550.1h0M224.0 530.9h0M242.4 530.2h0M234.2 553.1h0M247.3 562.6h0M244.7 561.0h0M227.7 524.7h0M237.4 533.4h0M240.1 533.8h0M234.1 555.6h0M234.6 525.1h0M235.9 544.2h0M224.9 527.9h0M246.7 550.3h0M233.6 527.3h0M238.7 544.6h0M222.2 524.6h0M250.6 551.5h0M240.9 544.6h0M238.9 559.0h0M232.4 527.3h0M213.3 528.4h0M241.0 535.1h0M250.2 560.4h0M217.3 525.9h0M237.4 545.3h0M246.5 540.2h0M250.8 554.2h0M233.5 542.9h0M236.6 539.4h0M232.4 551.0h0M236.0 535.5h0M244.3 557.6h0M234.8 554.1h0M234.3 528.0h0M225.5 529.9h0M247.8 546.8h0M233.2 551.8h0M241.4 540.0h0M237.5 526.7h0M248.8 554.8h0M232.3 552.1h0M247.2 542.8h0M227.3 534.0h0M249.6 555.9h0M240.3 555.1h0M249.2 553.7h0M245.6 535.6h0M235.3 552.6h0M247.5 551.5h0M221.3 527.4h0M243.9 535.9h0M238.0 552.5h0M239.5 545.7h0M228.9 536.7h0M227.5 539.6h0M237.2 531.4h0M216.7 522.9h0M224.8 526.4h0M217.6 527.7h0M238.4 558.4h0M247.4 559.6h0M246.2 536.5h0M218.2 527.1h0M222.8 524.5h0M225.5 528.1h0M226.7 523.0h0M249.8 541.8h0M249.5 556.4h0M242.5 545.6h0M240.3 551.2h0M250.7 554.6h0M242.8 537.3h0M226.2 537.5h0M220.4 522.4h0M233.6 534.1h0M236.1 535.3h0M227.8 529.9h0M248.4 552.6h0M238.2 546.7h0M244.1 538.6h0M236.1 529.2h0M234.6 531.9h0M225.7 529.8h0M233.7 525.9h0M242.3 544.8h0M237.9 550.5h0M231.4 540.8h0M231.7 526.0h0M236.2 541.1h0M247.7 541.2h0M215.8 525.2h0M246.9 554.3h0M247.8 539.2h0M247.4 553.9h0M249.4 560.7h0M250.6 558.6h0M236.2 550.8h0M239.1 536.5h0M231.3 545.7h0M239.3 549.0h0M244.7 543.6h0M227.6 533.2h0M238.6 529.7h0M233.2 546.0h0M228.4 543.1h0M227.2 534.0h0M241.3 537.4h0M239.0 554.2h0M248.2 558.4h0M246.5 545.1h0M249.6 560.0h0M234.8 532.8h0M243.8 536.4h0M220.3 527.0h0M232.4 535.4h0M233.6 548.2h0M230.1 543.2h0M237.6 558.0h0M246.8 554.4h0M242.5 544.6h0M239.2 529.4h0M232.9 548.7h0M243.9 548.9h0M225.6 534.3h0M237.7 540.7h0M238.9 535.7h0M240.1 552.8h0M244.7 560.5h0M227.8 542.2h0M214.3 527.6h0M229.8 542.2h0M217.5 522.8h0M232.6 545.5h0M215.6 530.7h0M224.3 526.8h0M216.3 521.3h0M233.8 528.6h0M240.4 558.8h0M230.9 524.5h0M233.1 547.4h0M233.7 554.3h0M244.7 560.4h0M236.3 525.6h0M228.3 529.4h0M247.1 556.7h0M236.2 554.4h0M235.2 553.5h0M240.1 539.0h0M223.1 526.6h0M249.0 540.4h0M246.6 553.0h0M231.8 552.8h0M217.0 524.9h0M247.7 554.0h0M244.0 557.0h0M231.8 525.0h0M247.3 562.8h0M241.2 538.4h0M238.5 534.3h0M240.7 538.3h0M215.3 529.1h0M211.8 529.5h0M245.7 552.1h0M239.7 528.9h0M245.1 544.8h0M237.2 533.4h0M233.7 552.7h0M221.4 525.1h0M216.6 520.9h0M248.6 541.6h0M231.1 551.1h0M246.0 555.7h0M214.8 522.8h0M244.1 553.0h0M213.5 527.9h0M223.3 530.1h0M213.2 524.8h0M230.2 540.7h0M245.8 546.4h0M229.8 548.9h0M246.9 554.1h0M231.5 533.4h0M241.0 527.9h0M219.0 528.4h0M248.0 540.0h0M229.4 541.0h0M229.4 528.5h0M240.5 548.4h0M236.6 551.2h0M221.7 529.8h0M221.9 528.0h0M243.2 545.2h0M223.9 532.0h0M240.4 547.3h0M238.1 554.9h0M240.8 545.2h0M237.2 547.0h0M242.5 541.9h0M234.4 537.0h0M229.6 547.5h0M237.5 528.3h0M247.1 538.7h0M227.2 525.6h0M234.7 526.8h0M245.3 549.8h0M243.6 546.5h0M241.8 558.0h0M224.0 532.9h0M232.5 533.1h0M241.0 558.0h0M223.9 525.7h0M239.5 549.4h0M215.8 525.0h0M243.3 539.4h0M249.2 549.5h0M249.0 557.1h0M242.3 535.8h0M250.0 543.4h0M220.1 525.9h0M226.8 525.0h0M230.4 540.1h0M237.6 543.8h0M245.9 545.3h0M230.7 527.0h0M237.2 536.3h0M214.3 529.0h0M250.0 550.9h0M214.1 529.9h0M233.2 540.9h0M241.2 558.5h0M236.0 542.7h0M233.4 548.2h0M242.8 546.7h0M238.4 549.9h0M235.1 552.1h0M234.7 539.1h0M236.5 540.7h0M218.5 530.3h0M234.5 532.1h0M224.9 528.0h0M219.1 530.4h0M245.4 546.4h0M235.2 545.6h0M227.6 538.8h0M238.9 540.7h0M244.2 559.9h0M230.8 538.2h0M244.2 554.5h0M231.3 546.4h0M243.1 563.0h0M241.9 532.7h0M214.7 527.6h0M213.3 523.6h0M211.4 523.4h0M231.2 529.2h0M235.3 535.5h0M224.9 528.2h0M247.5 540.0h0M238.5 537.4h0M243.7 542.9h0M249.1 552.0h0M241.3 533.8h0M241.3 545.1h0M244.7 558.0h0M239.0 549.3h0M241.3 552.1h0M248.6 547.7h0M248.7 551.1h0M235.8 540.1h0M238.6 533.4h0M221.7 532.5h0M244.6 549.6h0M233.5 545.9h0M226.8 525.8h0M238.4 555.4h0M221.1 528.7h0M239.8 528.8h0M234.9 551.1h0M218.6 530.4h0M238.3 530.5h0M251.2 559.2h0M235.5 530.4h0M248.1 557.7h0M230.2 528.7h0M236.1 554.9h0M217.4 529.8h0M241.5 559.7h0M216.9 530.8h0M227.3 536.4h0M234.4 530.3h0M229.7 531.0h0M248.9 544.7h0M241.8 560.3h0M239.2 550.0h0M236.3 552.6h0M236.2 529.4h0M237.9 549.1h0M244.6 560.6h0M234.1 536.3h0M239.0 530.8h0M231.0 536.6h0" stroke="#ee7c3c" stroke-width="1.35" stroke-linecap="round" fill="none"/><path d="M211.3 525.0h0M210.1 528.4h0M210.7 527.8h0M203.6 530.6h0M212.0 523.9h0M205.5 528.8h0M204.2 531.0h0M205.8 529.2h0M205.5 529.1h0M212.2 524.8h0M206.9 529.4h0M210.1 526.6h0M214.5 524.6h0M207.6 529.3h0M205.5 528.4h0M210.3 527.0h0M212.6 526.8h0M210.3 525.7h0" stroke="#e35552" stroke-width="1.2" stroke-linecap="round" fill="none"/><path d="M177.1 532.9h0M179.3 547.9h0M180.3 538.1h0M183.2 533.1h0M176.7 533.6h0M179.1 538.4h0M205.9 530.0h0M199.9 523.5h0M182.0 534.4h0M183.8 535.0h0M179.1 545.5h0M183.4 541.3h0M199.8 527.6h0M201.8 525.0h0M194.8 521.0h0M186.6 532.1h0M178.9 528.8h0M174.0 537.2h0M191.6 534.3h0M189.7 533.4h0M197.2 525.8h0M179.5 537.1h0M180.3 538.9h0M183.5 535.7h0" stroke="#e35552" stroke-width="1.1" stroke-linecap="round" fill="none"/><path d="M172.8 550.7h0M175.7 555.9h0M173.6 554.0h0M172.7 552.8h0M174.3 553.1h0M173.8 554.3h0M173.5 550.0h0M172.9 552.8h0" stroke="#e35552" stroke-width="1.1" stroke-linecap="round" fill="none"/><path d="M173.7 546.6C173.4 543.7 172.3 536.3 174.6 532.0C176.9 527.7 182.2 523.6 187.4 521.0C192.6 518.4 201.3 516.7 205.7 516.4C210.1 516.1 213.4 516.8 214.0 519.1C214.6 521.4 212.3 526.6 209.4 530.1C206.5 533.6 200.9 537.2 196.6 540.2C192.3 543.2 187.2 546.9 183.8 548.4C180.5 549.9 178.2 549.6 176.5 549.3C174.8 549.0 174.0 549.5 173.7 546.6Z" fill="none" stroke="#2b3550" stroke-width="1" stroke-dasharray="2.2 1.8"/><path d="M187.0 553.4h0M185.6 552.7h0M185.7 550.1h0M184.6 553.2h0M186.6 549.5h0M185.2 554.7h0M186.5 553.5h0M186.3 554.0h0M186.4 554.9h0M184.9 551.2h0M187.1 549.2h0M184.4 548.7h0M186.7 551.4h0M187.2 550.5h0M185.9 551.3h0M188.3 552.5h0" stroke="#dcb52a" stroke-width="1.3" stroke-linecap="round" fill="none"/><path d="M164.8 563.2h0M165.1 565.1h0M170.3 557.7h0M168.7 564.3h0M173.1 564.9h0M169.2 563.0h0M171.9 558.9h0M165.3 562.3h0M167.3 561.4h0M171.3 559.6h0M173.8 557.0h0M174.4 563.5h0M171.6 565.2h0M174.6 558.2h0M175.7 555.8h0M175.1 559.5h0M176.0 559.9h0M171.6 560.0h0M169.2 557.0h0M172.0 568.4h0M171.3 565.0h0M175.5 555.9h0M165.5 559.2h0M169.4 558.8h0M173.3 561.0h0M167.1 560.3h0M175.7 565.8h0M163.8 564.5h0M174.7 562.3h0M168.4 566.5h0M176.7 559.3h0M174.1 558.2h0M173.7 563.2h0M169.7 561.1h0M172.6 562.5h0M170.6 562.6h0M169.4 563.8h0M170.9 561.0h0M173.1 568.0h0M170.8 561.2h0M164.0 566.6h0M167.5 565.5h0M167.4 562.5h0M167.7 568.3h0M168.2 563.0h0M165.4 565.1h0M169.2 565.3h0M176.3 564.5h0M176.0 560.3h0M173.1 559.8h0M168.0 561.3h0M172.2 558.4h0M172.9 556.2h0M173.2 562.9h0M164.9 564.6h0M172.1 561.8h0M167.0 562.3h0M165.7 561.6h0M167.1 560.0h0M172.2 566.0h0M175.0 559.1h0M175.8 555.7h0M175.8 563.3h0M173.1 562.5h0M172.9 558.1h0M175.6 561.5h0M168.3 567.9h0M168.2 565.0h0M175.4 566.9h0M174.0 558.5h0M166.6 563.0h0M177.9 562.6h0M172.3 560.6h0M176.0 561.4h0M177.9 561.3h0M177.8 562.3h0M163.3 563.5h0M172.3 558.9h0M176.6 566.1h0M163.0 562.1h0M170.4 568.0h0M174.2 563.1h0M167.0 564.5h0M166.0 564.8h0M175.2 556.6h0M170.8 559.3h0M169.6 563.0h0M170.2 567.3h0M171.4 557.7h0M173.6 556.6h0M174.9 559.3h0M166.1 560.9h0M171.5 558.7h0M168.6 566.1h0M166.0 559.8h0M170.7 557.8h0M166.0 567.1h0M167.4 566.9h0M170.3 567.8h0M169.0 559.7h0M171.1 561.1h0M171.0 561.1h0M173.3 557.5h0M169.6 561.4h0M170.9 557.6h0M177.4 562.4h0M176.4 561.3h0M173.9 563.5h0M173.8 555.9h0M164.1 561.8h0" stroke="#1f5a48" stroke-width="1.3" stroke-linecap="round" fill="none"/><path d="M158.2 569.7h0M153.0 580.8h0M156.3 576.4h0M142.6 585.6h0M152.4 575.0h0M145.8 577.5h0M150.6 579.0h0M161.0 570.9h0M150.9 584.2h0M149.4 580.5h0M157.2 567.2h0M149.6 577.8h0M156.8 572.2h0M153.9 577.9h0M155.9 576.8h0M154.1 571.1h0M155.9 567.5h0M155.6 570.5h0M145.0 579.0h0M160.3 563.0h0M150.1 574.4h0M151.5 579.6h0M144.8 586.0h0M152.9 570.9h0M154.8 573.0h0M158.5 569.0h0M158.2 570.3h0M150.9 579.3h0M159.4 572.8h0M151.1 580.7h0M155.3 576.7h0M158.7 566.7h0M151.7 575.2h0M148.2 576.2h0M149.8 578.8h0M159.4 575.8h0M149.6 585.3h0M146.7 584.2h0" stroke="#62a898" stroke-width="1.3" stroke-linecap="round" fill="none"/><path d="M193.9 600.9h0M186.9 593.3h0M188.3 599.4h0M190.8 590.8h0M191.3 596.2h0M193.0 599.3h0M187.3 595.6h0M190.6 587.1h0M191.5 595.8h0M188.1 600.0h0M187.8 588.6h0M195.8 591.5h0M194.4 596.6h0M187.7 595.9h0M191.7 589.6h0M191.8 603.7h0M195.0 592.4h0M194.5 592.3h0M192.9 592.2h0M189.6 604.5h0M190.6 609.1h0M191.1 596.4h0M194.2 587.3h0M192.4 589.7h0M187.6 598.5h0M191.5 605.8h0M188.9 597.3h0M191.5 594.0h0M189.4 598.5h0M190.7 600.6h0M187.1 593.7h0M193.7 588.7h0M188.1 593.3h0M192.8 597.5h0M193.9 599.5h0M192.2 606.1h0M191.0 604.1h0M195.8 588.0h0M193.4 605.8h0M189.0 591.8h0M195.2 590.2h0M187.5 594.3h0M191.9 608.8h0M188.5 590.5h0M188.5 599.4h0M188.6 593.3h0M191.3 605.1h0M191.2 592.0h0M194.3 595.0h0M193.6 595.7h0M195.3 597.0h0M191.2 590.7h0M191.6 597.1h0M189.5 589.8h0M192.2 587.5h0M195.7 588.4h0M192.1 607.0h0M194.7 593.1h0M187.8 599.7h0M193.4 590.0h0M191.7 601.4h0M191.9 604.2h0M193.6 594.4h0M189.2 594.1h0M189.8 593.7h0M190.4 596.2h0M189.8 607.5h0M189.0 606.8h0M191.1 605.5h0M192.6 594.1h0M193.9 587.1h0M193.0 597.7h0M193.5 603.5h0M193.4 594.8h0M194.4 600.3h0M189.5 599.3h0M191.1 597.1h0M188.9 599.1h0M188.1 596.5h0M188.2 600.7h0M189.3 597.1h0M194.1 587.0h0M188.1 596.6h0M195.8 591.3h0M189.9 589.9h0M194.0 600.0h0M192.6 598.8h0M192.3 606.1h0M194.8 593.4h0M193.8 593.3h0M190.3 607.0h0M194.9 588.0h0M193.3 606.3h0M195.1 589.7h0M194.0 590.6h0M190.3 594.0h0M188.5 596.7h0M194.2 593.9h0M192.1 602.7h0M188.6 590.5h0M194.7 588.5h0M190.4 592.8h0M191.3 604.0h0M188.9 600.5h0M190.5 605.9h0M194.6 591.3h0M190.6 606.7h0M194.3 600.0h0M191.1 600.0h0M194.8 600.0h0M194.9 593.6h0M191.1 608.8h0M195.8 595.5h0M192.5 594.2h0M189.5 594.4h0M190.8 589.3h0M192.1 589.9h0M196.8 590.7h0M191.4 606.4h0M193.8 593.5h0" stroke="#9c8a22" stroke-width="1.3" stroke-linecap="round" fill="none"/><path d="M184.9 588.3h0M185.1 585.8h0M186.8 588.8h0M183.9 585.1h0M185.8 584.1h0M187.1 587.7h0M186.7 589.5h0M186.3 586.4h0M184.2 585.3h0M185.5 590.4h0M184.7 587.5h0M186.8 588.3h0M185.1 586.0h0M186.0 584.7h0" stroke="#1f5a48" stroke-width="1.2" stroke-linecap="round" fill="none"/><circle cx="5.50" cy="620.00" r="2.25" fill="#e35552" stroke="#000" stroke-opacity="0.25" stroke-width="0.5"/><circle cx="34.60" cy="620.00" r="2.25" fill="#f08a60" stroke="#000" stroke-opacity="0.25" stroke-width="0.5"/><circle cx="93.70" cy="620.00" r="2.25" fill="#9c8a22" stroke="#000" stroke-opacity="0.25" stroke-width="0.5"/><circle cx="145.50" cy="620.00" r="2.25" fill="#1f5a48" stroke="#000" stroke-opacity="0.25" stroke-width="0.5"/><circle cx="178.50" cy="620.00" r="2.25" fill="#62a898" stroke="#000" stroke-opacity="0.25" stroke-width="0.5"/><circle cx="224.60" cy="620.00" r="2.25" fill="#dcb52a" stroke="#000" stroke-opacity="0.25" stroke-width="0.5"/><text x="10.60" y="622.52" font-size="7" textLength="17.90" lengthAdjust="spacingAndGlyphs" stroke="#2b2b2b" stroke-width="0.1">Blasts</text><text x="39.40" y="622.52" font-size="7" textLength="48.10" lengthAdjust="spacingAndGlyphs" stroke="#2b2b2b" stroke-width="0.1">Erythropoiesis/</text><text x="39.40" y="631.22" font-size="7" stroke="#2b2b2b" stroke-width="0.1">other</text><text x="98.80" y="622.52" font-size="7" textLength="40.60" lengthAdjust="spacingAndGlyphs" stroke="#2b2b2b" stroke-width="0.1">Lymphocytes</text><text x="149.80" y="622.52" font-size="7" textLength="21.60" lengthAdjust="spacingAndGlyphs" stroke="#2b2b2b" stroke-width="0.1">CD38+</text><text x="183.70" y="622.52" font-size="7" textLength="34.80" lengthAdjust="spacingAndGlyphs" stroke="#2b2b2b" stroke-width="0.1">Monocytes</text><text x="229.20" y="622.52" font-size="7" textLength="22.50" lengthAdjust="spacingAndGlyphs" stroke="#2b2b2b" stroke-width="0.1">CD34+</text><text x="310.50" y="501.71" font-size="10.3" textLength="31.30" lengthAdjust="spacingAndGlyphs" stroke="#2b2b2b" stroke-width="0.1">DMSO</text><text x="415.80" y="501.41" font-size="10.3" textLength="51.70" lengthAdjust="spacingAndGlyphs" stroke="#2b2b2b" stroke-width="0.1">A-1331852</text><text x="407.70" y="512.79" font-size="8.3" fill="#8a8a8a" textLength="67.90" lengthAdjust="spacingAndGlyphs" stroke="#8a8a8a" stroke-width="0.1">BCL-XLi (125 nM)</text><path d="M333.0 520.0C334.8 519.2 337.8 518.8 340.0 519.0C342.2 519.2 344.8 519.8 346.0 521.0C347.2 522.2 346.9 524.7 347.5 526.0C348.1 527.3 349.5 527.3 349.6 529.0C349.7 530.7 348.5 533.3 348.0 536.0C347.5 538.7 347.8 542.9 346.5 545.0C345.2 547.1 342.1 548.2 340.0 548.5C337.9 548.8 335.7 547.8 334.0 546.5C332.3 545.2 330.9 543.4 330.0 541.0C329.1 538.6 328.5 534.3 328.5 532.0C328.5 529.7 329.9 528.3 330.0 527.0C330.1 525.7 328.5 525.2 329.0 524.0C329.5 522.8 331.2 520.8 333.0 520.0Z" fill="#9c8a22" opacity="0.35"/><path d="M341.4 535.7h0M334.8 546.1h0M346.4 530.4h0M335.5 531.9h0M334.3 536.0h0M332.9 529.1h0M336.9 533.1h0M336.5 529.0h0M345.3 540.1h0M340.4 526.5h0M340.8 522.8h0M343.9 540.6h0M339.7 522.6h0M343.4 522.0h0M341.2 543.5h0M344.7 521.3h0M342.8 535.2h0M345.3 544.7h0M343.5 530.7h0M343.2 529.9h0M345.6 523.1h0M329.2 530.7h0M342.7 530.7h0M337.3 520.9h0M335.2 525.6h0M343.6 528.1h0M344.9 542.6h0M346.2 536.6h0M344.7 534.3h0M330.3 539.8h0M343.3 533.2h0M341.6 528.1h0M333.1 536.7h0M341.5 536.8h0M345.5 531.4h0M334.6 536.7h0M333.9 538.2h0M333.5 520.9h0M341.4 526.5h0M337.3 541.3h0M344.5 532.3h0M340.5 526.4h0M342.9 535.8h0M340.9 527.8h0M332.8 531.8h0M335.5 526.5h0M339.9 524.3h0M330.7 536.2h0M337.3 537.5h0M343.0 530.4h0M336.7 520.3h0M335.3 535.1h0M339.1 539.0h0M344.3 537.4h0M345.1 540.2h0M341.9 524.9h0M330.4 539.1h0M346.2 543.9h0M341.7 546.7h0M341.5 534.5h0M329.8 531.5h0M338.9 523.2h0M346.1 528.8h0M340.9 532.7h0M336.4 531.9h0M342.6 540.7h0M344.2 535.0h0M331.1 533.9h0M339.4 543.3h0M334.5 542.7h0M339.9 530.4h0M339.0 521.5h0M346.6 527.0h0M335.6 530.6h0M342.5 520.4h0M335.3 546.5h0M335.1 530.8h0M347.9 527.2h0M334.8 520.6h0M339.0 529.9h0M339.3 538.4h0M344.5 526.9h0M346.9 526.8h0M339.3 540.4h0M331.6 539.8h0M334.1 536.3h0M339.8 543.5h0M337.2 522.5h0M337.5 531.4h0M330.9 540.7h0M332.1 523.6h0M333.7 535.2h0M339.9 521.0h0M346.5 536.5h0M334.9 541.4h0M335.5 529.0h0M345.1 529.4h0M341.5 543.2h0M342.7 535.6h0M332.8 522.2h0M333.2 521.2h0M332.9 527.4h0M344.5 534.9h0M336.8 532.0h0M341.9 533.5h0M334.1 534.2h0M346.8 527.9h0M344.8 526.7h0M336.8 543.0h0M337.9 532.0h0M346.7 538.7h0M342.4 544.4h0M336.5 526.7h0M334.8 541.9h0M339.2 547.4h0M344.1 540.5h0M338.4 546.8h0M339.2 544.0h0M331.3 528.5h0M336.4 546.0h0M334.5 542.2h0M342.8 538.1h0M342.8 524.2h0M341.8 521.6h0M336.9 536.0h0M334.2 528.1h0M338.0 540.8h0M335.7 531.5h0M345.1 528.8h0M331.9 538.9h0M345.9 525.7h0M335.2 525.2h0M341.9 521.6h0M335.8 520.2h0M334.2 525.4h0M335.9 521.8h0M337.2 535.9h0M334.5 524.0h0M333.8 528.8h0M334.5 535.7h0M335.8 521.4h0M333.0 540.6h0M343.7 543.3h0M338.2 537.2h0M345.0 539.7h0M340.1 544.4h0M339.8 522.1h0M337.7 537.7h0M338.8 527.0h0M343.9 522.3h0M332.6 538.9h0M343.8 527.2h0M341.0 537.5h0M332.3 544.0h0M333.6 545.7h0M331.2 527.0h0M340.2 524.8h0M329.8 526.0h0M343.0 532.1h0M340.1 541.4h0M334.6 525.0h0M333.3 531.0h0M344.6 539.6h0M345.7 532.1h0M340.5 530.7h0M335.3 522.2h0M340.4 546.7h0M332.6 533.4h0M338.2 543.0h0M335.1 532.1h0M347.9 532.3h0M338.0 539.8h0M346.0 523.2h0M348.7 530.1h0M337.3 545.3h0M335.6 523.6h0M332.9 532.6h0M344.1 527.3h0M337.1 541.8h0M340.1 535.1h0M344.3 533.9h0M330.4 523.0h0M335.2 537.7h0M347.4 527.7h0M342.7 534.9h0M333.7 521.4h0M337.5 544.3h0M339.9 541.6h0M338.4 542.0h0M345.1 540.1h0M343.3 541.0h0M340.7 527.0h0M339.6 527.5h0M334.9 537.0h0M335.7 533.7h0M348.4 528.7h0M343.0 520.5h0M337.0 547.3h0M344.2 541.0h0M333.9 526.7h0M343.2 541.3h0M344.3 540.1h0M334.7 523.1h0M344.9 536.9h0M343.8 537.6h0M331.4 523.6h0M335.1 534.3h0M331.5 525.9h0M330.2 540.6h0M332.3 525.6h0M344.4 536.1h0M339.6 539.6h0M337.4 529.7h0M332.7 522.1h0M338.8 522.0h0M334.1 543.3h0M337.8 534.8h0M340.6 539.2h0M342.7 526.1h0M335.6 542.0h0M333.6 533.3h0M335.3 524.1h0M346.6 535.2h0M343.9 540.0h0M344.5 535.3h0M339.1 534.2h0M334.7 534.7h0M335.4 524.3h0M334.1 538.1h0M333.1 524.8h0M348.1 532.1h0M340.4 544.9h0M343.5 545.1h0M343.5 532.2h0M341.0 521.8h0M333.0 528.4h0M343.1 541.3h0M343.0 522.3h0M344.3 520.8h0M346.1 538.4h0M333.5 540.9h0M347.7 537.1h0M334.2 526.8h0M344.0 526.2h0M340.9 523.0h0M342.8 545.4h0M329.1 534.0h0M344.4 523.7h0M331.9 533.3h0M329.1 530.5h0M346.4 539.6h0M332.1 536.3h0M333.5 533.8h0M344.0 522.4h0M339.1 528.8h0M338.3 536.2h0M334.1 533.8h0M347.3 526.4h0M338.9 530.1h0M338.2 527.0h0M333.4 525.5h0M339.7 542.0h0M333.2 532.4h0M337.6 528.2h0M346.3 522.3h0M337.2 535.8h0M342.9 537.5h0M342.5 540.3h0M334.6 536.0h0M337.0 525.1h0M331.2 523.4h0M330.7 531.1h0M342.6 540.7h0M338.0 538.4h0M334.5 530.3h0M334.1 546.4h0M332.2 524.9h0M337.3 545.1h0M341.1 538.3h0M334.9 536.5h0M334.0 520.7h0M335.9 520.4h0M345.2 539.0h0M345.3 544.0h0M347.1 529.0h0M340.3 536.3h0M340.4 535.9h0M347.0 533.2h0M338.1 526.1h0M335.0 541.3h0M335.5 539.6h0M346.2 544.9h0M343.8 529.8h0M343.0 540.6h0M334.4 532.0h0M345.4 521.3h0M334.1 524.4h0M346.8 532.5h0M340.1 539.7h0M341.0 546.1h0M338.1 519.9h0M330.1 523.3h0M346.8 527.0h0M343.3 545.4h0M342.9 528.2h0M335.0 542.3h0M338.2 535.9h0M341.0 540.5h0M341.3 538.8h0M336.6 546.8h0M336.4 539.9h0M330.8 538.9h0M346.3 523.5h0M348.8 529.1h0M332.6 531.1h0M339.1 539.2h0M333.9 531.4h0M341.8 527.2h0M346.6 527.3h0M340.2 523.6h0M343.0 546.6h0M332.7 531.5h0M335.4 535.8h0M334.1 531.0h0M333.0 524.9h0M344.7 538.4h0M341.8 535.2h0M336.9 526.4h0M329.6 531.6h0M338.3 522.5h0M334.0 542.4h0M340.9 540.1h0M339.8 547.9h0M345.2 520.8h0M331.3 531.8h0M343.5 522.4h0M340.3 522.3h0M336.5 545.3h0M343.3 545.0h0M337.8 523.4h0M335.3 525.2h0M344.1 545.5h0M345.1 522.2h0M343.2 535.7h0M346.4 525.1h0M340.9 534.6h0M337.8 529.2h0M343.5 534.2h0M344.6 527.0h0M335.7 537.5h0M346.5 527.9h0M341.2 543.3h0M338.7 535.2h0M338.1 536.7h0M343.6 524.1h0M335.7 530.4h0M334.4 532.8h0M338.4 522.1h0M338.8 524.0h0M334.6 523.1h0M339.3 527.1h0M333.3 535.5h0M334.9 546.2h0M347.0 527.4h0M346.9 532.6h0M345.2 544.2h0M330.5 531.5h0M339.1 528.8h0M339.0 525.9h0M332.2 533.7h0M336.2 524.3h0M337.0 528.5h0M337.4 528.3h0M342.0 542.7h0M335.7 537.2h0M332.9 528.6h0M339.0 520.4h0M348.7 529.7h0M343.9 545.2h0M339.6 531.7h0M348.6 529.9h0M333.8 532.1h0M338.5 547.4h0M340.5 525.4h0M337.2 542.1h0M340.1 537.5h0M342.4 533.2h0M341.5 530.0h0M332.6 541.2h0M330.8 528.3h0M330.5 539.3h0M335.7 543.2h0M332.4 534.6h0M339.1 521.0h0M331.9 536.3h0M336.4 534.2h0M342.8 528.7h0M331.7 521.5h0M332.7 531.2h0M338.2 527.0h0M335.0 525.1h0M329.7 529.6h0M332.0 534.8h0M339.1 526.2h0M335.5 533.1h0M331.8 529.8h0M334.6 533.0h0M329.2 524.3h0M334.3 528.1h0M347.0 528.3h0M343.9 526.3h0M336.8 522.7h0M330.5 529.7h0M333.2 529.1h0M342.1 541.5h0M331.2 532.0h0M336.1 523.8h0M331.2 532.0h0M330.6 531.8h0M345.7 540.6h0" stroke="#9c8a22" stroke-width="1.3" stroke-linecap="round" fill="none"/><path d="M333.5 548.1h0M328.9 541.0h0M328.8 538.4h0M324.4 539.6h0M330.4 542.4h0M327.9 540.0h0M330.6 543.9h0M327.3 537.3h0M330.3 545.1h0M329.9 544.3h0M324.1 536.0h0M329.6 542.0h0M336.9 548.4h0M331.1 546.4h0M337.6 548.1h0M335.1 547.1h0M332.2 547.7h0M327.8 543.2h0" stroke="#6a7280" stroke-width="1.1" stroke-linecap="round" fill="none"/><path d="M275.0 558.0C276.1 556.9 278.2 556.6 280.0 556.5C281.8 556.4 284.2 557.6 286.0 557.5C287.8 557.4 289.3 555.8 291.0 556.0C292.7 556.2 295.0 557.3 296.0 558.5C297.0 559.7 297.2 561.6 297.0 563.0C296.8 564.4 295.7 565.8 295.0 567.0C294.3 568.2 294.5 570.1 293.0 570.5C291.5 570.9 288.2 569.4 286.0 569.5C283.8 569.6 281.8 571.2 280.0 571.0C278.2 570.8 276.1 569.3 275.0 568.0C273.9 566.7 273.5 564.7 273.5 563.0C273.5 561.3 273.9 559.1 275.0 558.0Z" fill="#ee7c3c" opacity="0.35"/><path d="M289.9 567.3h0M292.6 558.2h0M284.3 563.8h0M279.0 562.4h0M284.9 567.6h0M293.3 567.4h0M275.6 564.1h0M279.4 569.0h0M290.4 565.3h0M285.5 569.2h0M295.0 564.3h0M275.5 562.8h0M289.0 569.0h0M295.3 560.8h0M282.5 558.2h0M284.8 563.4h0M284.3 561.4h0M294.3 565.2h0M284.7 559.3h0M289.6 560.7h0M282.5 562.5h0M286.6 567.3h0M282.2 564.0h0M276.2 566.6h0M275.9 566.0h0M278.4 558.5h0M294.2 565.4h0M278.8 566.2h0M281.8 563.2h0M283.5 565.1h0M278.4 559.7h0M282.7 567.2h0M288.1 561.9h0M295.8 559.9h0M283.7 558.2h0M281.7 556.8h0M286.6 564.2h0M282.6 564.1h0M285.9 557.5h0M288.7 568.8h0M288.8 557.0h0M279.4 559.4h0M293.6 567.1h0M284.9 565.8h0M285.2 566.3h0M275.5 562.1h0M283.5 569.0h0M291.5 565.5h0M293.6 566.8h0M283.7 561.2h0M288.8 560.3h0M289.4 569.2h0M274.9 562.1h0M277.8 559.8h0M281.6 568.2h0M274.7 563.8h0M275.7 564.3h0M293.3 559.9h0M281.5 561.3h0M279.3 568.7h0M276.5 565.5h0M288.5 559.7h0M285.9 559.1h0M289.8 565.3h0M285.0 558.7h0M294.0 563.1h0M290.7 557.4h0M277.1 562.0h0M289.3 562.0h0M280.3 562.9h0M288.9 566.7h0M279.7 560.5h0M286.4 558.0h0M293.9 560.0h0M276.4 566.6h0M278.2 559.5h0M287.7 568.4h0M279.0 564.6h0M278.3 557.9h0M294.3 564.7h0M277.1 561.3h0M293.2 565.3h0M280.1 556.8h0M278.6 569.0h0M293.8 567.0h0M290.5 556.2h0M282.0 568.3h0M279.5 561.8h0M287.2 564.0h0M290.2 559.8h0M278.2 559.2h0M291.7 561.8h0M285.2 561.3h0M293.4 563.6h0M291.6 565.7h0M292.5 569.6h0M279.9 567.3h0M275.2 566.1h0M292.3 560.0h0M294.3 563.1h0M288.6 559.3h0M276.5 563.3h0M286.4 562.7h0M288.4 559.1h0M280.2 561.3h0M288.6 557.0h0M287.1 566.0h0M294.4 561.2h0M292.1 569.6h0M291.1 566.4h0M282.9 568.3h0M280.5 569.1h0M276.2 565.9h0M277.1 566.6h0M290.0 566.7h0M290.6 559.6h0M283.9 563.4h0M276.5 566.7h0M282.4 569.9h0M274.8 565.7h0M292.7 559.5h0M279.5 565.4h0M286.8 561.1h0M285.5 557.9h0M285.7 558.4h0M279.8 570.0h0M285.8 560.3h0M285.3 566.4h0M275.1 566.0h0M278.0 559.8h0M280.1 561.7h0M289.2 559.5h0M287.6 557.1h0M293.5 560.6h0M284.0 562.6h0M296.4 562.2h0M290.9 557.3h0M290.5 568.1h0M276.5 561.3h0M295.9 563.4h0M282.8 566.2h0M281.2 563.1h0M281.4 564.9h0M294.3 563.1h0M293.5 560.6h0M293.3 569.7h0M278.5 557.9h0M278.4 564.1h0M281.1 565.8h0M282.1 562.7h0M274.3 565.5h0M292.7 561.2h0M291.1 565.1h0M275.6 568.0h0M275.0 566.4h0M276.0 562.0h0M290.6 562.5h0M276.5 567.2h0M293.9 561.2h0M291.4 560.7h0M277.8 569.1h0M291.4 566.9h0M281.8 569.4h0M279.7 559.9h0M275.0 560.4h0M282.6 565.6h0M291.8 564.1h0M294.2 560.8h0M277.8 562.9h0M287.4 562.8h0M283.7 565.9h0M280.0 564.5h0M282.0 566.4h0M284.5 569.3h0M283.2 564.9h0M292.0 559.3h0M281.1 568.8h0M281.5 565.4h0M280.8 566.4h0M287.6 558.7h0M287.9 568.3h0M282.8 566.8h0M290.6 560.5h0M284.6 560.3h0M280.7 557.2h0M278.1 568.7h0M288.6 560.7h0M279.4 569.8h0M280.4 569.2h0M292.2 567.4h0M276.5 559.2h0M285.0 563.2h0M281.2 564.2h0M281.8 561.8h0M279.4 566.1h0M285.8 569.4h0M286.4 563.0h0M294.5 563.0h0M278.4 562.9h0M283.8 561.7h0M282.4 560.7h0M290.6 558.4h0M285.3 569.4h0M275.4 558.5h0M282.5 566.0h0M275.3 563.7h0M279.3 564.9h0M284.4 557.9h0M291.1 562.2h0M291.9 560.4h0M281.1 563.8h0M293.7 563.2h0M283.4 564.0h0M276.8 566.0h0M290.5 564.6h0M289.5 567.3h0M279.0 566.6h0M276.1 558.1h0M291.4 563.3h0M281.6 559.4h0M278.3 559.9h0M279.0 561.1h0M278.0 560.9h0M295.8 562.9h0M292.3 562.6h0M275.5 564.7h0M285.3 559.4h0M277.2 559.6h0M282.1 565.1h0M284.1 569.8h0M290.3 556.5h0M291.6 562.4h0M290.2 567.9h0M296.0 560.8h0M274.8 558.8h0M275.4 567.6h0M289.0 560.9h0M290.7 569.9h0M285.8 557.6h0M289.4 563.6h0M280.6 559.9h0M277.5 564.9h0M286.4 566.1h0M292.1 561.3h0M284.3 558.2h0M293.3 558.4h0M285.3 564.8h0M283.4 564.4h0M294.6 564.4h0M281.8 560.2h0M292.2 567.4h0M282.6 568.7h0M285.8 564.9h0M280.6 564.2h0M276.2 563.4h0M291.9 566.5h0M282.5 564.0h0M292.0 568.8h0M282.0 567.7h0M289.7 568.7h0M289.3 566.4h0M284.9 569.2h0M282.7 562.7h0M284.1 561.4h0M282.5 569.0h0M286.3 567.0h0M290.3 567.8h0M279.6 569.1h0M293.7 568.3h0M286.0 562.9h0M282.3 560.9h0M278.1 558.4h0M287.8 561.8h0M295.5 562.6h0M288.5 565.6h0M282.1 568.7h0M275.5 562.5h0M291.1 563.6h0M283.6 564.9h0M281.3 557.6h0M296.4 561.3h0M275.0 566.4h0M277.9 566.8h0M284.7 559.4h0M290.3 563.0h0M290.3 560.4h0M289.2 557.8h0M292.1 559.3h0M287.4 557.2h0M282.6 568.9h0M283.2 565.5h0M278.5 559.6h0M281.8 564.9h0M278.6 559.9h0M296.1 564.1h0M282.0 560.3h0M295.2 562.5h0M282.7 562.8h0M294.1 567.0h0M283.5 564.0h0" stroke="#ee7c3c" stroke-width="1.3" stroke-linecap="round" fill="none"/><path d="M297.7 555.8h0M298.1 557.1h0M297.2 558.5h0M299.5 556.9h0M299.2 557.4h0M297.2 558.0h0M297.4 558.9h0M299.2 558.7h0M299.4 558.9h0M299.1 558.6h0M299.9 557.2h0M297.3 558.8h0M300.6 556.3h0M301.6 559.0h0M295.3 558.1h0" stroke="#6a7280" stroke-width="1.6" stroke-linecap="round" fill="none"/><path d="M302.7 564.4h0M299.2 565.1h0M304.6 564.8h0M301.4 564.6h0M300.6 565.1h0M303.8 567.7h0M304.1 565.5h0M302.7 565.4h0M302.5 564.5h0M303.7 564.2h0M302.9 564.8h0M301.9 565.4h0M300.7 566.8h0M301.6 562.3h0M302.9 564.9h0M304.9 564.7h0M302.9 565.8h0M304.0 566.5h0" stroke="#6a7280" stroke-width="1.6" stroke-linecap="round" fill="none"/><path d="M312.7 566.1h0M314.0 566.3h0M311.1 565.7h0M310.8 565.5h0M311.2 564.4h0M311.6 565.5h0M312.4 566.2h0M311.1 565.7h0M311.6 567.1h0M312.9 565.7h0M310.9 567.3h0M311.9 564.8h0M308.8 565.1h0M312.8 566.6h0M312.6 565.7h0" stroke="#6a7280" stroke-width="1.6" stroke-linecap="round" fill="none"/><path d="M321.4 563.4h0M321.7 565.5h0M322.0 564.1h0M322.8 564.4h0M323.2 566.0h0M322.2 562.8h0M318.7 563.3h0M322.5 563.1h0M319.9 564.6h0M322.1 565.1h0M319.8 565.1h0M322.5 565.0h0M321.4 563.2h0" stroke="#6a7280" stroke-width="1.6" stroke-linecap="round" fill="none"/><path d="M327.7 558.7h0M329.3 557.8h0M329.5 557.7h0M331.2 558.5h0M330.9 559.1h0M327.1 560.0h0M328.3 558.8h0M331.0 557.3h0M330.6 559.1h0M332.2 560.5h0" stroke="#6a7280" stroke-width="1.6" stroke-linecap="round" fill="none"/><path d="M297.3 568.0h0M295.0 566.4h0M298.8 566.3h0M297.1 565.6h0M298.0 567.0h0M296.1 567.2h0M296.2 568.3h0M297.8 568.5h0M298.0 568.3h0" stroke="#6a7280" stroke-width="1.6" stroke-linecap="round" fill="none"/><path d="M350.0 578.0C352.3 576.7 355.7 577.0 358.0 578.0C360.3 579.0 362.9 581.0 364.0 584.0C365.1 587.0 365.2 592.6 364.5 596.0C363.8 599.4 362.2 603.0 360.0 604.5C357.8 606.0 353.6 606.1 351.0 605.0C348.4 603.9 345.7 601.2 344.5 598.0C343.3 594.8 343.1 589.3 344.0 586.0C344.9 582.7 347.7 579.3 350.0 578.0Z" fill="#e35552" opacity="0.35"/><path d="M346.5 590.0h0M353.3 587.5h0M344.8 587.4h0M353.0 599.6h0M363.3 587.9h0M347.9 596.8h0M349.9 585.1h0M350.4 599.4h0M345.2 594.9h0M347.7 586.4h0M346.8 584.8h0M355.1 596.1h0M353.6 594.0h0M354.9 598.8h0M359.6 581.4h0M356.7 597.2h0M360.1 586.4h0M357.3 590.7h0M357.2 600.7h0M352.5 600.8h0M355.4 604.4h0M357.1 589.2h0M347.4 593.0h0M347.9 599.5h0M350.5 599.1h0M353.1 591.7h0M357.5 581.8h0M357.4 598.9h0M359.0 599.6h0M359.9 603.4h0M357.2 598.3h0M348.7 601.1h0M346.4 593.6h0M356.7 595.3h0M352.0 597.8h0M360.6 601.8h0M356.6 589.7h0M357.7 579.3h0M360.3 603.3h0M354.7 589.6h0M347.6 597.4h0M358.9 587.5h0M353.8 595.7h0M359.1 582.7h0M350.2 603.8h0M362.2 600.1h0M357.8 596.6h0M344.5 595.1h0M352.2 579.2h0M360.7 589.2h0M345.9 598.9h0M360.9 597.4h0M356.6 595.1h0M351.6 602.4h0M344.5 591.2h0M346.1 594.3h0M353.6 580.4h0M356.4 597.3h0M351.3 598.7h0M357.9 597.9h0M349.1 587.2h0M358.8 593.4h0M348.9 586.8h0M345.0 585.9h0M354.1 600.6h0M360.3 596.4h0M346.5 598.6h0M353.7 596.6h0M346.3 588.9h0M357.3 596.4h0M354.9 580.5h0M353.5 593.7h0M353.4 592.7h0M351.1 595.2h0M356.9 602.2h0M355.2 596.8h0M358.3 590.6h0M358.7 581.7h0M355.5 579.2h0M357.7 597.6h0M354.0 583.2h0M353.7 590.0h0M362.2 589.6h0M349.5 595.5h0M360.2 592.3h0M357.6 593.6h0M355.8 594.7h0M347.7 587.5h0M345.2 591.4h0M363.3 597.3h0M348.6 584.7h0M354.8 593.9h0M355.5 592.1h0M348.8 596.5h0M349.0 596.3h0M355.9 600.9h0M354.7 598.6h0M356.4 579.9h0M345.8 593.8h0M346.3 590.4h0M355.1 601.7h0M355.5 603.9h0M360.6 594.3h0M351.9 595.5h0M344.7 589.4h0M358.3 586.9h0M349.0 580.1h0M349.1 602.5h0M361.3 598.8h0M356.3 591.2h0M350.3 588.4h0M358.3 600.4h0M348.9 600.3h0M363.4 592.2h0M354.9 583.8h0M357.8 588.1h0M357.5 592.0h0M348.8 599.3h0M353.8 595.4h0M345.8 587.0h0M359.5 586.5h0M361.0 581.9h0M349.0 598.1h0M359.5 584.5h0M352.0 585.5h0M356.7 582.4h0M345.6 593.9h0M355.9 596.4h0M356.2 581.1h0M354.0 594.3h0M345.7 585.5h0M360.7 584.9h0M358.0 588.3h0M353.0 583.2h0M357.3 597.3h0M354.5 592.4h0M359.0 599.1h0M351.0 589.4h0M356.7 580.3h0M353.0 589.8h0M360.8 582.6h0M352.2 598.0h0M350.2 591.5h0M351.7 579.1h0M355.9 600.8h0M361.4 599.2h0M345.8 590.3h0M349.1 594.1h0M350.8 585.7h0M349.5 588.3h0M359.2 585.8h0M349.6 603.3h0M345.8 593.0h0M362.0 584.0h0M359.8 585.0h0M351.5 601.4h0M358.2 592.4h0M354.7 581.1h0M360.7 595.9h0M357.4 579.2h0M350.1 593.9h0M348.8 581.0h0M355.5 597.2h0M357.7 584.2h0M347.5 599.1h0M350.7 602.8h0M355.0 603.2h0M356.1 588.3h0M361.4 587.2h0M356.9 584.5h0M350.7 582.3h0M359.6 600.1h0M350.5 578.2h0M349.4 593.3h0M357.3 585.1h0M358.3 602.2h0M349.7 588.0h0M358.4 583.3h0M352.4 596.0h0M355.0 599.5h0M360.3 595.3h0M346.8 590.6h0M351.9 595.5h0M351.3 578.0h0M350.0 587.3h0M358.4 599.0h0M346.0 593.2h0M353.6 580.7h0M353.6 580.8h0M359.0 592.9h0M351.6 581.2h0M352.8 603.4h0M351.9 584.0h0M358.4 581.6h0M360.6 583.9h0M357.5 578.2h0M345.9 598.6h0M363.0 586.6h0M355.9 591.5h0M363.6 584.6h0M358.8 580.1h0M348.9 583.2h0M353.6 602.7h0M352.1 593.6h0M354.1 600.7h0M350.3 586.0h0M359.2 594.2h0M353.8 600.1h0M352.9 584.9h0M360.9 596.8h0M349.6 597.6h0M350.3 595.0h0M362.7 596.4h0M347.4 589.6h0M350.3 590.9h0M349.7 580.3h0M359.7 580.4h0M363.4 590.0h0M350.7 604.5h0M354.2 579.2h0M355.3 584.6h0M351.6 604.2h0M357.4 594.8h0M348.3 584.3h0M355.6 578.2h0M350.9 593.5h0M352.6 581.9h0M347.8 596.3h0M354.3 578.7h0M359.8 589.1h0M355.4 581.7h0M361.5 588.0h0M357.6 593.2h0M345.7 590.7h0M354.5 595.2h0M353.6 584.9h0M351.6 578.1h0M354.8 601.7h0M351.3 603.5h0M359.8 580.9h0M346.5 592.1h0M359.5 585.3h0M361.6 584.1h0M356.4 591.7h0M354.3 587.5h0M353.5 600.5h0M355.4 602.6h0M356.9 581.3h0M356.6 600.5h0M362.4 584.9h0M345.9 587.6h0M361.4 582.5h0M348.8 597.2h0M347.9 599.4h0M349.9 582.9h0M362.0 587.2h0M351.0 590.4h0M358.4 604.1h0M354.2 588.8h0M352.2 594.5h0M351.4 587.7h0M344.5 590.0h0M357.3 602.7h0M345.3 589.0h0M347.1 600.2h0M357.6 603.9h0M353.2 592.0h0M353.0 593.0h0M353.9 600.7h0M348.5 590.3h0M356.9 584.6h0M353.4 586.3h0M350.3 592.9h0M350.2 581.7h0M351.7 599.1h0M345.3 592.3h0M360.0 587.6h0M348.6 583.2h0M348.4 590.6h0M356.6 601.2h0M351.7 583.7h0M358.9 589.0h0M358.9 604.3h0M357.0 583.9h0M362.6 592.9h0M351.9 589.2h0M363.8 587.5h0M357.1 581.2h0M350.5 597.1h0M356.5 587.9h0M349.5 585.6h0M354.8 592.4h0M354.9 589.0h0M357.7 591.1h0M352.6 592.1h0M360.9 590.9h0M359.2 600.1h0M356.6 596.3h0M356.7 589.9h0M352.7 585.5h0M352.7 585.3h0M349.5 581.6h0M352.8 596.1h0M362.4 599.1h0M354.6 604.3h0M357.5 583.0h0M353.2 578.8h0M351.0 591.4h0M346.9 599.8h0M347.7 597.3h0M345.4 586.8h0M354.8 578.1h0M348.2 593.6h0M351.9 589.3h0M351.5 599.0h0M351.5 583.7h0M357.3 583.7h0M360.0 594.9h0M344.4 585.6h0M356.8 579.1h0M345.4 586.3h0M352.7 581.1h0M353.4 602.7h0M349.2 581.5h0M352.5 585.3h0M345.9 594.2h0M352.8 600.9h0M356.2 587.5h0M353.3 602.6h0M359.9 594.4h0M355.7 598.8h0M362.5 592.7h0M355.7 589.8h0M361.3 599.8h0M345.3 591.5h0M345.2 592.2h0M363.0 591.0h0M344.6 587.8h0M346.3 583.6h0M352.3 599.6h0M349.1 590.8h0M362.0 599.4h0M351.5 600.9h0M355.8 591.1h0M347.4 598.9h0M347.5 582.2h0M350.3 603.1h0M353.8 594.0h0M347.8 597.6h0M352.8 597.9h0M348.4 595.3h0M351.5 591.0h0M356.7 579.6h0M348.6 586.6h0M354.1 601.6h0M357.5 585.1h0M344.7 589.9h0M362.2 591.2h0M360.5 593.4h0M346.8 594.8h0" stroke="#e35552" stroke-width="1.3" stroke-linecap="round" fill="none"/><ellipse cx="352.9" cy="591" rx="13" ry="16" transform="rotate(0 352.9 591)" fill="none" stroke="#2b3550" stroke-width="1.1" stroke-dasharray="2.3 1.9"/><text x="287.30" y="530.52" font-size="7" textLength="40.00" lengthAdjust="spacingAndGlyphs" stroke="#2b2b2b" stroke-width="0.1">Lymphocytes</text><text x="274.80" y="580.02" font-size="7" textLength="57.50" lengthAdjust="spacingAndGlyphs" stroke="#2b2b2b" stroke-width="0.1">Erythrocytes/other</text><text x="320.50" y="601.82" font-size="7" textLength="18.00" lengthAdjust="spacingAndGlyphs" stroke="#2b2b2b" stroke-width="0.1">Blasts</text><path d="M455.0 519.5C456.8 518.1 459.8 518.2 462.0 518.5C464.2 518.8 466.4 519.6 468.0 521.0C469.6 522.4 471.2 524.7 471.5 527.0C471.8 529.3 470.8 532.7 470.0 535.0C469.2 537.3 468.0 539.2 467.0 541.0C466.0 542.8 465.2 544.6 464.0 546.0C462.8 547.4 461.3 549.2 460.0 549.5C458.7 549.8 457.0 549.1 456.0 548.0C455.0 546.9 455.0 544.2 454.0 543.0C453.0 541.8 451.1 542.0 450.0 541.0C448.9 540.0 447.5 538.3 447.5 537.0C447.5 535.7 449.4 534.7 450.0 533.0C450.6 531.3 450.2 529.2 451.0 527.0C451.8 524.8 453.2 520.9 455.0 519.5Z" fill="#9c8a22" opacity="0.35"/><path d="M456.4 524.9h0M461.7 536.8h0M459.9 525.9h0M461.1 543.0h0M459.4 540.8h0M451.3 541.2h0M457.1 546.7h0M466.6 532.4h0M460.1 536.0h0M461.1 529.6h0M464.9 532.4h0M465.6 535.7h0M468.9 526.0h0M460.2 531.3h0M460.5 530.6h0M465.6 525.4h0M460.4 540.5h0M450.8 538.8h0M450.7 535.4h0M457.3 530.3h0M468.6 530.3h0M451.5 530.3h0M458.6 548.9h0M452.8 535.2h0M451.4 540.4h0M467.2 520.9h0M462.9 543.4h0M452.2 535.5h0M459.9 540.5h0M460.6 546.6h0M462.0 538.6h0M463.8 537.1h0M453.8 542.5h0M461.1 518.9h0M455.5 532.2h0M466.6 530.3h0M460.9 519.2h0M456.9 519.9h0M460.5 519.8h0M459.6 520.9h0M456.6 544.4h0M458.9 537.9h0M466.3 535.4h0M460.6 541.7h0M453.3 526.6h0M460.2 524.2h0M465.2 526.6h0M455.9 532.6h0M466.0 523.4h0M465.7 526.8h0M455.7 533.7h0M464.8 521.0h0M460.2 522.1h0M463.7 544.5h0M455.6 537.1h0M453.5 528.1h0M467.5 538.5h0M459.6 523.9h0M467.5 531.4h0M466.5 523.9h0M457.7 546.3h0M449.3 535.4h0M463.4 531.9h0M468.1 521.1h0M467.8 524.0h0M458.6 548.2h0M451.6 538.2h0M451.0 538.2h0M461.6 539.5h0M453.7 529.1h0M464.8 542.2h0M457.1 530.8h0M455.3 527.0h0M462.7 545.6h0M456.8 543.5h0M451.8 526.2h0M467.9 521.0h0M462.6 532.6h0M455.8 533.6h0M462.1 519.3h0M455.6 522.9h0M468.1 525.5h0M452.8 537.1h0M449.0 535.3h0M448.2 536.3h0M455.5 524.3h0M467.6 539.4h0M459.1 521.7h0M460.4 528.0h0M458.5 534.8h0M456.4 521.6h0M452.8 528.9h0M459.9 544.2h0M451.4 537.7h0M468.2 535.3h0M459.3 543.4h0M458.8 544.8h0M453.6 536.8h0M468.3 531.9h0M463.4 534.2h0M467.0 531.6h0M463.7 527.3h0M459.0 540.0h0M451.2 534.8h0M458.5 548.4h0M470.1 530.5h0M460.1 547.7h0M459.9 538.7h0M466.9 534.4h0M464.3 530.2h0M466.6 533.9h0M456.9 519.9h0M450.7 533.9h0M456.9 523.7h0M448.1 536.4h0M462.4 521.6h0M452.6 530.4h0M461.4 524.3h0M451.9 537.1h0M459.4 534.7h0M462.4 530.0h0M455.2 525.6h0M455.2 524.7h0M454.1 540.1h0M460.3 536.4h0M462.2 539.9h0M450.9 528.9h0M470.3 525.9h0M456.7 519.7h0M459.0 528.1h0M449.5 536.4h0M460.7 534.7h0M458.6 547.4h0M469.9 533.8h0M457.4 523.8h0M456.4 548.0h0M461.0 525.4h0M454.8 541.8h0M461.0 531.9h0M463.2 531.4h0M455.5 530.4h0M457.2 523.8h0M456.3 547.3h0M462.6 541.2h0M468.4 533.2h0M464.4 543.2h0M463.5 520.9h0M456.8 545.7h0M462.0 528.1h0M462.6 527.1h0M467.2 529.1h0M460.1 534.8h0M469.4 528.8h0M463.5 539.2h0M458.9 527.8h0M465.9 538.8h0M460.0 538.8h0M455.9 531.9h0M460.2 534.9h0M465.5 535.6h0M468.3 527.1h0M457.1 535.1h0M452.5 540.6h0M453.2 541.4h0M470.3 532.9h0M459.9 521.1h0M462.5 530.3h0M467.5 523.5h0M469.1 523.5h0M452.3 538.9h0M464.4 539.9h0M452.6 525.6h0M459.2 535.6h0M456.9 538.0h0M468.2 532.2h0M461.4 530.9h0M450.0 534.4h0M450.7 532.0h0M457.8 527.5h0M458.2 537.0h0M460.4 526.1h0M456.4 547.5h0M457.2 527.1h0M460.4 525.6h0M465.5 526.8h0M466.2 533.2h0M469.7 531.4h0M457.6 543.1h0M463.8 532.2h0M457.3 523.9h0M451.0 534.1h0M452.5 536.7h0M456.9 540.7h0M459.5 545.5h0M469.1 529.6h0M459.7 538.8h0M468.8 534.0h0M451.2 530.8h0M456.7 529.4h0M464.1 529.2h0M452.4 541.2h0M455.7 540.6h0M463.3 538.9h0M461.2 520.3h0M457.9 533.5h0M450.9 527.9h0M465.4 536.4h0M461.9 539.3h0M461.1 526.5h0M454.4 537.3h0M467.9 521.6h0M458.8 545.7h0M453.7 541.5h0M455.2 532.1h0M466.4 528.3h0M454.9 543.7h0M466.5 533.4h0M468.5 530.0h0M463.6 545.3h0M453.0 537.9h0M453.7 539.4h0M464.7 531.5h0M467.9 533.3h0M450.8 538.8h0M467.8 530.2h0M457.3 546.6h0M460.8 526.5h0M458.6 537.3h0M460.3 547.4h0M467.5 530.4h0M469.6 523.7h0M457.4 532.5h0M457.4 527.5h0M464.3 536.6h0M453.5 522.5h0M464.9 537.4h0M458.7 548.9h0M458.1 525.6h0M465.2 542.1h0M465.9 540.6h0M458.8 527.8h0M462.1 525.5h0M469.5 529.1h0M463.7 527.5h0M453.8 533.2h0M457.9 533.6h0M458.2 536.6h0M453.5 524.0h0M463.6 534.9h0M456.9 529.1h0M458.0 543.4h0M462.6 547.1h0M461.6 523.1h0M458.2 538.0h0M451.4 538.3h0M455.5 542.2h0M451.5 535.3h0M455.6 520.0h0M452.7 540.1h0M461.2 526.6h0M452.6 524.4h0M460.0 528.2h0M457.0 536.1h0M450.3 531.1h0M459.0 528.6h0M467.5 528.8h0M451.5 538.8h0M459.1 520.9h0M452.6 532.2h0M460.2 530.7h0M462.1 528.3h0M450.9 541.1h0M460.2 529.3h0M466.2 531.8h0M469.6 533.6h0M455.4 536.3h0M454.9 527.0h0M467.8 537.8h0M455.9 544.0h0M460.1 542.1h0M459.4 539.2h0M468.8 536.6h0M451.7 529.6h0M461.2 545.1h0M461.0 533.5h0M455.2 522.1h0M461.7 539.6h0M458.5 530.7h0M467.2 540.5h0M459.4 531.3h0M460.8 547.2h0M454.6 542.4h0M455.9 539.9h0M459.8 537.0h0M449.9 539.8h0M449.0 537.4h0M457.8 525.4h0M453.8 538.7h0M459.7 538.4h0M463.1 525.5h0M457.9 547.6h0M451.1 539.3h0M459.1 539.8h0M455.3 525.4h0M466.9 521.4h0M469.0 533.4h0M462.8 538.8h0M455.3 530.1h0M464.0 538.2h0M452.1 527.5h0M453.1 538.0h0M458.1 533.9h0M463.3 532.2h0M459.1 526.6h0M459.7 549.0h0M453.1 530.5h0M457.5 531.8h0M462.7 545.2h0M464.1 521.4h0M462.7 539.5h0M457.7 542.9h0M450.8 536.6h0M454.8 536.0h0M463.1 531.7h0M455.6 545.3h0M448.0 537.4h0M454.8 544.2h0M468.6 524.6h0M461.5 543.3h0M460.0 543.1h0M456.0 538.5h0M465.2 523.8h0M461.6 520.2h0M460.3 537.1h0M459.9 534.8h0M451.6 540.6h0M456.6 544.9h0M457.5 534.7h0M461.9 532.7h0M465.9 537.4h0M463.5 540.9h0M469.0 523.3h0M452.3 540.2h0M461.9 536.6h0M462.1 538.8h0M457.1 531.1h0M451.2 530.6h0M466.9 540.5h0M469.4 526.0h0M458.4 537.7h0M454.7 540.8h0M468.2 524.9h0M455.5 538.8h0M449.9 537.5h0M459.4 524.2h0M454.0 525.3h0M461.7 524.9h0M461.2 538.2h0M469.3 531.3h0M450.2 532.2h0M462.4 536.8h0M463.8 524.8h0M467.7 529.7h0M461.7 531.9h0M459.4 549.0h0M461.6 530.7h0M462.9 519.7h0M464.7 533.1h0M469.0 528.1h0M451.6 529.7h0M466.2 529.5h0M468.8 525.1h0M467.9 529.0h0M450.0 536.4h0M462.7 521.7h0M457.1 546.4h0M466.4 533.4h0M468.2 532.9h0M461.7 544.8h0M463.7 541.9h0M453.2 528.9h0M467.3 536.1h0M456.0 535.2h0M461.7 524.9h0M468.9 530.1h0M462.1 531.0h0M458.6 524.8h0M464.0 522.9h0M467.7 521.7h0M457.9 544.2h0M459.7 522.3h0M461.8 546.3h0M455.3 526.7h0M457.9 542.8h0M454.9 524.4h0M454.2 523.7h0M456.4 535.0h0M458.8 524.0h0M451.8 537.1h0M452.6 535.1h0M464.9 533.5h0M453.9 527.5h0M455.7 532.8h0M470.2 532.9h0M456.0 526.8h0M461.5 529.4h0M459.9 541.0h0M458.6 537.1h0M465.2 520.4h0M470.8 526.4h0M459.3 527.6h0M465.3 534.9h0M466.6 536.7h0M465.4 528.5h0M465.2 532.4h0M458.7 534.1h0M463.2 520.7h0M452.8 536.5h0M468.4 532.4h0M465.9 535.5h0" stroke="#9c8a22" stroke-width="1.3" stroke-linecap="round" fill="none"/><path d="M446.6 539.1h0M454.4 547.3h0M449.0 545.4h0M448.4 544.5h0M455.1 547.5h0M456.0 548.0h0M451.4 546.5h0M455.4 549.4h0M446.5 541.4h0M453.7 549.7h0M449.3 541.8h0M448.4 545.2h0M448.3 542.6h0M450.8 541.8h0" stroke="#6a7280" stroke-width="1.1" stroke-linecap="round" fill="none"/><path d="M398.0 557.0C400.1 556.2 404.8 555.8 408.0 556.0C411.2 556.2 415.3 556.5 417.0 558.0C418.7 559.5 418.7 563.0 418.0 565.0C417.3 567.0 415.5 569.2 413.0 570.0C410.5 570.8 405.8 570.5 403.0 570.0C400.2 569.5 397.2 568.5 396.0 567.0C394.8 565.5 395.3 562.7 395.6 561.0C395.9 559.3 395.9 557.8 398.0 557.0Z" fill="#ee7c3c" opacity="0.35"/><path d="M410.6 565.9h0M406.4 565.4h0M404.0 569.4h0M415.3 562.3h0M415.7 560.7h0M414.7 558.3h0M401.5 557.4h0M406.8 560.6h0M403.8 559.2h0M413.8 566.6h0M404.2 565.1h0M395.8 563.6h0M408.3 564.8h0M398.4 564.0h0M412.0 560.1h0M412.4 560.7h0M403.9 559.6h0M404.4 563.6h0M408.2 563.3h0M415.1 565.4h0M400.7 557.4h0M416.3 561.0h0M416.0 562.1h0M415.2 565.7h0M406.3 557.7h0M412.8 567.4h0M410.8 562.7h0M397.6 562.2h0M414.8 566.2h0M403.8 564.6h0M401.7 567.9h0M403.1 562.9h0M400.7 568.9h0M402.8 560.5h0M404.7 568.7h0M401.3 567.4h0M415.6 567.0h0M405.3 557.9h0M411.9 563.1h0M410.4 565.9h0M404.1 567.0h0M415.3 558.5h0M414.1 568.5h0M399.7 565.7h0M400.8 568.4h0M405.9 559.0h0M397.8 563.0h0M405.3 565.3h0M399.6 563.4h0M399.9 563.9h0M399.5 563.5h0M404.9 566.2h0M408.0 559.9h0M407.8 569.0h0M410.7 562.1h0M397.6 558.9h0M409.6 569.8h0M398.4 566.2h0M402.4 563.9h0M398.2 567.8h0M414.6 562.6h0M417.5 564.1h0M407.3 567.1h0M398.5 557.9h0M400.7 559.5h0M406.9 559.6h0M407.1 569.3h0M407.9 564.0h0M409.0 558.0h0M406.3 566.3h0M416.7 559.9h0M398.0 566.2h0M405.0 558.9h0M417.2 564.5h0M408.6 561.3h0M406.6 569.2h0M413.4 557.3h0M402.6 560.0h0M414.5 567.1h0M398.4 566.1h0M400.1 558.8h0M400.0 557.2h0M398.0 559.1h0M410.7 560.5h0M397.6 565.1h0M406.8 557.3h0M404.2 566.5h0M402.9 558.3h0M400.0 557.0h0M400.3 560.6h0M411.4 557.0h0M400.7 560.8h0M405.5 564.4h0M411.2 566.8h0M403.1 567.1h0M407.4 564.9h0M399.9 558.3h0M410.4 564.4h0M410.6 557.1h0M396.0 563.2h0M415.7 565.8h0M400.2 563.1h0M408.4 557.5h0M403.2 562.0h0M411.7 568.3h0M408.8 559.6h0M404.1 558.9h0M410.6 561.4h0M402.9 560.5h0M416.0 566.5h0M406.4 558.7h0M405.5 568.4h0M401.9 563.3h0M399.4 568.1h0M398.3 557.2h0M397.0 565.6h0M402.3 558.4h0M409.2 569.9h0M398.0 559.6h0M398.3 566.9h0M404.8 562.9h0M398.9 561.2h0M396.8 564.9h0M405.1 565.1h0M404.3 567.0h0M409.3 565.9h0M410.2 567.5h0M401.4 560.2h0M412.4 560.3h0M399.7 564.7h0M413.4 563.1h0M408.5 556.6h0M398.5 562.0h0M403.6 565.4h0M402.5 567.3h0M411.8 557.7h0M407.9 569.1h0M407.6 556.4h0M407.9 559.0h0M410.4 565.7h0M405.6 563.5h0M397.2 560.2h0M399.2 566.5h0M414.7 563.4h0M405.6 560.2h0M413.6 558.0h0M398.6 567.6h0M401.1 563.4h0M411.2 569.5h0M409.9 560.0h0M411.9 568.7h0M402.2 568.2h0M403.9 558.9h0M398.2 567.5h0M399.1 560.1h0M401.2 561.8h0M396.6 566.3h0M402.9 568.3h0M403.8 557.1h0M409.8 567.0h0M404.6 556.9h0M412.3 561.5h0M410.3 569.5h0M404.1 565.8h0M408.4 567.1h0M410.7 560.6h0M416.9 560.7h0M399.1 562.0h0M408.9 566.2h0M400.1 557.5h0M416.4 559.7h0M410.0 556.6h0M399.4 559.5h0M407.8 564.5h0M410.9 563.0h0M404.2 557.6h0M412.1 557.7h0M416.7 563.3h0M404.5 559.0h0M400.8 559.4h0M406.5 559.2h0M403.5 569.3h0M401.5 568.9h0M414.8 559.2h0M406.2 568.5h0M413.1 563.2h0M413.6 559.5h0M399.5 562.1h0M410.5 561.1h0M407.9 569.7h0M403.0 566.1h0M401.1 565.6h0M403.0 565.3h0M403.4 566.1h0M399.2 557.3h0M408.0 557.2h0M402.2 567.8h0M406.6 556.6h0M404.2 561.0h0M411.0 566.6h0M410.6 569.9h0M402.6 560.9h0M408.0 567.7h0M413.2 563.4h0M410.3 566.1h0M403.3 556.5h0M416.5 565.9h0M415.9 564.9h0M396.5 560.7h0M417.1 563.4h0M412.6 563.2h0M403.9 567.9h0M406.7 556.6h0M408.8 557.0h0M403.5 565.6h0M410.3 567.4h0M405.5 569.2h0M397.4 567.2h0M407.1 566.6h0M417.0 565.3h0M404.4 564.3h0M402.9 563.5h0M402.4 566.6h0M399.2 562.7h0M413.1 560.0h0M410.9 568.3h0M399.4 565.5h0M398.0 563.0h0M400.6 561.3h0M400.4 558.5h0M397.6 562.8h0M411.4 562.1h0M406.5 564.7h0M400.1 563.1h0M412.2 569.7h0M410.3 560.8h0M403.1 562.0h0M401.5 568.8h0M396.0 562.7h0M406.4 565.4h0M399.6 564.2h0M414.2 561.1h0M413.4 566.6h0M410.4 566.9h0M401.1 568.8h0M411.3 563.8h0M406.8 565.2h0M401.1 566.6h0M415.7 564.7h0M410.6 556.9h0M408.8 563.4h0M407.2 565.1h0M406.1 562.5h0M401.5 562.9h0M412.1 561.2h0M416.3 561.4h0M403.7 566.3h0M413.8 557.3h0M409.4 556.6h0M414.8 565.8h0" stroke="#ee7c3c" stroke-width="1.3" stroke-linecap="round" fill="none"/><path d="M418.1 562.9h0M420.2 561.3h0M418.2 559.7h0M419.2 561.7h0M420.7 562.8h0M422.0 563.4h0M419.0 560.8h0M422.2 562.0h0M419.3 560.6h0M420.6 561.6h0M420.9 561.1h0M422.2 562.7h0M421.0 560.2h0M421.0 562.6h0M421.3 562.7h0M422.4 561.7h0M418.5 562.5h0M421.1 561.9h0" stroke="#6a7280" stroke-width="1.6" stroke-linecap="round" fill="none"/><path d="M429.7 564.7h0M428.3 564.7h0M427.5 565.5h0M427.3 565.3h0M430.3 564.6h0M428.4 565.0h0M428.8 564.8h0M426.8 564.7h0M425.1 564.6h0M429.3 564.7h0M426.4 565.6h0M424.8 565.7h0M429.0 564.0h0" stroke="#6a7280" stroke-width="1.6" stroke-linecap="round" fill="none"/><path d="M436.7 567.1h0M439.5 565.1h0M437.6 563.7h0M438.7 565.4h0M436.3 565.2h0M435.7 566.5h0M435.9 565.8h0M437.6 565.8h0M437.9 564.2h0M437.4 565.2h0M437.1 566.3h0M436.2 565.4h0M437.2 563.5h0" stroke="#6a7280" stroke-width="1.6" stroke-linecap="round" fill="none"/><path d="M444.3 564.7h0M443.6 563.6h0M442.8 563.8h0M443.4 563.0h0M443.3 563.6h0M445.7 564.3h0M445.0 564.4h0M445.1 563.2h0M446.4 563.3h0M448.5 563.8h0M442.1 561.6h0M446.4 564.2h0" stroke="#6a7280" stroke-width="1.6" stroke-linecap="round" fill="none"/><path d="M449.9 562.2h0M449.3 562.4h0M451.5 562.1h0M452.0 560.8h0M450.0 563.7h0M454.0 560.3h0M453.7 562.9h0" stroke="#6a7280" stroke-width="1.6" stroke-linecap="round" fill="none"/><path d="M426.5 557.3h0M422.0 555.7h0M423.6 556.2h0M426.3 557.0h0M423.6 556.2h0M426.2 555.6h0" stroke="#6a7280" stroke-width="1.6" stroke-linecap="round" fill="none"/><ellipse cx="476" cy="591" rx="14" ry="16" transform="rotate(0 476 591)" fill="none" stroke="#2b3550" stroke-width="1.1" stroke-dasharray="2.3 1.9"/><path d="M479.8 594.4h0M469.2 597.6h0M479.9 584.5h0M487.4 599.9h0M475.5 593.3h0M483.8 580.0h0M474.6 582.4h0M469.1 597.6h0M485.0 590.0h0M470.4 598.2h0M481.5 594.4h0M471.8 593.8h0M482.4 600.1h0M482.9 588.0h0M471.8 585.8h0M485.2 587.6h0M467.7 584.5h0M481.2 580.0h0M474.7 596.2h0M467.2 591.4h0M479.6 591.2h0M471.7 591.3h0M486.0 594.7h0M470.7 599.2h0M467.1 586.1h0M475.1 591.5h0M474.5 599.1h0M474.9 596.3h0M482.7 581.2h0M474.1 587.9h0M475.3 593.4h0M477.3 588.0h0M469.5 586.3h0M471.7 594.7h0M476.3 593.2h0M469.8 591.0h0M479.7 590.1h0M472.8 587.7h0M476.1 601.0h0M469.1 588.5h0M484.2 586.1h0M482.4 590.3h0M471.7 597.7h0M483.4 590.9h0M477.4 584.5h0M469.6 589.2h0" stroke="#e35552" stroke-width="1.35" stroke-linecap="round" fill="none"/><circle cx="321.50" cy="620.00" r="2.25" fill="#e35552" /><text x="326.00" y="622.52" font-size="7" textLength="18.00" lengthAdjust="spacingAndGlyphs" stroke="#2b2b2b" stroke-width="0.1">Blasts</text><circle cx="368.50" cy="620.00" r="2.25" fill="#f08a60" /><text x="373.50" y="622.52" font-size="7" textLength="58.20" lengthAdjust="spacingAndGlyphs" stroke="#2b2b2b" stroke-width="0.1">Erythrocytes/other</text><circle cx="444.60" cy="620.00" r="2.25" fill="#9c8a22" /><text x="450.50" y="622.52" font-size="7" textLength="40.50" lengthAdjust="spacingAndGlyphs" stroke="#2b2b2b" stroke-width="0.1">Lymphocytes</text><line x1="29.20" y1="670.00" x2="29.20" y2="727.90" stroke="#222" stroke-width="1.3" /><line x1="28.60" y1="727.30" x2="122.60" y2="727.30" stroke="#222" stroke-width="1.3" /><line x1="26.20" y1="672.45" x2="29.20" y2="672.45" stroke="#222" stroke-width="1" /><text x="10.90" y="674.97" font-size="7.0" fill="#333" textLength="11.10" lengthAdjust="spacingAndGlyphs" stroke="#333" stroke-width="0.1">100</text><line x1="26.20" y1="685.39" x2="29.20" y2="685.39" stroke="#222" stroke-width="1" /><text x="14.60" y="687.91" font-size="7.0" fill="#333" textLength="7.40" lengthAdjust="spacingAndGlyphs" stroke="#333" stroke-width="0.1">75</text><line x1="26.20" y1="698.33" x2="29.20" y2="698.33" stroke="#222" stroke-width="1" /><text x="14.60" y="700.85" font-size="7.0" fill="#333" textLength="7.40" lengthAdjust="spacingAndGlyphs" stroke="#333" stroke-width="0.1">50</text><line x1="26.20" y1="711.26" x2="29.20" y2="711.26" stroke="#222" stroke-width="1" /><text x="14.60" y="713.78" font-size="7.0" fill="#333" textLength="7.40" lengthAdjust="spacingAndGlyphs" stroke="#333" stroke-width="0.1">25</text><line x1="26.20" y1="724.20" x2="29.20" y2="724.20" stroke="#222" stroke-width="1" /><text x="18.30" y="726.72" font-size="7.0" fill="#333" textLength="3.70" lengthAdjust="spacingAndGlyphs" stroke="#333" stroke-width="0.1">0</text><line x1="34.10" y1="727.30" x2="34.10" y2="730.30" stroke="#222" stroke-width="1" /><text x="37.10" y="737.30" font-size="7.2" text-anchor="end" fill="#333" textLength="9.31" lengthAdjust="spacingAndGlyphs" transform="rotate(-45 37.10 737.30)" stroke="#333" stroke-width="0.1">0.1</text><line x1="48.40" y1="727.30" x2="48.40" y2="730.30" stroke="#222" stroke-width="1" /><text x="51.40" y="737.30" font-size="7.2" text-anchor="end" fill="#333" textLength="3.72" lengthAdjust="spacingAndGlyphs" transform="rotate(-45 51.40 737.30)" stroke="#333" stroke-width="0.1">1</text><line x1="62.70" y1="727.30" x2="62.70" y2="730.30" stroke="#222" stroke-width="1" /><text x="65.70" y="737.30" font-size="7.2" text-anchor="end" fill="#333" textLength="7.45" lengthAdjust="spacingAndGlyphs" transform="rotate(-45 65.70 737.30)" stroke="#333" stroke-width="0.1">10</text><line x1="77.00" y1="727.30" x2="77.00" y2="730.30" stroke="#222" stroke-width="1" /><text x="80.00" y="737.30" font-size="7.2" text-anchor="end" fill="#333" textLength="7.45" lengthAdjust="spacingAndGlyphs" transform="rotate(-45 80.00 737.30)" stroke="#333" stroke-width="0.1">30</text><line x1="91.30" y1="727.30" x2="91.30" y2="730.30" stroke="#222" stroke-width="1" /><text x="94.30" y="737.30" font-size="7.2" text-anchor="end" fill="#333" textLength="11.17" lengthAdjust="spacingAndGlyphs" transform="rotate(-45 94.30 737.30)" stroke="#333" stroke-width="0.1">100</text><line x1="105.60" y1="727.30" x2="105.60" y2="730.30" stroke="#222" stroke-width="1" /><text x="108.60" y="737.30" font-size="7.2" text-anchor="end" fill="#333" textLength="11.17" lengthAdjust="spacingAndGlyphs" transform="rotate(-45 108.60 737.30)" stroke="#333" stroke-width="0.1">300</text><line x1="119.90" y1="727.30" x2="119.90" y2="730.30" stroke="#222" stroke-width="1" /><text x="122.90" y="737.30" font-size="7.2" text-anchor="end" fill="#333" textLength="14.90" lengthAdjust="spacingAndGlyphs" transform="rotate(-45 122.90 737.30)" stroke="#333" stroke-width="0.1">1000</text><path d="M34.1 678.8L48.4 682.3L62.7 687.0L77.0 683.8L91.3 687.0L105.6 689.0L119.9 686.2" fill="none" stroke="#ee7a50" stroke-width="1.1"/><circle cx="34.10" cy="678.76" r="1.35" fill="#ee7a50" /><circle cx="48.40" cy="682.28" r="1.35" fill="#ee7a50" /><circle cx="62.70" cy="687.04" r="1.35" fill="#ee7a50" /><circle cx="77.00" cy="683.84" r="1.35" fill="#ee7a50" /><circle cx="91.30" cy="687.04" r="1.35" fill="#ee7a50" /><circle cx="105.60" cy="689.01" r="1.35" fill="#ee7a50" /><circle cx="119.90" cy="686.16" r="1.35" fill="#ee7a50" /><path d="M34.1 677.5L48.4 683.8L62.7 693.5L77.0 685.1L91.3 690.0L105.6 695.7L119.9 687.7" fill="none" stroke="#4e9ca2" stroke-width="1.1"/><circle cx="34.10" cy="677.47" r="1.35" fill="#4e9ca2" /><circle cx="48.40" cy="683.84" r="1.35" fill="#4e9ca2" /><circle cx="62.70" cy="693.46" r="1.35" fill="#4e9ca2" /><circle cx="77.00" cy="685.13" r="1.35" fill="#4e9ca2" /><circle cx="91.30" cy="690.05" r="1.35" fill="#4e9ca2" /><circle cx="105.60" cy="695.74" r="1.35" fill="#4e9ca2" /><circle cx="119.90" cy="687.66" r="1.35" fill="#4e9ca2" /><path d="M34.1 678.8L48.4 689.5L62.7 697.7L77.0 697.3L91.3 699.6L105.6 705.4L119.9 708.8" fill="none" stroke="#dcb52a" stroke-width="1.1"/><circle cx="34.10" cy="678.76" r="1.35" fill="#dcb52a" /><circle cx="48.40" cy="689.53" r="1.35" fill="#dcb52a" /><circle cx="62.70" cy="697.65" r="1.35" fill="#dcb52a" /><circle cx="77.00" cy="697.29" r="1.35" fill="#dcb52a" /><circle cx="91.30" cy="699.57" r="1.35" fill="#dcb52a" /><circle cx="105.60" cy="705.36" r="1.35" fill="#dcb52a" /><circle cx="119.90" cy="708.78" r="1.35" fill="#dcb52a" /><path d="M34.1 676.8L48.4 676.4L62.7 682.3L77.0 679.3L91.3 680.7L105.6 683.8L119.9 688.0" fill="none" stroke="#9c8a22" stroke-width="1.1"/><circle cx="34.10" cy="676.85" r="1.35" fill="#9c8a22" /><circle cx="48.40" cy="676.43" r="1.35" fill="#9c8a22" /><circle cx="62.70" cy="682.28" r="1.35" fill="#9c8a22" /><circle cx="77.00" cy="679.33" r="1.35" fill="#9c8a22" /><circle cx="91.30" cy="680.73" r="1.35" fill="#9c8a22" /><circle cx="105.60" cy="683.84" r="1.35" fill="#9c8a22" /><circle cx="119.90" cy="687.98" r="1.35" fill="#9c8a22" /><path d="M34.1 675.6L48.4 675.6L62.7 680.7L77.0 673.5L91.3 680.0L105.6 686.2L119.9 694.3" fill="none" stroke="#1f5a48" stroke-width="1.1"/><circle cx="34.10" cy="675.56" r="1.35" fill="#1f5a48" /><circle cx="48.40" cy="675.56" r="1.35" fill="#1f5a48" /><circle cx="62.70" cy="680.73" r="1.35" fill="#1f5a48" /><circle cx="77.00" cy="673.49" r="1.35" fill="#1f5a48" /><circle cx="91.30" cy="679.95" r="1.35" fill="#1f5a48" /><circle cx="105.60" cy="686.16" r="1.35" fill="#1f5a48" /><circle cx="119.90" cy="694.34" r="1.35" fill="#1f5a48" /><path d="M34.1 683.3L48.4 697.3L62.7 716.4L77.0 716.4L91.3 717.8L105.6 718.8L119.9 718.8" fill="none" stroke="#e35552" stroke-width="1.1"/><circle cx="34.10" cy="683.32" r="1.35" fill="#e35552" /><circle cx="48.40" cy="697.29" r="1.35" fill="#e35552" /><circle cx="62.70" cy="716.44" r="1.35" fill="#e35552" /><circle cx="77.00" cy="716.44" r="1.35" fill="#e35552" /><circle cx="91.30" cy="717.83" r="1.35" fill="#e35552" /><circle cx="105.60" cy="718.77" r="1.35" fill="#e35552" /><circle cx="119.90" cy="718.77" r="1.35" fill="#e35552" /><text x="55.00" y="656.37" font-size="8.8" textLength="43.00" lengthAdjust="spacingAndGlyphs" stroke="#2b2b2b" stroke-width="0.1">A−1331852</text><text x="7.30" y="698.30" font-size="8.2" text-anchor="middle" fill="#333" textLength="29.40" lengthAdjust="spacingAndGlyphs" transform="rotate(-90 7.30 698.30)" stroke="#333" stroke-width="0.1">% viability</text><text x="49.60" y="759.88" font-size="8.0" fill="#2a2a2a" textLength="55.20" lengthAdjust="spacingAndGlyphs" stroke="#2a2a2a" stroke-width="0.1">Concentration (nM)</text><text x="37.50" y="714.52" font-size="7" textLength="17.90" lengthAdjust="spacingAndGlyphs" stroke="#2b2b2b" stroke-width="0.1">Blasts</text><line x1="156.70" y1="670.00" x2="156.70" y2="728.20" stroke="#222" stroke-width="1.3" /><line x1="156.10" y1="727.60" x2="252.40" y2="727.60" stroke="#222" stroke-width="1.3" /><line x1="153.70" y1="672.45" x2="156.70" y2="672.45" stroke="#222" stroke-width="1" /><text x="141.20" y="674.97" font-size="7.0" fill="#333" textLength="11.10" lengthAdjust="spacingAndGlyphs" stroke="#333" stroke-width="0.1">100</text><line x1="153.70" y1="685.39" x2="156.70" y2="685.39" stroke="#222" stroke-width="1" /><text x="144.90" y="687.91" font-size="7.0" fill="#333" textLength="7.40" lengthAdjust="spacingAndGlyphs" stroke="#333" stroke-width="0.1">75</text><line x1="153.70" y1="698.33" x2="156.70" y2="698.33" stroke="#222" stroke-width="1" /><text x="144.90" y="700.85" font-size="7.0" fill="#333" textLength="7.40" lengthAdjust="spacingAndGlyphs" stroke="#333" stroke-width="0.1">50</text><line x1="153.70" y1="711.26" x2="156.70" y2="711.26" stroke="#222" stroke-width="1" /><text x="144.90" y="713.78" font-size="7.0" fill="#333" textLength="7.40" lengthAdjust="spacingAndGlyphs" stroke="#333" stroke-width="0.1">25</text><line x1="153.70" y1="724.20" x2="156.70" y2="724.20" stroke="#222" stroke-width="1" /><text x="148.60" y="726.72" font-size="7.0" fill="#333" textLength="3.70" lengthAdjust="spacingAndGlyphs" stroke="#333" stroke-width="0.1">0</text><line x1="161.30" y1="727.60" x2="161.30" y2="730.60" stroke="#222" stroke-width="1" /><text x="164.30" y="737.60" font-size="7.2" text-anchor="end" fill="#333" textLength="9.31" lengthAdjust="spacingAndGlyphs" transform="rotate(-45 164.30 737.60)" stroke="#333" stroke-width="0.1">0.1</text><line x1="175.67" y1="727.60" x2="175.67" y2="730.60" stroke="#222" stroke-width="1" /><text x="178.67" y="737.60" font-size="7.2" text-anchor="end" fill="#333" textLength="3.72" lengthAdjust="spacingAndGlyphs" transform="rotate(-45 178.67 737.60)" stroke="#333" stroke-width="0.1">1</text><line x1="190.04" y1="727.60" x2="190.04" y2="730.60" stroke="#222" stroke-width="1" /><text x="193.04" y="737.60" font-size="7.2" text-anchor="end" fill="#333" textLength="7.45" lengthAdjust="spacingAndGlyphs" transform="rotate(-45 193.04 737.60)" stroke="#333" stroke-width="0.1">10</text><line x1="204.41" y1="727.60" x2="204.41" y2="730.60" stroke="#222" stroke-width="1" /><text x="207.41" y="737.60" font-size="7.2" text-anchor="end" fill="#333" textLength="7.45" lengthAdjust="spacingAndGlyphs" transform="rotate(-45 207.41 737.60)" stroke="#333" stroke-width="0.1">30</text><line x1="218.78" y1="727.60" x2="218.78" y2="730.60" stroke="#222" stroke-width="1" /><text x="221.78" y="737.60" font-size="7.2" text-anchor="end" fill="#333" textLength="11.17" lengthAdjust="spacingAndGlyphs" transform="rotate(-45 221.78 737.60)" stroke="#333" stroke-width="0.1">100</text><line x1="233.15" y1="727.60" x2="233.15" y2="730.60" stroke="#222" stroke-width="1" /><text x="236.15" y="737.60" font-size="7.2" text-anchor="end" fill="#333" textLength="11.17" lengthAdjust="spacingAndGlyphs" transform="rotate(-45 236.15 737.60)" stroke="#333" stroke-width="0.1">300</text><line x1="247.52" y1="727.60" x2="247.52" y2="730.60" stroke="#222" stroke-width="1" /><text x="250.52" y="737.60" font-size="7.2" text-anchor="end" fill="#333" textLength="14.90" lengthAdjust="spacingAndGlyphs" transform="rotate(-45 250.52 737.60)" stroke="#333" stroke-width="0.1">1000</text><path d="M161.3 679.7L175.7 683.8L190.0 696.0L204.4 697.9L218.8 703.6L233.2 702.7L247.5 706.9" fill="none" stroke="#9c8a22" stroke-width="1.1"/><circle cx="161.30" cy="679.70" r="1.35" fill="#9c8a22" /><circle cx="175.67" cy="683.84" r="1.35" fill="#9c8a22" /><circle cx="190.04" cy="696.05" r="1.35" fill="#9c8a22" /><circle cx="204.41" cy="697.91" r="1.35" fill="#9c8a22" /><circle cx="218.78" cy="703.60" r="1.35" fill="#9c8a22" /><circle cx="233.15" cy="702.72" r="1.35" fill="#9c8a22" /><circle cx="247.52" cy="706.86" r="1.35" fill="#9c8a22" /><path d="M161.3 673.1L175.7 685.4L190.0 681.2L204.4 679.4L218.8 686.4L233.2 690.3L247.5 692.7" fill="none" stroke="#1f5a48" stroke-width="1.1"/><circle cx="161.30" cy="673.07" r="1.35" fill="#1f5a48" /><circle cx="175.67" cy="685.39" r="1.35" fill="#1f5a48" /><circle cx="190.04" cy="681.25" r="1.35" fill="#1f5a48" /><circle cx="204.41" cy="679.44" r="1.35" fill="#1f5a48" /><circle cx="218.78" cy="686.42" r="1.35" fill="#1f5a48" /><circle cx="233.15" cy="690.25" r="1.35" fill="#1f5a48" /><circle cx="247.52" cy="692.74" r="1.35" fill="#1f5a48" /><path d="M161.3 673.0L175.7 684.0L190.0 678.7L204.4 673.0L218.8 683.5L233.2 681.2L247.5 680.2" fill="none" stroke="#4e9ca2" stroke-width="1.1"/><circle cx="161.30" cy="672.97" r="1.35" fill="#4e9ca2" /><circle cx="175.67" cy="684.04" r="1.35" fill="#4e9ca2" /><circle cx="190.04" cy="678.66" r="1.35" fill="#4e9ca2" /><circle cx="204.41" cy="672.97" r="1.35" fill="#4e9ca2" /><circle cx="218.78" cy="683.52" r="1.35" fill="#4e9ca2" /><circle cx="233.15" cy="681.25" r="1.35" fill="#4e9ca2" /><circle cx="247.52" cy="680.21" r="1.35" fill="#4e9ca2" /><path d="M161.3 673.2L175.7 683.3L190.0 678.9L204.4 673.5L218.8 684.4L233.2 686.1L247.5 694.2" fill="none" stroke="#dcb52a" stroke-width="1.1"/><circle cx="161.30" cy="673.17" r="1.35" fill="#dcb52a" /><circle cx="175.67" cy="683.32" r="1.35" fill="#dcb52a" /><circle cx="190.04" cy="678.87" r="1.35" fill="#dcb52a" /><circle cx="204.41" cy="673.49" r="1.35" fill="#dcb52a" /><circle cx="218.78" cy="684.35" r="1.35" fill="#dcb52a" /><circle cx="233.15" cy="686.06" r="1.35" fill="#dcb52a" /><circle cx="247.52" cy="694.19" r="1.35" fill="#dcb52a" /><path d="M161.3 672.0L175.7 683.6L190.0 676.1L204.4 665.4L218.8 678.7L233.2 679.4L247.5 679.7" fill="none" stroke="#e35552" stroke-width="1.1"/><circle cx="161.30" cy="672.04" r="1.35" fill="#e35552" /><circle cx="175.67" cy="683.58" r="1.35" fill="#e35552" /><circle cx="190.04" cy="676.07" r="1.35" fill="#e35552" /><circle cx="204.41" cy="665.36" r="1.35" fill="#e35552" /><circle cx="218.78" cy="678.66" r="1.35" fill="#e35552" /><circle cx="233.15" cy="679.44" r="1.35" fill="#e35552" /><circle cx="247.52" cy="679.70" r="1.35" fill="#e35552" /><path d="M161.3 671.2L175.7 677.4L190.0 673.1L204.4 671.2L218.8 677.4L233.2 675.6L247.5 676.4" fill="none" stroke="#ee7a50" stroke-width="1.1"/><circle cx="161.30" cy="671.16" r="1.35" fill="#ee7a50" /><circle cx="175.67" cy="677.42" r="1.35" fill="#ee7a50" /><circle cx="190.04" cy="673.07" r="1.35" fill="#ee7a50" /><circle cx="204.41" cy="671.16" r="1.35" fill="#ee7a50" /><circle cx="218.78" cy="677.42" r="1.35" fill="#ee7a50" /><circle cx="233.15" cy="675.56" r="1.35" fill="#ee7a50" /><circle cx="247.52" cy="676.43" r="1.35" fill="#ee7a50" /><text x="184.20" y="656.37" font-size="8.8" textLength="40.80" lengthAdjust="spacingAndGlyphs" stroke="#2b2b2b" stroke-width="0.1">Venetoclax</text><text x="135.00" y="698.30" font-size="8.2" text-anchor="middle" fill="#333" textLength="29.40" lengthAdjust="spacingAndGlyphs" transform="rotate(-90 135.00 698.30)" stroke="#333" stroke-width="0.1">% viability</text><text x="177.00" y="759.88" font-size="8.0" fill="#2a2a2a" textLength="55.70" lengthAdjust="spacingAndGlyphs" stroke="#2a2a2a" stroke-width="0.1">Concentration (nM)</text><text x="204.20" y="712.22" font-size="7" textLength="41.50" lengthAdjust="spacingAndGlyphs" stroke="#2b2b2b" stroke-width="0.1">Lymphocytes</text><line x1="296.00" y1="670.00" x2="296.00" y2="728.00" stroke="#222" stroke-width="1.3" /><line x1="295.40" y1="727.40" x2="390.50" y2="727.40" stroke="#222" stroke-width="1.3" /><line x1="293.00" y1="672.45" x2="296.00" y2="672.45" stroke="#222" stroke-width="1" /><text x="277.70" y="674.97" font-size="7.0" fill="#333" textLength="11.10" lengthAdjust="spacingAndGlyphs" stroke="#333" stroke-width="0.1">100</text><line x1="293.00" y1="685.39" x2="296.00" y2="685.39" stroke="#222" stroke-width="1" /><text x="281.40" y="687.91" font-size="7.0" fill="#333" textLength="7.40" lengthAdjust="spacingAndGlyphs" stroke="#333" stroke-width="0.1">75</text><line x1="293.00" y1="698.33" x2="296.00" y2="698.33" stroke="#222" stroke-width="1" /><text x="281.40" y="700.85" font-size="7.0" fill="#333" textLength="7.40" lengthAdjust="spacingAndGlyphs" stroke="#333" stroke-width="0.1">50</text><line x1="293.00" y1="711.26" x2="296.00" y2="711.26" stroke="#222" stroke-width="1" /><text x="281.40" y="713.78" font-size="7.0" fill="#333" textLength="7.40" lengthAdjust="spacingAndGlyphs" stroke="#333" stroke-width="0.1">25</text><line x1="293.00" y1="724.20" x2="296.00" y2="724.20" stroke="#222" stroke-width="1" /><text x="285.10" y="726.72" font-size="7.0" fill="#333" textLength="3.70" lengthAdjust="spacingAndGlyphs" stroke="#333" stroke-width="0.1">0</text><line x1="301.10" y1="727.40" x2="301.10" y2="730.40" stroke="#222" stroke-width="1" /><text x="304.10" y="737.40" font-size="7.2" text-anchor="end" fill="#333" textLength="13.03" lengthAdjust="spacingAndGlyphs" transform="rotate(-45 304.10 737.40)" stroke="#333" stroke-width="0.1">1.25</text><line x1="315.48" y1="727.40" x2="315.48" y2="730.40" stroke="#222" stroke-width="1" /><text x="318.48" y="737.40" font-size="7.2" text-anchor="end" fill="#333" textLength="13.03" lengthAdjust="spacingAndGlyphs" transform="rotate(-45 318.48 737.40)" stroke="#333" stroke-width="0.1">3.75</text><line x1="329.86" y1="727.40" x2="329.86" y2="730.40" stroke="#222" stroke-width="1" /><text x="332.86" y="737.40" font-size="7.2" text-anchor="end" fill="#333" textLength="13.03" lengthAdjust="spacingAndGlyphs" transform="rotate(-45 332.86 737.40)" stroke="#333" stroke-width="0.1">12.5</text><line x1="344.24" y1="727.40" x2="344.24" y2="730.40" stroke="#222" stroke-width="1" /><text x="347.24" y="737.40" font-size="7.2" text-anchor="end" fill="#333" textLength="13.03" lengthAdjust="spacingAndGlyphs" transform="rotate(-45 347.24 737.40)" stroke="#333" stroke-width="0.1">37.5</text><line x1="358.62" y1="727.40" x2="358.62" y2="730.40" stroke="#222" stroke-width="1" /><text x="361.62" y="737.40" font-size="7.2" text-anchor="end" fill="#333" textLength="11.17" lengthAdjust="spacingAndGlyphs" transform="rotate(-45 361.62 737.40)" stroke="#333" stroke-width="0.1">125</text><line x1="373.00" y1="727.40" x2="373.00" y2="730.40" stroke="#222" stroke-width="1" /><text x="376.00" y="737.40" font-size="7.2" text-anchor="end" fill="#333" textLength="11.17" lengthAdjust="spacingAndGlyphs" transform="rotate(-45 376.00 737.40)" stroke="#333" stroke-width="0.1">375</text><line x1="387.38" y1="727.40" x2="387.38" y2="730.40" stroke="#222" stroke-width="1" /><text x="390.38" y="737.40" font-size="7.2" text-anchor="end" fill="#333" textLength="14.90" lengthAdjust="spacingAndGlyphs" transform="rotate(-45 390.38 737.40)" stroke="#333" stroke-width="0.1">1250</text><path d="M301.1 673.0L315.5 674.3L329.9 672.5L344.2 672.5L358.6 671.7L373.0 674.3L387.4 672.2" fill="none" stroke="#9c8a22" stroke-width="1.1"/><circle cx="301.10" cy="672.97" r="1.35" fill="#9c8a22" /><circle cx="315.48" cy="674.26" r="1.35" fill="#9c8a22" /><circle cx="329.86" cy="672.45" r="1.35" fill="#9c8a22" /><circle cx="344.24" cy="672.45" r="1.35" fill="#9c8a22" /><circle cx="358.62" cy="671.67" r="1.35" fill="#9c8a22" /><circle cx="373.00" cy="674.26" r="1.35" fill="#9c8a22" /><circle cx="387.38" cy="672.19" r="1.35" fill="#9c8a22" /><path d="M301.1 669.9L315.5 674.3L329.9 675.6L344.2 674.3L358.6 674.3L373.0 676.8L387.4 683.3" fill="none" stroke="#ee7a50" stroke-width="1.1"/><circle cx="301.10" cy="669.86" r="1.35" fill="#ee7a50" /><circle cx="315.48" cy="674.26" r="1.35" fill="#ee7a50" /><circle cx="329.86" cy="675.56" r="1.35" fill="#ee7a50" /><circle cx="344.24" cy="674.26" r="1.35" fill="#ee7a50" /><circle cx="358.62" cy="674.26" r="1.35" fill="#ee7a50" /><circle cx="373.00" cy="676.85" r="1.35" fill="#ee7a50" /><circle cx="387.38" cy="683.32" r="1.35" fill="#ee7a50" /><path d="M301.1 664.2L315.5 681.8L329.9 677.1L344.2 701.4L358.6 714.9L373.0 719.1L387.4 721.7" fill="none" stroke="#e35552" stroke-width="1.1"/><circle cx="301.10" cy="664.17" r="1.35" fill="#e35552" /><circle cx="315.48" cy="681.77" r="1.35" fill="#e35552" /><circle cx="329.86" cy="677.11" r="1.35" fill="#e35552" /><circle cx="344.24" cy="701.43" r="1.35" fill="#e35552" /><circle cx="358.62" cy="714.88" r="1.35" fill="#e35552" /><circle cx="373.00" cy="719.13" r="1.35" fill="#e35552" /><circle cx="387.38" cy="721.72" r="1.35" fill="#e35552" /><text x="322.50" y="656.37" font-size="8.8" textLength="43.00" lengthAdjust="spacingAndGlyphs" stroke="#2b2b2b" stroke-width="0.1">A−1331852</text><text x="274.30" y="698.30" font-size="8.2" text-anchor="middle" fill="#333" textLength="29.40" lengthAdjust="spacingAndGlyphs" transform="rotate(-90 274.30 698.30)" stroke="#333" stroke-width="0.1">% viability</text><text x="317.00" y="759.88" font-size="8.0" fill="#2a2a2a" textLength="55.00" lengthAdjust="spacingAndGlyphs" stroke="#2a2a2a" stroke-width="0.1">Concentration (nM)</text><text x="332.80" y="715.52" font-size="7" textLength="17.20" lengthAdjust="spacingAndGlyphs" stroke="#2b2b2b" stroke-width="0.1">Blasts</text><line x1="424.10" y1="670.00" x2="424.10" y2="728.00" stroke="#222" stroke-width="1.3" /><line x1="423.50" y1="727.40" x2="520.00" y2="727.40" stroke="#222" stroke-width="1.3" /><line x1="421.10" y1="672.45" x2="424.10" y2="672.45" stroke="#222" stroke-width="1" /><text x="405.80" y="674.97" font-size="7.0" fill="#333" textLength="11.10" lengthAdjust="spacingAndGlyphs" stroke="#333" stroke-width="0.1">100</text><line x1="421.10" y1="685.39" x2="424.10" y2="685.39" stroke="#222" stroke-width="1" /><text x="409.50" y="687.91" font-size="7.0" fill="#333" textLength="7.40" lengthAdjust="spacingAndGlyphs" stroke="#333" stroke-width="0.1">75</text><line x1="421.10" y1="698.33" x2="424.10" y2="698.33" stroke="#222" stroke-width="1" /><text x="409.50" y="700.85" font-size="7.0" fill="#333" textLength="7.40" lengthAdjust="spacingAndGlyphs" stroke="#333" stroke-width="0.1">50</text><line x1="421.10" y1="711.26" x2="424.10" y2="711.26" stroke="#222" stroke-width="1" /><text x="409.50" y="713.78" font-size="7.0" fill="#333" textLength="7.40" lengthAdjust="spacingAndGlyphs" stroke="#333" stroke-width="0.1">25</text><line x1="421.10" y1="724.20" x2="424.10" y2="724.20" stroke="#222" stroke-width="1" /><text x="413.20" y="726.72" font-size="7.0" fill="#333" textLength="3.70" lengthAdjust="spacingAndGlyphs" stroke="#333" stroke-width="0.1">0</text><line x1="428.50" y1="727.40" x2="428.50" y2="730.40" stroke="#222" stroke-width="1" /><text x="431.50" y="737.40" font-size="7.2" text-anchor="end" fill="#333" textLength="13.03" lengthAdjust="spacingAndGlyphs" transform="rotate(-45 431.50 737.40)" stroke="#333" stroke-width="0.1">1.25</text><line x1="442.90" y1="727.40" x2="442.90" y2="730.40" stroke="#222" stroke-width="1" /><text x="445.90" y="737.40" font-size="7.2" text-anchor="end" fill="#333" textLength="13.03" lengthAdjust="spacingAndGlyphs" transform="rotate(-45 445.90 737.40)" stroke="#333" stroke-width="0.1">3.75</text><line x1="457.30" y1="727.40" x2="457.30" y2="730.40" stroke="#222" stroke-width="1" /><text x="460.30" y="737.40" font-size="7.2" text-anchor="end" fill="#333" textLength="13.03" lengthAdjust="spacingAndGlyphs" transform="rotate(-45 460.30 737.40)" stroke="#333" stroke-width="0.1">12.5</text><line x1="471.70" y1="727.40" x2="471.70" y2="730.40" stroke="#222" stroke-width="1" /><text x="474.70" y="737.40" font-size="7.2" text-anchor="end" fill="#333" textLength="13.03" lengthAdjust="spacingAndGlyphs" transform="rotate(-45 474.70 737.40)" stroke="#333" stroke-width="0.1">37.5</text><line x1="486.10" y1="727.40" x2="486.10" y2="730.40" stroke="#222" stroke-width="1" /><text x="489.10" y="737.40" font-size="7.2" text-anchor="end" fill="#333" textLength="11.17" lengthAdjust="spacingAndGlyphs" transform="rotate(-45 489.10 737.40)" stroke="#333" stroke-width="0.1">125</text><line x1="500.50" y1="727.40" x2="500.50" y2="730.40" stroke="#222" stroke-width="1" /><text x="503.50" y="737.40" font-size="7.2" text-anchor="end" fill="#333" textLength="11.17" lengthAdjust="spacingAndGlyphs" transform="rotate(-45 503.50 737.40)" stroke="#333" stroke-width="0.1">375</text><line x1="514.90" y1="727.40" x2="514.90" y2="730.40" stroke="#222" stroke-width="1" /><text x="517.90" y="737.40" font-size="7.2" text-anchor="end" fill="#333" textLength="14.90" lengthAdjust="spacingAndGlyphs" transform="rotate(-45 517.90 737.40)" stroke="#333" stroke-width="0.1">1250</text><path d="M428.5 670.4L442.9 673.7L457.3 673.7L471.7 677.3L486.1 681.4L500.5 699.4L514.9 710.2" fill="none" stroke="#9c8a22" stroke-width="1.1"/><circle cx="428.50" cy="670.38" r="1.35" fill="#9c8a22" /><circle cx="442.90" cy="673.74" r="1.35" fill="#9c8a22" /><circle cx="457.30" cy="673.74" r="1.35" fill="#9c8a22" /><circle cx="471.70" cy="677.31" r="1.35" fill="#9c8a22" /><circle cx="486.10" cy="681.40" r="1.35" fill="#9c8a22" /><circle cx="500.50" cy="699.36" r="1.35" fill="#9c8a22" /><circle cx="514.90" cy="710.23" r="1.35" fill="#9c8a22" /><path d="M428.5 664.7L442.9 665.2L457.3 672.2L471.7 665.2L486.1 679.4L500.5 674.7L514.9 671.2" fill="none" stroke="#e35552" stroke-width="1.1"/><circle cx="428.50" cy="664.69" r="1.35" fill="#e35552" /><circle cx="442.90" cy="665.21" r="1.35" fill="#e35552" /><circle cx="457.30" cy="672.24" r="1.35" fill="#e35552" /><circle cx="471.70" cy="665.21" r="1.35" fill="#e35552" /><circle cx="486.10" cy="679.44" r="1.35" fill="#e35552" /><circle cx="500.50" cy="674.73" r="1.35" fill="#e35552" /><circle cx="514.90" cy="671.16" r="1.35" fill="#e35552" /><path d="M428.5 669.7L442.9 665.2L457.3 662.7L471.7 670.5L486.1 667.1L500.5 669.7L514.9 673.0" fill="none" stroke="#ee7a50" stroke-width="1.1"/><circle cx="428.50" cy="669.66" r="1.35" fill="#ee7a50" /><circle cx="442.90" cy="665.21" r="1.35" fill="#ee7a50" /><circle cx="457.30" cy="662.72" r="1.35" fill="#ee7a50" /><circle cx="471.70" cy="670.48" r="1.35" fill="#ee7a50" /><circle cx="486.10" cy="667.07" r="1.35" fill="#ee7a50" /><circle cx="500.50" cy="669.66" r="1.35" fill="#ee7a50" /><circle cx="514.90" cy="672.97" r="1.35" fill="#ee7a50" /><text x="451.70" y="656.37" font-size="8.8" textLength="40.50" lengthAdjust="spacingAndGlyphs" stroke="#2b2b2b" stroke-width="0.1">Venetoclax</text><text x="403.00" y="698.30" font-size="8.2" text-anchor="middle" fill="#333" textLength="29.40" lengthAdjust="spacingAndGlyphs" transform="rotate(-90 403.00 698.30)" stroke="#333" stroke-width="0.1">% viability</text><text x="445.30" y="759.88" font-size="8.0" fill="#2a2a2a" textLength="52.00" lengthAdjust="spacingAndGlyphs" stroke="#2a2a2a" stroke-width="0.1">Concentration (nM)</text><text x="467.20" y="711.12" font-size="7" textLength="39.90" lengthAdjust="spacingAndGlyphs" stroke="#2b2b2b" stroke-width="0.1">Lymphocytes</text></svg></body></html>
